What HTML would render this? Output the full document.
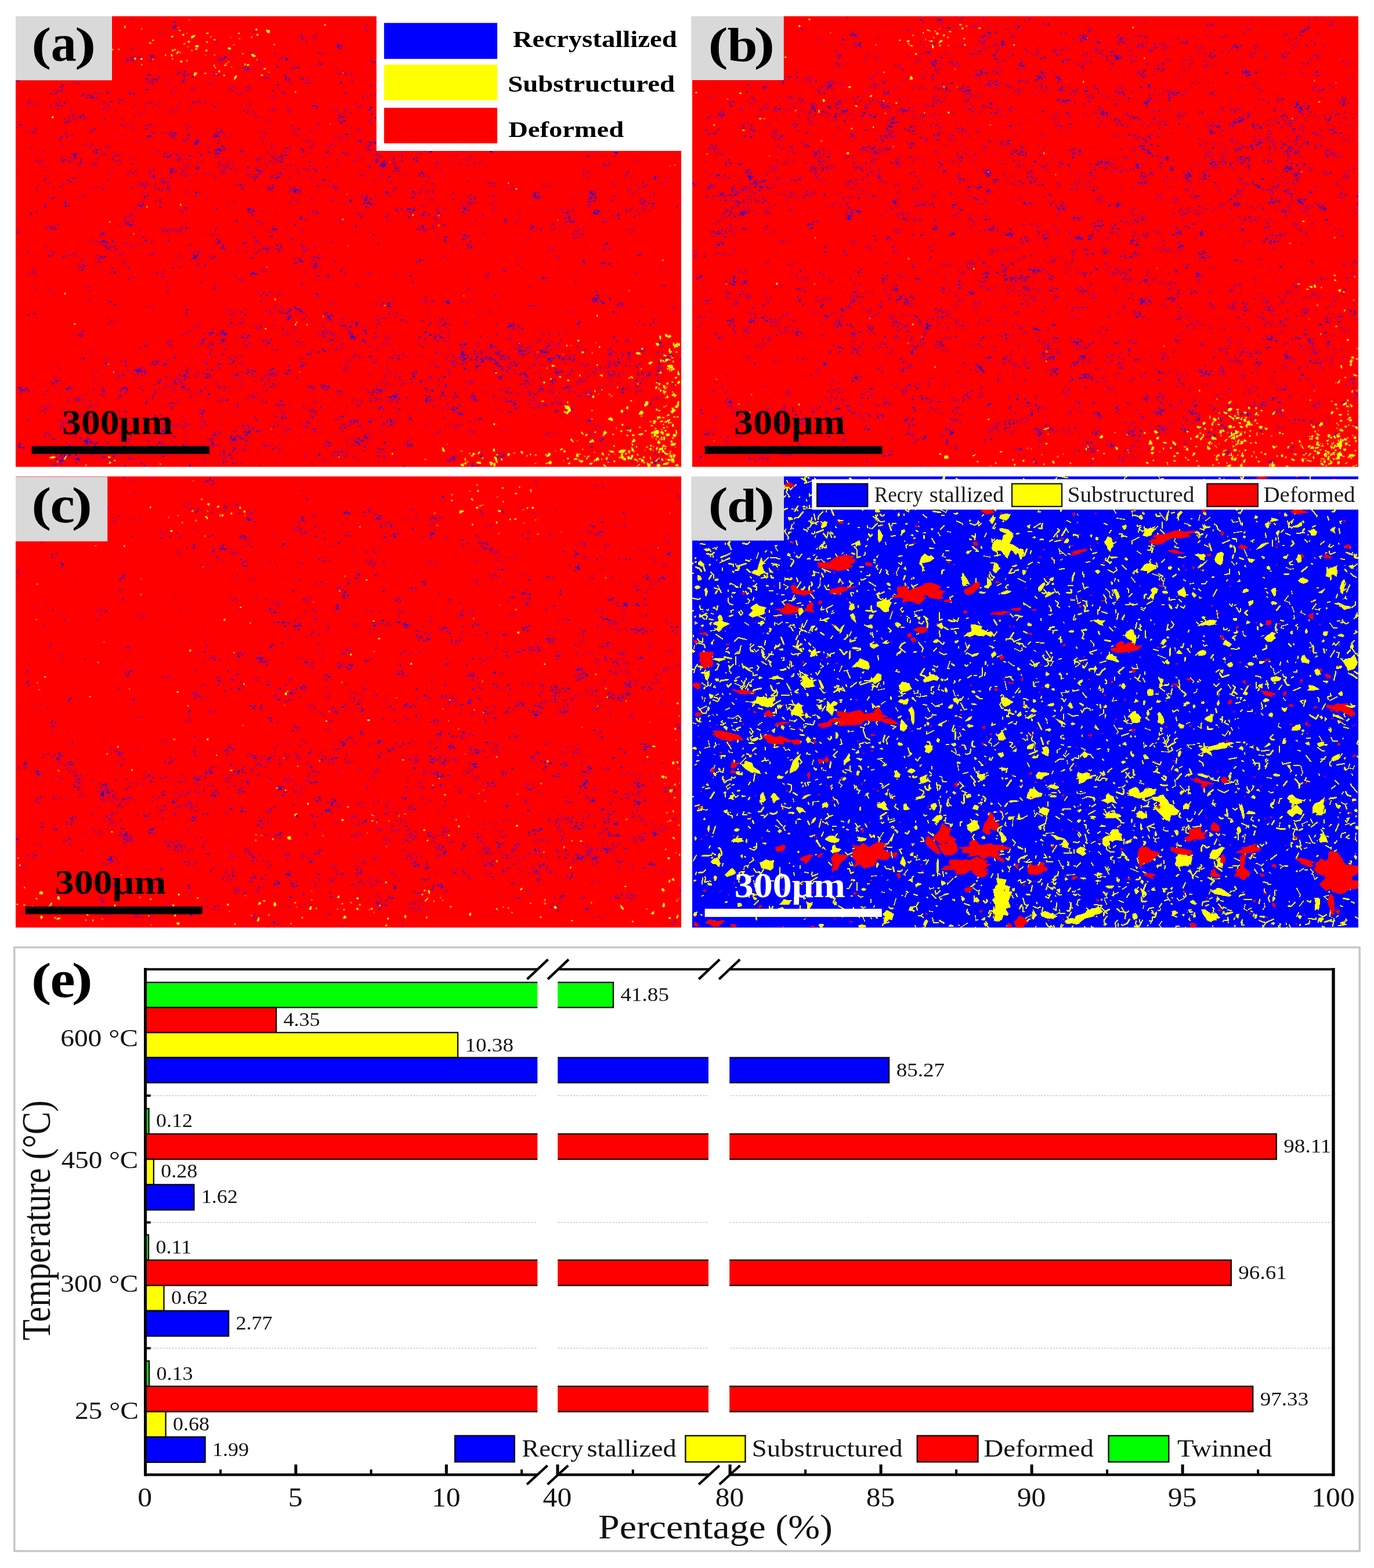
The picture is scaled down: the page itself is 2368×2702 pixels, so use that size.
<!DOCTYPE html>
<html lang="en"><head><meta charset="utf-8"><title>Figure</title>
<style>
html,body{margin:0;padding:0;background:#fff;}
html{width:2368px;height:2702px;}
body{width:2368px;height:2702px;position:relative;}
svg{display:block;font-family:"Liberation Serif","DejaVu Serif",serif;}
text{white-space:pre;}
</style></head><body>
<svg width="2368" height="2702" viewBox="0 0 2368 2702">
<rect width="2368" height="2702" fill="#fff"/>
<rect x="27.00" y="28.00" width="1147.00" height="776.50" fill="#ff0000"/>
<clipPath id="cpa"><rect x="27" y="28" width="1147" height="776.5"/></clipPath>
<g clip-path="url(#cpa)" fill="none" transform="translate(.3 .4)">
<path d="M478 34h4m175 3h2m-5 1h2m40-3h3m352 3h2m61 30h4m-114-11h2m-50-12h2m-14 29h2m-80-31h4m-4 1h4m-119 31h3m-26 2h2m-35-34h2m2 0h2m-16 1h2m-3 1h2m-4 30h2m-18 4h3m-41-32h2m-64 14h3m7 16h2m-35-20h2m-5 4h2m-21 4h2m21 2h2m10 1h2m-52-8h2m7 1h4m-222-18h2m-2 6h3m-155 29h2m-79 0h2m-4 1h3m1 38h2m25-1h3m55-27h4m-6 3h2m4 0h2m4 3h2m49 6h2m17 1h2m-7 6h4m23-11h2m6 9h2m109-8h4m0 2h3m8 2h4m-15 4h3m-12 12h2m62-26h2m-16 24h2m24-6h4m23 1h2m7-10h2m6 0h2m1 2h2m16 10h2m-11 1h4m42-22h2m3 2h3m-3 1h2m82 11h3m4-19h2m-3 23h2m56-12h2m-1 0h2m-4 3h2m10 14h3m206-23h2m-3 14h2m41 5h2m73-24h2m-7 5h2m4-11h2m-2 2h4m7 4h2m-9 6h2m92 19h2m-1 0h2m-7 2h3m1 0h4m0 11h2m-30 21h3m-114-12h2m3 5h2m-13 8h2m-1 0h2m-192-22h2m-54 27h3m-7 4h2m-74-27h2m-26-1h3m18 0h2m-6 3h4m-52-9h2m-16 10h4m-9 8h4m-15-14h3m-16 2h2m-56 13h2m0 8h2m-40-21h2m20 4h3m0 5h2m-64-7h2m-11 7h2m7 0h2m-86-11h3m-6 19h3m26 9h2m-70-26h2m26 14h2m-29 12h2m-9 4h2m8 0h2m-19-28h4m-24 3h2m18 6h2m-3 2h2m-17 16h2m-36-22h4m-15 3h2m-74-17h3m-1 1h2m-5 37h4m-62-15h3m3 0h3m-34-24h2m4 6h2m-13 27h3m9 0h2m-11 1h2m-5 1h3m-70-19h2m18 39h4m-4 0h2m3 1h2m12 5h3m36-20h2m-5 16h2m-5 4h3m40-18h4m-3 33h3m14-35h4m9 0h4m-10 9h2m11 7h2m-4 4h2m-2 1h2m-5 17h2m53-38h2m0 7h2m-12 3h2m-17 1h3m2 4h4m38-1h3m3 0h2m-16 9h4m49-24h3m-4 28h3m-3 4h4m39-19h4m-1 1h2m-2 2h3m7 0h3m-24 1h3m80-13h3m0 14h2m-8 3h4m8 8h3m44-29h2m1 8h4m-13 2h4m-3 1h4m18 17h2m2 1h3m2 3h2m45-5h2m49-27h2m-6 29h4m-3 2h3m-9 5h4m38-31h4m-32 28h2m45-32h2m3 1h4m-13 8h2m84 4h4m8 9h2m93-16h2m66 29h4m35-33h2m-12 4h4m41 2h2m15 18h4m-3 0h2m134 2h2m9 7h3m23 30h3m-76 9h2m-40-28h2m-167-6h2m-7 1h2m1 1h2m2 1h2m-16 7h3m-3 26h2m-6-35h4m-11 17h2m-4 3h2m8 10h3m-145-18h2m3 0h3m6 0h2m-65-14h2m-1 2h3m-6 1h3m-3 22h4m3 9h2m0 3h2m-31-20h2m-6 3h3m4 19h2m-56-19h2m-2 7h2m2 0h4m-49-27h3m14 6h2m-12 1h2m12 1h2m-5 3h2m-7 2h2m8 2h2m-4 1h4m-19 6h2m0 14h2m-34-26h2m-7 4h2m-3 4h2m-13 8h4m-31-4h2m-1 2h2m-68-24h3m-3 0h2m-1 2h4m6 0h2m2 6h2m-4 5h2m-9 13h3m-2 9h2m-79-7h3m-6 3h2m3 1h2m-2 0h3m-1 3h2m-79-5h2m-43-14h2m-2 3h2m-1 4h4m16 4h2m-19 1h2m0 8h2m-36-23h2m-7 2h2m-18 16h2m1 2h2m-81-31h2m18 27h4m-48-25h2m6 4h2m0 3h2m-10 19h3m-66-19h2m8 15h2m-1 0h2m0 3h4m-32-14h2m21 41h2m-2 5h2m-2 2h3m10 11h3m-12 3h4m56-28h2m-30 3h2m6 5h2m11 18h2m43-29h2m0 16h4m-29 1h2m62-23h4m-37 17h2m-5 1h2m7 0h2m22 5h2m-6 1h2m0 15h2m15-16h3m-10 6h2m7 2h3m9 5h2m87-36h2m4 1h4m-4 2h2m-16 18h2m-5 13h2m34-32h2m-1 2h3m-9 9h3m8 12h2m-20 2h2m2 3h2m2 6h2m39-12h4m6 10h2m52-6h2m-10 2h2m17-22h2m14 7h3m-9 5h2m4 9h4m-1 4h2m8 3h4m-40 1h2m74-20h3m-39 9h2m5 0h3m-10 5h2m-3 7h2m36-38h2m8 7h2m3 5h4m-5 4h2m-15 5h2m9 2h3m57-23h2m-18 1h4m3 2h2m-22 6h2m1 2h3m-2 1h2m-2 3h2m2 1h2m19 9h2m13-11h2m20 2h3m-18 1h4m-2 9h2m-1 2h2m3 5h4m52-27h2m-24 1h2m19 2h2m-19 1h2m-12 20h2m-9 5h4m27 2h2m-18 1h3m31-20h2m19 19h3m-25 2h4m37-21h3m58-11h2m3 1h2m-3 4h2m-31 18h2m2 7h4m76-18h2m44-11h2m2 7h4m139 20h2m53-26h2m-2 29h4m16-34h2m4 6h2m4 0h2m-8 3h2m16 47h4m-15 6h4m-10 1h2m0 0h2m-8 1h2m19 8h2m-8 3h3m-45-39h2m11 9h4m-27 21h4m-44-28h3m-31 16h3m-89 19h4m-90-3h4m3 2h2m-41-6h2m-22-30h4m-9 1h3m-14 4h2m-19 14h4m-16-16h4m-30 16h4m23 0h2m-6 3h2m-12 3h3m-56-23h2m-3 1h2m-1 36h2m-11-38h4m-25 2h2m-13 6h4m28 5h3m0 1h2m-3 1h2m-11 12h2m-32-28h2m-10 7h4m-2 0h2m-52-4h2m-4 25h2m-57-17h4m3 2h4m-13 13h2m29 6h2m-61-28h2m5 1h3m3 5h2m-26 10h2m-16-15h2m-20 7h2m-3 3h2m-6 3h3m-6 2h4m24 2h3m-28 3h2m14 0h3m-26-16h4m-4 6h2m-13 10h2m-19 13h2m-24-32h3m-2 0h4m-5 1h2m4 5h4m-20 2h4m-5 3h2m0 0h2m-19 2h3m2 4h2m-50-16h2m13 14h2m-12 2h3m-37-14h2m23 7h3m-7 1h2m-20 6h2m-13 4h2m4 6h3m-6 1h3m-5 2h2m-32-20h2m0 1h3m-3 1h2m-18 17h4m1 1h2m-1 1h2m27 1h2m-77-37h2m1 3h3m18 7h2m0 5h2m-14 12h2m6 1h2m11 4h4m-31 2h2m-43-35h2m-4 5h2m-25 0h2m-18 21h2m5 1h2m-10 8h2m16 0h4m-67-28h2m1 7h2m-2 8h2m33 11h3m-53-32h2m4 12h2m-3 9h2m-1 7h2m-7 4h2m3 0h2m-13 9h2m12 35h4m3-19h2m-3 1h2m27 8h4m-10 4h2m4 1h4m-15 4h2m56-35h2m14-1h4m-6 2h2m-10 5h2m50-4h2m2 2h2m42-3h2m-18 10h2m4 0h3m-10 6h3m-5 9h4m37-27h4m0 0h2m-4 7h2m47 2h3m58 17h4m-14 1h3m-23 3h3m-3 7h2m87-37h2m3 1h4m-2 2h2m-7 3h2m2 1h2m50-7h2m-3 4h2m-10 1h2m8 1h4m-11 2h4m-17 2h4m13 0h2m1 0h4m-16 12h2m2 5h2m70-26h2m12 31h2m33-15h4m-19 1h3m13 0h2m4 5h2m-38 3h4m26 3h2m-5 3h2m46-22h2m-26 7h2m-9 16h3m-7 5h4m69-25h2m-18 8h2m32-13h2m4 0h2m-20 23h3m28 6h2m-3 1h3m-2 1h3m32-5h2m0 3h2m9 0h2m-38 2h2m30 0h4m8-18h4m-3 5h2m-5 1h2m11 1h2m-7 1h3m-4 3h2m-6 1h2m-5 1h4m41-34h2m27 7h4m-40 25h4m35-29h2m1 1h4m7 3h2m11 5h2m6 5h2m0 3h2m5-9h2m-2 1h4m-3 4h3m7 22h2m1 1h2m35-33h2m-3 6h2m0 12h4m4 7h2m25-16h2m10 8h2m-13 5h2m-5 9h2m5 2h3m87-36h4m-6 32h2m-2 3h2m19-16h2m0 8h2m-8 6h4m-5 2h2m2 1h3m-33 3h2m-20 3h4m-16 5h4m-16 2h4m-3 2h2m-11 6h2m22 13h4m-38-27h2m-14 3h4m2 1h2m-29 24h3m-3 5h3m-20-39h2m-19 6h2m24 3h2m-3 1h2m-21 3h2m0 1h2m-8 1h3m3 5h4m-4 2h2m-7 1h4m-1 4h2m13 1h3m-30 1h4m21 9h2m1 1h2m-38-39h2m0 4h3m-8 25h2m-8 2h2m-40-1h2m3 0h2m-2 1h4m-116-29h2m3 4h2m-1 6h2m25 6h2m-53-8h2m-34-9h2m-29 10h4m5 2h3m13 1h2m5 11h2m-7 5h2m-26 4h3m10 0h2m1 0h2m-16 5h2m0 0h2m0 0h3m-38-36h2m-3 3h4m-5 8h2m20 19h4m-63-24h2m13 2h2m-67-11h2m11 8h4m-41 13h2m-1 1h2m-4 1h2m-48-21h2m-20 12h3m-8 3h2m-64-14h2m17 6h4m-12 5h2m9 15h2m-6 2h2m-4 1h3m-13 1h2m9 1h4m0 1h2m-6 3h3m-39-37h2m-7 1h2m5 33h2m-38 4h2m-83-14h2m-9 5h4m-7 5h4m-17 1h2m10 0h4m-41-6h2m5 3h3m-67-19h2m-3 10h4m-7 3h2m27 10h4m-69-33h2m-89 27h2m3 4h4m-4 3h2m-24-26h2m-11 6h2m-5 2h2m16 11h2m-29 18h3m37 22h2m65-19h2m-11 23h3m25-32h4m9 8h2m-27 5h2m8 2h2m11 6h3m-5 5h2m-6 2h2m38-20h2m1 9h2m-7 1h2m9 2h4m-31 1h3m24 6h2m0 4h4m16-28h2m-9 3h3m21 8h2m-5 16h2m-2 2h3m24-33h2m20 1h3m-26 33h2m56-35h2m1 1h4m-29 17h2m-4 9h2m11 5h3m-3 0h2m1 4h2m-3 2h2m40-24h2m-8 1h4m-9 2h2m2 0h2m-1 0h2m-6 1h2m8 1h2m-14 1h3m8 0h2m3 9h2m-11 1h2m7 4h2m1 0h2m41-34h2m-1 29h2m-8 1h2m39-5h2m-21 2h3m4 2h2m-14 3h2m2 6h4m30-20h2m1 4h2m31 4h2m-36 2h4m34-29h2m-3 15h2m-3 5h2m9 8h4m-13 7h2m8 4h2m109-35h4m-3 15h2m83-17h4m30 7h2m0 3h2m14 12h3m54-19h4m-42 3h4m-3 1h2m-2 1h2m6 12h2m-6 1h2m46-13h3m-13 3h4m63-7h3m-21 1h2m20 1h2m-26 4h2m14 0h4m-13 2h3m44 14h3m-9 9h3m51-36h3m-7 3h4m-21 1h2m9 0h2m10 0h2m-19 4h2m7 18h4m48-6h2m-9 4h2m-25 1h2m-6 2h2m33 6h2m92 31h2m-42 4h2m-2 0h4m-2 7h2m-57-22h2m9 0h2m-17-1h2m-99 2h2m-46-12h4m-31 18h2m-31 15h4m-49-12h2m-69-5h2m-14-10h3m0 1h2m-5 2h3m-1 23h2m-148 1h2m-24-36h4m-16 3h2m6 1h2m-2 1h4m-3 0h2m7 0h2m-22 8h2m8 5h4m-4 5h3m-8 8h3m-31-26h2m-16 2h3m-45 7h4m10 6h2m-19 6h2m1 2h3m-97-28h4m32 9h2m-10 20h4m-50-25h2m2 6h2m-10 5h2m9 3h4m-46-15h2m-6 1h2m-20 22h2m-17-3h2m-65-23h2m-4 5h3m-1 4h3m3 5h3m1 4h4m-52-16h3m-13 3h4m4 2h4m-9 1h2m0 3h4m-1 12h4m-9 1h2m-28-16h2m-4 6h3m2 7h3m-9 2h4m-80 9h3m-3 27h2m40 10h2m250-26h2m-11 2h4m19 1h2m2 5h3m-10 4h2m-1 3h2m52-14h2m14 28h2m18-8h3m13 2h2m-14 2h3m2 2h2m53-22h3m-5 1h2m17-4h4m-9 5h2m29-6h2m29 33h4m138 2h2m69-26h2m-7 5h2m1 1h4m0 13h2m3 5h4m38-9h4m-7 8h3m170-7h3m2 1h2m-21 1h4m14 2h3m-14 3h2m40 0h2m98-24h2m7 37h2m0 4h2m-48 17h2m-37-26h2m-23-2h2m-7 6h2m-33-2h2m-53 4h2m6 1h3m-18 4h4m-65-9h3m-2 5h2m-77 0h2m-1 6h3m-1 2h4m-16-1h2m-72 10h3m-7 1h4m-62 4h4m-37-32h3m0 1h2m-2 6h4m3 12h4m-75 13h4m-37-30h2m-11 22h4m-1 0h2m2 7h2m16 1h2m-6 1h2m-4 3h2m-4 1h2m-61-18h3m3 5h4m18 13h4m-56-27h3m17 4h2m-34 3h2m25 1h2m-17 7h3m2 1h2m2 11h2m-54-27h2m16 0h3m-17 2h2m13 1h2m-5 4h4m-27 12h2m1 3h3m-32-20h3m-4 1h2m3 1h2m-21 2h4m5 11h4m-4 1h2m-3 6h2m-24-22h2m-13 8h2m14 0h3m-1 16h2m-53-29h2m-21 10h2m-10 4h3m-2 1h2m-6-13h2m-62-2h4m1 2h2m-80-9h2m2 0h3m-9 28h4m2 6h2m-157-23h2m102 39h4m-7 5h2m4 2h2m-9 2h4m119 0h2m-9 6h3m-11 11h2m71-21h3m11-8h2m-2 2h2m15 17h3m-9 5h2m12 2h2m-23 2h3m61-35h3m-1 0h3m-38 7h2m0 6h2m23 0h2m-13 9h2m-16 11h4m35-34h4m2 13h2m21 0h2m-23 9h2m3 10h2m-1 2h3m-1 1h2m42-30h4m-2 31h4m24-30h2m12 0h3m-9 2h4m-4 3h2m-16 1h2m0 6h2m8 1h2m10 17h2m0 0h2m28-30h2m-1 10h2m47-10h4m-39 2h2m-1 1h2m14 2h2m-8 5h2m3 0h2m-4 6h3m-4 2h2m6 2h2m-5 2h2m-9 6h2m57-32h3m-32 7h4m24 0h2m-24 12h4m21 12h2m14-12h3m-8 3h3m20 0h2m-23 1h2m-7 1h2m23 5h3m48-3h3m-2 3h2m-11 3h4m38-18h3m19-1h2m-12 8h4m27 5h2m-22 11h2m101-38h2m-4 3h2m-19 7h3m7 16h2m-8 5h2m21-30h4m-6 3h2m15 10h2m12 6h3m-26 14h2m0 3h2m3 0h4m30-26h2m12 5h2m-16 1h2m10 4h3m-6 8h2m2 3h2m0 3h2m51-36h2m-5 3h4m-27 14h2m-15 14h4m94-7h2m21 1h2m60 12h2m15 14h2m4 4h2m1 24h4m-40-32h4m17 5h2m-8 4h4m6 2h2m-29 5h2m5 7h2m-5 2h2m0 3h2m-25-34h2m-30 2h2m17 0h2m-20 4h3m17 0h2m1 1h2m-25 1h2m0 6h2m-8 1h4m12 11h2m-8 1h3m-12 2h2m-40-30h2m4 2h2m2 6h2m-2 12h2m5 3h3m-20 2h3m4 0h3m1 0h2m9 3h2m-15 3h4m-11 1h2m23 0h2m-29 2h2m24 3h2m-29 2h2m-46-34h2m4 18h2m-5 3h2m15 3h2m-43-26h2m-4 2h3m-16 1h2m7 0h2m3 4h2m-21 1h2m17 0h4m15 3h2m-19 1h3m1 0h2m-15 2h2m7 1h3m2 0h2m-24 8h2m-18-25h2m-8 6h4m-2 2h2m11 3h2m-14 6h2m-4 2h2m2 2h2m-4 4h3m0 5h4m-23 6h2m-36-35h2m-6 2h2m-5 6h2m15 1h4m-9 1h4m-16 11h2m-5 1h3m3 1h2m-7 2h4m-9 2h2m4 2h2m12 2h4m-60-32h4m14 2h2m-10 2h2m-5 1h3m1 4h3m14 5h4m-33 1h4m13 2h2m-23 1h2m-1 4h2m34 6h4m-18 6h4m-29-34h4m-14 2h4m-1 3h2m-23 2h2m11 0h2m2 1h2m0 0h4m6 13h3m-12 1h4m-17 7h2m-1 3h2m-56-19h4m13 7h4m11 3h2m-10 9h2m-62-25h2m-9 3h4m-5 2h2m24 11h3m-65-20h2m-5 33h2m-5-26h4m-40 4h2m32 1h2m-6 1h4m-75-15h2m10 7h2m0 1h2m-5 1h2m1 3h4m4 1h3m-15 1h2m-5 4h2m-22-19h2m-10 1h3m1 2h3m9 13h2m-5 18h3m-60-28h2m-2 1h2m-21 5h2m0 4h4m-7 14h2m-45-27h2m-2 8h4m-6 8h4m-68-3h2m0 9h2m-5 6h3m27 7h2m-57-36h2m-6 34h4m-53-22h2m7 1h4m10 9h2m4 11h2m-39 3h4m-23-28h2m7 17h4m2 4h4m-1 6h4m-46-17h2m-17 2h2m8 6h2m-2 1h2m-34 5h2m-26-13h3m11 11h2m0 3h3m-73-35h2m18 17h2m-7 2h2m-41-5h2m-1 2h3m-103 48h2m-5 6h2m-4 2h3m-2 2h4m64-24h4m-19 4h2m-5 3h4m1 0h2m11 1h2m-14 1h4m13 1h4m1 10h2m-34 2h3m41-7h2m0 7h2m48-17h4m-14 7h2m0 5h2m68-26h2m-36 5h2m-3 4h3m39-10h2m-2 0h2m-4 6h2m24 8h2m-1 4h4m-31 9h2m61-24h2m8 12h2m-23 3h2m9 0h2m3 2h2m-12 1h3m-19 1h2m28 1h2m-25 1h2m27-23h2m29 0h3m-20 5h2m15 4h2m-26 22h2m50-13h2m3 5h2m5 2h2m21-24h2m7 0h2m12 0h2m-41 4h2m1 2h2m5 9h2m-5 3h2m67-21h3m-23 6h2m9 0h2m-20 2h2m12 1h2m-13 2h2m2 3h2m14 0h4m-21 5h3m-1 16h3m44-35h3m-13 21h4m-9 4h2m64 3h2m-19 9h4m44-3h4m48-31h4m-9 1h2m0 3h2m2 3h4m-20 2h2m35 8h2m-7 1h4m3 1h2m0 3h4m-26 7h3m47-30h2m24 4h2m-10 3h3m-28 5h4m16 7h2m-18 3h2m-6 8h4m60-8h2m4 1h2m-3 1h3m-21 4h2m-1 2h2m-5 1h4m39-30h2m-2 1h2m-7 1h4m-16 3h4m-2 22h2m-3 2h2m38-16h4m9 1h2m-16 2h2m5 2h2m7 15h2m17 0h2m2 1h3m-9 1h2m33-30h2m-4 22h3m1 2h4m-1 3h2m-5 1h3m2 1h2m23-34h3m-8 3h3m11 3h3m-11 3h3m7 3h2m-7 1h2m-23 2h2m16 1h2m9 5h4m-17 10h4m-1 2h2m4 0h2m41-34h2m-25 8h2m0 0h2m-12 1h2m2 13h4m-3 1h2m17 0h3m-19 1h4m-4 4h3m-10 2h2m7 0h2m16 0h2m-17 2h3m38-33h2m-16 4h3m0 5h2m6 1h2m2 13h2m-3 4h2m-10 11h3m52-39h2m-20 4h3m2 0h2m0 1h2m-13 1h2m6 5h2m-10 4h2m30 10h2m-30 4h2m11 0h2m-14 6h2m-7 1h3m5 0h2m-3 1h4m46-37h3m-3 1h2m-11 1h2m7 2h3m-15 18h2m13 0h3m-17 4h2m18 5h4m-9 2h2m1 0h2m-5 2h4m42-31h2m6 0h3m-37 7h2m10 13h3m-3 4h2m-16 2h2m14 1h2m9 2h4m20-28h2m1 6h2m-3 2h2m24 11h3m7-21h4m-25 40h2m-25 2h2m2 0h2m-8 2h2m-2 2h4m-5 9h2m-18-2h2m-107-10h2m-26-6h4m13 0h2m-3 3h2m-1 19h2m-15 7h4m-18 9h4m-13-34h2m-39 12h2m9 0h2m-8 2h4m-2 1h3m-4 1h4m-3 4h2m25 7h3m-33 6h2m-16-37h4m4 0h4m-30 1h2m15 7h4m-3 0h2m-20 1h2m20 11h3m-25 2h3m-49-18h4m-3 0h2m16 2h4m1 5h4m-23 2h4m-44-12h2m2 0h2m-1 4h3m-1 3h3m-39-4h2m-10 20h3m-2 0h2m16 6h4m-66-15h3m-3 6h3m-49-18h2m10 6h2m13 6h2m-9 1h3m1 7h2m-71-22h2m21 2h2m8 3h2m-22 2h2m21 2h3m-16 4h2m-44-8h3m-20 5h4m6 2h4m-46 0h3m19 10h2m-3 3h3m-17 1h3m10 5h2m-19 3h2m-37-29h3m-16 15h2m3 0h2m-11 1h2m-4 3h2m18 6h3m-5 2h4m-3 1h4m-1 1h2m-12 1h2m-38-16h2m-17 5h2m-3 6h2m-1 0h3m2 4h2m-3 3h4m-46-32h2m-6 2h2m7 7h2m24 4h2m0 8h4m-9 6h3m-6 1h4m-42-33h4m-2 3h3m-25 18h2m-35-19h2m-2 28h2m-53-31h2m26 5h2m-11 29h2m-47-26h2m-13 9h2m6 3h2m10 19h2m-61-35h4m17 35h2m-75-33h3m0 0h4m13 7h2m-7 22h2m-13 1h2m-73-31h2m-7 1h2m7 1h2m-12 2h3m2 2h4m-1 2h2m-1 1h2m14 1h2m-8 6h2m9 0h2m-24 12h2m5 0h3m-2 1h2m-26-32h4m-20 14h2m-15 3h3m21 13h2m-45-15h2m-7 11h3m4 1h2m0 1h4m-1 1h2m-4 1h2m-12 3h2m9 43h2m37-34h4m-13 5h4m-1 2h2m-1 14h4m-10 4h2m15-14h3m3 18h4m20 3h2m-11 2h4m-23 1h2m22 0h2m22-39h2m-11 35h2m2 1h2m31-35h2m29 26h2m33-27h2m2 16h2m0 7h2m-3 4h2m-20 10h2m63-36h3m-15 7h3m-17 3h2m9 0h4m3 0h3m-22 2h2m24 0h3m-33 1h2m27 8h2m-36 7h4m9 10h4m52-29h2m-29 3h2m-5 11h2m48 4h2m1 1h2m10 5h2m7 1h2m27-12h2m-23 1h2m17 1h4m3 5h2m-3 4h3m-30 4h2m-1 0h3m3 0h2m12 0h4m38-25h2m-16 17h4m22 0h3m-9 7h2m31-36h2m-1 5h2m11 2h4m-22 2h2m12 0h4m-23 11h3m-8 2h2m28 11h2m11-10h2m13 6h2m26-28h2m21 11h3m-13 21h4m2 2h2m7-22h2m-5 1h2m36 15h2m-13 2h2m-25 2h3m31 2h2m29-35h3m2 1h4m-6 4h2m2 2h3m-16 2h2m11 2h4m-11 2h2m-19 8h2m46 17h2m50-13h2m21-16h2m-1 1h4m-15 1h2m6 1h2m21 1h2m-7 1h2m0 16h2m24-27h4m1 3h2m-9 15h2m-10 2h2m8 4h4m36-7h2m-9 4h2m87 3h2m23 0h2m69 8h2m-6 3h2m44-37h2m-1-2h2m8 16h2m35 48h3m0 6h2m6 4h2m-54-1h2m-3 3h4m10 2h3m-92-28h2m14 5h3m-169 8h2m-84 4h4m-3 4h2m-1 1h2m-81-31h2m-2 6h2m7 0h2m-2 1h2m-28 13h2m-25-16h3m-8 2h2m-8 16h2m10 6h4m-54-29h2m1 1h2m9 2h2m-68 7h2m4 0h2m31 0h3m-16 1h3m3 5h3m-17 5h2m0 0h3m11 4h3m-40 5h4m-26 9h4m-71-36h4m-7 3h2m12 0h2m-76 7h2m8 3h2m-10 5h4m-7 17h3m-8-38h2m-5 1h2m-22 7h3m8 18h3m-5 6h2m-44-24h3m-1 26h2m-20 4h2m2 1h2m-50-34h2m16 0h4m-13 9h4m-36-5h3m-11 3h2m-12 20h2m-28-29h2m-3 3h2m8 9h4m1 12h2m-1 3h2m-70-29h2m11 21h4m17 10h3m-10 2h2m5 2h2m-52-30h2m-19 7h3m-5 2h2m-6 1h2m10 5h2m-1 0h3m9 1h2m5 2h2m-34 5h2m1 1h2m-16-27h2m-2 2h3m-4 4h3m-26 7h2m8 1h3m-9 1h4m-3 2h2m0 0h3m11 1h3m-7 3h2m-8 5h2m-8 8h2m-20-13h3m-48-20h4m61 37h3m115-1h2m108 1h2m0 0h2m487 0h2m4 0h2m-5 1h2m1 1h4" stroke="#6000a0" stroke-opacity=".3" stroke-width="2.4"/>
<path d="M224 32h4m115 6h2m312-7h2m-3 5h2m41-3h4m-3 0h2m-6 1h4m-4 0h2m9 1h4m-9 2h2m-1 0h2m413 25h4m-7 6h2m-65-21h2m7 14h2m-5 2h4m-50-13h2m-6 3h2m2 2h2m-9 2h2m4 1h2m-6 1h4m0 0h2m18 3h2m-5 1h3m-32-4h2m-50-17h2m-5 3h2m2 0h2m-13 2h2m6 0h4m2 3h2m-13 17h4m8 6h2m-11 1h4m-2 0h4m-6 1h4m3 2h2m-33 2h2m-124-19h2m-3 4h2m-36-21h2m-8 2h2m0 0h4m-4 24h2m-2 4h2m-5-32h2m-2 3h2m-10 8h4m3 1h2m-1 17h2m-39 5h2m26 3h3m-26 1h3m-43-39h2m3 3h2m1 3h4m-67-3h2m-6 2h2m-1 3h2m-4 2h2m0 0h2m0 3h2m-42 13h2m-5 13h2m-44-20h2m-9 3h2m-1 0h4m-5 1h2m3 0h2m-26 1h2m17 0h2m-1 1h2m-19 2h2m17 0h2m-25-6h3m-86-12h2m1 4h2m-5 2h2m1 1h2m-70 15h3m-4 1h2m-69-27h2m-7 3h2m-1 0h2m-17 10h2m-12-3h3m-3 4h3m-3 1h2m-54 19h2m-75-2h2m0 0h2m-81-3h2m-16 3h2m10 5h2m-16 30h4m59-2h2m32-24h3m-2 7h2m6-2h2m-2 1h2m-1 1h2m14 26h2m1 0h4m49-37h3m-12 2h4m-1 13h4m-18 3h2m-7 4h2m14 0h4m-10 2h2m35-10h3m3 1h4m130-4h2m-14 7h3m-3 2h2m52-16h3m-16 3h3m2 1h2m-2 0h3m-2 0h2m1 5h3m-12 20h2m-6 3h2m29-14h2m41-2h2m9 14h3m-10 1h3m45-27h4m0 1h2m-4 1h2m2 18h2m-11 1h2m-11 3h2m47-30h2m-26 8h2m16 25h3m56-13h2m5-22h2m72 30h2m-9 1h4m89 5h4m107-35h2m-1 15h3m-9 9h2m12-25h2m41 29h2m-5 1h3m-2 2h3m-3 1h3m4 1h2m66-22h3m31 5h4m-14 6h2m15 3h2m54 2h3m5 11h4m-10 5h2m-6 2h2m-124 6h4m-10 2h3m8 2h2m-12 2h2m0 2h2m-10 4h2m-2 3h2m-38-28h2m7 10h3m2 2h2m2 12h2m-2 4h2m-182-29h3m-28 3h4m-8 9h2m-32 23h2m2 1h2m-6 1h2m-98-32h3m3 0h4m-9 3h2m22 0h3m-33 19h2m7 5h2m-1 4h3m-4 2h4m-54-33h2m26 1h3m-32 3h4m-2 7h2m-3 4h4m30 6h3m-66-25h2m12 1h2m-12 2h2m12 0h3m-13 3h4m6 1h4m1 2h2m-58-5h2m-23 8h2m4 3h4m1 3h2m-6 3h2m-1 0h2m-7 1h4m6 0h4m-9 1h2m-33-23h2m-5 12h3m-1 8h4m0 3h3m-11 9h2m-11 4h2m0 1h2m-48-29h2m12 6h2m7 0h2m-19 2h3m28 14h4m-15 3h2m-43-34h2m-2 3h2m-7 1h2m-21 24h4m16 2h2m1 0h2m-18 2h3m22 1h2m-11 1h3m-2 0h2m-27 1h3m22 0h4m1 0h2m-13 3h2m-49-31h2m3 1h2m-12 1h4m3 0h3m-10 1h3m28 19h2m-19 3h2m10 1h3m0 1h2m-3 1h2m2 2h2m-71-5h2m6 0h2m-12 1h2m0 0h2m-3 1h3m2 2h2m-19-31h2m-2 2h2m-4 1h3m-1 4h3m-26 1h3m20 3h2m-10 4h2m-24 2h4m27 1h2m-19 7h3m-9 5h2m-41-26h2m15 4h4m-31 2h2m21 1h2m-17 1h2m4 1h4m-9 3h2m5 0h4m-15 1h2m16 0h2m-10 1h4m-4 2h4m-43 14h2m0 0h3m-36-38h3m-13 2h2m-6 1h2m7 2h2m2 1h2m0 29h2m-67-33h2m9 3h4m-15 14h2m4 3h4m0 2h2m-41-18h3m-3 2h3m7 23h2m-12 3h2m-1 1h3m10 0h2m-77 19h2m11-2h3m-4 3h2m1 0h3m-8 2h2m14 0h3m-17 1h2m9 0h3m-17 6h2m50-16h2m0 3h2m-1 4h4m-5 4h2m15 17h2m24-37h3m-5 1h2m0 1h2m-4 1h2m8 0h3m-6 1h2m-11 1h3m-3 1h2m18 0h2m-8 1h3m-1 1h2m1 0h2m-38 17h4m-4 7h2m3 5h2m-5 1h3m39-37h4m6 13h2m1 2h2m-10 2h2m4 0h2m6 2h2m0 1h2m-6 5h2m13 3h2m-2 2h2m12-18h2m16 7h4m-7 4h3m9 14h2m31-23h2m-16 1h4m1 1h2m-15 1h3m4 0h3m7 2h3m3 3h4m-15 3h2m-17 6h4m-11 1h2m1 2h2m63-19h4m-5 6h2m-14 6h2m-4 1h3m8 0h3m-21 4h2m3 1h4m28-26h3m15 7h2m-7 1h3m-5 1h2m16 0h4m-13 1h2m-15 3h2m-7 5h4m36-6h2m-1 2h2m39-21h4m3 0h3m-5 4h2m16 9h2m-3 5h4m-6 3h3m-7 3h2m12 12h4m19-32h2m8 2h2m2 14h2m-9 5h2m2 1h2m-1 2h4m-8 1h3m-7 1h3m1 0h2m17-31h4m-1 2h2m2 19h2m-1 6h2m2 0h2m-2 4h2m-8 1h2m2 1h4m44-5h2m45 0h2m1 0h3m-2 1h2m-26 1h4m16 2h3m-3 2h2m36-33h2m6 2h2m-28 14h4m5 4h3m-1 1h2m-10 2h4m1 0h2m-19 10h4m32 1h3m-11 4h2m8-37h2m3 0h2m-1 1h2m-3 1h2m12 0h2m-13 4h2m-2 2h4m33 22h2m2 1h3m-6 4h2m45-23h4m5 10h2m68-14h3m30 22h4m45 7h2m67-31h2m-2 3h2m-4 2h2m-3 3h2m28 17h2m154-25h2m-11 28h2m6 0h2m-86 8h2m3 5h4m-38 24h3m-77-6h4m-68-23h2m3 2h2m0 0h3m-47 1h2m17 2h2m-29 12h3m12 1h2m-51 5h2m-1 10h3m-59-24h2m3 0h2m-8 5h2m1 0h4m-12-10h4m-2 12h4m-73-17h2m-4 1h2m-3 2h2m-5 22h2m4 2h3m-3 7h2m0 0h2m-6 1h2m-46-6h2m4 1h2m28 3h2m-42-23h2m-37 8h3m-3 0h3m12 2h3m-7 1h4m-10 11h2m-15-35h2m-6 1h3m-13 5h2m8 1h2m-12 1h2m2 0h2m1 0h2m0 0h2m4 24h4m-26 2h4m5 0h4m-12 1h2m21 0h2m-13 4h2m-44-26h4m-1 0h2m-17 12h2m5 4h2m-15 2h2m-7 8h3m-26-14h2m2 2h3m3 4h2m1 2h2m-1 0h2m-2 1h3m-74-31h2m18 5h2m-5 3h2m10 2h2m-7 8h2m-18 5h3m3 2h3m-3 2h2m-1 2h2m-4 3h2m-8 3h4m-5 1h2m-12-37h2m-67 20h2m-2 4h2m3 0h2m0 1h2m0 0h2m-7 1h4m1 0h2m-8 2h2m-10 1h4m-3 0h4m11 1h3m-16 1h2m24 0h2m-32 2h4m0 0h2m3 0h2m-3 1h4m9 1h2m1 0h3m-74-18h2m4 0h2m-1 0h2m-1 0h2m-7 2h2m-4 1h2m-1 4h2m-9-12h2m2 0h3m-29 12h2m-9 2h2m12 0h2m-5 1h2m3 0h3m-15 2h3m-1 1h2m3 0h3m14 0h2m-26 1h3m3 2h2m-2 2h2m-5 1h2m6 1h2m-51-24h3m1 0h2m11 4h3m6 10h2m-51-28h4m-11 12h2m-18 1h2m10 2h2m5 0h2m-13 2h2m8 2h2m3 3h4m-24 10h3m-19-27h2m-72-6h4m5 0h4m9 2h2m-20 1h2m15 1h3m-22 1h2m23 0h2m-21 1h2m-5 2h2m-72-5h2m-2 5h2m-2 4h2m1 8h2m-13 3h2m7 0h3m-2 0h4m-19 3h2m8 3h2m2 0h2m-2 1h2m-29-16h2m-4 55h3m19-14h2m-2 2h2m20 17h2m-25 1h2m14 0h2m-7 2h4m-3 0h2m5 0h2m-1 0h2m2 1h2m25-36h2m1 8h2m1 3h2m5 16h2m2 1h2m-16 5h4m-1 3h2m13-35h2m24 5h2m4 0h4m-17 1h3m14 0h2m-11 1h2m4 2h2m-30 15h2m1 2h2m-2 1h2m-10 1h2m3 0h3m-3 2h3m-4 1h4m-9 2h2m-3 1h2m59-25h4m0 2h4m-19 2h3m-2 2h2m18 5h2m-12 1h2m15 2h2m-6 3h4m0 8h4m33-34h4m-18 30h3m2 2h2m-27 1h2m0 0h3m-1 1h2m-1 2h2m42-23h2m10 0h2m5 3h4m-3 1h3m14 3h2m9 1h3m9 0h2m2 2h4m-32 1h2m14 0h4m-14 1h2m13 2h2m-1 3h4m-8 1h4m3 0h2m-7 3h2m4 0h2m9-35h2m15 1h2m-6 3h3m-1 4h2m16 1h2m-2 2h2m0 2h3m-26 14h2m-16 6h2m22 2h4m28-36h2m-5 2h2m10 11h2m-4 5h2m-26 4h3m6 1h2m4 0h4m-5 7h2m6 0h2m7 5h2m-3 3h4m18-18h3m4 6h4m-3 0h2m13 7h2m-38 5h2m50-36h2m12 9h4m4 0h2m-10 2h2m3 9h2m2 4h2m-10 2h3m-2 1h2m9 0h2m-33 1h2m19 0h2m1 0h2m-18 1h2m15 0h2m1 0h2m-34 1h2m-1 0h2m-6 1h2m0 0h4m2 0h3m21 1h4m-35 3h4m29 0h2m-2 1h2m20-27h2m-15 6h2m4 2h2m27 11h4m-38 1h2m0 1h2m-8 1h2m2 1h2m-6 1h2m3 0h2m40-34h3m-1 0h3m-6 1h2m7 2h2m2 0h3m-5 5h2m0 0h2m-10 3h4m-15 9h2m10 1h2m-12 5h2m31 3h3m-2 0h2m28-29h2m9 1h2m-32 5h4m-3 2h3m3 0h2m-13 2h2m22 10h3m2 0h2m-4 1h2m6 1h3m-34 1h2m22 0h2m3 1h4m31-15h4m-4 2h2m1 0h2m-25 9h3m5 9h2m-8 1h2m-9 5h2m3 0h4m28-34h2m11 2h2m-3 1h2m4 1h2m3 0h2m-5 1h2m3 1h2m-12 1h2m-21 7h4m-3 8h3m8 1h2m22 5h4m-29 2h2m-5 4h4m14 0h2m30-36h2m-11 1h3m-10 8h2m3 4h2m30 0h2m-33 4h2m24 0h2m-26 1h2m-1 18h4m30-29h2m31 2h2m-25 5h2m-15 7h2m0 3h4m64-23h2m-3 2h2m-1 4h2m1 3h2m0 9h4m-2 0h2m-30 7h2m12 0h4m-11 2h2m-2 3h2m18 3h2m4-31h2m-6 2h2m1 2h2m-2 10h4m2 11h3m-3 2h3m-7 1h2m-2 3h2m-3 1h2m-1 0h2m21 0h2m-2 1h2m-15 2h3m66-38h2m12 5h2m7 0h2m-9 7h4m79 2h2m36 6h2m14 9h3m77-19h4m-26 24h4m37-31h2m-14 9h2m8 50h2m12 10h3m-9 1h2m-8 1h2m-47-35h2m-6 25h2m30 2h2m-24 9h3m-60-35h2m11 2h2m-9 1h2m29 17h4m-5 5h2m-24 9h2m-3 2h2m2 0h2m1 2h2m-24-38h2m-2 5h3m-37 5h2m-2 12h2m8 2h3m-6 4h2m9 3h2m-84 7h2m-60-2h2m-33-2h2m23 0h4m-57-35h3m-8 1h2m-13 4h2m7 0h3m-29-1h2m-40-3h3m-5 8h2m6 0h2m-14 1h2m11 1h2m-33 8h2m-1 3h2m-2 1h2m12 1h2m-8 1h2m3 12h2m-57-28h4m-7 5h4m-7 2h3m3 4h2m8 0h2m-7 1h2m-31-21h2m0 0h2m10 0h4m-10 1h2m-12 1h2m-4 2h4m-3 0h2m0 2h2m-5 7h2m17 0h3m-22 3h2m-6 5h2m-5 5h2m2 1h2m7 3h3m-21 1h2m-5 3h3m23 0h3m0 0h2m-1 0h2m-42-29h2m-1 2h2m-12 15h4m-6 3h2m13 8h2m-75-2h4m5 6h2m-55-27h4m3 0h2m-2 2h2m0 3h2m8 6h2m-8 3h2m0 3h2m-1 0h2m-6 2h2m16 8h2m6 2h2m-63-35h4m6 0h2m-17 1h2m15 5h3m-29 1h2m1 0h2m0 2h2m9 2h3m-21 5h4m27 5h2m-60-25h2m13 0h2m-3 1h4m-11 1h2m-16 1h2m-6 11h2m-1 1h2m6 0h2m-6 2h3m-3 1h2m15 0h2m-20 2h2m-7 2h2m29 5h3m-77-22h4m3 5h2m30 0h4m-40 3h4m23 1h2m-28 3h2m18 3h2m3 0h2m1 0h2m-6 1h2m7 0h2m-13 1h3m-3 5h2m10 1h2m-33 9h3m-24-34h2m6 0h2m-7 2h2m1 1h2m-4 1h2m-18 1h3m8 0h2m-2 2h2m-1 1h2m1 1h2m-10 2h4m0 3h2m-8 1h3m5 0h3m-30 1h3m21 0h2m-46-19h2m-19 3h4m12 4h4m-19 2h3m-7 4h2m29 5h2m3 0h2m-22 1h2m11 0h3m-28 2h2m29 7h2m-31 4h4m-15-30h2m1 3h2m-1 4h3m-22 2h2m7 0h2m5 0h2m-25 2h2m18 0h2m-1 2h2m-24 1h2m3 0h2m-1 2h3m9 1h4m-3 1h4m4 0h2m-2 1h2m-7 2h2m2 0h2m-1 0h2m-2 1h2m-40 9h4m-3 0h4m-4 1h2m5 0h4m-13 1h4m4 4h2m-27-28h4m-4 3h4m-11 5h2m-1 0h2m2 5h4m14 3h3m-4 1h2m-3 2h4m-37 5h2m6 1h3m-15 1h2m9 0h2m-2 0h2m13 0h3m-22 1h2m2 0h2m5 0h2m-18 1h3m0 0h2m-26-24h2m-2 1h4m-8 2h3m0 5h2m-61-23h2m-1 0h2m2 2h2m-7 1h2m-1 2h3m-3 0h2m30 8h3m-11 3h2m-2 4h2m-3 9h4m-46-29h2m-11 2h3m0 0h3m16 1h4m-26 3h4m10 2h2m-29 4h3m1 0h2m19 1h2m-14 8h2m-13 6h2m-1 1h2m-7-28h4m-41 35h4m-20-35h2m4 6h4m2 8h2m-2 13h2m-4 1h4m-5 1h2m-1 1h2m-12 7h2m-6 5h2m-2 4h2m-4 1h4m13 28h2m78-31h2m-19 12h2m-7 5h2m31-19h4m-9 3h2m12 0h4m-6 1h2m0 0h2m59-6h4m-7 34h2m16-34h2m12 0h2m-23 1h2m18 3h2m5 1h2m-34 8h2m4 0h2m0 5h2m-11 10h2m1 1h4m45-20h2m24 0h2m-1 2h4m-1-4h2m19 5h3m-12 6h4m18 2h2m33 11h4m-23 6h2m33-37h2m6 3h2m1 1h2m-19 21h2m34 12h2m30-37h3m-3 10h2m-11 9h2m8 0h2m46-16h2m-20 1h2m4 0h3m0 2h2m4 1h2m-3 1h3m-3 0h4m-14 1h4m7 2h3m-21 1h2m13 1h3m-14 8h3m8 3h4m-16 2h2m6 0h2m-14 3h3m1 0h2m9 1h2m26-11h2m-6 3h4m-4 1h2m-13 11h2m40-34h3m5 0h2m3 0h2m-9 1h4m-2 1h3m0 1h3m-2 2h3m-5 1h2m-9 18h2m-4 1h2m1 1h3m18 4h3m38-15h2m-12 1h2m-1 1h3m4 2h2m-12 1h3m-2 0h4m-2 1h2m-1 0h2m4 1h4m0 6h2m-19 5h2m18 1h2m-8 3h4m43-34h2m-2 5h3m-35 6h2m18 0h2m-22 5h3m-9 13h2m2 0h2m33 6h2m16-29h2m14 2h2m4 2h3m-10 1h3m-16 8h2m23-17h4m-5 2h3m8 0h2m-2 0h2m3 3h3m-21 1h4m8 0h2m-1 0h2m-3 1h2m10 0h2m-16 10h2m10 1h4m-27 1h2m22 4h2m-20 5h4m0 2h2m24 2h2m36-12h2m-6 8h2m4 0h2m-2 4h2m0 0h2m-12 2h3m29-21h2m-3 2h2m-4 3h2m-7 1h2m-14 2h2m1 3h2m1 0h2m1 0h4m-6 1h2m8 0h3m-12 1h3m-4 1h4m-5 5h2m42-37h4m-12 1h2m3 0h2m-9 15h2m12 1h3m-15 1h2m7 8h2m-6 4h4m-1 0h2m-8 1h2m4 6h2m-2 2h3m32-32h2m32 4h3m24-11h4m-17 1h2m8 1h2m-24 9h3m2 3h2m4 3h3m-10 2h4m-6 1h2m5 0h2m-8 4h2m20 15h2m26-31h2m19 6h2m-9 4h2m-3 3h2m41-15h2m-8 3h2m-6 7h2m-10 2h2m-1 5h2m3 0h2m4 2h4m-12 2h4m-5 2h2m-2 5h3m-5 3h2m37-12h2m17 14h2m9-34h3m-1 2h2m1 0h2m-8 1h3m11 0h2m-7 4h2m-2 1h2m11 12h2m-3 3h2m5 0h2m-22 3h2m18 2h2m-5 4h3m-21 1h3m-5 1h3m38-26h2m-5 2h4m-1 16h3m-21 9h2m-15 3h2m8 0h4m6 0h4m-27 29h2m-2 1h2m-14 2h3m5 1h2m-3 1h2m-11-36h2m-32 1h2m28 0h2m-4 4h2m-25 4h3m-13 12h3m-7 2h2m34 12h2m-55-33h3m-2 1h3m-2 4h4m5 0h2m2 8h3m-3 5h4m-37 11h2m-40-32h2m8 1h2m8 0h2m-24 1h2m13 0h2m3 0h2m-10 1h4m-12 2h4m2 5h2m-16 2h2m3 0h2m11 3h4m-12 1h4m-2 5h2m13 0h2m-15 1h2m-5 8h2m19 0h2m1 4h2m-1 1h3m-37 1h2m3 1h2m19 0h2m2 1h4m-34 1h2m-35-16h2m20 0h2m-3 3h4m-6 3h2m-27 5h2m29 0h3m-9 1h2m2 0h2m-61-33h4m-7 6h3m-2 9h3m-4 4h2m-6 1h2m-2 2h2m27 5h4m-7 4h4m0 1h2m-1 3h2m-62-36h2m-14 1h2m0 3h2m19 14h2m-70-11h2m26 1h2m-14 10h4m11 12h2m-69-31h3m29 5h3m-34 22h2m-7 1h3m-14-26h4m-3 1h4m-29 8h4m28 1h4m-42 1h2m25 1h4m-7 2h3m-2 0h2m-2 0h2m2 2h4m6 1h2m-9 4h2m-34 6h2m6 2h2m-28-28h3m4 0h3m-29 1h4m21 4h2m-14 2h2m-4 12h2m-31-14h3m-1 1h2m-2 2h2m-5 2h2m-1 1h3m-3 1h2m-1 5h2m4 1h2m-60-17h2m10 1h2m-20 3h2m12 2h2m-1 4h2m-12 14h2m14 3h2m-54-23h2m5 9h3m-11 2h2m9 4h4m-2 2h2m-52-24h2m-2 3h3m1 1h3m-16 1h4m4 0h2m1 3h2m-23 7h2m-2 20h3m-6-18h4m-23 3h3m9 1h3m-22 12h4m21 3h4m-72-33h2m2 1h2m-14 1h2m35 1h2m-35 13h4m-6 2h2m4 1h3m1 2h4m-13 2h2m26 2h2m-13 9h2m9 0h2m-40-37h4m-2 3h2m-8 2h4m0 0h3m-20 22h2m8 3h2m4 2h2m-113-30h2m-3 26h2m-2 2h2m-28-27h2m20 20h3m-35 8h2m24 1h3m-30 1h2m7 0h3m5 0h2m-22 2h2m6 0h2m15 0h2m1 0h2m-15 1h2m1 0h2m2 1h4m-22 1h2m23 0h4m-35-2h3m-3 1h3m-2 0h4m-57-33h3m-4 3h2m-4 2h4m-1 0h2m-12 1h2m1 1h4m-7 1h2m12 2h2m-8 1h3m0 4h4m-12 1h3m2 0h2m-6 1h2m-7 3h2m-2 0h4m-17 2h2m20 0h2m0 0h2m1 0h4m-13 1h4m-18 3h2m30 4h2m-94-22h2m-8 7h2m-61 8h2m0 2h3m8 4h4m-19-2h2m-2 1h3m-54 2h2m4 0h2m-7 4h2m-3 1h2m-2 0h2m2 0h2m3 35h2m38-11h4m-34 11h4m31-12h2m-3 7h2m26 3h3m-24 1h2m2 0h3m-2 1h2m-4 1h2m25 3h2m36-26h3m-4 4h2m1 0h2m-35 19h2m-5 3h3m53-38h2m-8 4h4m3 9h3m-17 2h4m2 0h2m-1 0h2m-4 1h2m4 1h2m-5 2h2m-11 1h4m10 2h3m2 0h2m7 0h2m3 1h2m-2 0h3m-19 1h2m8 0h2m2 1h2m-13 1h4m-6 1h2m6 2h2m5 2h2m11-14h4m2 1h2m16 1h2m-36 9h2m10 5h2m-1 2h2m-11 2h3m1 0h2m52-23h2m-21 5h3m15 16h4m16-35h2m5 1h2m0 6h2m-5 10h2m17 20h2m1 1h2m48-35h2m-35 18h4m-8 1h2m19 3h3m-2 4h2m-13 2h2m7 2h3m-20 2h2m23 0h2m-22 1h2m7 0h2m-7 1h2m57-33h3m-17 8h2m-13 10h2m12 1h3m-3 4h2m47-26h4m2 6h4m-4 2h2m-1 7h2m-14 8h2m10 3h2m-33 2h2m-1 2h3m6 1h2m6 1h2m7 0h2m3 3h3m21-37h2m-2 0h2m2 1h2m-24 9h2m-7 4h2m-1 1h4m-1 1h2m-5 1h2m5 1h2m-6 3h2m13 3h2m-7 1h2m10 1h4m4 2h4m-34 1h2m6 0h2m10 0h2m13 0h4m-6 1h2m-21 1h3m7 0h2m-26 2h4m-7 2h2m40-31h2m-2 16h2m32 0h2m-2 1h2m0 2h4m-6 1h2m-35 2h2m33 1h2m35-12h2m-36 11h4m23 13h2m14-32h2m70-6h2m113 2h4m-1 4h2m40 3h2m-33 1h2m11 9h2m4 4h2m-2 1h3m45-24h2m-3 2h2m-33 6h3m84-1h2m-5 27h2m-3 1h2m64-10h2m-6 3h3m3 0h2m-1 3h2m-4 1h2m33-32h2m-2 1h3m9 1h4m-15 1h2m-1 4h2m4 0h2m1 1h2m-11 1h4m-1 0h4m12 13h2m32-2h2m-3 1h2m46-21h2m-5 1h2m51 55h2m7 6h2m-13 2h2m-41 4h2m-6 2h2m-34-19h3m-22 7h2m8 0h2m-19-5h4m-79-10h4m-10-4h3m2 2h2m-72 5h3m0 9h2m12 11h3m-43 0h2m-63 2h2m-4 6h2m-43-33h4m-8 3h2m-40 1h3m-6 7h2m-38 20h4m-46-4h3m-7 1h2m-5 2h2m1 1h2m-64-26h2m-10 26h2m-4 2h3m-3 3h4m-12-36h2m-22 1h4m0 3h2m-4 3h4m-2 5h3m-10 1h2m9 2h2m0 0h2m4 1h2m-11 1h4m-3 0h3m-11 1h2m1 0h4m-2 1h3m0 0h2m-18 4h2m21 2h3m-28 2h3m-6 5h2m34 1h2m-49-31h4m-2 1h4m-10 1h3m1 16h4m-64 1h2m4 2h3m-13 1h2m2 0h2m-2 0h2m3 1h2m-1 2h2m-56 4h2m0 3h3m13 3h2m-63-37h2m11 4h2m10 8h2m-29-13h4m-26 1h2m20 0h2m-29 2h2m7 9h3m-3 1h4m-5 1h4m-5 2h2m3 4h2m7 13h4m-44-32h2m1 3h3m-16 3h2m-3 7h2m-22 12h4m-5 8h2m1 1h4m-2 0h2m8 2h2m-31-7h2m10 0h4m-5 5h2m-1 1h4m-81-33h2m11 7h3m-4 1h2m-5 2h3m2 4h2m8 20h2m-63-38h2m0 0h2m0 1h3m-5 4h2m2 0h2m5 0h2m9 24h4m-45-29h2m-20 1h4m10 4h3m-7 4h3m-9 6h2m14 2h2m-6 1h2m-15 1h3m1 1h4m-1 0h2m1 1h3m-5 4h2m-7 1h2m-83-1h3m-1 0h4m-4 3h4m0 1h2m-6 1h2m-8 1h4m-3 1h2m8 3h2m-9 17h2m3 5h3m20 0h3m2 3h2m2 6h3m52-12h3m2 0h4m-3 7h4m-4 16h4m29 0h2m157-31h4m20 5h2m-1 4h3m-6 2h2m2 0h2m-3 2h3m39-18h3m1 0h2m-2 2h2m-2 0h4m-8 3h2m24 15h2m-33 18h2m33-20h2m36 5h4m-40 3h2m32 2h3m38-19h4m-20 12h2m-20 2h2m-6 3h2m27 11h2m39-7h2m16 7h2m8 0h2m-6 1h2m40-25h4m53 15h2m-22 2h2m-2 1h2m4 0h2m14 4h3m2-4h2m49 0h3m-1 0h3m-5 1h3m-1 4h2m-11 1h2m4 0h2m-1 0h3m10 0h4m-25 1h2m9 0h2m40-13h2m-2 1h2m18 11h2m12-1h2m-9 2h2m52-5h2m52-19h4m76-14h2m44 25h2m-19 7h3m-11 2h2m5 2h3m-3 0h4m-2 0h2m139 9h2m-2 6h2m-8-10h3m0 8h3m-5 1h2m-30 18h3m-5 1h2m1 4h3m-21-17h2m-50-16h3m2 0h3m-5 2h2m4 0h4m-9 1h4m-1 1h2m-3 1h4m-2 0h4m-13 1h4m-37-7h2m-48 14h3m-65-7h2m6 6h4m8 6h2m-33-13h2m1 0h2m-7 1h2m7 0h2m-2 0h4m-7 4h2m-25 28h3m-50-27h2m-2 1h2m13 0h3m-2 0h2m14 13h3m-4 12h3m-25 1h4m-36-23h2m-2 5h2m0 3h4m-28 10h4m-2 2h2m2 0h2m-5 1h2m-4 1h2m-38-38h3m27 0h2m-23 2h2m-5 28h2m-6 8h2m-4 1h2m-35-36h2m1 2h2m0 10h2m-5 6h4m18 6h2m-10 2h3m8 3h2m-4 2h3m-5 4h2m-57-2h3m-57-32h4m16 5h3m4 0h2m-12 17h3m5 1h2m-16 1h4m-10 3h3m-7 8h3m-11-37h3m-3 7h2m-23 9h2m-2 18h2m9 3h3m-65-35h2m0 4h2m10 6h2m-22 5h4m6 3h2m21 6h2m-7 1h4m-22 1h2m10 0h2m-22 2h3m2 2h2m2 0h2m12 5h2m-63-19h2m-4 9h2m7 1h2m0 2h2m20 4h2m-16 3h2m-29-27h2m-3 1h3m-35 2h2m2 0h2m24 1h2m-21 2h4m-13 1h2m33 1h4m-24 4h2m-10 6h2m-1 1h4m7 8h2m-33-29h2m-16 4h2m-3 2h3m19 0h2m-2 1h3m-16 3h3m3 11h4m-22 2h2m-54-11h2m1 2h2m10 7h2m-3 3h3m-3 1h4m-9 1h3m0 2h3m-29-27h2m5 1h2m-7 2h2m5 1h2m0 2h4m-16 2h2m-15 2h2m22 0h2m-2 2h2m-4 7h2m-78-11h4m14 17h4m-26-14h2m-56-16h2m-12 2h4m-65 25h3m5 1h2m-17 2h3m2 0h2m3 2h2m-10 1h2m-125-11h2m75 26h2m-16 1h3m8 1h2m0 0h4m-1 1h2m174-4h2m-9 4h3m-1 1h3m-25 8h3m-1 1h2m-5 1h2m-6 1h4m-3 2h2m2 0h2m-4 3h3m2 0h2m-1 1h2m-2 2h4m44-36h4m-13 1h2m6 0h3m-7 1h2m-10 1h2m-2 2h2m-5 4h2m-7 3h4m33 4h4m-17 16h2m11 0h2m-24 5h2m18 1h3m31-38h3m-28 4h4m16 6h2m-23 1h2m12 0h2m-16 2h2m9 1h2m-5 1h3m0 0h2m-6 1h4m10 0h4m-19 7h2m-13 6h2m1 0h4m10 2h4m-20 1h2m1 0h4m25 0h2m-32 1h4m27 0h2m22-19h4m-8 4h2m-9 1h2m8 2h4m-1 0h2m-2 6h4m3 1h2m-10 2h2m7 0h3m-27 1h3m14 4h2m1 0h3m-1 0h4m39-35h2m2 0h2m-33 1h2m-2 5h3m2 13h2m51-17h2m5 1h2m-2 1h3m-17 8h2m0 1h2m-10 2h2m4 1h2m6 1h2m13 6h2m-13 1h2m7 3h2m-2 1h2m-3 1h2m1 2h2m-9 3h2m-6 3h3m39-23h2m7 0h4m-7 1h2m-6 1h2m4 1h4m-4 2h4m-39 10h3m-3 0h2m3 5h2m64-35h2m-5 1h2m-29 9h4m1 1h3m29 0h4m-40 1h2m4 0h2m-8 1h2m-3 1h2m0 0h2m-4 5h2m24 0h2m-28 2h2m26 1h2m-12 5h2m6 6h4m-12 5h2m0 1h2m7 0h4m29-39h2m-21 2h3m7 1h2m9 2h3m-13 13h2m-8 1h2m-1 2h4m13 7h2m-1 1h2m-2 1h2m27-29h2m-11 2h2m10 12h3m15 2h3m-12 2h2m-24 1h2m14 1h4m-3 0h2m4 0h2m-30 1h2m5 0h2m13 1h2m4 0h2m-6 3h2m-10 6h3m0 0h2m-10 2h2m9 0h2m4 1h4m-4 0h2m-23 1h2m19 0h2m-22 3h2m103-32h2m1 5h3m-19 4h2m3 4h3m-1 0h2m-18 12h2m-15 1h4m29 4h2m13-33h2m2 4h2m-11 3h2m5 2h4m-3 3h2m-12 6h3m10 1h2m-10 4h2m3 0h2m-5 1h2m0 0h2m-3 1h4m24 4h2m-1 1h4m-28 4h3m62-17h3m-20 10h4m-7 2h2m2 2h2m-12 3h2m63-38h2m-2 12h2m-26 4h4m-2 2h2m19 3h2m-8 3h2m4 0h4m-4 2h2m-34 8h4m-6 1h3m1 0h2m2 1h4m-3 1h2m-7 1h2m-4 1h4m32-39h2m9 2h3m-3 2h2m0 5h2m-16 8h2m12 0h2m-14 7h2m8 5h4m0 1h2m14 2h2m-30 2h2m5 0h4m11 0h2m-10 1h2m11 1h2m-19 1h2m-1 0h4m14 0h2m-1 0h2m-33 1h3m21 0h2m0 0h2m-3 1h3m11-29h2m10 2h2m8 2h3m-4 1h3m-10 2h3m-11 7h4m-7 3h4m-2 1h2m-6 2h2m18 1h2m10 4h4m-18 1h3m15 1h2m-18 1h2m24-36h2m3 5h3m-1 8h2m21 14h2m-38 7h2m28 1h4m-4 2h4m6-3h2m73-11h4m-6 1h3m-23 9h2m22-8h4m-2 0h2m5 1h2m-9 1h3m17 6h2m34-5h2m-5 1h2m18 4h2m-21 1h4m-1 3h2m24 18h2m4 0h2m-2 2h4m-5 3h2m-3 17h2m-16-38h2m-1 15h2m-18 2h2m-8 9h4m1 0h3m-11 5h4m3 1h2m-10 1h2m3 0h2m3 0h3m-7 1h3m-8 2h4m-26-37h3m-7 2h3m-2 1h2m1 1h3m-11 1h4m1 0h2m-15 1h3m10 1h2m-19 3h3m9 4h2m-22 4h4m-2 4h2m8 1h2m1 10h2m-50-31h3m-4 2h2m6 1h2m13 4h4m-29 12h2m10 0h2m-1 1h2m-5 2h4m-10 2h2m-2 0h3m7 1h2m-20 1h2m14 0h2m-11 4h4m-11 2h4m6 4h2m-6 1h2m-45-39h2m2 1h3m-5 2h2m-3 1h2m18 22h3m-25 2h2m7 0h2m-1 0h2m-7 1h4m21 1h2m-27 3h3m23 0h2m-19 2h2m13 1h4m-69-32h2m21 7h2m-16 1h2m10 0h2m-4 1h2m-26 1h3m13 1h2m-16 1h2m5 0h3m-10 1h2m9 2h2m3 0h2m5 0h4m-5 4h3m3 1h2m5 2h2m-3 4h4m-41 6h2m0 3h2m-26-39h2m0 2h2m-9 1h3m9 0h4m-13 1h4m-7 1h3m-2 0h2m3 0h2m-9 1h2m0 0h2m-17 2h2m17 2h3m-11 1h2m5 3h2m2 2h2m-1 3h3m-26 8h2m10 1h2m1 1h4m2 5h2m-57-34h2m5 0h2m-8 1h2m17 0h2m4 0h2m-16 3h2m14 1h2m2 0h3m-27 2h2m12 0h4m-19 1h3m15 0h2m-17 1h3m0 0h2m1 0h2m-10 1h3m1 0h3m5 0h2m-17 1h2m6 2h3m-3 2h2m-2 1h2m-14 12h2m27 0h3m-35 1h2m23 5h4m-30 4h2m2 1h2m-43-39h3m28 2h4m-19 3h3m-24 2h2m16 1h2m-15 1h3m23 0h2m-32 2h2m14 1h2m0 0h2m13 2h4m-7 1h2m-34 1h4m31 1h2m-37 1h2m-1 0h4m25 0h2m3 0h4m-27 1h2m13 0h3m-19 1h2m21 1h2m-32 1h2m10 4h3m2 4h2m-5 1h3m13 0h2m-11 1h2m5 0h4m-1 4h2m-13 2h2m-43-34h2m10 0h3m-21 5h2m-3 2h3m10 2h3m4 1h3m-6 4h3m-23 1h2m2 0h2m1 0h2m13 0h2m-36 4h3m-2 0h2m22 7h4m-12 7h4m-16 2h2m-47-30h3m7 3h4m4 0h2m-1 3h3m3 0h2m-20 4h3m12 1h4m-4 0h2m12 0h4m-25 2h2m3 0h2m-4 2h4m2 1h2m5 1h2m-6 2h2m-20 9h4m-25-37h2m1 6h4m-7 2h4m-26 6h2m25 4h2m-13 5h4m-7 3h2m7 2h2m1 3h2m2 1h2m-65-23h2m-1 1h2m-2 3h4m2 2h4m-24 23h2m-24-36h2m-13 1h3m25 2h4m0 3h2m-41 5h2m28 2h3m-25 2h3m-8 4h2m3 1h2m15 1h2m-1 1h2m-27 1h2m1 0h4m8 6h2m7 0h2m-2 4h2m-60-34h2m4 8h2m-3 1h2m-2 0h2m-7 3h4m0 0h2m21 0h2m-28 1h2m27 2h2m-36 5h2m-5 18h3m-16-39h2m-23 2h2m6 0h4m1 1h2m-13 4h2m24 13h4m-1 3h2m0 2h2m-8 3h2m4 2h3m-5 1h2m-14 1h3m7 0h2m-3 2h2m-6 3h4m1 2h2m-64-34h2m12 2h2m-20 1h2m-4 2h2m5 0h2m-16 9h2m-2 6h4m-10-8h4m-4 3h2m1 9h4m-4 3h4m-27 1h2m-5 6h2m-25-37h3m-8 36h2m11 1h2m-60-26h3m-14 1h3m5 0h3m-14 1h2m6 10h3m0 0h2m-2 2h2m0 2h2m4 5h2m7 5h2m-51-30h2m12 2h4m-26 1h2m-8 3h4m21 1h2m-5 1h3m2 1h2m-1 0h3m-36 1h2m12 8h4m-28-5h2m-13 2h2m-22 10h2m31 2h2m-32 1h2m-40-16h2m-1 0h2m-4 1h2m-5 6h4m-9-12h2m-17 5h2m-5 2h2m0 0h3m4 2h4m-13 1h3m5 0h2m-14 3h2m-19 7h4m4 3h4m-14-39h4m-28 22h4m0 15h3m8 1h2m-62-33h2m28 1h2m-10 8h2m-11 3h2m12 3h2m-16 2h2m-4 4h2m-11 4h2m-7 9h2m-17-38h2m6 5h3m-14 2h2m7 5h2m-21 5h2m-45 12h4m2 6h3m-68 31h2m-8 1h3m5 3h4m-8 2h2m-1 4h2m18-27h4m-15 19h3m9 4h2m-18 1h4m4 0h4m41-24h3m1 1h4m-8 1h2m4 1h2m-5 3h2m5 0h2m-7 2h2m-5 1h2m13 1h2m-16 5h2m-3 3h2m6 0h2m10 1h3m-6 10h2m43-37h3m-1 0h2m-6 7h2m-34 23h2m50-27h2m-15 7h2m34 1h4m-37 1h2m-6 4h2m19 6h2m-10 9h2m1 0h4m20-33h2m-2 2h2m0 5h4m-4 2h2m32 1h2m-33 1h2m23 2h4m-23 15h4m22 0h4m-26 1h4m-2 4h2m-14 2h2m8 0h2m57-22h2m0 2h2m-6 15h2m-10 2h3m11 0h2m-7 2h3m-11 2h3m6 0h2m-11 2h4m37-33h2m7 0h4m-12 1h3m-2 1h4m-12 2h3m0 0h2m10 0h2m-23 3h2m7 1h2m0 0h3m-21 2h2m10 1h3m-3 3h3m-17 2h2m27 0h2m-33 1h2m1 2h2m-2 1h4m6 0h3m13 2h2m2 0h2m-7 1h4m0 0h4m-37 1h2m31 0h2m-20 1h4m16 1h2m-28 2h2m9 2h2m-6 2h2m23-37h2m13 1h4m-2 1h3m11 2h3m-23 1h2m-6 3h2m4 0h2m-3 2h4m16 2h2m-34 17h2m-4 2h4m17 0h3m-23 1h4m21 2h2m-9 1h2m1 2h3m-9 1h2m-9 1h2m66-33h2m-3 3h2m-37 1h3m7 1h2m-4 8h4m0 5h2m15 2h2m-9 2h4m-4 6h2m29-33h2m-10 2h2m12 0h2m-18 3h2m-1 0h2m-1 0h2m0 1h2m2 5h3m-14 4h2m32 0h2m-23 2h4m-2 6h2m-7 6h4m19 3h2m-3 6h2m40-34h2m-23 1h4m-5 2h2m12 0h4m1 3h2m-25 1h4m6 0h4m-17 2h3m-2 2h2m10 0h4m-10 6h3m20 1h2m-28 1h3m-2 9h2m-13 2h2m-2 2h3m-2 0h2m54-35h3m1 3h2m29 20h2m16 1h2m3 0h2m-23 1h2m-1 4h3m39 3h2m5 1h3m4 1h2m-18 3h3m4 0h2m53-34h2m-20 23h2m-1 4h2m9 4h3m34-35h4m-8 3h2m-6 2h2m9 1h2m4 2h4m-22 1h4m-6 6h4m3 3h2m-1 0h4m-3 0h2m8 4h2m-10 2h2m-24 5h2m-8 1h2m16 0h4m-22 3h4m10 0h3m-3 0h2m21 1h2m-33 2h4m1 0h3m34-36h2m24 1h2m-37 3h2m3 4h4m22 2h2m-26 4h4m2 4h3m-6 2h3m23 0h2m24-15h3m0 2h2m11 0h2m-22 1h2m0 0h2m-3 2h4m11 1h2m-20 1h2m-1 0h2m-7 3h2m18 6h2m-12 9h2m28-30h4m15 5h2m-22 1h2m14 17h2m-24 1h2m-7 2h2m4 0h3m4 2h3m21 1h2m-19 6h3m16-28h2m17 5h2m-10 3h2m1 0h2m-10 1h2m3 2h2m-1 0h2m-5 1h4m-2 1h2m21 2h2m-35 5h2m-1 3h3m24 2h2m5 0h2m-25 5h2m-1 0h2m-4 1h3m58-38h4m-11 5h2m8 4h3m-31 14h3m46-22h2m5 0h2m-19 1h2m30 0h2m-29 1h2m5 0h2m15 11h2m-16 3h2m15 1h2m-20 2h3m-8 1h2m7 0h2m5 0h2m-11 3h2m3 2h2m-2 7h2m0 0h3m-1 0h2m-7 1h3m-20 2h4m19 0h2m12-37h4m-11 2h2m8 2h2m-1 6h2m-3 1h3m-3 0h2m6 2h2m14 0h4m-27 1h2m17 7h3m-4 2h2m-22 2h3m19 2h2m-23 1h2m-3 2h2m3 0h2m10 1h2m-16 1h2m-6 1h2m0 0h2m12 1h2m2 0h2m-23 1h2m14 1h2m3 0h2m-1 0h4m-1 0h2m-1 1h2m42-37h2m-38 1h3m1 0h2m0 13h2m27 1h3m-1 1h2m-9 2h4m1 1h2m-5 1h2m-2 1h3m1 2h2m-18 2h4m-6 10h2m28-35h2m15 1h2m-3 1h2m-3 3h2m-11 2h2m-6 2h2m-3 1h3m-13 2h2m3 3h2m-2 1h4m1 0h2m-12 1h2m0 0h2m31 12h4m-37 3h3m-3 0h2m2 4h2m9 2h3m-10 1h2m-2 0h4m-3 0h2m59-39h2m-18 4h3m-9 4h2m13 1h3m-21 1h2m0 6h2m1 0h2m12 4h4m-7 1h2m-22 2h2m9 1h2m42-21h2m-1 1h2m-3 2h4m5 0h2m4 0h4m-33 6h2m23 4h2m-21 4h2m11 5h2m-7 1h2m-19 1h4m-1 0h2m1 0h2m-8 1h2m58-28h2m-22 4h2m15 6h2m-8 1h2m4 5h2m15 3h2m-35 6h3m36-3h4m-24 21h2m-12 1h3m-1 0h2m-10 3h2m9 0h2m-8 1h3m11 0h2m-24 1h3m1 12h4m-26-19h2m9 9h2m-5 4h2m-4 1h2m-3 2h3m-2 0h2m7 0h2m-11 1h2m-62-2h3m-51-17h2m12 2h2m-3 1h3m-6 2h2m-1 1h2m-12 2h2m-35-5h2m-9 6h2m3 3h2m-2 1h2m24 0h2m-35 2h3m-2 0h2m0 0h4m-4 1h2m-5 1h3m21 1h2m-2 1h2m-8 4h4m-2 1h2m0 0h3m0 1h2m-5 1h2m-25 2h4m24 3h2m-1 5h2m-28 1h3m31 0h2m-62-30h2m15 0h4m-34 3h2m30 3h4m-33 3h3m29 0h2m-12 1h4m-20 1h2m0 0h3m-2 0h3m-15 1h2m13 0h2m-8 1h2m-10 1h4m-1 0h3m-11 16h2m-12-37h3m-23 1h2m13 8h2m6 0h2m3 0h2m-6 1h2m-28 1h2m28 0h3m-39 2h4m24 3h3m5 6h2m-63-19h2m-2 1h2m18 2h2m-11 4h2m7 0h3m-3 2h3m-27 1h2m23 0h2m-39 3h2m14 8h2m4 3h4m-19 3h2m-37-28h3m0 1h3m-13 2h3m2 0h4m1 0h2m-1 1h2m-3 2h4m-7 1h3m3 1h2m-49-6h2m12 0h2m-19 4h2m20 11h3m-13 3h2m-20 1h2m5 1h2m-10 2h2m24 2h2m-9 1h2m-13 2h2m20 3h3m2 0h3m-12 2h2m1 0h2m-60-31h4m-2 0h2m15 0h2m4 1h2m-25 2h2m2 0h4m1 1h4m2 0h2m-21 1h2m1 4h3m20 4h2m-14 2h4m-28 1h2m34 5h2m-79-26h3m-2 0h4m-5 4h3m2 9h2m17 0h2m-23 18h2m19 4h2m-31-32h2m-33 1h2m28 0h2m-30 2h2m0 0h2m3 1h4m16 0h2m-28 1h4m25 0h4m-18 1h3m-7 1h2m-15 1h3m24 0h2m-1 0h2m-6 1h4m1 0h2m-29 1h2m28 9h3m-25 15h4m12 2h2m-66-32h2m1 1h2m3 2h2m-2 0h2m4 3h2m-16 2h2m9 3h2m-3 2h4m-35-17h2m8 17h4m-33 1h2m18 16h4m-7 1h2m-45-26h4m-5 3h2m12 1h2m-36 3h4m5 4h2m3 2h2m7 4h2m-8 1h2m-5 3h2m-39-16h2m-3 7h2m-17 3h2m1 0h2m0 3h3m0 1h4m-11 8h2m-27-26h2m-27-12h2m-8 1h4m5 0h2m-6 1h2m-10 4h3m4 3h2m-28 23h2m-32-28h2m6 0h2m-13 5h2m11 16h2m12 6h3m-72-31h2m-4 3h2m27 2h3m-18 27h3m-50-32h2m-13 2h2m20 8h4m-9 3h2m-6 1h4m-10 1h2m-4 2h2m-10 3h3m10 1h2m19 15h2m-109-36h2m-3 3h2m8 16h2m-14 12h2m-64-32h3m4 0h4m-20 5h4m0 0h2m-10 2h4m1 1h3m-3 0h2m-8 1h3m0 1h2m9 0h2m10 0h2m-20 1h2m-4 3h2m11 1h2m7 2h3m-9 2h3m1 2h2m-17 11h2m0 1h2m-23 3h2m14 1h2m4 1h2m14 1h3m-61-38h3m13 7h2m-3 1h4m-4 4h3m-34 1h2m-3 6h3m10 0h2m11 3h2m-31 1h3m22 5h4m7 8h2m-45-37h4m0 19h2m-10 1h3m5 0h2m-27 3h2m24 2h2m-1 0h4m-12 3h3m-26 14h4m-5 3h2m29 21h4m-7 3h4m-3 4h2m35-32h2m-14 2h4m12 1h2m-21 1h3m11 1h2m-8 1h3m10 0h3m-11 2h4m0 0h2m0 1h3m-1 1h2m-6 7h2m-35 9h3m-2 2h3m0 2h3m57-30h2m-27 1h2m-2 2h4m3 6h2m-4 1h4m-2 18h2m-5 3h2m22 1h2m-3 2h3m-2 1h4m-4 2h2m14-35h2m58 3h2m-7 4h4m-16 14h3m26 2h2m-35 1h4m13 1h4m-20 8h2m7 0h2m3 0h2m3 0h4m-10 1h4m-9 1h2m-1 1h2m53-21h3m-3 1h2m6 2h2m-9 4h2m7 1h2m-8 1h2m-5 1h4m-16 1h2m18 0h2m-18 6h2m-13 1h2m61-31h2m-28 2h4m-10 2h4m31 0h4m-27 1h2m-16 1h3m13 1h4m-1 0h2m6 0h2m-27 1h2m18 1h4m-5 1h2m11 1h2m1 0h3m-40 2h4m34 13h2m-21 2h4m-9 6h2m51-35h4m-26 7h4m24 0h2m0 1h2m-36 1h3m21 0h2m-4 1h2m-7 2h2m9 1h2m-6 3h2m-27 3h2m-2 1h2m-1 8h2m57-26h3m-3 7h2m-10 10h2m1 1h3m-10 6h3m4 1h3m-17 5h2m1 0h3m50-21h3m3 4h2m-20 2h2m14 1h2m-23 1h2m1 0h4m-4 11h2m-1 1h2m-4 1h2m2 1h3m15 1h3m-23 1h2m70-32h2m-6 9h2m-14 3h2m-15 4h4m19 1h2m-2 1h2m16-21h2m0 12h4m4 2h3m-7 1h2m1 0h2m-8 4h2m-4 2h2m2 6h2m22 0h2m-4 2h2m9-24h2m-2 0h2m-7 3h2m2 1h2m-1 2h2m-5 1h4m3 0h2m25 3h2m-19 1h3m34-19h3m0 1h2m-2 0h2m-2 1h4m-8 2h2m9 10h3m3 1h2m-18 9h3m15 12h3m38-36h3m-37 4h2m6 0h2m-9 1h3m3 0h3m-1 0h3m23 0h2m-30 2h2m-8 2h3m28 9h2m-4 1h2m-1 0h2m-10 3h2m0 2h2m8 0h2m-10 3h3m-2 2h3m2 0h3m-30 3h2m19 1h3m-7 3h3m5 0h2m-15 1h2m9 0h2m-14 1h2m-1 0h3m23-37h2m30 2h2m-8 4h2m0 3h4m-3 0h2m-20 1h2m6 3h2m9 2h2m-22 6h3m-12 1h2m2 0h2m51-23h3m2 3h2m-6 2h2m-27 2h4m22 28h4m-10 3h3m27-27h2m0 1h3m1 2h2m20 5h2m-5 1h2m-5 4h3m0 0h2m-13 2h4m10 0h2m12-18h2m19 2h4m-12 1h4m0 0h2m-9 1h2m5 1h2m-25 1h3m14 1h2m1 3h2m38-19h2m4 3h2m-23 18h2m1 1h2m-10 1h3m4 1h4m-5 1h3m-1 0h2m49-2h4m75 2h2m-1 0h2m0 1h2m-6 1h2m9 0h2m3 0h2m-22 1h2m-1 0h3m2 3h2m46-25h2m-33 14h2m23 9h2m40-17h2m-5 2h4m-1 0h2m1 2h4m-10 2h2m-10 2h4m-4 6h2m-5 1h2m-2 2h2m3 0h4m-2 0h2m-9 3h2m8 7h2m52-25h2m0 3h2m8 4h2m65 30h2m-27 8h3m-3 4h2m-3 2h2m-2 5h3m-7 1h2m3 0h4m-2 0h2m2 0h2m-14 2h2m9 1h2m-15 1h2m3 0h2m2 4h4m-50-4h3m2 4h2m-55-33h4m4 28h4m-18-34h4m-171 22h4m-6 5h2m1 7h2m-84-8h2m-8 5h4m-7 2h2m-5 1h2m6 0h2m-78-30h2m-14 1h3m2 1h2m2 2h4m-6 2h2m-16 15h2m-46-22h2m13 10h2m-12 6h2m8 0h2m-7 7h3m5 3h3m7 0h2m6 1h3m-3 0h2m-30 5h2m-34-35h2m4 0h2m6 4h2m-30 3h4m1 0h2m-5 19h4m10 3h2m-15 1h3m4 3h4m-21-33h2m-4 2h2m-3 2h2m-27 3h2m26 8h2m-26 4h3m9 0h2m8 3h2m-3 1h4m-39 12h3m-4-29h4m-6 4h2m-34 12h4m-1 5h2m13 0h3m7 6h4m-72-33h2m-7 20h2m-23-13h3m-8 1h4m4 0h4m-9 2h2m-17 7h3m-43-13h2m4 1h2m-2 0h2m10 1h2m4 1h2m-7 1h2m-23 2h2m20 0h2m-21 2h4m11 1h2m-2 0h3m-18 2h2m3 0h2m8 0h2m-1 0h4m-2 3h2m-15 19h2m4 1h3m-21-33h2m-21 1h3m-15 1h4m-1 0h2m4 0h3m-4 1h2m-10 3h4m7 13h2m7 0h2m10 0h2m-13 2h2m-6 7h4m1 3h2m-13 3h4m-56-32h2m21 0h4m-14 2h2m12 0h2m-1 21h2m-10 2h2m4 1h4m-72-28h3m4 0h2m24 0h3m-3 1h2m-43-5h3m-13 2h2m5 1h4m0 0h2m1 0h4m-5 1h2m-26 1h2m23 0h2m-11 1h2m-14 1h3m12 3h2m-14 2h2m5 0h2m-5 2h3m-25 24h2m-27-37h3m0 0h2m-7 2h2m8 3h3m-18 1h2m-1 0h4m-1 1h2m1 5h2m-11 8h2m12 6h2m-3 1h4m1 2h2m-6 1h2m0 0h4m3 1h2m-29 6h4m29 0h2m-76-36h2m6 16h2m16 2h2m-19 1h2m24 0h3m-31 1h2m-11 1h2m33 0h2m-24 2h3m-2 1h2m0 0h4m-3 2h2m-13 1h3m6 2h2m-32-32h2m-3 1h2m7 2h4m-31 2h2m14 1h2m3 0h2m-1 3h2m-27 3h2m24 1h2m-19 3h2m-2 1h2m6 0h2m-18 1h2m0 0h3m26 3h2m-13 1h4m-9 1h2m-13 1h2m0 0h2m22 2h2m-43-23h3m-29 16h2m13 0h3m-20 1h4m7 0h3m9 3h4m-28 2h3m11 3h4m15 1h2m-14 2h2m-21 5h2m15 1h2m5 1h2m-24 1h2m10 0h4m-68-26h2m48 27h2m6 0h2m-6 1h4m-3 0h2m120 2h3m109-3h2m109 0h2m8 2h2m88-2h2m155 3h4m100-2h2m23 0h3" stroke="#5000d0" stroke-opacity=".55" stroke-width="2.4"/>
<path d="M299 38h3m345-1h2m7 0h2m0 1h4m-3 1h2m349 0h2m3 0h2m46 18h2m-7 5h2m-5 1h4m-7 1h2m3 0h2m3 0h4m-3 1h2m-54-22h3m-71 12h2m-54 6h4m2 4h3m-63-10h4m-68 14h4m-14 1h2m2 1h2m-3 2h3m-20 2h2m-97-35h3m-77 38h4m-1 0h2m1 0h3m-6 1h2m-65-14h2m5 6h2m-11-10h2m-1 7h2m-221-24h4m-7 3h2m1 1h2m-179-3h3m-4 2h2m30 5h3m0 0h2m-88 26h4m-21 7h3m89-4h2m-1 2h3m74 16h4m11 0h4m-25 4h4m5 0h2m31-7h4m-4 2h2m-2 1h2m-4 5h2m126-6h4m-8 4h2m-8 1h2m-1 0h4m36 14h2m7 0h2m-3 2h4m10 0h2m31-27h2m-29 14h2m29 9h4m5-16h2m4 2h4m-14 1h2m10 1h2m16 13h4m-10 1h2m41-10h2m3 3h2m-5 1h2m29-30h2m1 2h4m78-3h2m-26 27h4m54-6h3m2 1h2m330-12h2m-9 3h2m5 0h3m2-3h2m1 0h2m85 21h4m0 0h2m-7 6h2m-1 0h2m35 1h3m-8 1h3m-1 3h2m-9-2h3m-11 1h2m-10 2h2m-8 3h4m-28 15h4m-341-15h2m6 7h2m-12 3h2m-95-7h2m1 3h2m-32-6h4m-3 0h2m-5 1h2m5 0h2m-13 2h3m25 1h3m-94 12h4m-100-12h3m0 4h2m25 1h3m-31 1h2m4 1h3m-9 1h2m-35-4h4m15 12h3m-11 10h2m-45-7h2m-61-25h2m-8 21h2m-30-18h2m-12 2h2m6 3h2m-16-9h3m-11 1h2m-3 1h2m-5 1h2m9 5h2m-3 8h2m-3 1h2m-23 18h2m-41-29h2m-1 0h4m-8 7h3m12 0h2m-6 1h2m5 0h3m-14 5h2m-10 12h4m-92 4h2m20 1h3m-91-33h2m1 1h2m-3 3h2m-1 1h2m5 16h3m-6 3h2m-6 6h2m4 0h2m-79-18h4m-1 1h2m62 21h3m-11 1h2m21 16h3m-18 1h3m-12 4h2m11 0h2m4 0h2m-9 5h2m54-22h3m-8 3h2m6 0h4m-19 29h2m21-29h2m23 7h3m-16 13h2m5 2h2m36-29h2m5 0h3m-26 11h2m-4 5h2m125-1h2m37 8h2m47 7h2m15 1h2m-13 1h2m110-11h4m1 0h2m1 2h2m47-24h2m-16 30h2m1 8h3m38-30h2m11 17h4m-7 4h4m2 7h2m49 3h4m159-1h2m16 1h2m18 0h2m45-33h2m25 8h2m1 0h4m15 10h2m3 3h3m1 3h3m69 1h3m3 5h4m71-36h2m-13 30h2m-2 1h4m-5 3h3m-3 3h4m-192 36h3m-57-33h2m-11 8h2m-5 2h2m-38-10h4m23 16h4m-14 3h4m-13 2h2m-9 5h2m-39-2h4m1 1h2m-3 3h2m0 2h3m-6 1h2m0 1h2m0 2h2m-85-17h4m-55 7h3m-5 3h3m-5 9h2m-37-33h3m11 15h4m14 1h4m-10 16h2m-40-26h3m-49-8h3m-8 1h3m7 6h2m-9 3h4m4 20h4m-96-15h2m8 6h4m-135 2h2m-9 4h2m-5 6h4m-9 1h2m3 0h3m-51-3h3m-4 6h2m-31-10h2m5 1h4m-9 5h2m2 0h2m-42-20h2m-11 2h2m-1 6h2m11 7h2m-10 5h4m-7 1h3m-47-29h2m-2 9h2m-32-11h2m-18 18h2m-26-22h2m2 0h2m-8 1h2m-19 6h2m36 17h2m-5 3h3m-35 6h2m-8-31h2m-9 2h2m3 6h3m-7 1h2m-1 17h2m0 7h2m-12 1h3m-5 3h2m-50-12h3m-22-12h3m36 46h2m29 10h2m3 4h3m4 2h2m-13 1h2m15-13h2m3 0h4m-6 2h2m0 2h2m8 6h2m-2 4h2m25-21h3m-8 2h2m4 2h2m-4 2h2m9 1h2m2 1h2m-14 7h2m24 1h2m10-7h2m-6 1h2m112-26h3m-35 22h2m18 2h2m-12 1h2m-14 2h2m8 0h2m-6 1h4m16 5h2m29-34h3m-3 3h4m-7 2h4m-5 2h4m3 14h2m15 0h2m-15 5h2m-22 1h3m46-21h2m5 5h4m-11 4h2m9 0h3m-12 1h3m-4 1h4m-3 0h2m1 0h2m-12 1h2m1 0h2m6 1h2m-13 4h2m2 0h3m-5 6h2m40-11h2m2 1h2m48-13h2m-8 17h2m2 13h2m25-22h3m24 1h2m-22 1h2m18 0h2m-30 10h4m-11 1h4m-6 2h2m-2 9h4m35-20h3m9 19h2m27-16h4m14 13h2m36-33h2m1 0h2m-4 1h4m11 1h2m2 2h2m-4 4h2m-9 3h2m2 4h2m1 2h2m9-14h2m-5 1h4m-1 20h4m5 4h2m19 4h3m-33 1h4m10 2h2m-16 2h4m41-12h2m-2 4h2m23 1h2m-8 2h4m2 3h2m12-18h2m7 2h4m8 18h2m38-36h4m-1 2h2m-6 2h2m-1 0h2m50 14h4m163 8h4m44-6h2m0 0h4m-4 1h2m-5 5h2m64-26h4m-6 6h2m3 56h3m-3 0h4m17 1h2m-22 2h2m-49-12h3m-4 1h2m25 17h2m4 5h2m-66-38h2m-10 3h2m-32 12h2m-8 3h2m-167 16h2m3 0h2m-41-3h2m-83-15h4m-8 3h2m0 3h2m4 0h3m3 10h2m7 3h3m-67-30h2m-2 4h2m1 0h3m-28-10h2m-4 3h3m2 0h4m-8 2h2m-5 1h2m4 0h2m-3 1h3m8 17h3m-36-16h2m-18 13h2m-60-13h2m-32-3h2m4 5h2m2 2h2m-2 3h2m11 15h4m-78-14h2m-2 1h2m29 0h2m-17 9h2m-42-20h2m-19 7h3m1 1h2m1 1h2m27 5h2m-11 3h2m-30 2h3m35 0h3m-14 1h2m7 0h2m-9 12h2m-46-30h4m5 17h2m2 4h2m-20 8h2m-10 1h2m0 1h3m-39-39h2m-3 3h2m3 2h2m12 5h2m-27 16h2m-32-17h2m-6 1h4m-48 1h2m2 0h2m-5 3h3m5 1h2m-11 2h3m-2 9h2m-38-12h2m4 8h2m-3 3h4m-16 8h2m26 0h2m-54-31h2m4 12h2m-7 4h2m-103 9h2m-8 6h2m-7-3h2m-1 0h2m-11 9h2m-33 33h2m-2 5h2m24-35h2m-14 2h2m-2 16h3m-6 2h2m21 5h2m-1 2h2m-3 1h2m-2 5h3m3 0h2m26-18h2m79-14h2m10 30h2m-7 5h2m14-35h2m21 2h2m4 3h2m-27 9h3m-2 0h2m-9 3h3m24 4h3m-10 2h2m7 2h2m-32 4h2m-6 2h3m-4 1h3m30 1h3m3-33h2m5 1h2m1 0h3m25 34h4m16-27h2m-4 1h3m77-7h2m43-2h4m4 0h2m-4 2h2m-6 1h2m33-5h2m6 2h2m-7 4h2m7 0h2m-6 1h4m-2 1h2m-4 1h3m-2 1h3m36-11h3m81 20h2m6 3h2m-13 1h2m-1 0h2m-28 1h3m25 0h2m-29 3h2m30 0h2m-11 1h3m3 1h2m0 0h2m1 1h3m-11 5h3m32-26h4m-2 2h3m2 5h2m8-13h2m27 6h4m-5 10h4m0 18h2m-24 1h2m52-30h2m-7 15h2m38-11h2m-2 10h2m17 16h4m8-23h2m-8 2h2m9 2h2m-8 3h2m60-17h2m-26 11h3m68-2h4m-1-2h2m-4 5h4m-4 1h4m3 1h2m-2 1h2m87-12h2m1 1h2m-5 2h3m0 0h2m-4 1h3m4 1h2m-5 1h4m-9 5h3m0 0h2m3 0h4m-13 3h2m5 3h2m-11 1h2m0 6h2m40-15h3m-7 8h2m53-25h2m-9 3h2m-12 10h2m25 5h3m-16 4h2m2 3h3m-7 4h4m8 0h2m-7 4h2m9-3h4m38 5h2m-82 6h2m14 6h2m-11 6h2m-16-12h2m-16 7h2m-2 2h2m-1 6h2m-2 0h3m-43-15h2m2 1h4m-3 2h2m-9 1h3m-4 1h4m-4 0h2m3 0h2m-2 1h3m-55-2h4m10 4h2m-11 3h2m-3 2h2m0 3h2m-1 4h4m1 0h3m-60 13h3m-17-6h2m0 2h2m-6 3h2m-47-16h4m-4 4h2m-71-21h2m5 1h2m23 8h2m-38-5h2m-33 23h2m-37-23h3m22 1h3m-4 1h2m-28 2h3m7 1h2m-13 18h2m15 1h2m-20 2h4m16 1h2m-26 3h2m5 0h2m1 1h2m-33-36h3m0 0h2m-2 0h4m-27 1h3m27 0h2m-31 1h2m28 0h4m-10 3h2m-4 8h2m-2 2h2m12 20h2m-103-27h2m2 6h3m-12 16h3m-69-24h2m-22 12h2m-11-5h2m-2 3h2m-12 11h2m-41 7h3m2 1h4m-50-35h4m-5 1h4m-1 0h2m4 2h4m-12 1h2m5 6h2m-30 10h3m-37-20h2m-2 32h2m-4 5h2m-63-34h2m2 2h2m4 28h4m-36 5h2m-74-18h2m2 3h2m-2 3h2m2 1h4m-128 0h2m-13 3h2m3 0h2m-9 3h3m2 1h2m-31-30h2m-12 3h2m-3 2h2m36 70h2m37-2h2m45-37h2m-2 3h4m13 11h2m-19 1h4m14 1h2m-16 1h2m2 1h2m-4 6h3m3 3h2m10 2h3m23-6h2m18-15h2m2 6h4m7 5h2m1 19h2m25-24h2m72-9h2m6 7h3m1 3h2m-1 1h2m-4 2h2m7 4h2m-5 5h4m2 2h2m29-11h4m0 0h2m42-11h4m6 15h3m-25 6h2m3 0h3m17 5h3m-22 1h2m37-24h2m2 3h2m-22 12h2m56 1h2m-17 4h2m-5 3h2m45-16h2m70-13h2m7 16h2m138-18h2m6 3h4m-37 3h3m-1 0h2m26 4h4m-35 2h2m1 3h2m36-11h3m1 10h2m-8 6h4m-3 0h2m3 4h4m-9 1h2m196-23h2m34 25h2m3-10h4m-4 2h2m3 8h2m53 9h2m-8 1h4m-61 13h2m5 3h3m-46-7h2m-3 2h2m30 2h2m-32 2h2m30 0h2m-106 24h4m-5 1h4m5 0h2m-52-23h2m-26 11h4m-32 4h3m-6 5h2m-116-28h2m3 0h2m-8 1h3m-20 26h4m-133-25h2m10 14h2m-4 3h2m6 4h2m-31 5h2m-26-33h2m4 0h2m-1 2h2m-7 8h2m-1 0h2m-4 4h3m1 18h4m-34-29h2m-2 3h4m-1 2h3m-13 2h2m-5 1h2m-75-10h3m-3 26h4m-4 1h3m1 0h2m0 1h4m-12 1h2m-65-31h3m-7 3h2m-33-5h2m2 0h4m-7 2h2m-2 1h3m0 0h2m-6 2h2m-1 0h2m-9 3h2m24 7h2m-47 5h2m-13 1h2m-42-21h2m11 30h2m-51-9h2m6 16h2m-58-35h4m2 0h3m-13 9h4m19 11h3m1 7h4m-58-13h2m0 2h2m-6 7h3m-61-25h2m0 1h2m27 0h2m-7 2h2m111 37h2m65 11h2m-2 11h2m175 1h2m-14 2h2m-6 4h2m7 0h2m-12 10h2m93-13h4m-1 3h2m65-19h2m95-4h2m58 33h4m33-21h2m43 10h2m137-21h2m33 15h2m0 7h4m-8 4h2m2 1h2m1 0h2m-13 2h2m2 0h4m6 2h2m-11 1h4m21-4h3m-3 1h2m88-24h2m2 0h2m-21 63h2m-22-28h2m-6 26h2m5 6h2m9 0h3m-59-34h2m-10 12h4m-38-17h2m16 0h2m-4 2h4m-44 32h2m-2 1h3m-6 3h4m-114-1h2m-118-37h3m-1 2h4m-12 27h2m2 8h3m5 2h2m-33-39h2m-19 32h2m13 3h2m-60-17h2m-4 7h2m7 6h2m1 0h2m-36-29h2m7 0h2m1 0h2m-5 2h2m-15 2h2m11 1h4m-3 13h2m-21 3h2m-5 8h2m3 6h2m-49-3h2m5 2h4m-3 3h3m-53-21h2m5 5h4m-11 1h2m1 1h3m-5 2h4m-1 3h3m-11-10h2m-38 9h2m-42-21h2m22 1h2m-1 2h2m0 1h2m2 0h2m-17 1h4m-7 3h4m16 0h4m-1 0h2m-38 2h2m4 1h2m2 1h3m2 4h3m-6 2h2m1 2h2m-4 1h2m-3 1h2m-24-24h2m-11 10h2m-52 1h2m5 5h4m-28 14h3m-79-22h3m-134-14h2m4 5h3m-142 15h3m-12 2h2m93 28h3m-12 7h2m3 2h2m110 16h2m-5 1h2m100-22h2m-1 10h2m-5 1h4m-3 1h2m-3 4h2m-5 2h2m34-22h4m-22 3h2m19 0h2m-26 1h2m3 0h2m13 0h2m-21 1h2m21 0h2m0 0h4m-2 0h3m-7 8h2m-5 3h4m2 0h2m-8 1h2m1 1h2m40-10h4m-13 3h2m5 1h2m22-21h2m-10 3h2m7 0h2m15 21h2m-10 1h2m-7 1h2m-3 1h2m7 3h4m-8 4h2m27-29h2m-2 2h2m22 20h2m42-26h3m-2 10h3m30-11h3m2 0h3m-26 13h2m2 3h2m-8 9h4m0 0h2m27-23h4m20 6h2m-26 1h2m25 0h3m-26 3h2m22 1h3m-32 1h3m3 3h2m-5 1h4m0 1h3m-7 2h3m1 0h2m1 3h3m11 1h3m-1 2h4m6 9h2m8-23h2m90-14h2m-9 12h4m20 4h2m-18 1h4m5 2h3m-28 1h2m32 0h2m0 1h3m-41 1h2m25 1h3m-20 1h3m19 4h3m-29 9h2m33-37h4m25 34h4m1 4h2m30-19h2m-28 13h2m-4 1h4m74-32h3m-5 1h3m0 0h2m-7 1h2m-32 31h3m-2 3h2m34-36h2m2 0h2m5 3h2m4 2h3m-17 1h2m64 22h2m-7 6h3m-6 1h2m19-20h2m0 10h2m-6 6h2m93-12h3m3 8h2m-13 11h2m82-9h4m-7 17h3m7 4h2m11 0h2m-1 2h3m-12 1h4m-1 1h2m-9 4h2m5 3h2m-17 2h2m-3 15h3m-56-31h4m-3 4h3m16 15h3m-19 3h2m9 1h2m-46-24h2m6 0h2m-14 2h2m-3 2h2m3 0h2m19 1h2m-4 4h2m-9 2h2m-16 4h2m12 2h4m-2 1h2m-19 3h2m10 1h2m15 0h2m-19 1h2m-37 5h2m-67-21h4m-2 3h2m4 0h2m9 1h3m-15 1h4m14 2h3m-16 5h2m8 13h4m-57-35h3m-1 2h2m-2 1h2m2 0h4m2 0h2m-23 4h2m36 1h2m-34 2h2m-6 3h3m22 0h3m1 0h4m-12 1h4m-4 2h2m2 2h2m6 14h2m-65-32h2m0 0h4m4 0h2m-6 1h2m1 5h2m-20 14h3m-7 1h2m8 3h2m27 1h2m-33 1h2m-31-26h2m-8 3h2m3 0h2m-4 3h3m6 3h4m-7 1h2m-21 2h2m0 1h2m15 1h3m-18 1h3m3 2h2m-2 4h3m-2 0h3m-6 2h2m3 2h3m2 2h3m13 3h2m-15 1h3m5 4h2m-57-34h3m8 1h2m-8 4h2m-24 1h2m-2 0h2m2 1h3m-2 3h2m13 0h4m13 1h2m-9 1h2m-4 1h3m-21 1h3m6 1h3m9 1h3m-6 2h4m-29 3h2m16 4h4m-5 1h2m-1 2h2m-28-28h2m1 1h2m-4 2h2m-4 2h4m-4 1h2m2 0h2m-7 4h2m2 0h2m-1 0h2m-11 1h4m6 2h4m-7 3h2m-21 4h2m1 2h2m14 0h3m-17 4h2m15 4h4m-52-3h2m-67-19h2m-3 5h3m28 21h2m-43-22h3m-42-3h3m-20 1h2m-66-13h2m-20 1h2m18 1h2m0 1h2m-14 1h3m-22 4h3m2 1h2m-9 17h2m-31 2h2m20 0h4m-27 8h2m0 0h2m-24-35h2m-10 32h4m-7 2h2m-65-16h2m-4 3h3m23 13h2m6 1h2m2 1h3m-54-37h2m-26 1h2m-5 6h3m18 2h2m-5 16h2m15 0h2m-22 1h2m0 6h2m-16 3h4m-13-11h4m-38 12h2m-23-22h4m-22 11h4m0 0h2m25 11h2m-44-16h3m-5 2h2m-2 0h2m-9 3h2m2 1h2m-24 5h3m-3 6h2m3 0h3m-44-17h2m6 1h2m-1 7h2m16 7h2m1 0h3m-8 1h4m2 1h4m-61-13h4m-3 0h2m-41-9h2m-2 1h2m-113 50h2m0 1h2m1 2h2m-4 1h4m-1 0h2m3-2h2m2 1h2m30 3h2m14-18h4m-10 5h3m25 8h4m-8 1h4m3-3h2m75-26h2m-24 27h2m-17 2h3m14 1h2m-1 4h2m55-35h3m-1 4h2m-28 2h4m0 21h2m-5 1h2m-3 1h4m-7 1h2m8 1h2m-14 2h2m8 5h2m25-37h2m3 2h3m-8 3h2m29 9h3m-5 4h2m-9 3h2m-22 10h2m69-25h4m-35 2h2m32 0h2m-3 4h2m-20 4h2m7 0h2m0 2h3m-12 2h2m-1 0h2m8 5h4m4-23h2m26 0h2m5 2h2m-34 5h2m28 0h4m-4 0h2m-3 18h2m-10 5h2m11 6h4m-2-33h2m-2 3h2m13 17h2m1 2h2m5 0h2m40-27h3m-5 2h2m6 1h2m-30 1h4m28 3h2m28-6h2m1 2h2m-9 1h2m1 1h2m7 0h2m-8 15h2m0 4h2m-8 1h3m-10 6h2m32-29h2m-2 1h4m14 7h2m41 12h2m4 1h2m-31 1h2m24 0h2m-2 1h2m-25 1h3m3 1h3m13 1h2m6-3h4m-2 1h3m-7 4h2m-1 0h2m21 2h2m-5 2h2m48-4h2m2 5h2m10-11h2m-2 6h4m1 1h4m-3 2h2m-14 2h2m65-33h4m-2 5h4m-2 0h2m-8 5h2m0 5h2m-17 3h2m-13 18h3m70-24h2m-35 2h4m4 12h4m8 4h4m17-24h4m-1 13h2m-2 3h2m-8 11h4m18 1h2m-24 2h2m88-39h4m3 9h2m1 1h4m-6 3h2m-1 0h2m14 15h2m-16 4h2m7 3h4m4 2h2m21-33h4m-11 1h4m6 1h3m-1 3h2m-3 6h2m-1 1h2m0 4h2m-16 2h3m14 16h2m42-37h4m-4 1h4m-1 1h2m-10 12h2m3 1h2m-10 1h2m1 2h2m-20 11h3m-15 9h4m42-39h3m-7 1h2m16 4h2m-6 3h2m-4 19h2m-1 0h4m-12 1h2m2 0h2m7 4h2m-20 4h2m25 0h2m29-35h2m7 27h2m-19 4h2m-1 6h3m29-38h2m8 0h2m-10 5h4m12 0h2m-1 0h2m-13 2h2m-2 1h2m16 21h4m-5 2h2m-2 5h4m23-34h2m5 0h3m10 0h2m-4 4h4m-7 1h2m-9 6h2m-13 2h4m4 5h2m-7 1h2m-4 4h2m4 8h2m-8 2h3m31-29h2m0 10h2m-14 39h2m-45 16h2m-82-29h3m-49 12h2m-13 3h2m14 11h3m-41-24h2m-40 7h2m3 3h2m-1 2h4m-5 2h2m2 5h2m28 0h2m-33 1h2m-40-23h2m19 6h2m0 5h2m2 18h4m-65-28h2m-7 2h2m9 5h2m-6 2h2m-36-10h2m-21 1h2m20 1h2m-8 3h2m-13 10h2m18 0h2m-12 6h2m3 1h4m-11 2h2m0 0h2m-2 1h4m4 6h4m0 1h4m-64-32h2m25 1h2m-23 1h4m-8 3h2m-3 4h2m-1 0h3m3 1h2m-62-9h2m-2 2h4m16 1h2m-15 2h2m-6 5h2m1 13h4m-50-25h2m34 2h4m-10 2h4m5 0h2m-26 17h3m-6 2h4m4 2h2m-25-19h2m-16 5h2m12 0h2m-23 7h2m-29 19h2m-2 1h2m-39-16h2m-16 4h2m-7 2h2m-1 0h2m5 1h2m-6 10h3m-58-28h4m1 7h3m-9 1h2m3 19h2m-36-29h2m4 4h2m18 4h2m-6 1h2m-1 20h2m-40-34h2m-30 12h2m-3 5h2m28 18h2m-58-30h2m5 0h4m-16 3h2m-52-8h2m14 23h2m4 1h4m-7 4h4m-3 7h2m-55-25h3m-2 10h2m-34-23h2m-4 5h3m-13 6h3m-4 3h2m24 19h2m-12 2h3m-64-34h4m-6 26h2m10 1h3m-46-29h2m4 2h2m-16 16h2m-11 21h2m-2 0h2m-81-15h2m26 29h2m1 3h2m-6 3h2m-15 17h4m36-8h2m5 7h4m8 3h2m3 0h2m-12 1h2m0 0h2m62-19h2m15 5h2m-5 6h2m53-9h4m-5 5h3m-26 12h2m42-8h2m51-24h2m3 30h2m10-12h2m7 1h2m-12 3h2m26 3h4m-35 2h2m30 1h2m-38 3h2m36 0h3m24-26h2m-11 1h4m7 3h2m6 1h2m-4 2h2m-2 0h2m-8 3h4m-12 2h2m6 0h3m-6 1h4m-5 4h2m-3 1h2m-17 1h3m1 1h2m-10 2h2m-2 1h2m7 0h4m-16 1h2m15 0h2m-18 1h2m37-33h2m35 8h2m-9 2h2m-31 9h4m45-23h3m-9 1h2m41 5h2m-1 1h2m1 2h2m5 10h4m-1 5h2m46-13h2m1 0h2m-2 6h2m-10 1h2m2 5h2m18-20h2m2 1h2m-11 2h3m8 0h3m17 0h2m-1 1h4m-31 1h2m-10 5h2m15 1h4m5 18h3m2 2h2m-18 1h4m-5 1h2m-6 3h2m10 0h3m46-36h2m-2 2h2m-8 1h3m5 0h2m-16 3h2m-2 1h3m9 2h2m31-11h4m56-1h2m58 1h4m-20 5h2m202-2h2m0 0h4m-6 2h2m17 31h2m2 0h4m39-19h3m57 8h2m-13 34h2m12 2h2m-5 9h3m-12 2h2m2 1h2m-9 3h4m-113-27h3m-163 10h3m5 5h3m-13 3h3m-2 0h2m3 0h3m-35-16h2m-2 12h2m-5 2h3m-16 11h2m-36-10h4m-7 2h2m-3 1h2m4 0h2m-3 1h3m-14 1h2m2 1h2m-3 1h2m-74-31h2m-1 3h2m4 0h3m-5 3h2m-47-7h4m-15 10h2m1 2h2m4 0h2m16 0h2m-29 11h3m8 1h2m-51-24h2m0 0h4m-1 3h2m0 1h2m6 3h3m-5 8h2m-65-16h2m1 2h3m0 0h2m-4 5h2m8 10h2m3 0h2m-1 0h2m3 0h4m-19 7h2m8 0h2m11 1h2m-14 1h3m-38-4h4m-71-9h2m-29-8h2m19 5h2m-8 2h2m-48-13h2m-23 13h2m-4 4h2m-2 20h2m-37-36h2m-3 3h4m16 12h3m-2 4h2m-8 3h2m12 0h4m1 6h3m-11 6h2m-8 2h2m-66-29h2m-8-2h3m-43-4h2m-6 15h2m7 9h4m-40 11h2m-23-24h2m-10 2h2m-50-12h3m15 0h2m-25 2h4m-1 14h2m28 7h3m-9 5h2m-45-30h2m2 0h2m3 0h2m-8 1h2m7 0h2m-9 2h2m6 18h2m-30 1h2m2 6h2m-6 2h3m0 0h2m0 1h3m-8 5h2m-13-30h2m-31 6h4m5 2h2m-5 3h2m-3 1h4m-7 1h2m12 0h2m1 1h2m-16 1h2m8 2h2m11 0h4m-18 1h2m4 0h2m6 0h3m-10 2h2m-6 1h2m3 1h2m-18 1h2m-2 1h2m7 2h4m-7 1h4m-5 1h2m1 4h2m-72-35h2m-6 3h2m0 3h4m2 1h4m206 31h2m76 0h2m484 0h4" stroke="#0a00ff" stroke-width="2.4"/>
<path d="M243 48h2v3h-2zM411 65h3v2h-3zM321 56h2v2h-2zM262 101h3v2h-3zM325 33h2v2h-2zM396 63h2v2h-2zM306 46h2v2h-2zM392 105h3v2h-3zM368 93h3v2h-3zM329 85h3v3h-3zM462 123h2v2h-2zM401 76h3v2h-3zM432 62h3v3h-3zM442 101h2v3h-2zM353 93h2v2h-2zM322 79h3v2h-3zM471 75h3v3h-3zM398 114h2v2h-2zM371 126h3v2h-3zM1146 790h3v2h-3zM1153 792h3v2h-3zM1143 699h3v3h-3zM1148 665h2v3h-2zM1140 777h4v2h-4zM1135 788h2v3h-2zM1165 699h4v2h-4zM1146 726h4v2h-4zM1155 612h3v2h-3zM1135 756h3v2h-3zM1148 734h3v3h-3zM1125 775h2v2h-2zM1092 777h2v2h-2zM1129 754h2v2h-2zM1163 769h2v2h-2zM1039 743h3v3h-3zM1104 715h3v3h-3zM1046 795h4v2h-4zM1123 753h3v2h-3zM1061 736h2v3h-2zM1018 721h4v2h-4zM1130 755h2v3h-2zM1153 776h4v3h-4zM1098 794h2v2h-2zM921 782h4v3h-4zM1006 785h3v2h-3zM884 779h4v2h-4zM1023 778h3v2h-3zM994 758h2v2h-2zM970 793h2v2h-2zM1148 782h2v2h-2zM1114 796h3v2h-3zM1037 779h2v2h-2zM996 791h4v3h-4zM1110 774h2v2h-2zM956 776h2v2h-2zM731 790h4v2h-4zM1026 589h2v2h-2zM1012 678h4v2h-4zM1052 681h4v2h-4zM894 590h2v2h-2zM983 594h2v2h-2zM925 605h2v2h-2zM969 609h2v2h-2zM941 633h3v2h-3zM1058 781h2v2h-2zM804 794h3v3h-3zM770 764h2v2h-2zM793 776h4v2h-4zM1151 618h4v3h-4zM185 626h3v2h-3zM515 640h2v2h-2zM898 128h2v3h-2zM118 86h2v2h-2zM568 212h2v2h-2zM597 333h2v2h-2zM960 378h2v2h-2zM459 459h2v2h-2zM684 54h3v2h-3zM599 422h2v2h-2zM1009 151h2v2h-2zM589 376h3v3h-3zM671 278h2v2h-2zM798 508h2v3h-2zM952 39h3v2h-3zM1162 283h2v2h-2zM1030 678h2v2h-2zM1083 499h2v3h-2zM722 133h2v2h-2zM203 83h3v3h-3zM466 738h2v2h-2zM590 124h2v2h-2zM921 797h3v2h-3zM229 401h2v3h-2zM1153 285h2v2h-2zM1019 607h3v2h-3z" fill="#ffa020" fill-opacity=".8"/>
<path d="M335 131l-2 -3 2 -4 5 1 -2 3zM410 56h3v2h-3zM231 99h3v3h-3zM193 84h2v2h-2zM300 84h3v2h-3zM376 121h3v3h-3zM362 62h2v2h-2zM294 93h3v2h-3zM321 103h2v2h-2zM295 94h2v3h-2zM214 44h2v3h-2zM304 93l0 -3 3 -3 1 0 -1 4zM308 51h3v2h-3zM177 88l3 -2 2 -1 2 2 -5 2zM309 89h2v2h-2zM214 46h2v2h-2zM296 85h3v3h-3zM323 70h4v3h-4zM184 68h3v2h-3zM329 66l0 -4 4 -2 4 0 -3 4zM256 74l1 -1 2 -1 2 3 -2 0zM310 104h4v3h-4zM296 100h2v2h-2zM243 110h2v2h-2zM368 111h2v3h-2zM295 61h3v3h-3zM355 56h4v2h-4zM241 101l0 -1 3 -1 2 2 -2 2zM284 93h2v3h-2zM352 125h3v2h-3zM355 71h3v2h-3zM314 58h3v3h-3zM336 83h4v2h-4zM262 68h3v2h-3zM421 109h2v3h-2zM392 84l1 -3 3 0 2 2 -1 2zM449 128h4v2h-4zM454 117h4v2h-4zM425 110h4v3h-4zM403 137l0 -3 2 -4 4 0 -4 6zM386 111h4v2h-4zM442 58h3v3h-3zM370 115h2v2h-2zM385 128h2v3h-2zM368 67h3v2h-3zM464 57l-4 -1 -2 -5 4 0 3 1zM440 97l-4 1 -4 -4 3 -2 6 4zM417 91h2v2h-2zM335 79l2 -1 4 -1 2 2 -4 3zM440 49h3v3h-3zM354 85h3v3h-3zM389 108h2v2h-2zM1165 652l-2 0 -1 -1 3 -3 2 2zM1114 699l-2 -4 0 -4 5 0 0 5zM1170 647l-2 -2 0 -7 1 0 2 6zM1166 802l-2 0 -2 0 4 -3 2 1zM1153 791h3v2h-3zM1125 624l-5 4 -3 -2 1 -2 4 -2zM1136 727l2 -2 4 -1 1 2 -3 1zM1147 801l1 -3 5 -2 0 1 -3 3zM1163 786l-3 2 -1 -6 2 0 4 2zM1141 769l1 -3 3 0 1 3 -3 1zM1169 595l-2 -2 3 -3 2 3 -1 3zM1155 727h2v2h-2zM1150 686l-2 -3 1 -2 2 0 1 4zM1159 707h2v3h-2zM1165 749l-1 -4 0 -5 2 1 1 5zM1139 745h3v2h-3zM1150 769l-3 1 -1 -1 0 -2 1 1zM1145 680l-2 -5 1 -2 1 -1 1 3zM1136 640h4v3h-4zM1164 599l-4 -4 -1 -3 2 -3 2 6zM1160 679h4v2h-4zM1166 800h3v3h-3zM1161 595h3v2h-3zM1130 658h3v2h-3zM1166 598l-2 -3 3 -6 1 2 -1 2zM1133 596l-3 -3 0 -3 5 1 1 3zM1148 659h4v3h-4zM1153 637h2v2h-2zM1139 625l-1 -2 -1 -4 3 0 0 2zM1163 662h2v2h-2zM1145 726h2v2h-2zM1159 629l-4 5 -5 -2 -1 -3 6 -1zM1150 790h4v3h-4zM1159 712l-3 -1 -1 -4 3 1 2 3zM1153 607l-1 -3 1 -4 2 0 0 5zM1145 668h3v2h-3zM1157 682l1 -3 4 -3 0 3 -1 3zM1135 662l-1 -3 4 1 0 2 -3 2zM1144 759l-1 -3 0 -2 3 1 0 1zM1137 764l-2 1 -3 -3 2 -4 3 2zM1142 672h3v3h-3zM1139 675l-2 -1 0 -3 0 -2 3 3zM1139 739h2v2h-2zM1159 787l-2 1 -3 0 1 -4 3 0zM1150 613l-4 1 -3 -2 0 -2 3 1zM1160 717h4v2h-4zM1158 763l-3 -2 1 -2 1 -1 2 2zM1165 707l-5 3 -3 -1 1 -5 5 1zM1166 750l-4 3 -3 -2 1 -4 4 1zM1141 447h2v2h-2zM1133 759h3v2h-3zM1142 677l2 -2 4 -2 0 3 -1 0zM1142 730h2v2h-2zM1139 752h2v3h-2zM1130 704h3v3h-3zM1166 659l3 -3 3 0 0 2 -3 4zM1149 717l0 -2 3 -2 2 2 -2 1zM1129 670l0 -3 1 -2 3 1 -2 4zM1157 657h3v2h-3zM1160 750h3v2h-3zM1149 723h4v3h-4zM1163 684l-2 -2 2 -2 3 -1 -1 3zM1146 684h2v2h-2zM1153 780h3v2h-3zM1167 642h3v3h-3zM1145 779h2v2h-2zM1166 717h3v2h-3zM1142 623l-1 -3 2 -1 1 2 2 3zM1154 750l-2 1 -5 0 2 -3 4 -1zM1169 701l-2 -4 0 -5 3 -2 0 5zM1138 586l-2 -5 0 -3 3 0 0 5zM1142 801l1 -3 7 -2 -1 3 -4 2zM1133 773l-2 3 -1 -3 1 -3 3 0zM1147 698h2v2h-2zM1159 621h2v3h-2zM1134 706h4v2h-4zM1140 720l-6 0 -3 -2 2 -1 4 0zM1161 710l-3 -1 -1 -7 3 0 2 4zM1134 764l2 -3 2 0 0 2 -2 0zM1158 674h2v2h-2zM1146 725h3v2h-3zM1151 582l1 -3 2 -3 3 3 -2 2zM1151 792h3v2h-3zM1139 792l1 -3 1 0 2 3 -2 2zM1134 668h2v2h-2zM1138 754h2v2h-2zM1153 783l-6 0 -3 -2 -1 -2 6 1zM1146 579l0 -5 3 2 3 2 -1 3zM1154 609l0 -3 2 -2 2 1 -2 3zM1151 729l1 -6 2 -2 1 1 -1 3zM1151 727h3v2h-3zM1121 732h4v2h-4zM1148 743l-2 1 -1 -3 1 -1 2 0zM1126 749h3v3h-3zM1079 750l0 -1 3 0 1 2 -3 0zM1122 776l-2 -1 -2 -2 4 -2 1 3zM1078 793l-4 0 0 -2 1 -3 4 1zM1083 792l-2 -2 0 -4 3 -1 0 6zM1056 726l-4 -2 -5 -2 5 -4 4 3zM1132 720h3v2h-3zM1125 768h2v2h-2zM1027 744l-2 2 -1 -1 1 -2 2 0zM1024 762l-3 -1 -3 -1 2 -4 2 1zM1106 749l-3 1 -4 -2 2 -1 3 0zM1085 781l-2 0 0 -2 0 -2 2 2zM1085 788h4v3h-4zM1091 768l-2 -1 -1 -3 1 -1 2 3zM1121 795h4v3h-4zM1135 775l1 -4 2 1 0 3 -1 2zM1121 747l1 -3 4 -1 3 2 -4 2zM1084 743l0 -2 2 -2 2 1 -1 4zM1055 747h3v2h-3zM1099 793l-2 1 -6 -3 2 -1 3 0zM1160 786h3v2h-3zM1097 803l2 -2 3 -2 1 1 -3 2zM1108 796l-3 0 -1 -5 3 -1 3 3zM1130 751l-4 0 0 -1 1 -4 4 3zM1144 746l-4 1 -3 -3 4 -2 2 2zM1155 759h2v2h-2zM1120 766h3v3h-3zM1118 801h3v2h-3zM1153 750l-3 -2 0 -2 3 0 1 2zM1008 751l1 -3 1 -1 3 1 -2 3zM1069 741h3v3h-3zM1071 730h3v3h-3zM1162 797l-5 -1 -1 -7 5 0 1 4zM1158 730h3v3h-3zM1131 727l-3 1 -4 -2 2 -2 4 0zM1088 762l2 -4 2 -3 3 3 -1 3zM1083 703l-2 2 -3 -2 2 -3 2 -1zM1075 780l-2 -3 2 -3 4 1 -2 2zM1093 779l-5 -3 0 -5 0 -2 4 5zM1098 784l-1 -1 1 -2 2 2 0 2zM1161 756l-2 0 -2 -2 2 -1 2 2zM1145 771h2v3h-2zM1139 756h3v2h-3zM1080 740h3v2h-3zM1122 750h2v2h-2zM1158 733h3v2h-3zM1119 725h3v2h-3zM1119 803l-2 2 -3 -7 4 0 3 1zM1089 748h4v3h-4zM1028 795l-3 -3 2 -3 3 1 0 1zM1160 783h3v3h-3zM1141 718h4v2h-4zM1109 795h2v3h-2zM1111 741h3v2h-3zM1082 776h4v3h-4zM1104 746h4v3h-4zM1134 754l-3 -1 0 -3 3 0 1 2zM1120 789l-1 -4 2 2 1 3 -2 2zM1113 769h3v2h-3zM1145 778l-1 2 -3 -2 -1 -4 4 1zM1162 701l3 -3 2 -2 1 6 -2 1zM1097 771l-2 -1 1 -2 1 0 1 2zM1006 749l-4 -2 -1 -3 1 -1 2 2zM1087 790l-3 0 0 -3 2 0 1 1zM1108 786h3v3h-3zM1038 752l2 -6 2 -5 4 4 -3 3zM1030 793l-3 -3 2 -3 2 1 2 4zM1141 791h2v2h-2zM1048 782h2v2h-2zM1045 804l-4 -1 -2 -2 1 -2 3 2zM1015 799l1 -2 3 0 3 0 -4 4zM1066 787h3v2h-3zM1129 796l1 -4 3 -2 2 -1 -3 5zM941 799l-2 0 2 -2 3 0 -1 2zM1136 775l1 -3 5 -2 1 2 -2 3zM808 780h2v2h-2zM977 788h3v3h-3zM854 793l-2 -3 -1 -4 4 1 2 4zM830 788h3v2h-3zM1010 788h2v3h-2zM969 774l-3 2 -1 -2 3 -2 3 1zM1154 787l-1 -3 2 -1 2 0 0 3zM1134 777h3v3h-3zM939 782h3v2h-3zM800 789h3v2h-3zM995 787l-3 -1 2 -6 3 2 0 5zM852 804l-2 -2 1 -4 2 -2 1 5zM941 787l1 -3 6 -4 1 3 -3 3zM1057 793h3v3h-3zM988 792l2 -3 5 0 0 2 -4 1zM1045 787h2v2h-2zM987 762l-1 -1 -4 -4 3 -2 3 5zM944 780h4v2h-4zM1047 792l-3 0 0 -1 -1 -3 3 1zM1138 803l-5 2 -2 -4 2 -2 4 0zM855 782h3v2h-3zM1023 792h2v3h-2zM814 785l0 -3 0 -2 3 0 2 2zM1011 788l2 -3 2 -1 1 1 -1 2zM879 783l-4 3 -1 -3 1 -3 3 1zM824 783l-1 -3 3 -3 1 2 -2 3zM857 798l-3 -3 0 -2 2 -1 1 2zM767 778l-5 -1 0 -5 0 -3 3 4zM1016 763l-1 -3 4 -2 2 2 -2 2zM971 779l0 -3 1 -1 3 2 -1 2zM1105 790l-2 1 -3 1 1 -3 2 0zM1036 790h2v2h-2zM1087 787l0 -3 4 -1 0 4 -2 2zM901 779l-2 1 -3 -2 1 -1 4 0zM851 778l-2 -2 1 -3 2 -1 1 5zM965 773h3v2h-3zM946 799l-2 -2 4 -4 3 3 -2 4zM913 781h2v3h-2zM1003 773h2v2h-2zM1005 795l-3 2 -4 -2 2 -2 4 -1zM978 798l2 -1 2 -1 1 2 -3 2zM1041 785l-4 -2 -1 -2 3 -2 1 2zM998 781h2v2h-2zM898 781l0 -3 1 -1 2 3 0 2zM1099 607h3v3h-3zM1049 678h2v2h-2zM1112 700l-2 0 0 -4 3 -2 2 3zM1019 706h2v2h-2zM1095 609l2 -3 6 1 1 4 -6 -1zM1039 647l-1 2 -5 -3 2 -1 3 0zM1101 735h3v2h-3zM998 645h2v3h-2zM1145 669l-2 -1 -1 -5 2 0 3 2zM981 703h2v2h-2zM1063 666h2v2h-2zM1104 634h2v2h-2zM1070 709l-1 -2 4 -2 1 4 -3 3zM1024 672h2v3h-2zM1032 596h2v3h-2zM1083 650h3v2h-3zM1162 682h2v2h-2zM1086 689h3v2h-3zM1100 714l3 -6 4 -1 2 5 -4 2zM1091 651l-1 1 -3 -2 -1 -3 4 2zM1022 686l-2 -2 1 -3 3 0 0 3zM1105 599h3v3h-3zM977 691h2v3h-2zM975 596l1 -2 1 -1 1 2 -2 2zM1002 605h4v3h-4zM936 657h3v3h-3zM963 648h4v2h-4zM933 690h4v2h-4zM977 654h4v2h-4zM948 651h2v3h-2zM950 629l1 -1 4 1 2 1 -6 2zM983 709l-4 -1 -1 -3 2 0 4 0zM973 712l-2 -3 0 -1 2 0 3 2zM981 703l-3 2 -4 -3 -2 -4 9 1zM975 713l1 -4 3 -2 3 1 -4 5zM982 704l-4 1 -5 -2 5 -2 4 0zM972 700l1 -1 2 -1 1 1 -2 2zM1070 780l-5 -1 2 -3 4 -2 1 4zM1075 788l-2 3 -3 -1 1 -3 1 0zM1057 770l0 -3 1 0 2 0 -1 2zM1075 777l-2 4 -5 -4 3 -1 2 -3zM1077 780h3v3h-3zM1070 781l-2 -2 2 -4 2 0 -1 5zM1058 779l-4 1 -6 -4 5 0 5 1zM1069 787l1 -3 4 1 1 3 -4 2zM1072 785l-2 -1 0 -3 3 0 1 2zM866 793l-3 0 0 -3 0 -2 3 3zM844 801l1 -4 2 -1 2 3 -2 3zM801 792h2v2h-2zM811 784h4v2h-4zM851 799l-2 1 -7 -3 2 -2 3 0zM907 784h2v2h-2zM801 800l-2 -2 3 -2 2 1 -1 3zM829 799l-4 0 -5 -2 2 -2 6 0zM800 802l-3 1 -4 -2 1 -2 4 -1zM190 798l-4 1 2 -2 0 -3 4 3zM186 786h4v3h-4zM196 792h3v2h-3zM147 800h2v2h-2zM143 778h3v3h-3zM98 794h2v2h-2zM275 798h2v2h-2zM84 788l5 -2 5 0 2 2 -7 2zM110 792l0 -2 3 -5 2 0 -2 5zM1144 749l-3 -1 -2 -2 1 -3 2 2zM1147 747h3v2h-3zM1136 745l-3 3 -5 -1 3 -4 3 0zM1142 755l1 -3 3 0 0 3 -2 2zM1128 737h3v2h-3zM1155 767l2 -4 8 0 -1 3 -4 2zM1125 728h4v2h-4zM1131 743l-2 3 -3 0 0 -3 2 -2zM1143 738l-1 -2 2 -1 2 1 -1 2zM1136 744l-4 0 -2 -1 0 -3 5 1zM1156 634h2v3h-2zM1163 637l-4 -1 -1 -3 1 0 3 1zM1157 615h3v2h-3zM1169 598l-5 -1 -2 -3 3 -2 2 1zM1160 633l-5 1 -2 -3 4 -1 3 0zM1146 623l0 -4 4 -2 2 1 -2 4zM1164 605h3v2h-3zM1162 596h2v3h-2zM1156 640l1 -4 3 -2 2 -1 -2 4zM1156 636l-4 0 -3 0 0 -2 5 0zM188 381h2v2h-2zM583 786h2v2h-2zM310 351h2v3h-2zM508 557h2v3h-2zM662 525h2v2h-2zM528 558h2v2h-2zM850 729h3v3h-3zM875 314h2v2h-2zM127 557h3v2h-3zM755 387h2v2h-2zM675 780h2v3h-2zM1036 670h2v2h-2zM556 544h2v2h-2zM708 190h2v2h-2zM508 157h2v2h-2zM89 200h3v3h-3zM888 324h3v2h-3zM252 355h2v2h-2zM995 585h3v3h-3zM1028 627h2v3h-2zM755 370h2v2h-2zM1098 660h2v2h-2zM510 554h2v2h-2zM1028 542h2v3h-2zM316 74h3v2h-3zM473 514h2v3h-2zM1024 148h3v3h-3zM111 504h2v3h-2zM710 369h3v2h-3zM559 41h2v3h-2zM195 640h2v2h-2zM456 565h3v2h-3zM986 146h3v3h-3zM853 641h3v2h-3z" fill="#ff0"/>
</g>
<rect x="1193.00" y="28.00" width="1148.00" height="776.50" fill="#ff0000"/>
<clipPath id="cpb"><rect x="1193" y="28" width="1148" height="776.5"/></clipPath>
<g clip-path="url(#cpb)" fill="none" transform="translate(.3 .4)">
<path d="M1549 33h2m72-2h2m-6 7h3m2 0h2m20-7h2m5 4h4m0 2h2m-13 2h2m49-4h2m72 2h2m482-7h2m19 0h2m17 10h2m-7 2h4m-4 1h2m-21 16h4m-32 2h4m-8 7h4m-18 1h2m7 2h2m1 3h4m-6 2h2m-74-1h2m0 0h2m-4 1h3m-11-36h2m-11 6h4m1 4h2m-27 27h2m-3 2h4m-43-36h2m-5 5h2m30 10h3m-32 4h2m24 0h3m-11 1h2m-30 0h4m-2 2h2m-19 2h3m-94-10h3m0 6h2m-24-10h2m-3 1h2m-21 14h3m10 5h2m-29-19h2m-42-7h2m-5 5h4m-5 4h2m-8 2h2m-4 1h2m-66-15h2m-68 5h4m12 9h2m-28 14h2m-44-32h2m29 3h2m-15 3h4m11 0h4m-14 4h2m-4 13h2m-9 7h2m15 6h2m-2 1h3m-68-35h2m-5 9h3m-14-5h2m-20 7h2m-13 19h3m1 4h2m-51-24h4m23 1h2m-11 3h4m-18 16h3m-87-15h2m32 4h3m-38 2h2m28 3h3m-30 8h3m-12-16h4m-7 1h3m0 1h2m-8 5h4m6 0h2m-2 14h2m-41-31h2m-169-2h2m-41 22h3m-3 5h2m6 9h2m64-2h2m-28 5h2m21 3h2m-21 9h2m52 7h2m-12 1h2m81-10h2m25 15h2m26-30h2m-15 1h2m6 3h2m-13 7h2m-8 2h2m-5 1h3m-3 0h2m-3 17h2m-1 0h2m58-15h2m7 0h2m-1 3h2m-2 5h2m10-7h2m25 12h2m-9 6h3m51-25h2m-1 0h2m-8 25h2m8-25h2m29 6h2m-30 9h2m3 1h2m-5 2h2m15 3h2m36-28h3m3 2h2m-20 11h2m8 13h2m32-26h2m-6 4h2m-5 4h2m-10 1h3m8 2h2m14 2h2m26-4h2m1 6h2m-13 1h2m2 8h3m40-17h4m9 0h4m-4 2h2m-7 4h4m-16 2h4m20 3h2m-36 2h2m1 9h2m72-28h4m-15 3h2m-2 0h4m-17 2h2m59-3h4m-15 9h4m4 15h2m-9 5h3m11 2h2m-14 1h2m29-31h3m6 0h4m4 19h3m-6 4h2m-2 9h3m37-35h2m-23 1h2m14 10h3m-29 1h2m0 3h2m24 7h3m-23 9h3m37-35h3m2 0h2m8 9h3m8 1h2m-22 12h2m16 9h2m-22 8h3m44-25h2m-11 6h2m2 4h4m47-8h2m-4 2h2m12 0h2m-36 5h4m27 2h3m-24 1h2m2 1h2m-8 1h2m26 3h2m-4 1h2m-17 7h2m53-30h2m-30 4h2m4 12h2m16 9h2m-31 3h2m72-36h2m-38 2h2m33 4h2m-35 3h2m33 2h4m-11 3h2m1 0h2m-28 9h2m38-22h3m34 10h2m6 2h3m-9 5h2m65-11h3m-21 10h2m7 0h2m-7 1h2m3 2h4m-2 0h2m-11 4h2m-11 5h2m28-28h4m-37 44h2m-83-4h4m-9 22h2m-15-21h2m2 0h3m-8 1h2m2 0h2m-5 10h2m-21 13h2m11 1h4m-66-24h2m7 19h2m-45-21h3m10 15h3m0 8h2m-63-24h4m31 7h2m-9 2h2m-17 29h2m-28-39h3m-19 2h3m-7 4h3m-8 23h2m11 2h4m0 1h2m-56-3h2m8 5h3m-48 5h2m-45-3h2m24 0h2m-26 2h2m2 0h2m-11 1h4m-48-34h2m20 14h2m-24 8h2m-2 8h2m-15-30h2m-1 5h2m3 1h2m-9 2h2m4 1h2m-4 1h2m-29 4h2m4 0h3m-10 1h2m12 10h2m2 7h2m3 1h2m-63-35h2m-1 1h2m25 10h3m-6 5h2m5 0h3m-7 2h4m-33 2h4m-3 1h2m7 1h2m8 1h2m2 4h2m-8 2h4m7 5h2m-61-34h2m20 2h2m-37 1h2m0 4h4m2 1h3m9 9h2m1 0h4m-9 6h2m6 1h2m-40-18h2m-13 14h4m-5 6h4m-3 1h2m1 3h4m-55-32h4m-3 1h3m-11 10h4m0 6h4m2 9h2m2 7h2m-27-29h2m1 2h2m-8 7h2m-19 19h4m-23-33h4m2 16h2m-6 4h4m-12 11h2m-26 2h4m-15-28h3m-13 13h3m14 0h4m-18 1h2m8 4h2m-11 1h4m-8 2h2m2 1h2m-53-1h2m-30-8h4m-5 10h4m-5 1h2m1 0h3m-2 1h2m1 4h4m-26 3h2m-43-29h4m9 8h2m10 1h3m-24 2h4m20 9h4m-51-9h2m-5 3h2m0 11h3m-53-25h2m15 21h2m-49-27h4m-18 1h4m-6 1h2m12 0h2m-6 1h2m-19 27h3m-33-26h4m11 24h3m-16 17h4m1 2h2m10 26h2m21-28h2m-2 8h4m-5 4h2m-1 1h2m-20 14h2m0 3h2m74-30h2m-17 6h2m-6 1h4m2 1h2m9 24h2m2-32h2m20 15h3m6 13h2m-23 1h2m29-27h3m13 0h3m-9 3h2m3 0h2m-2 3h3m7 1h4m-21 1h3m0 0h2m-14 9h4m34 2h2m19-28h2m-20 22h2m34 2h2m-10 2h2m-13 4h4m-6 3h2m6 0h2m1 3h2m-1 2h4m7 0h2m35-32h4m-36 9h2m12 13h2m-14 7h2m2 1h2m-7 2h4m1 0h2m-11 1h2m55-27h2m-11 7h3m0 0h2m6 1h4m-10 2h2m-7 4h3m-7 2h4m1 0h3m24 10h3m34-31h2m-7 3h2m-26 15h2m20 3h3m4 0h3m-9 1h3m-5 3h3m-16 4h2m30-29h2m0 12h2m27 0h2m0 3h2m-25 13h3m11 4h2m11-32h4m3 0h3m14 2h3m-21 1h2m5 1h2m4 0h2m-15 1h2m-2 6h2m25 3h2m-30 2h3m18 1h2m2 9h3m35-33h2m-9 1h2m6 1h4m-2 4h4m-15 2h2m0 1h4m-9 2h2m-8 4h2m14 1h4m-17 4h2m16 0h2m-6 1h4m-2 1h4m-30 15h2m-7 2h4m48-15h2m22 5h2m-4 4h2m9-33h2m15 0h4m3 1h3m-25 9h2m6 8h2m3 9h2m24-14h2m-1 0h2m24 17h2m21 6h2m59-33h3m-10 4h3m-32 6h2m-1 1h4m6 6h2m21 7h4m-34 2h3m28 7h2m13-35h2m15 2h2m-5 4h4m-8 1h2m11 4h3m-23 13h4m-9 2h2m1 2h2m4 3h2m1 1h2m21-15h2m-4 6h2m53-15h3m17 0h2m-25 3h2m-8 3h2m8 20h4m-1 4h2m30-39h4m1 2h2m-5 2h2m9 0h3m1 6h2m-10 4h2m-11 1h2m-5 5h4m22 1h2m-28 10h2m4 1h2m19 4h2m-11 3h2m20-27h2m10 18h2m-2 1h2m27-27h2m25 6h2m-5 9h4m-18 3h2m3 8h3m-8 2h2m-9 1h4m-2 6h4m38-14h3m6 12h4m9-15h2m-3 3h4m-2 3h2m2 8h4m37-23h4m-4 0h3m-10 2h2m36 8h2m-1 1h3m-37 1h4m27 1h4m-19 2h2m-13 2h2m-2 8h2m35-16h2m62-15h4m3 0h2m-9 3h2m5 0h2m-4 7h4m-9 4h4m-14 11h2m-14 3h4m10 1h2m-4 1h2m2 0h2m13-27h3m10 4h2m-1 23h4m-8 30h4m-35-27h2m5 3h2m-20 10h2m29 4h4m-28 10h3m0 0h2m-4 2h2m-55-11h2m-1 0h4m-1 1h4m17 7h4m3 0h2m-35 6h3m-4 1h2m3 2h2m21 1h4m5 2h2m-62-26h2m3 2h2m-7 1h2m-2 9h4m0 9h2m0 1h3m-39-29h3m4 5h2m1 0h2m-33 10h4m11 11h2m-23 4h2m8 0h2m11 0h3m0 0h2m-2 1h2m-9 2h2m4 1h2m-49-38h2m7 1h3m-15 6h4m-5 2h3m-14 5h2m-3 3h4m1 2h2m-8 4h2m7 2h3m10 2h3m-60-16h2m0 1h2m-4 2h3m2 1h4m0 3h2m-17 1h3m28 2h3m1 4h2m-30 4h2m-23 1h2m3 8h3m-38-39h3m-37 9h2m7 1h2m-7 19h4m2 2h2m-21-21h2m-26 1h2m25 4h2m-19 3h2m-26-18h2m-2 1h2m-2 2h4m-34 6h2m3 0h2m12 0h2m-25 2h3m7 4h2m14 3h2m6 14h4m-65-31h2m0 6h2m11 5h2m-9 2h2m-5 2h2m-62 0h2m0 3h3m-27-2h3m17 6h2m-80-8h2m5 19h2m20 0h3m-50-21h3m-2 0h4m-60 9h3m-9 9h2m30 8h4m-61-22h2m-3 2h2m0 6h4m-13 1h2m2 1h2m17 6h2m-61-5h2m18 2h4m-5 9h2m-43-38h4m-25 2h3m12 14h3m-20 12h2m4 3h2m18 6h2m-62-37h3m7 5h2m-9 3h2m-2 2h3m-13 2h4m2 2h2m0 0h2m9 1h2m-26 3h2m13 0h4m6 3h4m-13 3h2m18 0h2m-12 3h4m-29 5h2m-2 4h2m-23-37h3m-6 2h2m-16 5h4m-17-6h2m-7 29h2m7 3h2m-35 4h2m-23-37h2m-15 3h2m14 4h3m11 0h2m-9 1h2m-5 1h2m-27 5h4m-3 0h3m-2 0h3m1 21h2m-10 2h3m-33-30h3m-2 7h4m-37-11h2m-16 12h3m3 9h2m-6 3h2m9 6h3m-2 0h2m3 2h4m-3 3h2m-40-33h4m-21 9h2m-4 13h3m-18-9h4m-55 7h2m-23 3h4m27 1h2m-28 12h2m15 8h4m-4 6h3m-5 2h3m7 3h3m-2 1h2m-32 9h2m30 8h2m15-26h3m-13 16h2m13 7h3m4 0h2m-15 3h2m91-37h4m1 14h4m6 18h2m-6 2h3m-6 4h2m1 0h2m37-35h2m-8 3h3m-29 5h2m22 0h2m-20 9h2m1 4h2m22 0h2m-36 7h2m52-18h2m11 0h2m-10 1h3m-5 3h2m18 1h2m-28 5h3m-7 2h3m-1 0h2m16 0h3m-23 3h2m7 1h2m1 7h2m55-35h3m-22 5h2m17 15h2m-14 2h2m11 1h2m-8 3h2m5 0h2m-26 6h3m9 3h2m22-30h2m17 2h2m-13 4h2m14 4h2m-1 0h4m-2 3h4m-16 4h2m5 3h2m-6 6h2m18-20h2m-6 2h3m5 2h2m-10 2h4m18 14h2m-6 5h2m-3 1h2m24-29h2m0 1h4m-12 21h3m18 1h3m21-33h2m25 3h2m3 0h2m-8 36h2m6-36h3m23 24h2m-16 1h4m-4 5h4m-6 3h2m51-33h4m-4 8h2m-16 2h2m6 7h3m-20 3h2m-2 2h3m4 2h3m-7 4h3m48-22h2m2 1h4m16 6h2m-19 6h2m13 0h2m-7 2h2m1 0h2m3 1h2m-18 6h2m1 7h2m19-27h2m-8 5h2m4 10h2m7 9h2m38-9h2m24-8h2m15 1h2m-2 2h3m0 1h2m22-7h2m13 20h2m-9 1h2m63-33h3m-36 15h3m24 3h2m-26 12h2m21 2h2m14-35h4m18 0h2m-17 13h2m5 1h2m14 13h2m-17 6h2m15-2h2m5 3h3m1 0h3m88-30h2m-5 14h2m-21 5h4m4 2h2m16 1h2m-20 1h4m18 4h2m-23 5h2m10 2h3m2 1h3m13-36h3m7 7h4m-13 5h2m6 6h2m21 7h2m-20 6h2m8 0h2m-17 1h3m2 3h3m55-36h2m-21 3h3m14 6h3m-10 7h3m-11 17h3m9 1h3m30-34h2m10 4h4m-20 1h2m-19 3h2m12 0h4m6 1h2m11 1h2m-17 5h3m6 2h2m-11 1h2m-7 1h2m13 4h4m-17 5h2m28-25h2m-2 4h2m41-9h2m19 2h4m-11 1h2m-16 21h2m-9 3h2m0 1h3m12 1h2m-1 3h4m18-2h4m-4 21h2m10 0h4m-10 1h2m-9 2h3m-6 6h2m-24 19h2m-55-39h2m-7 6h3m7 4h2m21 7h4m-7 6h2m-50-22h2m-9 5h4m-13 6h2m4 4h2m15 0h2m4 1h2m-17 1h3m13 2h2m-30 4h3m23 8h4m-46-25h3m-20 14h2m18 6h3m-15 12h4m-44-32h4m-6 3h4m-10 8h2m12 15h2m-5 5h4m-47-38h3m11 0h3m-22 1h2m-15 4h2m-1 0h2m-4 4h2m4 0h4m-2 26h3m-25-33h2m5 11h2m-13 3h2m2 1h2m-7 3h2m-17 1h2m20 4h2m-9 2h3m-5 3h2m-17 1h4m-10 1h2m-28-26h2m-15 1h2m13 1h2m0 0h2m-5 2h2m-6 4h2m-2 0h2m12 11h2m-13 1h3m-17 2h2m-9-22h3m-19 7h3m-16 9h2m17 0h2m-28 2h4m9 1h4m-16 3h2m-8-27h2m-33 7h2m-5 2h2m7 3h4m2 2h2m1 0h3m-1 0h4m-31-14h2m-9 1h4m1 2h4m-28 1h2m18 0h4m-30 2h2m2 2h2m-12 1h2m0 4h2m-5 4h2m-13 4h2m-5 1h2m11 1h3m-21 11h2m13 1h2m-19 1h2m-10 1h2m-23-36h2m2 0h2m-12 4h4m0 2h4m-19 2h2m-7 2h3m13 21h3m-4 2h3m-30-31h2m-16 1h2m-12 8h2m-1 6h4m2 12h2m-1 0h2m2 1h4m-24 4h4m2 0h2m-8 2h2m-5-37h2m-9 1h3m2 1h2m-22 11h2m14 5h2m-24 1h4m0 14h2m9 3h4m9 1h2m-40-38h4m-26 14h2m2 1h4m-2 3h2m5 14h2m-28 6h2m0 0h4m-20-37h4m-34 2h4m2 19h2m-26-18h2m-15 1h4m18 14h2m-62-19h2m-6 21h2m10 4h4m-6 13h2m-33-38h2m3 1h2m3 1h2m-30 35h4m-33-37h2m3 0h4m-24 7h3m4 4h2m7 5h2m-10 7h4m17 0h4m-30 1h4m19 1h3m-19 2h2m16 10h2m5 2h2m-50-11h3m-14 4h3m-1 4h2m3 0h3m-14 1h2m15 2h3m-2 0h2m-63-38h2m2 3h2m-5 1h2m-15 1h2m16 1h3m2 1h2m-21 5h3m13 17h3m-37-29h3m9 2h3m-6 13h3m-30 14h4m-33-27h3m-7 9h2m-6 3h2m15 2h2m-6 5h3m-12 1h2m0 5h4m11 3h2m-15 2h2m-62-31h2m0 3h2m6 19h2m21 7h2m-5 1h2m-4 3h2m-19 1h2m-2 3h2m6 0h2m-78-19h3m11 2h2m-16 15h2m-1 2h2m-4 1h2m5 0h4m-4 1h2m-4 1h2m-10 2h4m-7 12h2m17 1h2m-18 2h3m-5 13h4m45-29h4m-8 5h2m15 2h2m-28 6h2m1 0h2m-18 3h2m-2 2h3m13 10h2m8 4h2m5 3h2m10-37h4m27 0h2m-9 1h2m7 0h2m-33 1h4m21 2h3m4 1h2m-25 4h2m3 2h2m-16 11h4m3 0h2m3 0h4m15 1h2m-28 1h4m2 1h4m14 1h4m-27 3h2m32-26h2m1 1h2m17 13h4m-30 11h2m-1 7h2m40-25h2m-5 6h2m30 0h2m-15 1h4m-9 1h2m-1 7h3m19-21h2m17 9h2m15 2h2m-3 13h4m-6 6h3m20-34h4m-4 1h3m3 2h2m15 1h3m-31 5h2m24 5h2m-22 4h3m7 1h4m7 1h4m-23 11h2m0 5h2m15 0h4m-11 2h2m7-25h2m25 3h2m43-7h2m-11 16h2m-16 10h4m10 3h2m30-39h3m10 3h2m-23 11h2m20 1h4m-14 16h2m13 1h2m-14 1h4m0 1h2m-14 3h3m37-23h4m4 18h4m-4 1h2m15 0h2m-1-19h2m4 7h2m29 0h2m-3 2h2m-2 0h3m-31 6h2m21 3h2m17-30h2m8 5h2m5 3h4m-1 2h3m-19 20h2m49-6h2m-5 1h4m3 7h3m12-32h4m12 22h3m-14 7h2m52-3h2m-16 1h3m-9 1h2m15 4h2m-15 5h2m48-38h2m-12 5h4m37-4h4m-1 2h2m3 20h3m2 1h4m-20 2h4m17 2h2m-7 1h3m15 1h3m31-26h2m2 1h2m-32 25h3m-8 2h4m2 1h3m21 5h4m16-29h2m32-9h3m1 5h2m-1 3h2m5 11h4m6 6h2m-18 2h4m29-22h2m1 1h2m5 1h2m-3 6h4m-6 1h2m6 2h3m8 0h3m-14 2h2m-2 3h3m-5 2h2m-14 12h3m47-35h2m-14 31h2m44-27h2m1 1h2m-2 7h3m-8 23h2m61-34h3m-13 3h2m8 19h3m-6 3h4m3 0h3m0 0h3m-6 2h3m-38 10h2m59-33h3m-11 1h2m3 2h2m-4 4h2m7 10h2m10 6h3m-19 5h4m38-25h2m-6 2h2m-21 9h3m28 14h2m-15 2h4m-10 3h4m-1 0h3m18 0h2m28-39h3m2 14h2m-8 3h2m1 0h2m4 1h2m-34 17h2m36-19h2m7 50h2m2 2h2m-2 2h2m-30-22h2m-21 17h3m18 9h2m-49-10h2m-3 11h4m-1 0h2m-15 2h3m-11 2h4m-44-16h2m29 5h2m-38-28h2m-19 5h3m2 13h2m-18 1h2m-8 1h3m-18-18h2m-17 12h3m12 1h2m-13 1h2m20 6h2m-1 3h2m-25 12h2m-50-32h3m22 4h2m3 5h4m-3 6h2m-54-18h2m-6 1h3m-20 2h2m17 1h3m-21 25h2m-35-2h2m-50-24h2m-2 17h2m11 2h2m-31-23h2m-7 1h4m0 1h2m-6 4h4m0 14h3m-14 1h4m-21 1h3m29 1h2m-1 2h2m-45 2h2m1 2h2m-2 5h3m-62-33h2m1 14h4m-4 2h2m-55 21h2m-45-25h2m-18-4h3m6 6h3m-34 4h2m-4 4h2m27 8h2m-16 1h2m-59-21h2m15 1h2m-4 6h4m11 9h2m-2 2h3m3 2h2m-6 2h4m-22 3h4m11 0h4m5 0h3m-53-27h4m-31 1h2m25 3h3m-29 2h2m3 0h2m15 0h2m0 11h2m3 7h2m-12 1h2m-26-20h2m-28 5h3m0 0h2m-6 11h2m4 0h2m4 4h2m4 0h4m-26 1h2m-23-22h2m-12 1h3m11 0h2m-37-5h4m-37 4h2m26 3h2m-1 17h2m-71-29h4m3 1h2m-24-6h2m-14 7h4m3 0h3m8 2h2m-19 1h4m4 1h2m-4 3h4m-9 20h2m-94-29h2m-7-2h2m-39 3h2m1 6h2m-7 13h4m-40-23h3m-6 1h2m10 0h2m-14 1h3m30 30h2m-3 4h4m-68-38h3m8 5h2m2 1h2m-7 9h2m9 1h4m-15 15h2m4 4h2m-28-28h2m-9 17h2m-10 13h2m-2 7h4m1 4h2m-1 23h3m-20 5h2m30-33h4m-2 1h2m-4 18h2m2 11h2m82-33h4m-7 2h2m18 15h2m16-17h2m-9 2h2m112 11h3m-10 1h2m2 2h2m-20 16h2m3 5h3m40-5h2m39-32h3m-10 24h4m5 10h3m83-32h2m5 4h2m14 2h4m46 22h2m4 2h3m18-31h3m-6 1h2m-6 3h4m7 0h3m21 2h2m-14 4h4m8 6h3m-26 6h2m9 4h2m-18 2h2m58-29h4m-18 9h2m-13 1h2m4 2h2m5 17h2m25-25h2m15 1h2m12 11h2m39-10h3m-27 1h4m4 2h2m-16 9h2m9 3h2m1 2h2m12 3h2m-10 3h3m-1 2h4m-28 2h2m0 5h2m61-38h2m-13 2h2m10 0h4m-3 0h2m2 0h2m-38 3h4m19 6h4m-13 2h4m0 16h2m6 3h3m1 0h2m1 3h2m-5 1h4m-8 2h4m48-34h2m-31 10h4m22 1h2m0 1h4m-13 2h3m2 4h4m1 0h2m-17 15h4m25-35h2m2 1h2m56-1h2m-10 18h3m5 2h3m-5 1h2m-30 7h4m51-28h2m-11 5h2m-6 12h2m20 15h4m0 2h4m76-20h4m2 2h2m24-14h2m9 7h3m-23 2h2m17 2h3m-5 2h3m-18 2h2m28-16h2m0 1h2m31 6h2m58-7h2m11 48h2m-5 5h4m-6 1h2m-101-3h2m-11 3h2m-32-10h3m-14 3h2m19 13h4m-57-12h2m26 26h2m-78-14h4m-27-22h2m10 1h3m-4 2h2m6 1h3m-7 4h4m-10 2h3m-15 14h4m10 1h4m-12 2h3m-2 5h2m4 4h2m-34-24h2m-1 6h2m-79-16h2m34 20h2m0 4h2m-62-24h2m-5 7h2m-8 12h3m-9 6h2m9 0h2m-7 1h4m-13 5h2m21 5h2m-38-39h2m-8 14h2m0 2h2m2 12h2m5 6h2m-48-33h3m-5 1h2m-28 9h2m-3 4h2m34 0h2m-19 10h2m-5 2h2m11 2h2m-5 1h4m8 4h2m-14 2h3m-40-33h4m-24 4h2m-4 4h4m2 0h2m-11 2h4m27 0h3m1 10h2m-33 16h2m-50-38h2m1 7h2m17 11h2m-14 5h4m15 0h2m-2 4h4m-11 5h4m-24 6h3m-8-36h2m-34 20h2m-4 10h2m9 0h2m-6 1h3m22 1h2m-3 1h2m-16 1h4m-4 2h2m-55-37h3m15 16h2m11 12h2m-12 1h2m8 1h2m-19 6h2m2 1h2m-32-31h3m-37 5h4m27 1h2m-10 2h4m10 5h4m-13 2h2m1 0h2m-23 3h2m1 4h2m-56-23h2m25 9h2m-13 1h4m7 20h2m-98-26h3m-48-6h2m-10 2h2m-116 8h2m-1 1h2m-6 2h3m23 21h2m-39-34h3m-9 4h2m-25 3h2m34 4h3m-114-14h2m-6 7h2m32 15h2m-2 1h2m1 5h2m-22 4h2m-46-32h2m-17 33h2m-5 4h2m10 4h2m-11 12h2m67-9h2m8 0h2m-26 3h3m15 0h3m-14 1h3m12 2h2m-28 15h3m-3 5h4m23 1h2m-24 2h3m10 4h3m11-37h4m-2 2h3m-3 3h2m-4 3h4m0 16h3m-6 3h3m-1 1h4m24 2h2m-28 2h2m52-21h2m0 2h3m-26 19h2m59-21h4m-5 4h2m-2 5h2m-6 13h4m-7 1h3m44-35h2m-6 37h2m51-29h2m2 19h3m-7 3h4m-2 6h3m36-31h2m-14 16h2m-8 1h2m-14 1h2m7 1h4m1 1h2m-1 4h2m-18 4h3m76-33h4m-25 2h2m-19 6h4m12 4h4m1 2h3m0 1h2m-13 1h3m-3 4h2m9 0h2m-12 5h2m-5 1h2m-1 8h2m6 3h3m20-12h2m-6 1h2m-2 5h2m70-26h2m-7 5h2m10 2h2m-15 12h2m22-23h2m-6 9h4m7 0h4m-13 2h2m22 10h3m1 2h4m-12 1h2m-9 1h2m-1 1h2m31-20h2m13 5h4m-6 9h4m34-22h2m-24 13h2m15 0h2m0 5h3m3 1h2m-27 4h2m4 3h2m28-26h2m5 0h2m8 6h4m-8 7h2m-6 1h4m9 2h2m-12 5h2m17 1h2m-22 1h2m14 1h2m-27 2h3m11 7h3m14 2h2m-12 1h2m-6 2h3m2 1h2m20-17h2m11 8h2m-6 3h3m-1 1h2m-2 1h2m60-24h2m-22 2h2m-4 3h2m16 1h2m-10 3h2m8 9h2m0 2h4m-5 3h4m36-19h2m-1 1h2m-33 14h3m54-30h4m0 1h2m-30 22h2m52-22h2m11 0h2m-6 1h4m-18 2h2m26 0h3m-34 34h3m44-27h2m3 6h2m-11 4h2m4 12h3m-14 4h3m58-35h2m-19 5h3m7 2h2m-15 8h2m9 4h2m-5 3h2m-1 0h2m0 0h2m61-11h2m15 3h4m-17 2h2m-2 3h3m25 10h2m-4 2h2m9-28h2m-1 5h2m69-5h2m4 0h2m-14 3h2m7 5h4m-8 2h3m-2 3h2m3 5h3m-37 10h3m6 0h3m2 6h2m2 0h2m42-34h2m-3 20h2m-2 1h2m-6 3h2m6 1h2m-24 2h4m21 0h3m6-19h2m21 20h4m18 10h2m5 0h2m-6 26h2m-6 1h2m-39-25h2m-2 1h3m3 14h4m3 3h2m-11 5h2m-8 1h2m-8 5h2m7 2h3m-12 3h2m-38-36h2m0 9h2m-6 3h2m1 5h2m15 5h2m-23 1h4m-38-26h4m10 1h2m3 6h2m-26 16h2m-3 2h2m-1 14h2m-28-32h2m-2 0h2m7 0h2m-4 3h2m-4 4h2m5 5h2m-14 1h2m16 3h2m-28 3h3m5 1h2m-5 2h4m-15 2h2m16 3h2m-2 0h2m-54-34h4m14 5h2m-26 4h4m1 0h3m18 2h2m-12 26h2m-52-34h2m-6 3h2m33 2h2m-39 8h3m17 17h2m-55-16h3m-8 6h2m16 8h2m7 3h2m-38-33h4m-13 5h2m2 10h3m-4 11h2m2 2h3m-14 3h2m2 3h2m-62-33h2m8 3h4m-5 24h2m1 2h2m-36-16h2m-90-7h2m8 2h4m-20 2h2m-51-11h2m-29 5h2m-4 5h3m-48-6h3m0 23h2m-52-23h2m-39-1h2m0 1h2m5 1h2m-9 4h2m5 21h4m-28-17h2m-16 6h2m15 2h4m-18 1h2m-13 3h2m9 0h2m4 7h2m-57-29h2m-1 3h2m16 1h2m0 9h3m6 13h2m-14 2h2m-2 4h3m-69-32h2m31 18h2m-20 5h2m0 0h2m15 1h2m-43-21h2m-31 3h2m13 4h2m0 0h2m9 7h4m-15 9h2m-37-27h4m-14 5h2m6 1h2m-3 1h3m-13 2h2m-9 4h2m4 0h2m25 1h2m-74-17h4m18 1h2m3 3h3m-7 11h2m-16 2h2m16 21h4m-67-37h2m-17 20h2m-3 2h2m-28 10h2m-4 1h2m6 1h2m6 3h4m-45-35h4m-22 15h2m20 1h2m-14 2h4m-5 2h2m6 4h4m8 1h2m-25 3h2m5 1h3m-2 0h2m-8 1h2m-24-32h2m-18 1h2m8 1h4m-8 11h2m0 16h2m-2 6h3m-50-35h2m-2 3h4m-11 22h4m-9 1h2m-3 1h2m34 4h2m-8 20h3m2 3h2m-8 1h3m-2 0h2m-12 22h2m17-19h3m0 1h2m-3 4h2m33 1h2m9-22h3m-11 2h3m-1 2h2m-3 3h3m-1 0h2m5 2h4m-7 2h2m-9 2h3m-1 6h2m32 0h3m-7 8h2m-10 6h2m1 0h2m24-33h2m4 0h3m7 8h2m6 1h3m-25 2h2m-12 1h2m26 0h4m-35 6h2m-1 0h3m42-16h4m-8 6h4m2 8h2m25 0h3m-26 4h2m-11 6h4m2 3h3m37-31h2m0 14h2m17 20h4m5-35h3m3 10h2m18 3h4m-2 0h2m-2 0h2m-4 7h2m2 7h2m-3 7h3m27-28h2m-5 7h2m6 3h4m-2 17h2m-23 1h2m25 1h2m-9 2h2m-26 2h2m47-39h2m9 0h2m3 22h4m-14 6h2m-11 11h2m15 0h2m33-28h4m8 1h2m-6 4h4m-31 5h2m3 1h2m16 5h2m-3 2h2m-13 1h2m-6 5h2m13 0h2m36-31h2m-23 2h2m14 2h2m7 11h2m6 2h2m-20 8h2m-5 3h2m9 0h4m-19 2h2m-1 0h3m57-34h2m-6 6h2m-6 2h3m-23 1h4m33 28h2m-1-9h2m2 3h3m48-14h2m-4 4h3m15 3h2m31-18h2m8 2h2m-3 9h2m2 12h3m-2 2h2m5-23h3m-2 13h2m-2 2h2m18 2h2m-13 1h2m-14 8h2m-2 1h2m0 4h4m40-15h2m5 5h4m17 2h2m-8 1h2m-11 7h2m37-32h4m-11 4h2m5 11h4m51-18h2m-16 20h2m31-14h2m56 9h4m-12 4h2m10 3h2m-13 5h2m19-21h4m14 22h2m3 0h3m11-30h2m22 3h2m-11 3h2m11 14h4m3 0h2m28-16h4m0 0h2m-6 4h2m-25 16h2m53-7h3m-7 10h2m-1 4h3m46-29h2m-28 8h3m-3 3h2m24 3h2m-13 9h2m20 6h3m31-31h2m-24 5h3m25 2h3m-24 14h2m0 4h4m48-21h2m1 1h2m0 3h3m-39 8h2m11 0h4m-12 9h2m44 19h2m-48-6h2m-1 1h2m12 1h2m14 2h2m-23 14h3m16 5h2m-7 3h2m-21 4h2m1 0h2m-15 4h2m-21-34h3m8 4h2m-5 3h2m-6 2h2m2 10h4m-6 1h2m-20 2h2m28 0h2m-10 4h3m-5 5h2m-26 1h2m30 4h4m-17 1h2m-31-37h3m-23 6h2m2 8h2m-1 1h3m0 11h2m-13 1h3m-6 9h2m8 1h2m-55-32h2m-1 0h4m0 3h2m-8 13h2m29 1h2m-26 3h2m20 3h2m-2 10h2m-52-38h3m-13 11h3m0 1h3m5 2h4m-21 8h4m-3 0h3m3 1h3m-4 2h4m-2 2h4m-4 0h3m18 0h2m-55-26h4m-4 4h2m3 1h4m-1 4h3m-26 6h2m28 17h4m-24 3h3m1 2h2m1 0h3m-43 0h4m-49-37h2m-14 13h2m-8 7h2m-22-16h2m0 21h2m7 9h2m-6 1h3m-62-35h2m12 4h4m-23 1h2m4 12h2m2 2h2m-6 4h2m-11 4h2m7 8h2m-51-21h2m25 0h3m-21 20h3m-47-32h2m10 0h2m9 7h2m-14 1h2m7 1h2m4 0h2m-1 5h2m-10 1h4m-22 6h4m-45-23h3m9 8h2m-15 1h4m-11 1h2m8 3h2m19 10h3m-25 13h3m-24-28h2m-28 11h4m0 5h2m-4 5h2m5 5h2m-31-31h2m-4 1h2m-7 11h2m4 2h2m4 15h3m-4 3h2m-55-32h2m9 11h2m-1 1h2m0 6h2m-15 17h2m-35-13h2m-4 7h2m-51-30h2m9 0h3m-54 26h2m-2 2h2m-7 4h2m-41-28h2m4 2h2m2 0h2m-9 1h2m16 9h4m5 17h2m-46-36h2m-14 2h4m-25-1h2m-41 2h2m-27 30h2m-33-20h4m-48 8h3m-3 2h4m-60-8h2m18 8h2m-82 49h2m1 1h4m3 5h2m84-13h4m-3 0h2m32 9h4m-7 2h4m6 2h2m43-33h2m29 16h2m-9 4h4m-7 6h2m41-20h3m17 13h3m2 4h4m-9 3h2m-9 4h2m6 0h4m-9 4h2m65-39h2m4 0h3m27 11h4m-6 8h2m-9 1h2m2 7h4m20-16h4m25 3h4m-12 4h2m-2 0h2m2 5h3m25-17h2m-1 14h2m26 17h3m39-33h3m12 35h2m19-23h2m41-15h2m-13 1h3m14 0h2m-2 6h2m16 1h2m-1 20h2m-6 1h3m36-26h2m5 2h3m-15 3h2m8 0h4m-10 1h2m-22 8h3m27-8h3m16 0h4m-23 2h4m-2 2h2m10 0h2m-14 8h2m8 2h2m8 3h3m8 8h2m10-33h2m24 14h3m43-14h2m-36 4h4m0 2h2m14 19h4m12-25h3m28 16h2m0 2h2m-24 2h2m-7 12h2m71-31h2m-30 28h2m53-31h2m-26 3h2m4 3h2m22 2h2m-1 22h2m40-27h2m-10 4h2m7 20h2m-8 6h2m-8 3h3m44-35h4m1 1h2m-31 4h2m21 2h3m-31 19h3m56-6h2m8 16h4m16-25h4m-8 2h2m8 0h2m-4 1h2m14 10h3m35 4h3m26-25h4m-16 11h3m5 26h2m-3 4h4m-22 0h3m-26 2h4m19 5h2m-45-2h3m-3 6h2m-22 10h2m-54-7h2m-1 9h4m-19-23h3m-14 7h2m0 1h2m-6 2h4m-6 3h4m-14 1h2m14 5h2m18 7h3m-2 1h4m-49-14h2m4 2h2m-4 3h2m-27 3h2m-7 1h3m-7 3h2m8 5h2m-15 3h2m-24-37h3m13 1h2m-2 27h3m-10 3h2m-45-19h2m-26 11h4m18 13h2m-2 1h4m-60-36h2m-6 5h3m-5 1h2m8 6h2m17 3h2m-1 2h2m-39-16h3m-28 2h2m20 0h3m-1 0h2m4 25h2m-29 9h2m-52-35h2m24 12h4m5 10h2m0 0h2m-70 11h2m-2 1h4m-2 1h2m-32-19h2m-3 12h2m-25-28h2m-1 0h2m-40 18h2m33 15h3m-58-36h4m0 3h3m-24 5h2m3 4h2m-3 8h2m-9 1h2m12 10h2m-38-30h4m-1 18h4m1 2h2m-11 2h2m-48-23h2m-4 5h2m12 10h3m8 13h2m-57-26h2m-4 1h2m10 5h4m-29 16h2m-3 9h3m4 2h2m6 0h2m17 1h3m-79-29h2m-2 17h2m4 2h2m-39-24h4m23 4h4m-12 2h2m1 17h2m-69-11h2m-5 3h4m-26-18h3m7 19h4m-24 14h2m17 3h4m-50-30h2m-17 3h4m13 12h2m-27 1h4m18 7h3m5 1h2m-1 0h2m-29 2h2m32 4h4m-21 1h2m-37-29h2m-13 2h2m9 28h2m-35-17h3m-33 11h2m-17-11h2m-27 3h2m20 2h3m4 4h2m-69-10h2m31 7h2m-31 10h2m-29-32h2m3 22h2m7 0h2m-12 2h2m10 0h2m-18 2h4m2 0h2m5 2h2m-9 3h3m-35 3h2m-15 8h4m-3 14h2m-9 2h2m47-11h3m-2 0h2m-19 2h2m13 0h2m3 0h2m1 11h2m-7 2h4m-7 2h2m-11 10h2m21-32h4m-4 14h2m-2 8h2m-2 0h2m71-15h2m-15 2h4m35-13h2m46 12h3m-5 3h2m21-13h3m-11 19h2m42-24h2m4 13h2m-2 1h2m67 15h2m4-22h2m-2 1h2m30 7h2m-35 21h4m23 0h2m-14 2h2m55-25h2m-3 9h2m-17 13h2m0 2h2m6 1h2m8-35h3m25 7h2m16-8h2m27 9h4m-2 6h3m-8 1h3m3 3h2m-8 2h2m45-23h2m-27 3h2m18 0h2m-11 1h4m8 3h4m-15 2h2m-18 1h2m-8 1h2m13 11h2m-2 1h2m-21 1h2m10 1h2m10 2h2m-24 10h3m41-37h2m25 1h2m2 12h3m-2 5h2m-4 6h2m-5 2h3m-3 3h4m8-21h2m0 4h2m0 3h2m16 5h2m1 0h2m-24 1h4m2 0h2m-8 3h2m5 0h3m49-11h3m-14 9h2m-13 7h4m10 2h2m-3 4h3m10 2h3m21-36h2m53 10h2m-9 3h2m4 7h2m-15 3h2m5 0h4m5 4h4m-1 1h2m-1 1h3m-7 1h2m24-27h2m8 10h3m-30 2h3m31 6h4m-3 1h2m-16 8h2m38-22h3m-18 11h3m-4 1h2m29 0h2m26-21h2m-9 2h3m0 1h2m-17 8h2m23 8h2m-27 2h2m45-19h2m19 4h2m-14 13h2m13 3h2m-22 1h3m1 3h2m-23 4h2m72-26h4m-17 21h4m87-24h2m-33 11h2m1 3h3m49-11h4m0 3h2m-5 1h2m-12 1h2m13 0h2m-8 12h2m-10 7h3m35-22h2m5 28h2m-43 24h2m-29-1h2m-3 1h2m-30 15h2m-8 1h2m-83-24h3m2 4h2m-3 5h2m-93-16h2m2 4h3m-52-3h4m-7 10h2m16 13h3m-37-17h3m-33 15h2m17 2h2m1 3h3m-4 1h2m1 0h2m-41-28h3m-35 2h2m29 1h2m2 4h2m-38 3h4m-3 1h2m5 0h2m-8 1h2m-2 2h4m-13-16h2m3 1h2m-21 11h3m7 8h2m-80 11h4m-127-12h2m-5 4h2m-42-22h3m-51-2h2m-52 18h2m-9 4h2m1 4h3m-4 1h2m-3 5h2m-23 6h2m-55-31h4m-13 6h4m-3 0h2m-81 6h2m-16 1h2m-1 1h2m7 3h4m-40 12h4m-22-29h2m-18 3h2m-6 2h2m15 4h2m-12 9h4m19 4h2m-15 1h4m3 0h2m11 0h2m-51-20h2m0 0h2m0 2h2m-8 1h2m-59-7h3m-10 26h4m-6 1h2m127 7h4" stroke="#6000a0" stroke-opacity=".3" stroke-width="2.4"/>
<path d="M1261 37h2m195-6h3m-18 2h2m175 2h4m-10 3h3m41-8h3m-8 4h4m27 4h2m93-5h2m-2 0h2m-16 1h2m-2 3h2m190-3h2m2 3h3m7 1h4m181-5h2m107-2h2m-13 2h2m14 1h2m-17 1h2m22 0h2m13 1h4m-10 2h2m6 0h2m-5 1h2m34 0h2m-38 5h4m1 3h2m-51-2h2m-1 5h4m-11 4h2m0 1h3m23 2h2m-3 1h2m-14 11h4m1 4h2m14 6h2m-69-20h3m0 0h4m-9 1h2m2 0h2m7 6h2m-5 1h2m-2 5h2m3 6h2m-1 1h2m-61-11h2m-21-21h2m3 3h3m-6 1h2m-12 1h2m1 4h4m-23 22h3m-43-35h4m2 0h2m-3 1h4m-13 4h2m29 12h2m-10 2h2m4 1h2m-20 1h2m13 1h4m-32-23h4m-3 2h2m-3 17h2m-25 2h2m-13 8h2m-2 2h4m-6 1h2m-3 2h2m25 2h2m-55-10h4m-15 6h3m0 0h2m24 0h2m4 0h4m-41 1h2m-1 2h2m-2 0h3m5 2h2m-53-18h2m0 0h4m-1 1h4m4 5h2m13 7h3m-31 1h4m3 0h3m-9 1h3m33 0h2m-37 1h4m1 0h4m17 0h4m-31 2h2m-41-30h2m17 9h3m-17 1h2m21 1h2m-30 3h4m0 0h2m28 0h3m-29 3h2m11 1h2m-23 1h2m4 0h4m8 1h2m8 0h3m-22 1h2m-6 2h3m6 0h4m-2 1h2m13 0h2m-19 2h2m4 2h2m-64-26h4m4 12h2m-5 2h2m1 7h4m1 0h2m-4 1h3m0 0h2m-9 1h2m4 0h4m-18-27h2m-10 2h2m4 1h2m-5 2h4m-2 3h2m-11 5h3m2 1h2m-4 1h4m-17 3h2m9 0h2m-22 2h3m18 0h2m2 0h4m-25 2h2m-93-18h3m25 28h3m-44-39h3m-3 4h2m3 0h3m-25 6h4m17 0h2m-15 5h2m-1 0h4m2 6h2m-7 1h2m1 0h2m-5 1h2m2 1h3m-23 5h3m2 6h4m13 0h3m-47-35h2m-24 2h4m19 5h2m-8 4h2m14 4h2m-16 1h4m-4 3h2m2 2h2m-5 4h3m1 0h2m-10 4h2m-7 1h2m-10 1h2m5 1h4m-3 0h2m2 0h2m15 1h2m1 0h2m-24 2h2m-6 1h2m1 0h2m1 3h2m14 0h4m-39-39h3m-39 4h3m32 0h3m0 1h2m-8 1h2m-29 5h2m1 27h3m6 0h3m-20 1h2m-22-37h2m2 5h2m-3 3h2m-21 19h2m6 2h2m-11 1h2m-2 1h2m5 0h2m-7 1h2m0 3h4m1 1h2m-11 1h2m-43-31h3m-5 3h4m19 10h2m13 10h2m-4 1h3m-16 4h4m-32-28h2m-37 18h2m-11 0h2m-37-14h2m-9 6h2m-8 1h2m4 15h4m-64-9h2m-3 1h2m6 6h3m-41-23h4m-1 2h3m-12 3h2m3 6h2m-18 6h2m-83 10h2m19 3h2m-47-38h2m-19 25h2m1 2h3m9 3h3m-24-19h2m0 0h2m-9 5h2m2 3h3m-14 1h3m13 1h2m-3 2h2m-4 4h3m-37 2h3m-8 5h3m31 5h3m-8 1h3m0 3h2m2 0h2m4 6h3m-34 23h2m32-33h2m-1 7h2m65-4h3m-27 2h2m-6 1h4m20 0h2m2 0h4m-7 3h2m1 0h2m-25 1h2m21 1h3m22 12h2m-2 1h2m12 1h2m-2 7h2m85 5h2m37-37h3m-21 3h2m-17 11h2m4 2h2m11 12h2m-3 1h2m-12 1h3m-8 1h2m0 0h2m-3 3h2m48-22h2m-2 1h4m12 3h3m-22 2h2m0 2h2m11 0h2m-2 1h2m1 1h2m7 0h2m-32 2h4m48 7h2m-2 0h4m3 1h4m0 7h3m1 0h2m34-38h2m3 7h4m-2 0h3m-3 1h4m-10 2h4m1 0h3m-24 6h2m7 4h2m-6 1h2m0 1h3m-9 2h4m-7 4h2m8 9h3m12-29h2m-1 2h3m24 0h2m0 1h2m-12 4h2m17 5h2m-41 2h2m2 3h2m0 0h3m1 0h2m-9 1h2m14 1h2m-17 1h2m-1 0h4m11 1h2m-5 7h4m35-37h4m18 2h2m-38 10h2m26 0h3m-5 1h2m4 0h2m0 0h4m-6 5h2m-36 1h2m4 8h4m-1 2h2m-3 1h2m-7 1h2m-4 2h4m48-31h2m-15 2h2m13 1h2m21 0h4m-33 3h2m-6 5h2m26 4h2m4 17h4m-30 3h3m19 0h2m16-36h2m5 4h2m-4 5h2m-3 8h2m18 5h3m-35 11h2m39-30h2m18 1h3m-22 1h2m20 1h2m-1 0h2m-24 1h4m0 1h2m2 3h2m0 3h2m-20 12h3m-2 1h2m1 6h2m14 1h2m9 2h2m42-37h2m-19 1h3m13 1h2m-18 1h2m1 1h2m8 1h2m-15 1h4m6 0h2m-18 1h4m14 0h2m-15 1h2m-4 1h2m4 3h2m2 0h2m12 9h4m-7 2h4m-5 1h2m29-11h2m0 3h2m7 1h4m-10 8h4m-13 1h4m4 1h2m-19 2h2m1 1h2m0 1h3m4 7h2m31-32h3m-12 1h2m26 1h3m-30 1h4m22 0h2m-25 1h2m0 1h3m1 1h2m-13 1h2m7 1h3m13 1h3m-19 7h2m19 7h2m-5 1h4m38-30h2m0 1h3m-21 1h4m-20 4h2m2 0h2m9 3h2m-21 4h3m27 2h2m-12 1h2m-20 1h3m5 2h2m14 1h3m-28 2h2m17 2h2m6 1h3m2 0h3m-7 4h2m-24 4h2m36-33h4m-9 1h2m31 0h3m-30 1h2m11 4h2m5 26h2m7 0h2m-4 2h2m-6 3h2m13-37h2m2 1h2m4 0h2m5 0h2m-15 2h2m-1 0h2m-9 2h4m0 8h2m6 8h2m-8 1h3m4 2h2m17 0h2m-2 0h3m-2 7h2m-36 6h4m31 1h2m-35 1h4m52-39h2m8 0h3m-13 2h2m4 0h2m5 2h2m-13 3h4m-15 9h2m-1 0h3m-8 1h2m-9 4h2m10 2h2m18 2h3m1 0h2m-38 1h2m13 2h2m-9 1h2m1 1h2m-7 3h2m24 0h4m0 0h3m-30 2h2m24 1h3m24-29h2m1 0h2m10 0h2m-13 4h2m-15 5h3m-10 4h2m25 2h2m-33 5h3m7 3h2m-14 2h2m6 0h2m35-31h3m25 9h4m-1 3h2m-5 1h2m0 4h4m-23 5h2m4 11h2m18-30h2m18 3h3m-8 2h2m-17 1h3m19 8h2m45-17h3m-8 2h2m-14 7h4m-1 3h2m5 12h2m-15 4h4m1 4h2m40-11h2m-14 10h2m70-2h2m-1 0h4m2-3h4m-6 25h2m-2 1h2m5 0h2m-90-7h4m15 2h2m5 1h3m-8 1h2m6 0h4m-6 14h2m-6 5h4m-7 1h3m-5 2h2m0 2h3m-1 0h2m-5 1h2m8 2h4m-36-36h2m-37 5h4m-3 3h2m5 0h4m-1 8h2m-56 8h2m6 1h2m-7 2h2m-5 2h2m1 3h2m4 1h4m0 2h3m-7 2h2m-20-30h4m-9 2h4m-4 1h2m-10 3h2m-1 1h2m16 6h2m-1 1h2m-6 4h2m-2 0h2m-19 1h2m-4 1h4m-47 9h2m-10 2h2m-47-38h3m6 3h2m10 5h2m1 14h4m-27 12h2m0 0h4m31 4h2m-77-38h2m25 5h2m6 1h2m-12 3h2m1 4h2m-32 19h2m2 1h2m3 1h4m1 1h2m-8 1h2m-1 0h4m1 0h3m-1 0h4m0 2h3m-2 0h2m-2 0h4m-1 0h2m-28-37h4m-43 1h4m5 1h3m-12 1h3m4 1h4m-6 1h2m22 1h3m-29 1h2m21 0h3m-23 1h4m2 1h4m-7 1h4m-5 1h2m-2 1h4m-17-11h2m-37 1h2m35 5h2m-23 3h3m-9 12h2m5 2h2m-11 2h3m20 2h2m-21 1h2m-8 1h2m3 0h4m-9 1h2m-2 5h3m20 0h4m-67-7h4m-15-30h2m-12 1h2m-26 27h2m27 1h4m-20 2h3m-13 1h2m10 1h2m-10 1h4m-3 1h4m-12 3h3m7 0h4m-43-38h2m-4 2h2m-12 2h3m15 9h4m-12 12h2m21 4h2m-33 1h2m25 0h2m-28 2h2m23 0h2m2 2h3m-71-35h2m26 3h3m-3 3h2m2 1h2m1 2h2m-13 2h3m-23 7h2m-10 1h3m4 3h2m2 1h3m-8 1h2m25 0h2m0 2h2m-6 2h3m-10 1h2m8 0h2m-33 3h2m19 0h2m-7 5h2m16 0h3m-43-37h2m-2 6h3m-38 2h3m14 11h2m15 0h2m-1 0h2m-5 1h2m-24 3h2m21 0h2m-31 2h2m4 2h2m0 1h4m4 0h4m8 5h4m-9 3h2m-3 1h2m4 0h4m1 1h3m-50-36h2m3 0h2m-10 1h3m-17 1h2m2 0h3m-5 2h3m0 0h3m2 0h2m-20 2h3m-3 2h2m10 6h2m-13 1h2m15 2h3m9 0h2m-5 3h2m-27 2h3m9 1h2m-5 2h3m2 0h4m10 5h4m-10 2h4m-45-25h2m7 1h2m-3 2h2m-27 19h4m-6 3h4m-2 0h2m2 2h2m5 1h2m0 0h2m-59-37h2m-1 0h3m0 0h4m-3 4h3m-3 1h3m-11 3h3m17 13h2m1 9h2m-3 4h2m-1 0h2m-3 2h3m-1 0h2m-4 3h2m-35-37h2m0 5h2m-15 2h2m5 0h2m-9 2h2m4 1h2m-30 2h2m-1 0h2m25 1h3m-20 11h2m10 3h2m-8 1h2m-9 1h2m12 0h3m-6 1h2m6 1h2m4 1h2m-43-34h2m1 13h2m-7 4h2m-3 1h2m-30 1h3m18 10h3m-7 2h2m-13 4h2m-24-31h3m-4 2h2m-14 5h2m6 1h2m-1 12h2m-1 1h2m-3 1h4m-1 0h4m-14 3h2m1 1h2m2 0h2m-1 0h2m3 0h2m-19 2h2m11 0h2m-17 2h2m-48-12h2m7 3h2m-9 1h2m0 0h2m-15-11h2m-4 4h2m-6 1h2m-2 1h3m4 1h2m-21 1h2m12 0h4m-11 1h3m10 1h2m-25 1h2m8 1h2m-8 1h2m-10 3h2m21 3h2m-31 1h2m1 2h2m-1 0h2m-19-24h3m3 0h2m-11 1h3m0 0h4m-11 2h4m5 1h2m-14 1h2m6 1h2m2 1h3m-3 3h2m-45-12h3m-6 5h2m-1 0h2m-2 1h2m-54-16h2m1 4h4m0 0h2m4 2h2m5 24h3m-8 1h2m-59-32h2m4 3h3m0 0h2m-9 1h4m0 1h2m0 1h2m-1 0h2m-52-1h2m12 1h2m-12 2h3m4 0h4m-2 0h3m-10 1h2m3 3h4m1 1h2m-16 1h4m4 2h4m-7 29h3m5 1h2m-3 4h2m-7 29h3m29-19h2m0 3h2m14 3h4m-32 2h2m-5 2h2m-2 2h3m-1 2h2m-1 0h2m-8 1h2m11 0h2m-15 1h2m-1 1h4m-3 1h4m48-31h2m-1 0h3m2 5h2m-17 1h4m9 4h2m17 7h2m-24 1h2m17 0h2m0 2h2m-10 9h2m-5 2h2m19-32h2m14 0h2m13 0h2m-3 3h3m-10 4h3m5 4h2m-39 2h4m-1 4h2m-4 2h3m4 1h2m17 1h2m-28 1h2m31 1h4m-21 1h2m-1 0h2m-9 1h2m3 1h3m10 1h2m16-33h2m-9 7h4m-4 1h2m3 0h3m-7 1h3m13 0h4m-7 1h3m7 1h2m-4 3h2m10 3h3m-18 1h2m18 0h4m-7 1h3m-4 1h2m-27 3h2m-5 1h4m9 1h2m-12 1h2m27 0h2m-6 1h2m-37 2h2m19 1h3m-8 2h2m10 0h2m3 1h3m0 0h2m-2 1h2m-1 0h2m-13 1h2m5 1h3m39-29h2m-20 4h4m13 0h2m-11 3h3m-10 2h2m16 0h2m-33 4h2m7 1h2m23 0h3m-42 1h2m-2 0h2m0 0h2m18 0h3m-24 1h2m21 0h2m-25 3h2m0 0h4m10 0h2m10 0h4m-16 5h2m-6 1h2m0 0h4m0 1h4m-3 2h2m2 0h4m-3 0h2m-2 0h4m-15 2h4m21 1h3m14-31h2m9 2h2m0 0h4m-28 4h3m-1 0h2m-6 1h2m-1 0h2m-2 1h2m0 0h4m-7 2h2m3 1h2m1 2h2m-13 3h2m0 2h3m3 5h3m18 1h2m-22 3h3m1 0h2m9 2h3m-5 1h2m9 2h2m15-39h3m17 12h3m-17 3h2m1 1h2m12 0h3m-18 1h2m-5 3h2m-7 5h4m0 0h3m0 12h2m49-27h2m1 5h2m-3 1h4m-26 4h2m9 3h2m11 3h2m-22 3h2m10 3h3m-12 2h2m18 2h2m5-26h2m34 9h2m-2 0h2m-6 2h2m-1 0h2m-2 2h2m-8 1h2m-28 5h4m4 2h3m17 6h4m-3 0h2m-8 1h2m0 1h2m24-36h3m-9 2h2m4 1h2m4 1h2m4 2h3m-22 1h2m0 1h2m-2 0h2m3 1h2m1 1h3m-14 1h2m6 8h2m-14 2h3m28 8h3m-25 2h2m-8 3h3m9 0h4m-20 2h4m60-37h4m1 0h2m3 2h3m-6 2h2m-14 7h3m-3 0h4m2 1h2m-5 2h2m12 7h3m-2 3h2m-21 2h3m12 5h2m6-31h4m5 3h4m-15 1h2m2 3h2m17 0h2m5 8h2m-6 3h4m-12 3h2m-8 1h4m3 0h3m-5 3h2m-10 1h2m25 0h2m0 0h2m-1 0h3m-3 4h2m-9 1h2m4 0h4m-9 1h4m37-33h3m-25 1h2m20 2h2m-25 5h2m-7 11h2m13 4h4m-6 2h2m-13 1h2m16 0h2m-10 2h2m0 2h2m0 0h2m-11 7h2m-11 1h3m58-35h2m-15 11h2m21 16h4m9-31h3m12 13h2m11 0h2m-9 3h2m2 0h2m2 2h2m-16 16h2m-3 3h2m-5 2h2m23-38h2m6 2h2m19 2h4m0 2h2m-4 1h4m-35 3h2m28 3h4m-12 3h2m-3 17h2m-2 4h2m13-35h2m22 0h2m-9 2h4m-18 2h3m21 1h2m9 12h2m-1 2h2m-28 5h2m4 1h2m-6 2h2m-15 2h2m21 0h2m-19 1h2m-4 1h2m1 0h2m7 3h3m20-31h2m1 6h3m17 1h2m-10 26h2m58-37h2m-12 2h2m-8 1h2m-4 5h4m-4 1h2m7 3h4m-19 1h2m-8 3h2m20 21h2m24-38h4m1 0h4m-22 1h4m30 1h4m-15 1h2m11 2h2m-38 2h2m31 21h3m-21 1h2m15 4h2m-8 1h2m14-35h2m27 31h2m-8 1h4m1 1h2m-8 1h2m5 0h2m-33 1h3m26 0h2m-1 1h2m9-34h2m20 0h3m-2 0h2m-13 12h2m7 11h4m12 0h2m-16 1h2m-2 0h2m0 0h2m-4 2h3m-6 9h2m17-26h2m15 11h2m-5 6h2m16 1h2m-12 5h2m-3 1h3m5 0h3m-31 1h2m31 0h2m21-25h2m19 2h4m-8 14h3m-1 3h3m1-26h3m-2 6h4m0 1h3m-8 5h3m31 0h3m-15 2h2m8 2h3m0 1h2m-18 1h2m1 0h2m9 2h2m-2 0h2m0 3h3m-34 5h2m6 6h3m13 1h2m44-31h4m-34 15h2m-7 3h2m8 1h2m-12 8h4m10 4h3m6 0h3m53-35h2m-8 2h2m-16 3h2m12 1h2m1 0h2m-5 1h2m0 0h3m-16 1h2m13 1h2m-13 1h2m6 1h2m-21 17h3m-3 1h2m25-16h3m0 39h4m6 4h2m-15 12h2m-4 1h2m6 0h2m0 6h3m-18-38h2m-31 6h3m20 4h4m-28 2h2m10 5h4m-4 4h2m5 7h2m-11 1h3m-12 4h2m11 4h2m10 1h3m3 0h2m-50-38h4m-24 2h2m17 1h3m-21 4h2m-11 8h2m-3 1h2m4 0h2m-2 4h2m25 1h3m-31 2h3m29 1h3m-35 3h2m20 4h2m6 2h2m1 0h2m-40 1h2m0 0h2m-11-34h2m-2 3h2m-23 1h2m-4 1h2m13 0h2m0 1h4m-18 1h3m-3 0h2m-1 4h2m9 0h4m-7 2h2m-17 5h2m30 3h2m-3 1h2m-13 2h2m1 1h2m-5 2h2m6 5h2m-1 1h4m-24 2h3m12 2h4m4 0h2m-46-34h4m-13 1h2m-3 2h3m-28 3h2m14 3h3m-16 2h3m16 0h2m7 0h3m-10 10h2m4 5h2m-5 1h2m-21 2h4m-12 2h3m18 2h4m2 0h3m-29 2h2m6 0h2m-1 0h2m21 0h2m-54-39h2m7 2h2m-6 1h2m0 0h2m-21 3h4m4 0h2m-19 5h2m6 0h2m-4 2h3m28 2h4m-38 2h2m25 0h2m-7 4h2m-25 15h4m28 0h2m-72-31h3m17 2h2m-6 2h3m-12 1h2m-13 3h2m36 1h2m-27 1h2m3 0h2m-19 1h2m1 0h4m2 1h2m4 0h4m-2 2h4m-12 1h2m-8 4h4m-3 4h2m-1 0h4m-6 2h4m13 0h2m-1 4h2m2 0h2m-61-9h2m3 0h2m-22-25h3m1 0h2m-13 1h2m6 0h2m1 1h2m-7 2h2m-29 4h2m1 1h4m-4 5h2m22 0h2m-32 3h2m13 12h4m-23-27h2m0 1h2m-39 1h2m34 3h3m-3 3h2m-7 3h2m4 0h2m-24 4h3m-20 7h2m11 7h2m-15 3h2m-2 1h3m-2 0h3m1 0h2m1 2h2m-2 0h4m-4 2h2m-2 0h4m-45-28h4m11 5h2m-12 1h2m9 0h2m-5 1h3m-8 14h2m14 1h3m-26 2h2m26 4h4m-59-39h2m5 2h2m-19 1h3m12 0h2m6 1h2m-25 1h2m26 2h4m-26 2h3m-7 3h2m0 4h2m-4 1h2m-2 0h4m-3 0h2m-2 0h3m6 2h2m-60-15h3m-43-3h2m6 0h2m3 0h2m4 0h2m-12 2h2m-2 1h2m8 6h2m-10 1h4m0 3h2m1 1h3m-7 2h4m5 0h2m5 0h2m-9 1h4m-8 5h2m10 3h2m-11 3h2m-47-23h4m-23 16h2m28 7h2m1 2h2m-30 1h2m26 2h3m-64-32h2m20 9h2m-6 2h3m-75 13h4m-19-17h2m7 0h3m-32 5h2m17 1h2m-22 6h3m2 0h4m3 1h2m-1 0h2m0 1h3m-6 1h2m3 3h4m-10 2h2m-18 4h2m17 5h2m-42-34h2m-6 2h2m-11 6h2m16 8h2m-10 1h2m6 7h2m-7 1h3m-8 4h2m19 1h3m-4 4h2m0 1h3m-67-39h2m15 0h3m-6 1h2m-15 3h3m1 0h3m4 0h2m4 4h2m-13 8h2m-8 1h4m-17 5h2m13 0h2m13 0h2m-7 15h3m-46-37h4m-21 7h4m14 3h2m4 0h2m-16 2h2m2 1h2m-12 4h4m-3 1h2m-6 3h2m1 3h4m-4 2h2m5 0h2m2 0h2m-12 1h2m6 0h2m-4 2h2m-6 1h2m-5 2h2m3 1h3m4 0h2m-16 2h2m5 0h3m0 0h4m-1 2h2m-15 1h3m14 0h2m-42-14h3m1 15h2m6 0h2m-60-39h2m18 1h2m-12 6h4m-29 12h2m3 3h2m-7 3h2m33 4h2m-7 5h2m-49-33h2m11 5h2m-9 1h2m3 0h2m-26 9h2m17 15h3m1 3h2m-44-33h4m-5 7h2m0 1h3m-8 3h2m7 0h2m-38 2h4m27 1h2m0 0h2m-8 12h3m5 12h2m-63-32h4m-17 6h2m11 11h2m-8 1h4m0 0h2m1 1h2m-7 3h4m-9 1h2m1 2h3m2 1h2m-9 2h4m11 0h3m-14 1h2m6 1h2m8 2h2m-47-39h2m-21 11h4m28 3h3m-42 1h3m9 7h3m3 2h2m-4 9h2m-56-33h2m34 3h2m-49-2h3m1 0h2m-5 26h4m-10 2h2m-3 22h3m-1 1h4m1 3h3m1 2h2m-9 1h4m2 4h2m-1 2h2m-4 2h2m-5 2h2m-19 9h2m45-26h3m-20 6h2m-2 7h3m-5 2h4m9 8h3m76-33h3m2 7h4m-5 4h2m1 0h3m-3 0h2m7 3h2m-7 1h3m-15 4h2m24 1h2m-5 15h2m-20 3h2m48-35h2m4 7h2m-36 1h4m21 2h2m-8 15h2m-13 5h2m46-16h2m-1 1h4m6 2h2m-29 1h4m24 0h2m-18 2h2m-11 3h2m1 0h2m-6 2h3m3 5h2m6 4h2m5 0h2m-12 1h4m4 0h2m36-36h2m-14 22h2m20 3h2m-16 1h2m0 1h4m1 0h2m3 3h2m-1 0h3m-11 3h2m48-36h2m-7 11h4m-19 3h4m10 0h4m-22 1h2m15 0h2m-7 1h3m1 0h2m-1 1h2m8 0h2m-35 2h2m5 0h3m0 0h4m8 0h2m3 0h4m-17 1h2m6 1h2m11 0h4m-6 1h2m-2 1h2m-30 1h2m19 0h2m3 0h4m-3 0h2m-9 5h2m-11 1h4m9 4h3m9-32h2m16 2h2m-19 12h2m4 0h2m3 0h2m-11 1h2m1 0h2m0 1h4m-2 0h3m-12 7h2m-2 1h2m26 5h3m-3 1h2m-8 1h4m-6 1h2m3 4h4m-7 1h2m15-35h2m-1 0h2m5 3h4m-8 1h2m3 0h2m3 0h2m-14 23h2m6 0h2m22 0h2m-21 1h4m6 1h2m-16 5h2m17 0h3m43-38h2m-14 9h4m-20 11h4m0 0h3m-1 7h4m14 8h3m7-34h4m8 7h3m-3 0h2m6 7h2m-6 3h2m2 7h2m14 1h2m-11 2h2m5 0h2m-9 3h2m-20 3h2m19 1h2m-8 1h2m-29 2h4m33 0h2m24-37h2m-1 2h2m13 0h2m-15 1h2m-15 8h2m0 0h2m0 0h3m-2 1h2m-3 1h2m-3 2h2m13 1h2m-33 10h2m1 4h2m47-27h3m-11 5h4m-1 1h4m4 0h2m-5 1h2m24 14h2m-40 1h2m34 11h2m-3 1h4m-2 0h2m31-28h2m-28 3h2m-6 1h4m34 0h4m-7 6h2m-34 2h2m25 5h2m6 7h2m-19 5h4m53-20h2m-21 5h2m57-9h2m-36 3h2m2 1h2m0 0h2m1 3h2m3 4h4m26-11h2m14 20h4m-11 3h2m-1 0h3m6 1h4m45-26h2m-17 1h2m4 0h2m6 2h2m-6 3h3m-20 10h2m5 0h4m-9 2h4m18 0h2m-22 2h3m20-33h2m11 0h2m-3 2h4m-5 2h3m-3 14h4m2 4h4m-9 1h2m12 4h2m-16 2h3m23 2h4m-6 2h2m2-8h4m7 6h2m-6 2h3m16 2h2m-9 2h2m55-33h2m-1 3h2m-4 4h2m-1 12h2m-3 2h4m-21 14h3m56-37h2m-2 0h2m-40 4h3m22 0h2m-18 1h2m9 1h2m-7 3h2m11 1h2m-19 2h2m16 1h4m-29 6h2m25 0h4m-33 1h4m21 2h2m2 1h4m-13 1h2m-2 1h2m-22 1h2m3 0h3m11 1h2m2 2h3m0 0h2m-4 1h2m-21 2h2m15 0h2m-15 1h2m14 1h2m-3 1h2m-14 1h2m-2 0h4m-3 1h2m5 0h2m17-39h3m35 1h2m-40 1h2m-1 0h3m5 3h4m-12 2h3m14 0h3m-4 3h2m15 0h4m-14 3h4m-18 3h3m2 0h3m-12 2h2m-1 0h3m3 0h2m-7 1h2m-3 2h2m14 9h3m-15 1h2m2 2h2m7 2h2m-17 3h2m4 0h2m6 1h2m25-39h2m8 0h2m10 0h2m-10 1h2m-26 1h2m28 0h2m-23 1h4m15 0h2m-29 1h4m-1 0h3m13 0h2m12 0h2m-3 1h2m2 0h2m-7 2h2m2 0h2m-32 3h2m26 0h3m-2 2h3m-12 3h3m-3 9h2m43-24h4m-17 2h2m-15 1h3m22 0h4m-6 1h2m2 5h2m-11 2h2m-18 1h4m9 1h4m3 0h2m8 0h2m-14 3h4m6 4h2m1 0h2m-24 1h2m11 0h3m-1 1h2m-22 2h2m7 3h2m9 2h2m-15 2h4m0 0h2m51-29h2m-32 1h3m-4 4h3m17 0h2m-24 1h4m17 1h2m-12 6h3m9 0h2m-28 13h2m-2 1h2m1 2h2m48-26h2m-11 12h2m8 6h3m0 0h3m-8 1h2m-1 0h2m0 0h3m7 0h2m-11 1h3m-1 0h4m-16 1h2m2 0h2m3 0h3m-1 0h4m-7 2h2m3 0h2m-16 1h2m-1 0h3m21 0h3m-14 1h2m10 1h2m-1 1h2m-18 1h2m23-30h3m3 1h2m3 46h3m-6 1h4m-12 3h2m-3 12h2m0 0h2m-40-10h3m30 0h2m-36 2h2m34 2h2m-38 1h4m29 1h3m-4 1h4m-6 1h4m-7 6h3m-12 3h4m-3 5h3m-60-35h2m14 1h2m-3 4h2m-8 1h2m3 3h2m0 0h2m-7 1h2m-6 1h2m1 0h2m2 0h2m18 1h4m-41 2h2m-22-15h2m12 1h3m-24 7h2m10 0h2m-7 4h3m-15 2h3m21 1h2m-8 2h4m4 0h4m-3 1h4m-10 3h2m0 0h2m2 1h2m-38 1h2m5 0h2m-1 0h2m18 0h2m-30 1h2m31 1h2m-16 1h2m13 0h3m-33 3h2m20 0h2m-19 2h2m22 0h4m-10 5h2m-37-28h4m-3 19h2m-4 5h2m-71-34h3m24 0h2m-22 4h2m-10 6h4m25 1h2m-17 22h2m1 2h2m6 0h2m-7 2h3m2 0h2m-11 1h2m19 0h3m-43-38h2m-26 3h4m3 0h2m3 1h2m-19 1h2m4 0h2m-10 3h3m13 0h2m-1 1h2m-7 1h2m-2 1h2m-20 2h2m11 26h2m-33-34h2m8 3h2m-26 2h2m-1 3h2m20 3h3m-3 2h2m-25 1h2m23 0h2m-35 2h4m4 1h3m25 0h2m-40 2h2m1 3h2m0 4h4m1 4h4m12 0h2m-17 1h2m-11 1h2m-43-37h2m17 12h3m-5 1h4m17 14h2m-14 1h3m-63-25h4m-11 2h2m7 12h2m1 2h3m9 1h4m-11 1h4m-9 2h2m-9 1h2m1 0h4m-4 3h2m1 5h2m-2 0h3m0 0h3m-2 1h2m-15 2h2m7 1h3m-16-34h4m-30 2h2m-4 1h2m-12 5h4m15 2h2m-19 3h2m6 1h4m-22-16h2m-16 1h2m3 0h2m1 0h3m-21 1h2m13 2h3m-1 1h2m-13 3h3m2 0h2m4 1h2m12 0h2m-17 1h2m3 0h2m-26 3h2m16 0h2m-25 2h2m32 1h4m-2 1h2m-1 0h2m-39 4h2m3 3h2m-5 4h4m-12-20h2m-33 6h2m10 5h3m2 4h3m-5 7h3m8 0h3m-22 1h4m23 1h3m-20 1h2m13 0h3m-28 4h2m2 0h4m-3 0h2m7 1h2m-22 1h2m-45-34h2m-3 7h3m3 5h2m-6 13h2m19 6h2m-5 1h3m1 0h3m-2 1h2m-37-35h2m-30 1h2m-2 2h2m0 0h2m11 13h4m-1 13h3m0 0h3m-55-30h3m19 3h2m-26 13h2m-3 1h2m-3 3h2m13 1h2m1 0h4m-17 3h2m-13 3h2m13 1h2m16 1h3m-21 2h2m5 3h2m-4 1h2m5 1h2m-28 1h2m-33-27h2m8 0h4m-10 2h2m8 3h3m-3 2h3m-6 6h2m5 3h2m7 3h2m-30 4h2m-41-32h3m-6 21h3m-9 4h2m20 3h2m-44-29h2m-20 8h2m7 3h2m14 2h2m-7 3h2m-62-16h2m19 28h2m-5 1h2m-2 3h3m-2 0h2m2 4h2m-51-37h4m3 1h3m5 2h2m-9 2h2m2 0h2m-3 1h2m-29 27h2m0 0h4m13 4h3m4 0h2m-42-36h2m-29 3h2m31 6h4m-34 1h2m6 0h2m8 2h2m10 1h2m-3 1h2m-1 3h2m-12 3h2m5 0h4m-1 2h3m-1 1h2m-6 2h2m-30 1h2m33 1h2m-3 2h3m-5 1h2m-24 4h4m-19-26h2m-15 11h2m-4 9h2m8 0h3m-12 2h4m-9 1h4m-4 1h2m6 0h2m1 0h2m3 2h2m-22 1h4m14 1h2m-15 1h2m-55-36h4m-4 0h2m16 2h2m2 0h4m1 1h4m-36 1h2m10 0h2m6 1h4m-3 0h2m-18 1h3m14 0h2m3 0h4m-30 1h2m17 0h3m-25 1h2m1 0h2m10 0h2m0 0h2m5 0h2m-27 4h2m2 2h2m3 4h3m-2 7h2m7 1h2m-6 1h2m-13 1h2m10 5h2m-4 1h2m-28-37h4m6 8h2m-1 1h2m-6 3h4m-4 3h2m-18 10h2m-4 4h2m-19 5h2m18 4h2m-36-38h3m7 1h2m-8 1h3m-2 0h4m-30 1h2m5 2h2m-9 2h2m3 0h2m6 0h3m-6 1h2m-3 1h2m-3 1h3m-1 1h2m-5 1h2m-8 1h3m7 2h2m12 8h2m-11 1h3m-6 4h4m-15 4h2m-7 1h3m21 3h4m-21 1h3m1 2h2m20 0h3m-68-28h2m-2 1h2m-10 1h2m2 0h2m0 0h2m4 0h2m-8 2h2m-5 3h2m7 1h2m13 1h2m-22 1h3m-8 2h2m7 0h4m-2 0h2m21 0h3m-24 1h3m-10 1h3m2 1h2m-6 2h2m11 1h2m-16 2h2m27 0h2m-16 2h4m-11 1h3m10 0h2m1 0h3m-18 1h2m-5 1h2m-5 1h4m0 0h2m-22-36h2m-1 8h2m-15 14h2m-24 3h2m28 1h2m-27 2h4m23 2h2m-5 6h2m-60-22h2m4 4h2m16 2h2m-17 2h4m12 6h2m-38 9h2m20 0h2m-3 1h4m2 3h3m-15 2h4m-2 3h4m14 3h4m-8 6h2m-21 1h2m19 0h3m-23 2h4m6 5h3m50-20h2m-3 1h2m-10 5h4m-2 1h2m-29 2h3m22 0h3m2 0h2m-36 3h2m0 0h2m19 0h2m3 0h3m-12 2h2m-1 0h2m-1 0h4m-8 3h3m-21 4h3m19 1h2m11 2h2m2 0h2m-16 3h2m2 3h2m41-34h2m-31 1h2m22 0h2m1 1h3m-23 1h4m-11 3h4m-7 1h2m10 0h2m-8 4h2m10 1h2m-1 1h3m-17 3h2m18 2h2m6 0h2m-1 2h4m-32 2h2m26 0h2m-16 1h2m0 2h3m-1 0h4m9 0h3m-4 1h2m0 1h2m-32 1h2m14 0h3m-2 0h2m-25 1h2m2 2h4m21 5h2m-26 1h3m-10 1h3m19 1h2m29-37h3m-1 0h2m-9 1h2m-8 1h2m4 0h2m-7 1h4m26 4h2m-16 5h4m1 2h2m6 1h2m2 2h3m0 0h2m-4 1h2m-6 2h2m-33 2h2m32 9h3m-33 3h2m58-33h2m1 6h2m-25 3h4m14 1h2m-26 1h2m30 1h2m2 0h4m-30 2h3m-10 1h2m28 1h2m-34 1h2m12 2h2m27-10h2m-5 1h2m-1 1h2m34 16h4m-8 1h4m-11 3h4m45-33h3m-9 2h2m-6 2h4m-29 7h2m34 2h2m-27 1h2m-11 1h2m20 2h3m-9 1h2m2 0h3m11 0h2m-22 10h2m0 1h3m-14 3h2m7 0h3m-13 1h2m-2 2h2m-2 1h2m12 0h4m18-32h4m-1 5h4m-7 4h2m9 1h2m7 0h2m-14 1h2m16 2h3m-14 9h2m-6 5h2m44-32h2m9 16h2m-11 5h3m1 3h3m-18 4h2m8 2h4m0 4h2m-18 2h2m11 0h2m3 0h2m1 0h2m-17 2h3m49-38h3m-13 4h2m-5 4h2m7 16h2m-12 3h4m1 0h2m7 3h2m-4 2h4m4 1h2m-18 1h3m1 0h2m1 0h2m27-25h4m19 2h4m-3 4h3m-36 2h4m-2 0h2m3 0h2m-7 1h3m2 2h3m52-18h4m7 1h2m-11 5h3m-2 10h4m-4 0h2m-19 2h3m23 0h2m-37 3h2m21 0h2m-17 13h2m-10 3h2m6 0h3m34-38h2m15 11h2m-7 2h2m-3 15h2m-14 2h4m1 0h2m56-31h4m3 18h2m-17 1h3m8 4h2m2 0h2m64-22h4m-20 12h2m0 4h4m4 8h2m10 8h3m-13 3h4m9 0h4m-17 1h3m-1 0h2m48-37h2m4 2h3m-27 1h2m-8 1h2m-4 1h2m-5 1h2m29 0h2m14-4h2m-6 2h2m31 7h4m-30 4h2m4 3h2m-2 0h3m-9 2h2m-2 0h2m1 0h4m-11 1h3m-1 2h4m-4 1h3m0 2h2m-1 0h2m18 4h2m-21 1h2m29-29h2m21 2h4m-23 3h3m-6 25h2m1 0h3m4 3h2m-13 4h2m38-24h3m22 0h2m6 0h2m-7 1h2m0 2h4m-25 5h2m15 0h4m-4 1h2m21-22h4m-17 15h2m22 3h2m-28 1h2m26 0h2m-5 1h3m-26 2h3m23 0h4m-9 4h2m-2 1h4m7 5h2m-1 5h2m11-37h2m-10 4h4m2 0h4m7 2h2m-15 1h2m4 6h2m0 2h2m3 1h2m6 0h2m-7 1h2m8 4h2m-4 14h4m0 2h2m26-36h2m-1 0h2m-2 5h2m-3 10h2m5 2h2m-4 9h2m3 1h2m-11 2h4m3 0h2m-26 1h3m12 2h4m3 0h2m-4 3h2m-14 1h4m48-37h2m-7 4h3m-12 2h3m-4 5h3m4 1h2m-16 1h2m13 1h2m-12 1h4m1 3h3m-5 10h4m-6 2h2m-4 1h2m21 1h2m3 1h2m0 1h3m-6 1h2m11-37h2m-2 1h2m6 2h4m-4 2h2m15 0h2m-5 1h2m-15 1h2m12 1h4m-3 1h4m-5 6h4m5 7h2m-7 5h3m-26 5h2m-7 4h2m7 2h3m20 0h2m-36 1h2m66-34h2m-16 1h4m-10 3h2m5 0h3m-6 1h2m-3 3h2m-11 10h2m7 0h4m6 3h4m-9 4h2m16 1h2m-38 4h2m-1 0h2m14 0h2m-2 1h4m12 3h2m31-39h3m4 1h2m-10 2h2m-13 9h2m-10 11h4m-6 9h2m7 0h2m-3 1h3m4 0h2m0 0h2m14 1h4m-31 1h2m21 0h2m-25 1h2m24 0h2m-4 1h4m-33 1h2m2 0h4m-5 1h3m56-38h2m3 5h2m-8 11h2m-6 3h2m1 0h4m6 0h2m-7 1h2m-25 4h2m-8 4h3m-3 8h2m13 2h2m36 0h3m-8 3h2m5 5h2m-4 1h2m-3 3h2m-54-9h2m8 25h2m-6 2h2m10 5h2m9 0h2m-3 1h2m-7 2h2m-29-35h2m-34 1h2m1 1h2m-10 1h2m7 2h2m-6 1h2m5 3h4m21 11h2m-21 4h3m-9 7h2m-13 4h2m-3 2h2m-23-38h3m-22 1h2m17 3h2m4 2h2m-13 1h2m-1 3h2m-1 1h2m-5 3h2m16 9h2m3 0h2m-10 1h4m0 0h2m-3 1h2m0 0h2m-2 2h2m-8 3h2m4 4h2m-60-35h3m-5 1h2m-7 13h3m-9 2h2m20 0h2m2 0h2m-24 1h2m-9 1h3m16 1h3m10 4h2m-28 1h2m24 0h2m-60-9h2m15 0h4m-31 3h2m13 1h2m14 0h2m-12 1h2m6 1h4m-17 17h2m-21 1h2m-22-11h2m1 0h4m-5 2h2m12 2h2m-71-28h3m-2 0h2m18 2h2m-9 1h2m-6 2h3m17 6h2m-11 5h2m-7 3h2m-22 8h2m25 6h2m-51-37h2m9 0h3m-6 3h4m1 0h2m-7 1h3m5 4h2m-7 1h3m2 0h4m-5 2h2m-25 1h2m19 0h2m-34 16h2m21 2h2m-8 1h3m5 5h2m3 2h2m-21 1h2m-46-30h2m-12 2h2m1 1h2m10 3h2m-6 6h3m20 16h2m0 1h2m-14 1h4m-31-39h2m-10 5h3m-4 2h2m0 2h4m-30 3h2m7 0h2m18 0h2m-18 1h3m19 1h2m-6 5h2m1 3h2m-9 2h2m-18 1h2m-15 1h2m22 2h2m3 10h2m-35-25h2m-26 7h2m2 1h3m11 10h2m2 0h4m-38 7h2m-34-36h2m10 12h2m-7 1h2m5 0h4m-19 1h4m5 0h2m-10 2h2m6 1h3m18 6h2m-5 1h3m-38 12h2m-19-35h2m8 1h2m-10 4h2m-5 1h3m-5 1h3m-4 1h2m-8 17h2m1 1h4m-9 6h2m6 0h2m-22 3h4m-17-14h2m-27 3h2m-2 0h3m2 1h2m18 0h2m-6 1h2m2 1h4m-58-10h2m-40-9h3m-18 3h2m30 14h2m-1 1h2m-14 1h2m5 1h3m-15 5h3m7 0h4m-2 0h2m-3 1h2m-60-30h2m-6 3h2m-5 1h3m2 0h2m23 2h2m-28 1h2m20 3h3m-1 0h3m-20 1h2m17 0h2m0 2h3m-7 1h2m5 1h4m-4 4h3m-18 9h2m-25-20h2m-32 16h2m2 1h2m-52-26h4m12 2h2m-18 1h2m19 1h2m-23 4h2m9 3h3m2 1h2m2 0h4m-14 2h2m9 0h4m-53-20h4m17 2h2m-30 2h2m18 2h4m-2 0h2m2 1h4m-23 1h2m15 0h4m-11 1h4m-4 3h3m7 0h2m-33 3h2m32 4h3m-21 15h2m11 0h2m-11 1h4m-9 2h3m6 2h4m-34-28h2m-48-9h2m-16 3h4m-18 1h2m23 4h2m-6 1h2m-7 1h2m2 0h2m-3 1h3m-5 1h2m0 0h3m-2 0h3m-2 0h2m-9 2h4m-25-7h2m-78-7h4m4 5h2m18 2h4m-24 27h3m-51-1h2m9 3h3m-52-38h2m4 1h4m25 1h4m-24 1h2m-20 1h2m1 0h4m-3 0h2m14 0h2m-21 1h2m2 0h4m-6 1h2m4 0h3m-11 1h2m1 1h2m20 0h3m-2 11h2m6 13h2m-33 2h4m30 1h4m-40 2h2m-25-37h2m-9 3h3m22 0h2m-1 2h2m-32 1h3m25 1h2m-1 0h2m-21 3h2m11 0h4m-1 0h4m-36 1h4m3 3h3m-9 2h2m-4 2h2m11 8h2m2 0h3m-2 2h2m-5 1h2m9 1h4m-20 3h3m6 4h3m-8 1h4m1 0h2m-36-25h2m8 7h3m-1 2h2m-4 1h3m-10 2h2m2 2h2m-12 12h4m-28 32h2m-4 1h2m-3 5h2m35-11h2m-35 10h2m31 0h2m0 0h4m2-36h2m6 1h4m-3 0h2m10 1h4m1 0h2m-6 3h3m-20 3h4m-10 8h2m1 4h2m18 9h4m-4 0h2m2 1h2m-27 4h2m4 2h2m10 1h4m-19 1h2m-2 1h2m6 0h3m34-11h2m34-26h2m-2 6h2m26 4h2m-14 2h4m0 2h3m-2 0h2m5 0h3m-9 1h2m-1 0h2m-11 3h2m80 14h2m43-21h2m-5 4h2m2 1h4m4 1h2m-8 2h2m-20 9h2m1 2h2m-3 2h3m-6 4h2m3 1h4m46-27h3m-18 12h4m3 0h4m-3 1h2m-8 1h4m2 4h2m-1 0h2m42-29h4m-4 0h3m-16 7h3m12 19h2m-9 4h2m5 5h2m29-17h3m19 7h2m31-19h2m-28 14h2m0 2h2m-10 2h2m2 1h2m-2 4h2m-2 2h4m-5 1h2m35-30h2m61 0h2m13 24h3m-15 2h4m8 0h2m-10 2h4m5 1h2m-5 1h2m-15 1h4m2 0h3m-1 2h2m-8 2h3m-25 1h2m53-33h3m16 10h2m-1 0h2m-6 2h2m-16 5h2m-15 1h4m18 1h2m-13 3h2m10 0h2m1 0h2m-21 1h2m-8 4h2m58-27h2m7 0h2m-2 2h3m-32 1h3m27 0h3m-35 2h2m22 0h2m-25 1h2m30 0h4m-33 3h2m3 0h2m22 1h4m-42 2h2m-1 1h2m20 17h2m-2 0h2m17-34h3m0 2h2m16 0h2m12 14h2m-1 0h2m-37 6h3m62-24h2m-13 3h2m0 2h2m-5 3h4m-5 1h3m-1 2h2m17 0h4m-32 4h3m6 10h2m8 2h4m-20 1h2m15 0h4m-1 0h2m-6 2h2m3 0h3m-3 0h2m-27 2h2m0 0h2m-3 2h3m-7 1h2m-6 2h2m4 2h4m60-38h2m-17 1h2m-7 6h2m15 1h3m0 3h2m-32 12h2m20 3h4m-5 1h3m-7 2h3m-3 1h4m1 0h2m-2 0h2m-11 1h2m12 0h2m-11 1h2m2 0h2m4 0h2m-12 3h2m21-36h2m26 0h2m3 0h2m-2 3h4m-9 11h4m-2 0h4m-8 3h2m-25 8h2m8 7h2m18 4h4m-2 0h2m-5 1h2m-6 1h2m2 0h2m22-37h2m16 0h4m-31 1h2m20 0h2m-25 1h2m-1 1h2m-4 1h2m6 1h4m-8 1h2m26 0h2m-30 1h2m0 3h2m21 12h2m-35 1h2m25 0h3m2 3h2m-37 2h2m25 0h2m-29 9h3m-3 1h2m70-38h2m-5 1h3m-10 1h4m-22 11h2m-2 9h2m-1 0h2m28 2h3m-38 1h3m23 1h2m-25 1h2m3 2h2m4 0h2m-6 1h4m-14 1h4m4 0h2m0 0h3m20 0h3m-19 1h2m4 1h2m6 0h2m29-26h2m-6 4h3m11 20h2m75-18h4m-7 2h2m-5 1h2m-3 8h2m1 3h2m33-26h2m5 3h4m7 2h2m-26 10h2m0 1h2m8 9h2m25-26h2m1 0h2m-13 1h2m4 2h3m-7 5h2m-5 3h2m-5 5h2m28 1h2m17-12h4m40-6h2m35 49h4m-1 1h2m-4 1h2m1 1h4m-1 1h2m-10 1h2m-4 1h2m-2 4h2m-1 11h2m0 1h4m-16-23h2m-47 30h4m-60-36h2m-9 11h2m-48-6h2m3 0h4m-6 8h4m18 4h2m-4 9h2m6 11h2m-62-30h3m-1 2h4m-61-10h2m6 17h3m-1 3h3m-22-19h2m-15 4h2m13 2h3m-11 2h2m-28 7h2m25 1h2m-5 13h4m-6 2h3m-1 0h4m3 1h3m-19 2h2m9 1h4m-44-8h2m-15 1h3m12 3h4m-62-16h2m2 7h2m23 4h2m-10 8h2m-14 3h4m-33-38h2m5 0h2m-13 1h2m-11 1h2m-18 16h2m5 2h2m9 2h2m-20 2h2m5 2h2m16 0h2m-21 1h3m-9 1h2m-3 1h2m18 0h2m-20 1h3m-3 1h2m6 0h2m-2 0h2m0 1h2m4 2h2m7 1h2m-12 2h2m-31-20h2m2 1h3m-10 6h3m8 3h2m1 2h2m-5 1h2m-3 2h3m-2 1h2m-71-28h3m5 17h2m-13 1h2m12 3h2m5 2h2m-10 1h2m-1 0h3m3 0h2m3 0h4m-17 1h2m8 0h2m-23 4h2m-37-32h3m11 1h2m-10 2h4m-7 2h4m-17 1h2m10 0h2m0 0h3m0 0h2m-6 2h2m17 0h3m-31 1h2m5 0h4m24 0h2m-7 9h4m-1 6h2m-37 1h4m29 2h3m-26 6h3m-8 3h2m-47-37h4m-1 0h3m31 8h2m-20 2h2m1 8h2m1 0h2m0 1h2m3 2h4m-1 0h3m-22 2h3m-1 0h2m8 1h2m-4 1h2m2 0h2m-10 2h3m12 0h2m-19 2h2m-20 7h4m-3 0h2m-14-32h3m-3 2h3m0 1h2m-1 0h2m-21 9h2m-13 9h2m27 0h4m-12 5h2m9 2h2m-15 2h3m-20 1h2m9 1h2m-1 0h2m4 0h2m2 0h2m-11 1h2m-2 0h2m2 0h2m1 0h3m2 0h2m-1 0h3m-72-34h2m5 3h2m-9 1h2m17 11h3m-8 2h3m-8 8h2m-4 2h2m0 7h2m-25-30h4m-13 1h2m-3 1h2m3 1h4m-4 1h2m6 0h2m-7 1h4m1 0h4m-1 0h4m-8 1h2m-20 3h3m6 2h3m1 0h2m-4 1h2m5 0h3m-27 2h2m16 0h2m-1 1h2m-12 2h2m14 0h2m-25 3h2m3 0h4m-2 2h4m-4 2h2m-60-27h2m27 1h2m-7 8h2m10 0h2m-5 1h2m-11 1h3m3 0h3m-13 2h2m-11 2h2m-9 5h2m6 3h3m13 4h2m-21 1h2m-52-9h2m36 2h2m-36 5h2m10 5h2m-45-19h2m17 11h2m-7 4h2m-2 1h4m-5 2h2m4 0h2m-31 1h2m29 0h2m-3 1h2m-71-9h2m-15-2h4m-59-6h2m-2 2h2m-14 8h2m3 5h2m-44-22h3m-7 4h2m-2 12h4m2 3h2m2 2h2m5 1h2m4 1h2m-4 1h2m4 0h3m-3 0h2m-1 0h2m-21 1h4m-53-30h4m-5 3h2m32 2h2m1 1h2m-5 1h2m-42-1h3m-37 11h2m0 0h2m-6 4h2m-42-18h2m-2 0h2m32 10h2m-3 3h2m-15 4h2m10 0h4m-18 10h2m-60-39h2m28 1h2m-26 36h4m-15-37h3m-1 2h4m10 44h2m-1 2h3m-2 15h3m-15 7h2m20 2h2m-3 4h4m-14 1h2m0 0h2m-14 1h3m58-38h4m6 0h2m-13 1h2m-5 8h2m16 1h3m-1 0h2m-15 1h2m-19 9h4m2 2h2m-8 2h4m-3 0h3m0 1h4m-1 1h4m-13 4h2m23 1h3m-24 4h3m10 1h3m1 1h2m12-33h4m-6 2h2m34 12h2m-1 4h2m-39 4h2m12 0h2m-7 3h2m-2 2h2m-4 1h2m4 0h2m-8 2h2m-1 1h2m28 0h3m25-24h2m-13 3h4m-18 17h2m4 1h3m-5 2h2m-1 2h2m-5 2h2m35-38h2m23 0h2m4 1h2m-14 2h3m3 0h2m-3 14h2m-7 2h3m47-19h2m-4 1h2m-1 6h3m-11 23h2m-17 1h4m14 3h2m5 0h2m-14 1h2m2 0h4m-11 1h2m4 0h2m5 0h4m-28 1h4m2 2h2m4 0h2m56-37h2m-3 7h2m4 1h4m-7 10h2m-29 2h2m3 5h3m12 1h2m-6 2h2m9 0h2m1 2h3m-16 1h2m8 1h2m-9 1h2m-4 4h2m45-37h2m3 1h2m-19 19h2m-1 4h2m-25 6h3m44-32h3m-2 2h2m3 8h3m6 0h3m-6 7h2m0 0h2m-20 2h4m6 1h2m3 0h2m-1 0h2m10 0h2m-24 7h2m1 0h2m11 0h3m-15 3h2m14 0h2m0 3h3m-9 2h2m-1 2h2m2 0h2m-23 1h2m41-6h2m-14 2h2m65-34h2m0 7h2m-30 3h2m18 6h2m12 8h3m-20 11h2m20-31h2m9 5h4m-4 1h2m12 19h2m-11 7h2m-8 1h3m2 0h4m0 2h2m35-35h4m-9 1h4m-2 1h3m-11 4h2m6 3h3m-8 1h4m22 0h2m-18 1h2m19 5h2m-33 19h2m27 0h2m21-39h4m12 0h3m-1 4h2m-11 2h2m-23 3h3m13 1h4m8 1h2m-23 3h2m10 1h2m-14 2h4m3 3h4m-1 1h2m7 0h4m-24 2h3m1 1h2m57-23h4m-37 1h3m-3 2h2m14 0h2m-16 9h2m5 0h2m3 3h2m-14 1h2m-2 0h2m1 0h4m-1 1h2m14 0h2m-30 1h2m2 0h2m3 0h4m1 0h2m6 0h4m-19 1h4m-4 0h2m25 0h2m-6 3h2m-27 4h4m-5 1h3m6 1h4m3 1h2m-1 2h4m-10 2h2m2 0h3m-17 3h2m16 1h4m-19 1h3m30-13h2m14 2h3m-5 2h2m5 1h3m-7 1h4m-2 1h3m-23 4h2m77-30h4m-6 4h4m-4 1h2m-15 6h2m-3 1h2m1 0h2m-2 6h2m6 1h2m-10 2h2m14-3h4m-3 3h2m0 5h4m26 3h2m31-35h2m6 0h2m-12 3h2m-9 3h2m-1 4h2m-17 5h4m-9 3h2m8 20h2m56-39h2m-1 0h3m-22 3h2m3 0h4m8 0h2m8 4h4m-22 3h2m-1 0h2m-2 0h2m-2 19h2m2 2h2m-9 5h3m-11 1h4m-5 1h2m33-32h2m7 0h2m3 10h4m-9 2h2m0 0h2m9 1h2m12 1h2m-25 1h2m12 3h2m-5 1h3m-3 1h2m-21 8h2m12 1h4m-3 0h2m-8 1h2m42-34h3m1 5h2m-2 1h2m1 1h2m-19 11h3m9 0h2m-5 5h4m25-12h2m25 0h2m-32 5h2m-6 4h3m-2 2h4m38-16h2m8 1h4m-8 1h2m0 0h2m0 0h2m-12 1h2m1 0h2m6 1h2m-12 2h2m-2 7h2m-8 2h2m13 1h4m-12 11h2m-3 4h4m31-39h4m-4 6h2m10 18h4m-12 2h3m9 4h2m7 2h2m-10 3h2m-4 3h2m6 0h3m13-38h2m32 1h3m2 2h2m-14 8h2m0 0h2m-8 8h2m-7 1h2m5 2h3m-14 1h4m16 2h2m-4 4h2m-9 2h2m-19 5h3m-1 0h3m-7 1h2m66-37h3m2 1h2m-12 1h2m4 0h2m-10 1h3m6 2h2m-17 1h3m-5 17h4m10 2h2m-10 2h2m-5 1h3m1 0h2m6 1h2m-26 1h4m4 0h3m18 1h3m-38 2h2m8 0h2m13 0h4m10-31h2m14 27h2m1 3h2m32 7h2m-14 13h2m-3 13h2m4 0h2m3 6h4m-44-29h3m16 2h2m-18 3h4m-14 2h3m-8 2h3m4 8h3m-1 9h4m-11 1h4m-2 3h2m4 1h2m-8 1h3m-5 1h2m3 0h3m-52-24h2m7 0h2m-1 0h2m2 1h2m-12 1h2m3 0h3m16 0h2m-24 1h2m4 0h4m-6 1h2m-11 3h3m21 2h2m-15 1h2m-11 3h2m-31-23h2m14 0h2m3 0h2m-29 1h4m-9 3h2m13 15h2m0 8h3m-9 2h2m-11 5h2m-1 2h2m-38-37h2m20 8h2m-14 1h2m2 0h4m-2 1h3m-11 4h4m13 0h4m-9 2h4m-28 1h3m3 1h2m1 1h2m15 3h2m-30 1h2m25 0h2m-24 3h2m0 0h2m3 4h2m15 2h2m-20 3h2m11 0h2m-5 1h3m-8 1h2m11 0h2m-16 2h4m6 0h2m-68-38h2m-1 0h2m14 0h2m3 1h3m-3 0h3m-18 1h2m16 0h3m-29 2h4m22 0h2m-8 2h2m-20 1h3m-5 1h4m-3 0h4m-4 1h2m16 0h2m-18 1h4m-5 1h2m14 0h3m-23 1h2m10 0h2m16 0h2m-6 1h3m1 2h2m-23 10h4m0 1h4m-4 1h2m-51-26h2m-6 2h2m7 1h2m22 2h2m-1 0h4m-1 0h2m-34 1h2m1 1h2m-6 1h2m4 0h3m24 1h3m-28 2h2m5 16h3m-56-10h2m-7 4h2m1 0h2m29 0h4m-29 2h3m-10 3h2m15 5h4m0 0h2m-13 3h2m17 2h2m-11 1h2m-65-34h4m3 2h4m25 11h3m-7 1h2m-1 5h2m-1 3h2m-6 2h4m-14 1h2m-57-30h4m-1 0h3m-7 4h4m0 23h3m7 3h2m-6 4h2m11 4h2m-55-31h2m1 1h4m-7 2h3m1 1h2m-8 1h2m22 3h2m-36 4h2m32 0h4m-34 2h4m25 1h2m-53-16h2m5 14h2m-5 7h2m-45-18h2m-21 6h3m-3 9h4m-6 4h2m8 0h4m-46-27h2m25 5h2m-4 4h2m-68-9h2m-5 4h4m-51 4h2m6 0h3m2 2h2m-12 2h4m27 10h2m-35 8h2m3 3h2m2 2h2m18 3h2m-68-37h4m-9 1h4m0 4h3m-7 4h2m15 3h2m-17 4h2m17 10h2m3 0h3m-20 2h2m-3 2h2m13 1h2m-20 3h2m0 1h2m4 1h2m-46-38h4m25 1h2m-34 3h2m-5 3h2m34 2h2m-8 1h2m-28 3h2m2 17h2m-10 1h3m-3 0h3m2 1h2m-2 2h2m-4 1h2m9 4h2m-20-34h2m-20 7h2m-3 3h4m7 1h4m-14 1h4m-2 1h2m-1 0h2m3 0h4m-2 3h2m1 1h2m-6 2h4m-21 3h3m-3 5h2m1 5h4m10 0h2m-29 2h2m-36-37h2m-11 1h3m1 0h2m11 2h2m-17 1h2m4 2h2m2 0h2m-10 13h2m2 1h2m-7 1h2m3 0h2m4 0h2m22 0h2m-18 6h3m-3 3h2m3 1h2m7 0h2m-17 1h2m1 0h2m-8 1h2m-17 1h3m17 2h4m-43-37h2m12 2h2m-1 2h2m-7 3h2m-9 8h4m2 5h2m-15 1h2m-13 1h2m5 0h2m-1 2h2m-1 0h4m-3 0h2m-7 2h2m-5 1h2m3 1h2m11 0h2m2 0h2m-15 2h2m3 7h2m-67-37h3m26 3h2m3 3h4m-32 2h2m12 3h2m-9 2h3m2 2h2m-7 1h2m1 0h2m14 1h4m-20 2h2m8 2h2m-1 0h2m0 0h2m-7 3h2m-5 1h4m-11 1h2m2 0h2m-35-26h2m-5 4h2m-4 2h2m0 0h2m-8 1h4m1 1h3m0 1h2m-19 2h4m-1 1h4m5 0h2m-12 3h2m-1 1h2m-12 3h3m9 3h3m-13 5h2m3 6h2m-6 2h2m0 0h4m-5 3h2m0 0h2m-32-36h2m-9 14h4m-11 2h3m32 0h2m-39 1h2m28 1h4m-32 1h2m19 8h3m13 2h4m-31 1h2m25 1h2m-7 1h2m-22 3h2m1 0h2m18 1h4m-56-38h2m7 8h3m-33 22h2m1 0h2m-4 2h3m1 0h2m-50-32h3m-2 12h2m-3 2h2m32 4h4m-5 2h4m-3 2h2m-3 1h2m-36 3h2m21 1h3m-11 1h2m-13 2h2m5 0h2m6 1h4m-10 1h2m-7 1h3m-3 3h2m7 0h2m2 1h2m-42-33h2m10 0h2m-26 13h2m1 1h2m5 1h2m16 3h2m-9 4h3m-14 1h4m-15 5h4m7 0h2m3 4h2m-37-35h4m-5 1h4m-8 1h2m0 0h2m-9 5h2m18 6h2m-22 23h3m-40-23h4m-1 2h2m-22 7h4m4 1h4m-12 1h2m-2 0h2m16 1h2m-17 5h2m-4 7h4m-16-33h2m2 21h3m1 16h3m-3 1h2m27 9h2m-1 3h3m0 0h2m-22 21h2m46-32h2m-19 13h2m-6 7h2m42-20h4m-10 1h2m3 2h2m-1 0h4m-6 1h4m-5 1h3m-5 1h3m12 0h2m-11 2h4m-5 7h2m24 3h4m-3 3h3m-18 6h2m16 0h4m-17 3h4m11 0h2m-19 2h2m9 0h3m-12 1h2m31-38h3m-11 1h4m5 1h2m15 1h4m-1 0h2m-8 1h2m2 1h2m-15 3h3m7 1h4m3 3h2m-39 11h2m-2 0h2m-1 1h4m-2 2h2m35-25h2m9 4h4m-12 4h2m3 2h2m2 6h2m4 2h4m4 3h2m47-16h2m-2 3h2m-24 8h2m1 0h2m-6 1h2m44-6h3m-20 1h2m25 6h3m2 6h2m-10 4h4m8 6h2m-15 3h2m1 0h2m8 0h4m10-37h3m1 0h3m-4 3h2m-2 1h4m-3 7h2m4 1h2m3 2h2m-12 2h2m-15 3h2m-2 10h2m27 0h2m-30 1h2m29 1h4m-33 1h2m27 0h3m-3 0h2m-37 2h2m26 0h2m2 3h4m-15 1h2m33-39h2m14 0h2m1 1h4m-15 6h2m3 0h4m-31 14h2m14 0h2m1 4h2m14 0h3m25-23h4m7 1h2m-11 5h2m0 2h2m-2 1h2m2 3h2m-6 3h4m-21 7h2m11 1h4m-5 4h2m5 1h2m-2 0h4m-12 1h2m6 2h2m-10 1h3m-16 1h2m-5 1h2m2 1h2m-2 0h3m4 0h2m-7 2h2m2 0h2m8 0h2m23-36h2m15 5h4m2 12h2m-10 1h3m-8 2h4m3 0h2m3 0h2m-24 6h3m-10 3h2m8 1h4m-3 3h2m5 0h2m-7 3h2m30-39h2m6 1h3m-18 3h3m27 25h2m-3 5h2m-16 1h2m0 4h2m3 0h2m25-38h2m15 2h2m-7 16h3m-28 3h2m4 4h4m-6 6h3m-3 2h4m0 3h2m2 0h3m19 0h3m-10 1h2m1 0h2m17-38h2m21 1h4m1 3h2m-5 2h2m2 1h2m-5 7h2m-20 1h2m-1 8h2m-8 1h2m0 4h2m17 5h3m22-28h4m-2 1h2m4 3h2m0 0h4m-25 2h2m0 1h2m-9 2h4m17 0h2m-2 4h2m3 2h2m-15 3h4m15 5h2m1 2h3m-5 6h2m-32 3h2m38-34h2m7 16h2m-10 3h2m4 0h2m1 5h3m-15 1h2m-2 0h2m0 1h2m-4 3h2m73-25h3m-39 19h2m7 0h2m7 0h4m-13 2h2m-7 1h2m6 1h3m17 1h4m-25 1h4m-10 1h3m3 0h2m4 0h4m-5 4h2m34-28h2m-12 1h2m2 0h2m1 2h4m1 8h2m-15 6h3m14 2h2m53-19h2m-7 2h2m-4 13h2m-7 1h2m1 0h2m-5 1h2m-20 1h2m27 2h4m-33 1h2m109-19h2m-11 4h2m-2 2h2m-5 7h2m1 0h3m-3 2h4m-4 3h2m17-31h2m18 0h4m5 1h2m-38 12h2m33 14h2m-11 5h2m0 0h2m3 0h2m-6 2h2m0 0h2m-3 1h4m8-34h2m-1 0h2m20 4h2m-25 1h2m2 0h3m19 0h4m-25 8h2m30 8h4m-8 4h4m-1 2h2m-4 5h2m-2 3h4m-21 3h4m34-37h4m-19 1h2m24 0h4m0 2h2m-3 4h2m-15 17h2m-20 5h2m8 1h4m-4 1h2m6 0h2m55-33h2m-19 1h2m10 1h2m-1 0h2m-29 6h2m30 6h2m-20 1h2m16 4h2m-15 5h4m-5 9h2m21-29h2m8 3h2m18 0h2m-9 1h3m-24 3h2m-1 2h4m22 8h3m-34 1h2m33 1h2m-15 1h2m52-19h2m-34 2h4m-4 3h2m27 2h2m-33 6h2m2 1h2m11 4h4m-10 1h3m-4 2h3m1 1h2m-9 10h2m3 1h2m2 0h3m26-37h2m18 3h4m-3 4h3m1 3h3m-2 0h2m-21 7h4m-18 3h3m0 13h2m-2 0h2m-1 0h2m31-26h4m-2 4h2m-4 44h2m13 23h2m-49-38h2m8 0h2m-4 2h2m4 4h2m-6 2h2m-6 5h2m-8 1h2m6 0h2m13 0h4m-3 0h2m3 0h2m-35 1h3m26 0h2m-24 4h4m-11 4h2m7 0h2m-1 2h4m-48-25h2m8 1h2m-17 1h3m15 0h4m-21 1h2m14 1h2m-1 1h2m-1 0h3m3 0h2m-15 2h4m4 0h2m0 0h4m-25 1h2m15 0h2m1 1h4m-11 6h3m-15 5h2m17 3h2m-1 0h2m0 0h4m-12 1h4m9 3h2m0 4h2m1 3h2m-66-29h4m-4 4h4m-5 5h2m7 0h2m-1 0h2m-9 1h4m3 0h2m0 1h2m-8 2h2m7 0h2m-1 4h4m-9 1h2m-11 1h2m-11 5h4m3 2h3m9 3h2m-16 2h3m-51-33h2m0 0h4m-8 2h2m8 2h2m-7 1h3m-3 0h2m29 18h2m-32 4h2m-6 3h2m-2 5h2m-31-36h3m12 0h2m-5 3h3m0 8h2m-21 5h2m-8 1h2m5 1h3m-13 1h2m5 0h2m4 0h2m-9 1h2m-1 0h3m-1 0h2m5 0h3m-5 2h2m-12 3h2m10 2h2m2 7h2m-10 2h2m-26-39h2m-22 2h3m6 0h2m5 0h2m-8 1h2m0 0h4m-16 15h2m22 3h4m1 0h2m-2 3h3m-16 12h2m-7 3h2m-1 0h2m2 0h2m-39-1h3m-11 1h2m-59-37h2m-2 5h3m0 1h2m-3 3h2m-6 8h3m16 18h4m-10 2h2m-18-31h2m-29 1h2m22 3h2m-15 1h2m-11 6h3m-13 1h2m30 19h2m-1 0h2m-69-32h2m22 11h3m-24 1h3m17 3h4m-29 3h2m2 1h4m-11 2h2m4 3h2m-4 1h3m-3 2h4m0 0h4m-2 0h3m13 0h2m-23 1h4m-52-24h2m21 0h2m-27 8h2m21 2h2m-24 3h3m21 2h2m2 1h3m-18 9h2m-41-36h2m22 6h2m-18 8h2m-7 3h2m2 1h2m-6 1h3m3 0h2m0 0h2m8 1h3m-24 2h2m19 0h2m-11 1h2m-17 1h2m-7 1h4m15 0h2m6 0h3m-14 2h2m-16 1h2m3 0h2m7 0h2m-47-27h4m1 2h3m-3 1h2m-12 1h2m-4 2h2m6 0h4m-11 2h2m8 0h4m-26 1h2m0 0h4m5 4h4m0 0h2m-17 5h4m1 0h2m7 5h2m2 10h3m-18 1h2m8 0h2m9 0h2m-5 1h2m-16 2h2m-40-31h2m25 2h3m0 5h2m-37 2h4m23 1h3m-30 3h2m9 3h2m-16 1h2m5 0h2m0 1h2m8 0h3m-20 2h2m-1 1h4m0 5h2m27 2h2m-58-31h3m-13 9h4m-1 0h2m-7 4h2m2 2h2m4 1h2m-12 3h4m-8 1h2m19 0h2m-5 2h3m0 0h2m-21 1h2m0 0h4m9 2h4m2 0h4m2 3h2m0 1h3m-46-29h3m-7 10h2m1 9h2m-21 2h4m-15 2h4m-3 1h2m31 0h2m-35 1h2m-32-13h3m4 9h4m14 0h2m-23 1h4m9 1h2m7 9h2m-55-36h2m3 3h2m0 1h2m-10 1h3m3 2h2m-58-7h4m-12 2h2m3 8h2m7 0h2m5 4h4m-27 13h2m0 1h3m-4 3h2m-3 1h3m3 0h2m-11 2h2m5 0h2m-44-18h2m19 20h2m-64-33h2m-7 1h2m32 27h4m-48-31h2m2 1h2m-7 3h2m4 0h2m-12 4h4m-6 1h2m10 0h2m-52-5h3m0 1h3m-25 29h4m-6 4h2m1 1h2m-21-21h4m-60 2h2m12 0h2m-16 5h4m-27-24h2m-25 12h2m-2 2h4m-1 1h2m8 2h2m-11 1h2m-8 2h2m-66-20h3m6 25h2m0 33h4m-7 6h2m-5 10h4m11-16h2m12 4h2m-14 2h2m-1 2h2m-3 4h2m3 4h2m2 0h2m61-9h3m7-5h2m31 14h3m-4 1h2m-27 2h3m20 0h3m2-7h2m51-27h3m16 2h2m0 9h3m-4 1h2m-1 0h2m-10 1h2m4 7h2m1 8h2m-5 4h2m44-25h2m-2 3h2m-35 6h2m34-11h4m-4 6h4m13 13h2m0 1h2m-4 7h2m-10 1h2m-5 2h2m64-39h4m-23 22h2m19 9h2m-2 0h2m1 1h4m15-11h2m4 0h3m-26 7h2m21 0h2m21-17h2m18 4h2m23-15h2m-1 0h3m-5 3h2m6 0h2m2 19h4m-9 2h2m8 12h2m-4 3h3m51-32h3m-3 9h3m-5 1h3m-13 10h2m-22 3h4m-2 6h2m-6 3h2m7 0h2m48-38h3m-24 3h2m20 4h3m1 3h3m32-8h2m-22 10h4m14 1h2m-20 1h2m46-13h2m2 0h2m3 0h2m-14 3h2m24 20h3m-36 5h2m31 6h2m-3 2h2m35-35h2m-5 2h3m-8 1h4m6 0h2m-8 1h2m-25 1h2m28 0h3m-32 1h2m-7 23h4m55-24h2m2 0h2m-7 4h4m-22 4h3m21 2h4m-1 8h2m-1 0h2m0 2h2m-3 1h4m2 0h4m-9 1h4m-11 6h2m20-33h3m-1 0h2m-5 1h2m-3 3h2m8 4h2m16 1h4m-33 1h2m57-13h2m-17 3h2m14 2h2m-3 12h2m14 20h4m-6 1h3m15-37h2m12 2h4m-4 3h3m5 0h4m-6 3h2m3 13h3m-37 1h2m32 1h4m-42 14h2m41-37h3m30 0h3m-6 2h2m-30 2h2m-2 2h2m22 0h2m3 0h2m0 14h4m-1 1h2m-8 1h2m-25 5h2m-3 1h2m53-29h2m-1 1h2m1 0h2m-28 3h4m14 2h3m-18 9h2m30 1h2m-12 2h2m-25 7h4m29 4h2m-12 9h4m-1 1h2m31-34h2m-4 4h4m-8 3h2m-5 1h2m9 1h2m11 10h2m-12 3h2m1 2h2m1 3h3m-5 1h2m-2 4h4m-15 1h2m1 0h2m6 0h4m17-36h2m18 10h2m-8 4h3m7 2h2m-2 6h4m-41 2h2m3 2h2m-1 2h2m31 0h2m-2 1h2m-40 4h2m50-21h2m-1 10h4m-4 4h4m-16 2h2m2 0h2m-2 2h3m61-32h3m-20 13h4m79-12h2m-10 42h2m4 8h2m-54-4h3m14 2h4m13 2h2m-33 28h2m-42-36h3m-4 1h2m25 7h2m-5 3h3m3 0h2m-8 1h4m-11 1h2m9 0h3m-10 1h2m-6 3h2m1 1h3m-18 3h3m14 1h4m-48-24h3m-5 2h4m-19 8h2m-2 4h4m4 4h2m-13 4h3m0 1h3m17 2h2m-23 1h2m-4 2h2m2 1h3m-8 2h2m28 0h4m-29 1h4m0 3h4m-16-32h4m-26 2h2m11 3h2m-30 2h2m10 1h2m6 0h2m-8 1h3m0 0h3m-5 1h3m-18 2h2m18 0h3m-15 2h2m9 1h3m-4 1h2m-18 2h2m-3 1h2m34 4h3m-8 4h4m-4 2h2m-1 0h2m-3 1h3m-53-31h2m14 10h3m-14 2h2m8 0h2m-8 3h2m-1 0h2m1 2h4m-30 1h2m-11 5h2m-1 0h2m-3 2h2m8 0h2m15 1h2m-26 1h2m1 0h2m20 1h2m1 2h2m-17 1h3m-16 2h2m-34-32h2m24 0h2m-19 1h2m0 2h2m7 12h3m3 0h4m-3 3h2m-24 6h2m16 0h4m-21 2h3m12 0h2m-2 7h3m-8 2h2m-53-33h2m-4 2h2m0 2h4m-8 3h2m-1 3h2m-10 10h4m-3 2h4m14 3h2m-8 2h4m-61-30h4m11 7h2m-18 5h3m11 1h4m-4 3h4m0 0h2m-16 1h2m12 0h2m2 2h2m0 0h3m-27 4h3m-5-25h2m-29 3h2m4 2h2m-8 1h3m18 1h4m-32 1h2m30 1h2m-2 19h4m-4 2h4m-32 1h2m-9 1h3m29 1h4m-29 4h2m-49-36h2m-2 21h2m33 3h2m-27 13h2m-51-26h2m5 19h3m-2 3h4m-10 2h2m9 0h3m-6 1h4m-39-23h3m-2 6h2m-9 4h3m3 3h3m0 1h2m-19 3h3m21 0h2m-24 5h2m-11-36h2m-1 0h2m-4 4h2m-31 14h2m29 13h2m-38 2h2m-20-30h4m-4 4h2m-26 5h2m13 5h2m-12 1h2m1 1h2m26 1h2m-37 2h2m35 1h2m-25 1h2m1 2h2m-3 3h2m-42-29h2m-1 3h2m-2 1h3m10 13h2m-14 16h2m-53-32h2m-8 1h2m1 0h2m0 0h4m4 0h2m13 25h2m-68-23h2m-5 1h4m2 3h4m-1 0h3m-11 1h3m-1 0h2m-3 1h2m-2 0h2m-1 14h2m2 6h2m-5 4h2m6 0h4m-51-31h2m30 5h2m-36 1h2m-5 1h2m4 0h2m-9 3h2m0 0h2m-2 7h2m-1 1h4m-3 0h2m2 2h3m4 1h3m-12 1h2m4 2h2m5 3h4m-1 1h2m-28-22h2m0 18h2m-2 1h2m-77-23h4m0 6h2m0 2h4m3 0h2m-7 1h2m-10 2h2m7 2h2m-1 1h4m-54-4h2m21 0h2m5 1h2m-5 1h2m-32 1h2m1 0h2m25 11h2m-21 1h2m4 2h2m-12 4h2m23 2h2m-55-30h2m-10 1h4m-9 2h2m31 4h2m-28 2h3m21 1h2m-38 4h2m17 3h4m7 5h4m4 0h3m-26 2h2m21 6h2m-60-34h2m16 1h2m-4 1h2m-16 1h2m14 0h2m-28 2h2m14 0h2m-2 1h3m-5 5h2m8 7h2m-4 4h4m-15 5h4m-36-13h2m5 6h4m-5 1h2m-34 1h2m18 11h3m-34-37h2m2 0h2m-10 17h2m-2 1h3m-33 1h2m3 1h2m23 0h2m-5 1h3m-2 0h4m-32 2h4m22 0h4m6 0h3m-30 1h2m19 1h2m-9 2h2m-1 0h2m-6 1h2m-4 1h4m-21 1h4m-38-15h2m26 18h2m-62-23h2m2 3h3m-11 2h2m0 3h4m3 3h2m4 1h2m-21 1h2m19 1h3m-11 1h2m-3 6h2m1 1h2m0 3h2m4 0h2m-8 1h2m-61-5h3m17 7h2m1 22h4m-19 1h2m12 1h2m-9 3h4m-6 1h4m45-18h3m6 3h2m-21 3h2m15 1h2m-12 2h2m2 1h3m-4 10h2m0 1h2m-31 2h2m28 0h2m3 0h2m-8 1h4m-25 3h2m-2 1h2m-2 0h2m41-37h2m12 0h4m-29 3h2m44-1h2m27 4h2m0 1h3m-20 1h2m11 0h2m0 1h2m-13 1h3m-3 0h2m0 0h2m-9 3h2m36-11h2m-12 2h4m4 0h2m1 0h2m4 1h2m-11 2h2m-1 2h2m3 0h4m-8 1h2m0 1h2m50-11h4m-11 12h2m2 3h2m6 0h2m-12 4h3m-3 3h2m-2 1h2m-1 1h2m-11 8h3m5 0h2m19-20h3m3 8h2m2 3h2m-2 14h2m27-37h2m24 2h2m-26 3h2m0 8h2m-2 2h2m1 4h4m35 13h2m-1 4h4m24-35h2m29 9h2m-24 1h3m15 8h2m-27 2h3m5 7h2m-3 1h4m-7 1h2m1 1h2m1 0h2m12 1h2m-3 1h3m-18 1h3m16 1h4m-14 2h2m54-37h2m-10 12h2m7 1h2m-5 7h2m-9 1h2m7 0h2m-3 5h4m-18 4h3m-1 0h3m-1 0h2m-9 1h2m54-27h2m-23 3h4m-4 1h2m23 16h3m33-15h2m2 1h2m-13 1h3m5 2h4m-7 1h2m2 0h2m-4 2h2m-16 2h2m5 0h4m-10 3h2m15 0h2m-13 2h2m-7 2h2m53-22h4m-12 2h4m-24 1h3m19 1h4m-18 3h2m-2 6h4m7 4h2m-6 2h3m-5 1h2m-2 2h2m-4 2h3m21-27h2m-6 1h2m9 1h2m-4 1h3m26 0h2m-35 3h4m-6 2h2m20 15h4m-4 3h2m-4 1h2m5 12h2m12-27h2m-3 7h2m24 2h2m-12 1h4m11 0h2m-20 2h3m16 3h2m0 3h2m-40 7h3m68-35h2m-32 11h2m-3 7h3m-1 1h2m-1 3h2m15 9h2m34-32h2m-3 2h2m10 12h2m-25 3h3m-1 2h2m24 19h3m35-31h2m0 1h4m-8 3h2m5 3h2m-2 3h2m-4 3h2m-2 2h2m-3 4h2m-9 1h2m2 4h2m2 4h2m22-28h2m3 2h2m-24 4h2m32 1h4m-7 2h2m-8 3h2m9 0h2m-14 1h2m-5 1h3m10 0h3m-35 13h2m57-32h2m-10 3h2m4 4h2m-3 1h2m-15 4h2m-1 0h2m-1 0h2m-8 1h4m5 1h4m-14 1h2m3 2h3m-3 5h2m4 2h2m52-27h2m-14 4h4m0 0h4m0 0h2m0 0h3m-11 4h2m13 2h2m-26 3h2m-3 11h2m31 9h2m-33 5h2m55-34h2m-8 12h2m-7 3h2m5 0h4m-3 2h2m-11 2h2m7 1h2m15 3h2m-38 5h4m-6 1h2m72-33h2m1 1h4m-36 2h2m-6 2h4m2 5h2m-8 2h2m-2 7h2m25 10h2m47-16h2m0 7h4m11-19h2m12 8h4m-31 7h4m4 1h4m-3 1h2m28-17h2m23 2h2m-20 1h4m17 1h2m-24 2h2m24 1h3m-4 1h2m-10 1h2m-14 6h2m-4 13h2m38-26h2m-9 3h2m3 2h2m-4 4h2m-42 48h4m-29-11h2m2 6h4m-9 1h2m3 0h2m-2 1h2m-9 3h3m10 1h2m0 1h2m-36 15h2m-89-18h2m0 0h4m-77-15h4m1 0h2m-8-4h3m-22 1h4m8 0h2m-12 5h2m0 0h2m-3 2h3m-16 2h2m13 0h3m-15 2h2m12 2h3m-68-14h2m18 2h2m2 5h2m-21 1h2m3 0h2m2 1h2m-5 3h2m2 2h4m-21 9h3m25 7h2m-1 4h2m-48-20h2m-5 1h2m8 8h2m-23 2h2m22 1h2m-1 1h2m1 1h2m-32 1h2m4 0h4m-9 1h2m4 0h2m-3 1h4m-5 1h2m1 0h3m-3 1h3m-3 3h3m-31-36h2m-18 1h2m20 3h3m-9 2h3m-5 1h2m-22 1h2m-4 4h4m2 0h2m-11 1h2m-2 3h2m-1 2h2m-1 2h2m-12-18h2m-12 4h4m5 4h3m0 2h2m1 0h2m0 0h2m-31 4h2m-3 1h2m28 0h2m-2 3h3m-35 1h2m30 17h3m-92-37h2m0 1h4m-4 0h3m-5 8h3m-30 16h4m-3 0h2m9 7h4m-29-20h3m-5 2h2m-103-7h2m-2 3h4m-6 1h2m-1 1h4m-3 0h2m-15-13h2m3 8h2m-3 3h2m-1 18h3m-110-12h4m-1 0h2m1 1h2m7 3h2m-14 2h4m-91-14h2m-4 4h3m-4 2h2m-15-4h2m-26 5h2m-10 3h2m10 3h2m-36-16h2m-2 1h2m3 1h2m-25 16h4m-20-3h4m5 1h2m-8 1h2m5 1h3m-32 3h2m-6 3h2m-1 1h2m-1 0h3m-18-6h2m1 2h2m-1 0h4m-4 1h2m0 0h2m-6 1h2m0 0h2m-20 1h2m19 0h4m-12 1h2m6 2h2m-67-33h3m-6 5h2m30 5h2m-72-7h2m6 4h4m364 35h2m290-1h2m117-1h2" stroke="#5000d0" stroke-opacity=".55" stroke-width="2.4"/>
<path d="M1585 34h4m1 4h2m23-4h4m-1 0h4m72-1h2m77-1h2m22 7h2m454 7h3m-3 3h2m-8 2h2m-3 2h2m-5 1h3m-6 6h2m23 15h2m-16 3h2m-14-23h2m-9 11h3m-72 12h2m-37-1h2m7 2h2m-54-38h2m-43 31h2m-17-6h2m5 6h2m-65-9h3m0 10h2m-52-12h2m3 4h2m-2 1h3m-2 6h3m-9 4h2m-36-3h2m-34-13h2m3 2h2m-2 3h4m-8 2h2m7 0h4m-13 4h4m-60-30h3m19 16h2m7 0h2m-85-11h4m-31 25h4m-4 3h3m-4 3h4m-26-21h4m8 0h2m-22 5h4m-9 2h2m1 1h2m-9 6h2m31 7h2m-88-29h4m-52 23h2m-106 2h2m-2 4h2m-15-22h2m-4 5h4m1 0h3m-2 1h4m-25 7h4m-6 8h2m27 0h3m-8 3h2m-136-14h2m-19 1h4m-12 1h2m-5 2h3m-80-13h3m49 34h2m12 1h2m33 13h2m0 1h4m6 0h2m-17 1h4m10 0h2m0 0h2m-16 4h4m8 0h2m91-23h2m5 8h4m-6 4h3m-5 9h2m-3 1h2m39-28h2m103 12h2m-24 3h2m54 3h3m-13 4h2m-3 2h4m21 2h3m-26 2h2m-7 2h3m0 3h2m28-5h2m10 4h2m48-31h2m14 4h2m-32 2h2m-4 1h2m28 1h2m-5 4h2m-4 1h2m1 6h2m0 0h2m1 5h2m23-11h3m-18 9h2m26 5h3m-4 2h2m0 3h2m-8 5h2m32-26h2m10 5h2m-7 3h2m-34 12h3m0 0h2m55-18h2m-22 4h2m27 6h3m-2 1h2m-2 1h2m39-15h2m-34 11h2m37 4h2m-18 7h4m20-29h4m22 4h2m4 7h4m-17 1h3m-2 6h3m5 7h2m30-23h2m-23 9h2m29 2h2m-36 1h4m-1 0h2m1 0h4m-10 2h4m63-19h3m-9 4h2m-6 2h3m-7 22h2m16 8h4m4-9h4m-3 1h2m71-19h2m14-5h2m-9 5h2m-4 5h4m4 1h2m-6 2h2m41-19h2m-3 1h2m1 0h3m-14 2h2m9 2h2m32-3h2m11 17h2m39-8h2m-13 4h2m-1 3h2m2 0h2m49-4h2m2 2h2m0 3h2m-30 10h2m7 0h3m59-4h2m-26 41h2m4 3h2m-30-26h3m-4 1h3m8 30h4m-6 1h2m-115-30h4m-21-3h2m-9 1h3m2 0h4m3 0h2m-4 1h3m-11 1h2m4 0h2m-4 1h2m3 3h4m-42-3h4m-35 17h2m5 15h2m-37-16h2m-24 16h2m-63-37h3m-3 0h4m-13 3h2m15 22h2m0 1h2m-3 2h3m-18 1h4m21 4h2m-70 3h2m-1 1h2m8 1h4m-52-12h3m3 6h2m0 6h2m-24-3h4m-5 1h4m-73-24h2m17 0h4m1 0h2m-2 2h2m-2 2h4m-6 5h2m-22 8h2m25 0h2m-3 2h2m-6 2h3m0 0h2m0 3h2m-37-33h2m-1 2h3m-11 5h2m2 2h3m-6 2h3m3 1h3m-14 1h3m0 1h2m6 13h2m-57-2h2m-60-28h2m6 0h2m-2 3h4m-2 0h2m23 1h2m1 1h2m-30 1h2m-11 2h4m28 11h4m-9 3h2m-10 1h2m0 1h3m9 1h4m-60 2h2m6 2h2m-13 3h2m7 2h2m2 0h3m-10 2h2m4 0h3m-12 1h2m-55-29h2m-1 6h2m29 8h4m-18 1h2m-15 7h3m16 1h3m-17 1h3m4 1h2m11 2h2m-117-14h4m-3 16h3m4 1h3m-33-23h2m-96 2h2m17 3h2m3 4h2m0 2h2m-18 2h2m11 0h2m-5 1h2m3 1h2m-7 2h2m-17 4h2m-39-33h2m-2 10h2m-16-2h4m-15 8h2m-1 3h2m-63 3h2m25 2h3m1 1h2m-7 2h2m-24 1h2m-8 6h2m-70-33h2m18 72h3m22-22h3m-10 1h2m0 6h2m0 0h2m14 6h2m-33 10h4m49-28h2m-8 8h2m15 11h3m24-5h2m3 3h4m-11 1h2m45-15h2m15 11h3m-3 5h2m12-28h2m5 0h3m5 23h4m-29 3h2m-1 3h2m-1 1h2m33 5h3m-39 2h2m72-32h3m-6 11h2m-35 2h4m-3 8h2m14 3h3m-10 1h2m0 0h2m0 1h3m45-20h2m-23 1h2m34 3h4m-4 5h2m-29 3h2m-6 10h4m18 3h2m-14 1h3m0 0h2m-18 1h4m40-39h3m-8 1h2m-4 19h2m4 3h4m-9 1h2m-4 1h3m8 0h3m17 4h3m3 1h4m-6 2h3m15-9h2m-9 3h2m-7 5h2m49-15h2m8 0h2m-17 6h2m-1 0h2m58-11h2m-5 3h2m2 14h4m2 4h2m-37 1h2m63-15h4m-15 3h2m10 5h2m-21 7h2m18 1h2m7 1h2m78-3h2m23-20h3m0 0h2m11 0h2m-7 1h2m2 0h2m-8 1h2m3 1h2m0 19h4m-1-21h3m33 2h2m-27 1h2m14 3h2m-27 20h2m39-31h2m7 15h2m4 9h4m3 2h4m-10 1h2m-4 1h2m7 1h3m-8 1h2m24-38h2m7 1h2m-2 3h2m5 5h4m-25 10h2m17 16h2m-1 3h2m36-34h2m1 6h2m-7 4h2m-2 0h3m-5 2h2m-6 1h3m-2 1h2m0 0h3m-2 5h2m9 8h2m7 0h3m28-31h4m-9 2h2m-11 2h2m-1 4h4m-5 4h3m13 27h3m53-39h2m2 2h2m42 26h2m-14 1h2m3 1h2m-1 2h3m20 7h2m16-28h2m6 1h2m7 4h2m7 14h2m14-20h3m23 6h2m-5 2h2m-1 2h3m-1 0h2m-4 1h2m-4 3h2m-4 1h2m5 7h4m-29 6h2m32-20h2m5 5h4m-17 2h4m-4 1h4m7 1h2m0 0h2m-14 2h4m13 4h2m-15 4h2m64-23h2m2 1h2m-2 2h2m-9 1h2m4 3h3m0 12h2m-12 3h2m-28 2h2m18 0h2m28 5h2m-41-2h2m-11 3h2m6 0h2m26 0h2m-31 2h2m-4 1h2m0 16h3m2 0h2m-3 1h2m4 4h3m6 1h3m-50 0h3m5 3h2m-65-32h4m6 2h2m3 6h2m-23 3h4m9 2h2m3 0h2m3 4h2m-18 2h2m18 3h4m2 13h2m-69-20h2m16 1h2m-16 2h2m-3 2h4m-11 1h2m21 4h2m2 5h2m-40-30h2m-19 2h2m-1 1h2m2 2h4m-10 3h3m0 0h4m-16 1h2m0 1h4m3 0h2m-11 1h3m29 3h3m-37 2h2m33 2h2m-75-2h2m31 0h2m-22 2h4m4 7h2m-23 1h4m-2 3h2m-1 0h2m2 0h2m-49-12h2m19 22h2m-37-26h2m-26 2h3m-23-11h3m-27 2h2m19 6h2m-19 4h2m28 5h2m-15 12h2m-8 2h3m14 0h2m-16 2h2m-38-37h2m4 1h2m6 1h2m-7 2h2m-36 1h4m23 0h2m-22 2h3m-6 8h2m6 0h3m9 17h4m7 1h2m-38 1h2m-78-21h3m-107 4h4m-57 10h2m-31-5h2m-17 11h2m25 1h2m-57-19h2m-13 1h2m14 3h2m-5 11h2m-2 2h2m-10 1h3m-43-15h4m-8 6h2m5 1h4m-9 1h2m6 5h2m9 6h2m0 1h2m-52-35h4m-4 3h2m-8 1h2m11 3h2m-11 1h4m-2 0h3m0 1h2m-12 5h2m1 1h4m-10 4h3m28 0h2m-28 8h2m-9 4h3m4 0h2m-29-33h4m-19 23h3m23 10h3m-66-26h4m9 23h2m0 2h3m-5 2h3m-32-34h4m-66-1h2m15 4h2m-27 9h2m3 2h2m-5 3h2m3 7h2m13 4h2m-46 5h4m-55-19h2m-2 2h2m-15 3h2m10 3h2m2 1h2m-1 1h3m-18 9h2m7 2h4m-54-34h2m35 15h2m-62-14h3m15 20h2m-24 1h3m12 6h2m-12 1h3m10 19h2m-14 5h3m5 1h2m24 19h2m84-35h2m-6 35h3m40-30h2m6 5h2m1 2h3m-30 1h2m-2 5h2m1 5h2m-2 16h2m40-19h2m-7 3h4m10 2h2m-16 1h2m19 4h4m-17 2h2m-4 5h3m106-36h2m-25 11h2m-12 1h2m2 1h2m10 1h4m-22 1h2m21 5h2m-1 2h3m-2 0h2m-7 12h2m-6 2h2m-2 0h2m19-33h2m8 11h2m64-15h2m-5 2h2m-26 5h4m-7 7h4m-3 16h2m44-29h4m-1 38h2m30-15h2m12 0h2m-16 6h2m4 1h4m-4 6h2m79-35h2m0 0h2m-14 2h2m-4 2h2m-2 0h2m10 1h3m19 5h2m-15 6h2m3 1h3m5 2h4m-15 1h2m-8 3h4m10 1h3m-12 10h2m13-15h2m4 2h2m-7 4h2m2 0h2m24 0h2m-12 11h4m26-3h2m12 4h2m21-23h3m-8 3h2m12 0h4m-2 2h2m-14 3h4m-5 7h4m67 4h2m-23 3h2m-7 1h2m36-22h2m43-14h2m5 6h4m-23 2h4m1 0h4m22 0h3m-29 1h2m-1 4h3m-1 1h2m4 2h4m-3 5h4m-2 0h4m9 4h2m-10 1h2m24 1h2m-4 1h2m-2 1h2m0 0h3m-3 4h2m54-26h3m5 22h2m11-17h3m-11 13h2m27 10h2m-22 1h4m62-29h2m-3 2h2m-16 1h2m-1 0h2m14 0h2m-9 1h2m-19 2h2m1 1h2m19 0h3m-31 1h2m5 12h2m-1 0h4m7 2h2m-1 0h2m0 0h2m-16 2h3m3 2h2m6 0h2m17-31h2m0 1h2m-6 1h2m-6 2h4m19 3h2m-17 3h3m21 1h2m-12 11h2m-4 9h2m-9 1h2m-2 0h2m9 1h4m19-30h4m5 6h3m-16 1h2m-1 0h2m11 0h2m-5 3h2m-5 2h2m5 0h3m-7 2h2m15 0h3m-8 2h2m-14 3h3m-4 9h2m32-31h4m-2 3h2m20 3h4m-38 2h2m23 0h2m25 4h2m-9 2h3m-6 5h2m0 5h2m35 34h2m-33-6h4m-49-14h4m-25-2h3m6 3h2m-21 2h2m6 1h3m-9 1h4m-6 2h3m5 0h4m-15 1h2m6 0h2m16 1h3m-25 3h3m13 6h4m-6 1h3m0 7h2m-17 6h2m8 1h3m-30 3h4m-21-38h2m-12 27h4m-15 10h4m-47-37h2m16 0h4m-22 4h2m28 0h3m-2 3h2m-14 20h2m-5 1h2m20 5h2m-74-34h3m22 0h2m-2 0h2m-29 2h4m31 0h2m-28 1h2m-15 10h2m0 10h4m7 11h2m-42-21h2m-8 5h2m-1 2h2m-8 1h2m32 0h2m-35 2h2m2 0h2m0 0h3m-1 0h2m21 0h3m-33 4h4m21 0h2m3 1h4m-62-20h2m-18 1h2m18 1h2m-5 2h4m18 5h2m-30 7h2m-8 9h2m-9-32h4m-36 16h3m13 1h4m-19 4h2m2 3h2m-11 9h2m2 0h3m3 1h3m-9 2h2m-11-33h2m-1 0h4m-3 3h2m-2 2h4m-16 2h2m3 0h2m-25 5h2m-35-16h3m5 0h4m-20 3h4m-1 0h2m25 0h2m-34 9h2m-10-10h2m-40 2h2m-1 1h2m35 12h4m-56-15h2m2 0h2m-30 2h2m-10 2h2m2 1h2m-25 8h4m-8 3h2m-4 6h3m4 0h2m0 2h2m5 1h2m-13 5h2m-15 3h2m12 0h3m10 3h2m4 0h4m-2 0h2m-72-36h2m28 5h2m-1 25h2m-65-20h2m4 1h3m-3 1h4m2 2h2m-11 2h2m2 0h2m-2 1h2m-4 1h2m2 2h2m-1 0h2m-5 1h2m13 6h3m-7 1h3m-2 0h2m-2 4h2m-65-14h2m0 8h4m3 0h2m-1 2h2m-9 4h2m-36-33h2m1 2h2m-5 3h2m4 9h4m-55 1h2m-8 2h2m5 5h2m-43-23h3m7 1h3m0 38h2m-58-39h2m5 9h2m-17 1h2m0 4h2m14 2h2m-8 4h2m17 6h3m-31 3h2m-18-28h2m-2 6h2m5 1h2m-5 1h2m-72 1h2m10 0h3m-2 3h2m-14 2h2m-3 5h2m1 5h2m-11-16h2m-25 19h2m-14 1h2m13 0h2m-11 2h2m-51-12h2m-37-3h3m3 2h2m-5 5h3m0 1h4m-6 1h3m-1 3h4m19 3h4m-19 1h4m6 1h2m-10 3h2m0 1h3m-56-36h2m5 0h2m-1 0h2m-10 2h2m21 0h4m-29 19h2m5 4h2m-21-5h4m-6 2h2m-43 13h3m0 3h2m27 1h2m-6 2h2m-1 0h2m-3 1h2m5 15h2m34-18h2m-5 3h2m-2 3h3m13 1h4m-21 3h3m4 0h2m-24 3h2m-7 1h2m-1 0h2m0 1h2m21 0h3m-13 1h4m-12 2h2m-2 7h4m15 2h4m-4 0h2m3 1h2m-2 2h2m-4 4h2m-11 4h3m19-36h2m15 0h3m6 0h4m-1 2h2m-7 4h3m-18 2h2m-2 8h2m-14 7h3m30 4h2m6-27h2m-2 1h2m11 29h2m53-23h2m-29 2h2m23 5h4m-7 5h2m15-11h2m16 5h4m29 6h2m-2 1h2m25 0h2m-20 16h2m40-20h4m39-7h2m-10 16h3m0 0h3m-6 1h2m1 2h3m27-26h3m6 1h2m14 22h2m-8 5h4m11-1h3m-7 1h2m5 5h2m58-35h4m7 19h2m-35 11h2m-7 1h4m-5 4h2m46-35h4m-8 1h2m-1 2h2m16 2h2m-1 1h2m-5 1h2m-4 1h3m-20 13h4m11 2h2m99-6h2m-37 10h4m6 1h3m-11 1h3m9 0h2m29-16h2m4 13h2m15 0h2m-24 4h3m17 0h2m-4 3h3m24-28h2m26 0h2m-1 1h4m23 26h4m-3 0h2m13-5h2m-4 1h2m-2 3h2m-1 1h3m-5 2h2m137-19h3m-9 2h2m7 16h2m-18 3h2m65-11h2m18-18h2m-6 1h2m-8 8h3m-9 5h3m4 7h3m3 1h4m-12 1h4m2 2h3m-13 5h2m44-38h4m24 1h2m-29 1h2m29 0h2m-14 3h2m-6 1h2m8 5h2m-5 9h2m-1 2h2m6 2h2m-11 2h2m-6 2h3m2 0h3m0 1h2m16-21h4m5 4h2m1 1h4m-3 4h2m10 5h2m-3 1h2m-2 2h2m-1 0h4m-38 1h3m33 1h4m14-17h4m-20 12h2m3 1h4m-9 4h3m-4 1h2m24 0h2m-24 2h2m25 1h2m5 3h2m-7 2h2m-2 1h3m34-25h3m4 2h2m-39 23h2m55-20h4m-3 14h2m-59 8h4m-1 18h4m-10-17h2m-20 23h2m-52-23h2m3 2h2m-7 1h2m-4 1h2m4 0h2m23 30h2m-58-11h2m0 6h3m-8 1h2m-3 1h2m-30-18h4m-11 3h2m-3 1h2m-6 7h2m-2 9h3m0 2h2m-100-36h2m31 0h2m-20 2h2m-19 6h2m20 1h2m-11 17h4m-19 4h2m5 2h3m20 7h2m5 0h2m-58-32h2m14 11h2m-11 15h2m3 6h3m-68-25h2m-3 4h4m-11 5h2m-8-4h4m-28 2h2m9 1h3m-24 5h2m3 7h4m-38-14h3m4 1h2m-14 4h2m11 2h2m-11 2h3m0 0h3m-11 1h4m7 0h2m19 4h2m-28 4h2m-44-23h4m-4 0h2m4 0h2m-35-15h4m4 0h4m-12 39h2m-48-13h3m9 12h2m-50-3h3m-39-18h2m-9 1h4m9 15h3m-8 1h2m-4 1h2m1 1h2m-21 2h2m30 0h2m-66-36h4m13 28h2m-64-11h2m-1 10h2m-1 1h2m-8 4h4m-1 0h2m1 1h2m-52-16h2m10 0h2m-20-3h4m-4 1h2m-78-14h2m-2 2h4m-18-3h4m6 2h4m-14 3h4m-10 4h3m0 1h4m-10 4h2m2 0h2m-1 1h4m-59 4h2m-7 1h2m-11 3h2m-2 0h2m2 1h3m-1 0h2m-10 1h2m-1 0h3m2 6h4m-79-28h2m1 2h2m-7 23h2m-5-24h2m-39 2h3m-33-6h2m1 1h2m3 2h3m14 1h4m-33 1h2m28 1h2m1 0h2m-26 3h3m21 0h2m-16 2h3m11 20h4m-40 3h2m4 2h2m-14 0h2m-11 1h3m3 3h3m1 0h4m-12 5h2m4 13h3m-3 2h4m10-14h2m-9 11h2m0 0h2m173 6h3m-3 9h2m83-28h3m0 8h2m18-5h2m-1 0h3m-5 3h2m5 1h2m2 12h3m-2 9h2m31-30h2m12 1h4m49-3h2m-5 3h2m4-5h2m-2 2h3m-5 1h4m95-2h2m3 1h2m-6 1h3m-10 1h4m0 0h2m-5 1h2m7 0h2m-2 0h2m-3 3h2m14 3h2m29-10h2m6 4h2m-33 3h2m31 3h2m-33 4h4m30-5h3m37-8h3m34 3h2m-31 2h2m23 0h2m-22 2h2m-1 0h2m-1 1h2m0 0h4m-9 1h2m7 1h3m9 0h4m-32 21h2m23 5h3m40-38h2m-35 2h2m-2 0h2m-4 6h2m21 28h4m-26 1h4m41-31h2m23 1h2m-3 7h4m-6 1h2m-1 5h2m7 1h4m-8 13h2m18-31h2m-16 9h2m68-12h3m-6 1h2m3 2h2m-15 2h4m-19 10h2m25 2h2m2 5h2m-5 2h2m4 0h2m-10 2h4m-4 0h2m37-26h2m-4 2h4m0 2h2m-5 1h2m4 28h2m-3 1h2m2 1h2m-14 1h2m0 2h2m1 0h2m119-33h3m-12 5h2m-3 2h2m6 3h2m-13 1h2m14 0h4m-4 0h3m-1 1h2m-11 1h2m0 1h2m3 9h2m9-23h3m-8 1h2m-1 9h2m47-14h2m-10 19h2m67-14h4m18 70h2m-20-19h2m2 22h4m-65-30h2m0 3h2m-57 7h4m-81-11h2m0 0h2m-48-5h2m-14 0h2m-7 1h2m6 0h2m-31 13h2m-5 4h4m14 10h4m-3 4h3m-4 1h2m-38-10h4m-52 2h2m-4 6h2m-39-34h2m-10 1h3m14 1h4m-12 2h2m-18 20h2m20 1h4m-14 4h2m3 3h2m-38-18h2m-19 8h2m0 2h4m-46-16h2m-3 4h2m31 18h2m-13 4h3m-64-1h2m4 3h2m-39-36h2m-5 24h2m0 0h2m4 1h4m2 1h2m-10 1h4m5 0h2m-11 1h3m-13 9h2m0 0h3m-14 2h2m-20-26h2m-16 2h2m13 0h4m-22 2h4m3 3h2m-3 4h4m-6 4h3m-2 6h4m24 1h4m-69-22h4m1 16h2m16 0h4m-20 2h4m-13 1h2m6 3h2m-3 2h2m-1 1h2m-98-35h2m-34 12h2m0 5h3m-50-7h2m-8 20h2m6 2h3m-48-11h2m-8 5h4m-17 10h2m-54-9h2m4 3h2m-42-7h3m-118 11h4m-54-36h2m-9 34h4m-6 3h2m-6 2h2m15 38h4m42-34h2m-15 1h2m11 1h2m0 0h3m-11 1h2m2 3h4m13 12h2m-6 5h3m4-22h4m-2 0h3m-3 3h2m0 22h2m85-13h2m2 1h2m7 4h3m-14 10h2m0 6h4m53-34h2m37 18h2m-3 1h4m1 7h2m-8 6h2m-2 3h3m13-8h2m32-31h4m-3 0h2m-2 5h3m20 6h2m-1 7h2m-5 1h2m1 2h2m9 7h2m-7 3h3m-23 4h3m14 0h4m7 0h2m-17 2h2m31-37h2m1 0h4m-14 29h2m-5 3h3m3 3h2m-13 1h2m-1 2h2m58-23h2m-1 3h4m8 2h2m-14 4h2m25-20h4m-3 6h2m-2 6h4m13 7h4m2 2h4m-7 1h4m-30 3h3m38-25h2m12 14h4m29-18h2m6 0h4m10 0h2m-27 2h4m14 1h2m-9 1h2m11 24h2m9-26h3m-6 13h3m43-14h4m1 15h2m3 1h3m-14 3h3m0 1h2m49-7h2m-10 4h2m15 3h2m-13 1h4m3 0h3m14 11h2m48-33h3m3 1h2m5 1h2m1 24h2m-7 8h2m5 2h2m17-34h2m2 0h2m-4 1h2m-2 3h2m-12 2h2m9 24h2m-10 2h3m-6 2h2m1 1h2m11 1h2m-12 1h4m8 0h2m36-33h2m3 2h2m-18 1h2m5 0h2m13 12h2m-4 6h2m-1 4h2m-13 2h3m-10 1h2m-1 0h4m6 0h2m-4 4h3m35-17h2m-8 4h2m-2 1h2m65-6h4m38 15h2m69-20h3m-17 9h3m-19 7h2m113-12h2m-6 6h2m-18 7h2m1 7h2m25 16h2m-4 1h3m6 0h2m-3 1h3m-3 4h2m-1 0h2m-26 3h3m-9 1h2m5 0h2m-29 1h2m21 0h2m-3 8h2m0 0h2m-25 1h2m-37-17h2m-5 1h2m24 20h2m0 0h3m-60-24h2m13 9h2m-20 6h2m-12 3h2m0 1h2m-28-34h4m5 6h2m-7 8h4m-12 15h2m-38-26h2m2 6h2m-3 6h3m-5 7h2m-2 15h2m-59-34h2m-35 35h2m-25-34h2m2 7h2m-3 17h2m-6 2h2m-65-30h2m3 0h2m11 1h2m-18 1h2m5 1h2m-11 1h2m-5 13h2m-1 2h2m-2 2h2m-2 3h2m5 1h2m-19-8h2m3 8h2m-3 1h4m-51-1h2m-58-16h2m9 0h2m-19 1h2m10 0h2m11 0h2m-29 5h2m-48-6h2m13 30h4m-24-23h3m-39-13h4m-9 14h2m-7 2h2m-51 13h2m-56 6h2m-36-26h2m-3 1h2m3 2h3m-4 11h2m6 0h3m-4 1h2m13 0h2m-32 1h2m-45-27h2m8 21h2m1 3h4m14 13h4m-41-38h3m-18 34h4m-4 0h4m-8 2h2m9 1h2m-34-37h2m-3 8h3m-55-6h2m-18 11h3m-1 2h2m-4 10h2m-6 7h2m-2 4h2m11 3h3m3 0h3m-51-34h3m-6 3h2m0 1h2m3 15h4m-1 1h4m-44-20h2m-36 18h2m-24 6h2m-14-23h2m-20 4h2m1 12h2m11 5h4m-4 1h3m-23 2h2m2 3h2m20 0h4m-29 1h2m-5 1h3m5 0h2m-39-5h3m-13 2h4m1 0h3m3 2h2m-27 28h3m-3 1h2m16-23h2m6 1h3m-5 6h2m2 5h2m78 2h2m-10 3h2m-15 9h2m47-15h2m-5 2h4m4 0h2m-9 4h3m61 17h2m9-34h2m-1 1h3m-9 2h2m24 0h2m-3 11h3m3 0h2m-6 2h3m-27 22h4m53-33h3m-8 1h3m1 3h2m-23 3h4m53-11h2m20 1h2m-15 1h2m-1 7h2m-6 9h3m-22 1h2m-2 13h3m1 5h2m33-37h2m32 0h3m-2 0h2m-5 3h3m-3 2h3m0 0h2m-38 5h4m4 10h2m17 3h3m-23 2h2m9 9h2m-7 2h2m23-36h4m28 3h2m-20 24h2m5 1h2m-4 1h2m1 5h2m1 0h2m-15 3h2m42-37h3m-13 18h2m-1 1h2m70-2h2m-27 2h2m-4 2h3m50-20h2m11 3h2m-29 11h4m10 2h2m-21 1h2m5 4h2m19 15h2m25-32h2m0 0h2m-1 1h4m-1 1h3m-1 18h2m-1 1h2m7 12h2m13-39h3m-12 9h2m11 13h3m0 1h2m-18 12h3m-2 1h2m-4 3h2m38-17h2m10 1h2m3 3h2m-13 3h4m1 1h4m-4 2h2m18 3h2m-9 4h3m2 0h2m23-36h2m6 5h3m-27 22h2m35 1h4m33-5h2m-35 5h2m28 0h2m70-5h3m28-25h2m-14 1h3m11 3h2m121 14h2m7 0h2m-2 1h3m-17 4h2m6 0h4m1 0h4m-4 1h4m4 2h4m-15 11h3m-6 1h2m26-39h3m-1 2h2m17 20h2m-2 1h2m3 0h3m-15 1h2m-9 7h2m-8 1h2m33-16h2m1 0h2m2 8h3m-3 3h2m0 2h2m-1 2h2m2 1h3m-23 4h3m38-23h4m-3 0h2m4 15h3m-3 1h2m-4 1h2m-1 2h2m21 10h2m-57 20h4m15 2h2m-11 1h2m6 2h2m-36 5h2m10 0h2m-41-20h2m1 2h4m-4 4h2m19 17h2m-75-27h2m-1 10h2m-2 6h4m-2 0h2m2 1h2m-10 1h2m4 3h2m-30-24h3m-5 2h2m12 2h3m-19 2h2m-12 3h2m27 0h2m-44-13h2m-2 8h2m-25 6h2m11 18h2m-20 6h3m18 0h2m-33-9h2m-11 7h2m8 2h2m-58-33h2m-20 7h2m7 4h2m-12 1h3m-45 0h2m-18-17h3m-2 3h2m-3 8h2m-19 3h3m27 5h2m-32 6h2m-14-15h4m-13 3h2m7 7h2m-30 13h3m-35-32h2m9 11h4m-8 1h4m0 2h4m-21 8h2m4 0h3m-7 4h2m-8 3h2m-42-30h2m6 14h4m-10 1h4m-3 2h2m4 0h2m-13 1h2m14 17h4m-10 1h2m1 2h2m-22-32h3m-2 6h2m-7 3h2m-24 18h4m-33-23h2m-15 7h4m6 5h2m-34-8h2m-6 1h4m-8 1h2m-19 11h2m5 3h2m0 0h2m-7 1h3m0 2h4m-3 2h2m0 2h4m-23-1h2m-102-34h2m-2 1h2m-5 2h2m0 1h2m-3 2h2m-12 14h2m-26-20h2m-5 5h2m17 9h2m-2 1h2m1 5h3m-1 11h2m-5 3h3m-76-25h2m29 23h2m-64-35h2m19 1h3m-29 5h4m27 1h2m-49 1h2m-10 17h2m-4 1h2m0 1h2m-4 1h4m-50-11h2m7 1h2m-84 8h2m-51 21h2m143-1h2m39 26h2m-13 2h2m46-30h2m-2 5h3m-2 0h2m-5 2h3m-1 1h3m-10 4h4m-28 14h2m6 5h2m-8 1h2m72-36h2m-21 30h4m39-3h2m9 6h2m0 5h2m41-20h2m-36 5h4m30 1h2m-25 1h2m-18 2h2m17 2h2m-1 0h2m-22 5h3m41-22h2m20 13h2m45 8h3m-10 4h2m14-37h3m8 1h4m22 12h2m-2 0h2m-30 13h2m60 13h2m61-39h3m-7 2h2m6 3h2m-12 2h2m19 28h2m35-30h4m3 0h2m-8 4h2m8 1h2m-22 1h3m-1 0h4m-1 0h2m4 0h2m2 0h2m-29 2h2m-2 1h2m-6 3h2m25 10h2m-31 3h3m37-18h2m7 6h3m54-2h2m47-16h2m-2 2h2m0 0h2m-28 1h2m-9 6h2m28 6h4m5-12h2m23 11h4m3 6h2m-10 6h2m37-25h2m1 0h3m4 0h3m-4 3h2m-8 4h2m-24 26h2m31-29h2m25 0h2m-28 1h2m33 24h3m37-28h2m-20 5h2m55-6h2m40 13h2m-29 17h3m-3 0h4m27-25h2m-1 0h4m15 19h2m54-2h2m7-10h4m2 0h2m-6 7h4m-2 8h2m3 9h2m0 3h2m-6 6h2m-21 7h4m-8 1h2m-49 5h2m-64-6h4m-39-12h2m23 5h4m-3 2h2m-21 10h2m-6 4h3m-31 9h2m1 0h2m-9 2h3m8 0h2m-2 2h3m2 0h2m-61-35h2m-13 18h2m30 3h2m-26 3h3m-5 2h2m14 4h2m-49-12h4m-5 2h3m-6 7h2m-7 2h2m0 2h3m4 0h2m-9 2h4m9 2h2m-61-34h2m27 10h2m-37 2h2m33 2h2m-37 11h4m-1 1h4m-7 7h2m36 5h3m-65-37h3m16 1h3m-23 4h2m-6 1h2m2 3h2m19 12h2m-5 6h2m4 0h2m-14 1h3m4 0h2m2 1h2m-8 2h2m-27 6h2m-1 0h2m-28-25h2m2 3h2m-24 4h2m-4 2h4m0 3h2m-4 4h2m-42-16h3m-3 17h2m4 0h4m-1 2h2m-1 2h2m-2 0h2m-43-25h2m4 3h2m-19 16h2m-79-22h2m3 6h2m0 1h2m-4 1h2m12 2h2m-1 2h2m3 3h3m-5 2h2m-2 4h2m-12 4h2m-4 2h4m-9 2h2m-22-29h4m-15 13h2m-3 3h2m7 8h2m-46-16h2m-3 1h4m-6 2h2m-41-18h2m2 2h2m1 3h2m-11 2h2m-3 3h2m-14 12h2m1 0h3m-13 6h3m-28-16h2m1 0h2m-35-10h4m6 4h3m-11 1h4m-21 1h4m-2 14h4m-1 4h3m-2 0h2m-54-13h2m-3 2h2m-5 22h3m-41-37h2m17 1h2m-18 4h2m7 1h3m20 29h4m-25 1h4m11 1h3m-64-29h2m7 11h4m-22 5h3m0 0h4m15 4h2m3 3h2m-21 8h4m-21-36h2m-22 18h2m-8 2h2m15 5h2m-60-5h2m-2 4h2m11 2h2m19 1h4m-33 4h3m-3 0h2m-119-27h2m-7 5h3m4 0h4m0 0h2m-4 2h2m0 5h2m16 15h2m-73-8h3m2 6h2m19 7h2m-20 29h2m-1 0h4m9 0h2m23 5h2m86-32h2m-4 2h2m3 1h2m6 3h4m-18 3h4m-1 2h4m36-10h3m44 31h2m22 4h4m33-18h2m4 0h2m-1 0h2m-3 1h3m61-17h4m-4 2h2m2-4h2m7 1h3m-5 3h2m-6 7h2m6 0h2m-10 3h2m-6 12h3m1 1h2m25 4h4m-7 4h2m-13 2h2m58-36h2m-12 15h2m0 4h2m5 3h2m-3 4h4m-10 10h2m15-35h2m-7 1h4m-5 17h2m-4 4h4m75-16h2m-5 9h2m-13 6h2m-1 12h4m-13 1h2m42-34h2m-13 3h2m5 1h2m6 2h4m-18 2h2m6 0h3m-9 6h2m-5 1h3m50 1h4m0 1h2m2 0h4m-5 4h2m-1 0h2m-2 3h2m0 1h2m-7 2h4m9-17h3m8 5h2m-6 2h2m3 1h2m36-4h4m36 6h4m-7 2h2m-8 1h2m3 2h3m-3 2h2m50-22h2m4 14h2m3 1h3m-3 0h2m-3 1h2m-7 2h2m-4 1h4m5 3h4m41-16h4m-36 8h4m28 6h2m-36 3h4m71-18h2m-38 5h4m29 1h3m-35 2h2m60-21h2m-2 1h2m-1 0h2m-23 2h2m19 0h2m7 9h2m-36 7h3m4 2h2m-8 2h2m59-23h2m-1 4h2m-1 8h2m0 1h2m1 3h2m0 1h2m-2 3h2m-32 5h4m34 4h2m-30 1h4m-11 2h2m39-8h4m42-1h4m56-20h2m4 0h2m-19 1h2m9 0h2m11 0h2m13 2h2m6 6h2m32 13h2m-3 4h2m33-18h3m-112 39h3m-44 25h4m1 0h3m-77-17h4m-5 4h2m-115 10h2m-47-32h2m-6 8h2m-6 1h2m-3 6h2m-13 2h2m6 4h2m-33-15h2m-1 2h4m-6 1h2m-30 8h2m-6 19h2m-11-34h4m3 0h4m-9 6h3m-4 8h2m-16 1h2m-80 13h2m1 7h3m-30-24h4m-5 1h2m-3 10h2m-61-23h2m-23 16h2m-47-16h3m-2 4h2m-59-3h2m-45 22h3m-12 1h4m-33 8h2m-79-14h2m-42-14h2m-2 11h3m-89-3h4m-6 1h3m-1 16h3m8 4h2m-29-19h3m-1 0h2m-73 12h4" stroke="#0a00ff" stroke-width="2.4"/>
<path d="M1633 77h3v2h-3zM1594 66h2v3h-2zM1572 59h3v3h-3zM1567 77h3v2h-3zM1600 69h2v2h-2zM1664 43h3v3h-3zM1610 52h3v3h-3zM1618 48h2v2h-2zM2145 723h3v3h-3zM2096 686h2v3h-2zM2100 763h2v2h-2zM2121 744h2v2h-2zM2174 746h3v2h-3zM2092 767h4v2h-4zM2135 775h2v3h-2zM2167 714h3v2h-3zM2086 738h3v3h-3zM2099 783h3v3h-3zM2124 746h3v2h-3zM2138 743h3v2h-3zM2128 759h2v2h-2zM2123 760h2v2h-2zM2100 744h2v2h-2zM2125 723h2v2h-2zM2114 744h3v2h-3zM2125 754h4v2h-4zM2310 737h2v2h-2zM2324 759h2v2h-2zM2297 771h2v2h-2zM2278 763h2v3h-2zM2294 766h3v2h-3zM2261 770h4v2h-4zM2293 780h4v2h-4zM2265 774h2v3h-2zM2286 782h4v2h-4zM2330 732h3v3h-3zM2299 789h4v2h-4zM2186 799h3v2h-3zM2160 780h2v2h-2zM2228 781h4v2h-4zM2099 796h3v3h-3zM2248 789h3v2h-3zM2199 767h2v3h-2zM2274 763h2v2h-2zM2092 783h2v2h-2zM2195 800h3v3h-3zM2254 783h3v3h-3zM2270 778h4v3h-4zM2337 599h4v2h-4zM2321 795h2v2h-2zM2337 671h3v3h-3zM2319 695h2v2h-2zM2302 702h4v3h-4zM2331 516h3v2h-3zM2255 548h2v2h-2zM2333 475h3v3h-3zM2269 524h3v3h-3zM1944 779h2v2h-2zM1873 767h3v2h-3zM1979 763h4v3h-4zM1941 747h3v3h-3zM1997 777h3v2h-3zM2189 750h4v2h-4zM2040 768h4v3h-4zM1942 774h3v2h-3zM1890 775h4v2h-4zM1821 785h3v3h-3zM1780 794h2v3h-2zM1794 782h2v2h-2zM1831 781h2v2h-2zM1769 771h3v2h-3zM1706 801h2v2h-2zM1414 241h3v3h-3zM1648 148h2v2h-2zM1430 55h2v2h-2zM1315 203h4v2h-4zM1521 172h3v3h-3zM1233 652h3v2h-3zM1250 488h3v2h-3zM1776 772h2v2h-2zM2301 141h2v2h-2zM1645 118h2v2h-2zM1325 267h2v2h-2zM2004 595h3v2h-3zM1224 131h2v2h-2zM1404 408h2v3h-2zM1252 169h3v2h-3zM1538 251h3v2h-3zM1508 76h3v2h-3zM2301 658h2v2h-2zM1563 590h3v2h-3zM1702 294h2v3h-2zM1920 744h3v2h-3zM2264 672h2v2h-2zM1524 194h3v2h-3zM2242 294h2v3h-2zM1705 214h3v2h-3zM1818 299h2v3h-2zM1802 604h3v3h-3zM1497 547h3v2h-3zM1993 461h2v2h-2zM1402 488h3v2h-3zM1805 746h2v3h-2zM2271 740h2v2h-2zM2264 137h2v3h-2zM1564 444h3v3h-3zM1291 709h2v3h-2zM1294 678h2v3h-2zM1229 758h2v2h-2zM1587 579h2v2h-2zM1873 65h2v2h-2zM1217 264h3v2h-3z" fill="#ffa020" fill-opacity=".8"/>
<path d="M1618 77h3v2h-3zM1746 76h3v2h-3zM1610 65l-2 0 0 -2 1 0 1 1zM1603 69h4v3h-4zM1657 47h3v3h-3zM1590 55h2v2h-2zM1660 65h3v2h-3zM1564 73l-2 -3 3 -1 3 0 -2 3zM1617 75l2 -5 2 -2 4 2 -3 2zM1632 63h3v2h-3zM1635 53h4v2h-4zM1549 68h3v2h-3zM1565 74h2v2h-2zM1608 83l-2 -1 0 -6 2 1 1 4zM1686 47h4v2h-4zM1573 80l-3 -1 -1 -1 1 -1 2 1zM1604 54l-3 -1 -4 -1 0 -2 4 1zM1625 59h3v3h-3zM1661 76h3v2h-3zM1613 56h4v3h-4zM1653 41h4v2h-4zM1577 91h3v3h-3zM2113 802l5 -2 3 0 1 2 -4 2zM2134 707l-3 0 0 -3 3 0 1 1zM2165 728h3v2h-3zM2152 727h3v2h-3zM2176 708l-3 0 -1 0 0 -2 3 0zM2099 719h2v3h-2zM2086 763l-1 3 -2 -1 -2 -3 3 -1zM2131 762l2 -4 2 -2 1 2 -1 3zM2137 720l-3 1 -2 0 0 -3 3 0zM2142 764l-2 1 -3 -5 3 -1 3 1zM2065 754l-4 0 -2 -2 6 -4 0 2zM2067 745h3v2h-3zM2095 790l1 -5 3 -3 3 1 -2 2zM2131 754l-2 -1 2 -4 3 1 0 2zM2122 786l-2 -2 1 -3 1 -3 1 7zM2162 715l1 -3 3 -3 1 5 -2 1zM2085 722l-1 -4 0 -2 1 -1 1 6zM2147 761l-4 -1 0 -3 3 0 2 2zM2112 756h3v2h-3zM2087 729h4v2h-4zM2046 745l-1 -1 -1 -2 4 0 0 2zM2165 745h2v2h-2zM2122 749l1 -3 1 2 1 2 -1 1zM2124 721h2v2h-2zM2105 740h4v2h-4zM2157 733l-1 -1 0 -2 3 0 -1 3zM2209 746h3v2h-3zM2149 728l-1 -2 4 -2 2 2 -3 3zM2171 738l-2 -3 2 -2 5 1 -2 5zM2112 710h3v2h-3zM2101 744l1 -2 0 -3 3 3 1 3zM2149 710l-3 3 -3 -2 0 -2 4 0zM2087 763h2v2h-2zM2132 783h2v2h-2zM2124 791l-3 0 0 -3 3 -1 1 1zM2110 743l-1 1 -3 -1 2 -3 2 1zM2121 747h2v3h-2zM2125 792l1 -3 3 0 2 3 -3 2zM2126 717l1 -2 2 0 1 2 -2 1zM2124 756l-2 0 -2 -1 1 -1 3 -1zM2089 726h3v2h-3zM2116 753l4 -3 4 0 -1 1 -4 2zM2160 777h2v2h-2zM2089 800h3v2h-3zM2071 735l-5 3 -4 -2 1 -3 3 1zM2138 749l-2 -1 1 -3 2 1 2 1zM2155 752l-2 1 -1 -3 2 -1 1 1zM2124 767h3v3h-3zM2122 738l-6 -2 2 -4 3 0 2 1zM2138 730l-1 1 -3 -3 1 -1 4 1zM2150 736l-3 0 -1 -3 2 -3 2 3zM2209 705h3v3h-3zM2075 737h3v3h-3zM2139 765l-2 0 -1 0 0 -2 4 0zM2156 732l-4 1 -4 -2 2 -4 4 0zM2141 721l-2 3 -2 -2 3 -3 1 -1zM2060 768h3v2h-3zM2125 777l1 -4 3 0 3 2 -2 2zM2103 749h2v2h-2zM2124 794l-2 -2 1 -5 2 -4 0 5zM2143 736l-4 1 -2 -1 -1 -2 3 -1zM2133 766l-2 -1 2 -3 2 0 -1 3zM2073 754l-1 -4 1 -3 2 1 0 2zM2123 736l2 -1 3 -1 0 2 -4 1zM2139 763h2v2h-2zM2145 718h4v2h-4zM2162 722h3v2h-3zM2117 696l0 -4 3 -1 2 -2 -1 5zM2192 769l1 -2 3 1 3 2 -4 3zM2133 722l-5 -1 3 -3 1 0 3 2zM2095 725l-2 1 -3 -4 1 -3 6 3zM2068 758l0 -3 3 -3 2 1 -3 5zM2146 777l-2 -1 1 -2 3 0 -1 3zM2123 720l-1 0 -6 -4 2 -1 4 2zM2204 744h3v3h-3zM2128 752l-3 -3 0 -3 2 -1 1 5zM2073 732l-1 -3 3 -3 3 2 -3 4zM2147 725l-2 2 -3 -4 3 -2 2 0zM2153 705l-2 -1 0 -4 3 1 0 3zM2194 715l-2 -2 3 -4 3 -1 -2 5zM2153 741h3v2h-3zM2115 714l-5 -2 -3 -3 2 0 2 0zM2162 703l2 -2 2 0 0 2 -1 2zM2117 783h2v2h-2zM2084 760h3v2h-3zM2115 708l2 -5 4 -1 3 2 -3 4zM2127 758l-3 -3 0 -3 4 -1 0 3zM2066 671h2v3h-2zM2100 710h2v2h-2zM2121 744h2v3h-2zM2185 738l-3 3 -3 -3 1 -2 4 1zM2133 713h2v2h-2zM2123 719h4v2h-4zM2138 748h2v2h-2zM2154 762h3v2h-3zM2132 711l0 -3 2 1 1 2 -2 1zM2137 751l-3 0 2 -3 1 -2 4 2zM2165 748h2v2h-2zM2088 731h2v2h-2zM2151 729h2v2h-2zM2092 755l-2 2 -3 -1 1 -3 3 0zM2087 773l-5 2 -2 -3 0 -5 5 4zM2172 778h3v2h-3zM2026 768l-5 -4 -1 -5 4 2 3 4zM2103 747l-1 -2 1 -2 1 1 1 3zM2132 747l-4 1 0 -7 3 0 3 4zM2144 743h2v3h-2zM2143 787l-3 0 -2 -2 2 -3 4 2zM2129 764h2v3h-2zM2098 730h4v2h-4zM2132 744l1 -2 2 1 1 1 -2 1zM2165 765l-2 -2 -1 -3 2 1 2 1zM2274 735l-1 -3 2 -4 4 -1 1 4zM2232 793l-3 1 -4 -2 1 -3 4 2zM2283 786l-2 -1 2 -3 3 0 -1 5zM2336 784l-4 3 -4 -1 -3 -4 6 0zM2303 768l2 -2 3 -1 0 3 -1 2zM2303 783l2 -3 6 -1 -3 3 -2 1zM2287 763h2v3h-2zM2319 765l0 -2 2 -2 1 1 -1 2zM2295 775l-2 -5 0 -3 1 1 1 3zM2314 743l-4 0 2 -3 1 -1 2 2zM2314 786l-6 -1 -1 -4 2 -4 3 4zM2303 738l-1 -2 2 1 3 0 -2 1zM2256 755h2v2h-2zM2308 773l-1 -3 4 -2 0 3 0 3zM2287 787l-3 0 -2 -1 1 -3 3 1zM2299 768h2v3h-2zM2288 749l0 -2 2 1 3 1 -2 3zM2297 789h2v3h-2zM2316 760l-3 0 -1 -3 1 -1 2 1zM2256 793h4v2h-4zM2297 770h2v3h-2zM2280 789h2v3h-2zM2263 752l-2 3 -2 -3 1 -2 3 -1zM2320 764h3v2h-3zM2314 775l3 -1 3 -1 0 1 -2 3zM2317 765l1 -3 3 1 1 3 -3 0zM2309 723h4v3h-4zM2299 752h3v3h-3zM2290 793l-3 -1 1 -6 3 -1 0 4zM2242 792l2 -3 3 1 0 5 -2 1zM2294 773l-1 -2 1 -1 2 0 -1 3zM2275 750l-4 0 -3 -2 1 -2 4 2zM2334 775h3v2h-3zM2243 768h2v3h-2zM2296 783l-1 -2 3 -3 3 1 -2 3zM2335 758h3v3h-3zM2268 744l-1 1 -3 -2 1 -1 2 0zM2322 758l-4 1 -3 -2 2 -3 4 2zM2252 792h4v2h-4zM2264 791l-1 -1 -1 -3 2 -3 1 6zM2292 768h2v2h-2zM2288 757h2v2h-2zM2294 763h4v2h-4zM2246 782h2v3h-2zM2339 740l-3 -2 -2 -4 2 0 4 1zM2287 800l4 -3 5 -2 0 3 -4 2zM2304 749h3v2h-3zM2322 787h2v2h-2zM2306 791l-4 0 2 -5 3 0 2 5zM2317 733h4v3h-4zM2263 737l-2 -1 2 -3 3 0 0 4zM2300 774h3v3h-3zM2292 782h4v2h-4zM2272 764l-1 1 -2 -5 1 0 3 1zM2308 733l-2 0 -1 -1 1 -2 1 2zM2292 754l-3 -1 -2 -2 1 -1 2 1zM2324 718h4v3h-4zM2292 755l0 -2 2 -2 1 2 1 2zM2249 780h3v2h-3zM2318 797h3v2h-3zM2276 789h3v2h-3zM2295 769h2v2h-2zM2302 767h2v3h-2zM2314 774l2 -2 3 1 0 3 -2 0zM2284 784l-2 -3 2 -2 2 1 1 2zM2269 777h3v2h-3zM2308 770l1 -3 3 -3 1 3 -1 3zM2298 782h2v2h-2zM2318 764h2v3h-2zM2292 783h2v2h-2zM2281 797l-1 -1 3 -3 2 2 -3 3zM2303 728h2v2h-2zM2324 766h3v2h-3zM2329 786l-3 2 -2 -2 0 -2 5 0zM2309 769l-2 0 0 -8 3 3 1 4zM2256 751h2v2h-2zM2270 773l-3 -2 2 -1 3 -1 1 2zM2269 782l0 -3 5 -1 1 2 -3 3zM2306 746h3v2h-3zM2291 782l-3 -1 -2 -4 3 0 2 1zM2323 787l2 -4 5 0 0 2 -4 3zM2303 767h3v2h-3zM2239 762l-1 -2 1 -3 3 4 -2 2zM2259 731h2v2h-2zM2305 800l-1 -5 3 -1 2 1 -1 4zM2336 800h2v2h-2zM2303 751h3v2h-3zM2330 749h2v2h-2zM2257 784l-1 -2 2 -2 2 2 -2 1zM2283 775h3v2h-3zM2301 754l-2 0 -2 -2 3 -3 1 2zM2257 772l3 -3 3 -1 1 5 -5 0zM2296 796l-2 1 -2 -2 -1 -3 4 2zM2305 752l2 -3 2 1 1 2 -5 2zM2315 743l-4 0 -4 -3 4 -1 4 3zM2308 765l-3 2 -2 -3 2 -2 3 2zM2284 775h2v3h-2zM2258 755h4v2h-4zM2290 798h3v2h-3zM2304 750h4v3h-4zM2268 756l-2 -1 4 -4 2 2 0 5zM2266 770h2v3h-2zM2275 793h2v2h-2zM2281 797l-1 -2 3 -3 1 1 -1 3zM2312 765l-5 -4 -2 -2 0 -3 4 5zM2314 785h3v2h-3zM2156 784h2v3h-2zM2164 786h2v3h-2zM2264 776h4v2h-4zM2277 767h4v2h-4zM2309 789l-5 -4 1 -5 3 0 1 6zM2046 791h3v2h-3zM2297 761h2v2h-2zM2182 783l-2 1 -2 -2 1 -1 3 -1zM2268 762h4v2h-4zM2142 796l0 -3 4 -3 0 3 -1 4zM2288 761l-2 -1 -1 -2 2 0 2 1zM2022 784h4v3h-4zM2245 771h2v2h-2zM2095 790h4v3h-4zM2140 779h2v3h-2zM2215 786h2v3h-2zM2113 796h2v2h-2zM2170 796l-2 1 -1 -4 3 1 2 0zM2192 795h2v3h-2zM2087 755l2 -4 6 3 2 3 -6 0zM2064 801h3v2h-3zM2331 802h3v2h-3zM2241 765h2v2h-2zM2045 776l-2 -2 2 -3 2 0 1 5zM2299 766h3v2h-3zM2284 801h2v2h-2zM2279 774l-2 1 -3 1 0 -2 3 0zM2187 801h3v2h-3zM2208 787l-1 -3 3 -2 1 2 0 3zM2143 795h2v2h-2zM2327 788h3v2h-3zM2194 805l-3 -2 -1 -5 4 0 3 3zM2219 768h3v2h-3zM2138 804l-2 -3 3 -2 2 -2 0 7zM2253 770l2 -3 3 0 1 1 -3 3zM2281 784l0 -2 3 -2 1 2 -2 3zM2200 784h2v3h-2zM2276 768l-3 0 -6 -2 2 -2 4 1zM2282 801l-3 1 -4 -3 1 -2 3 0zM2231 781h3v3h-3zM2216 802h4v2h-4zM2225 762h3v2h-3zM2129 788h2v2h-2zM2107 779l1 -3 5 -2 1 1 -4 2zM2333 616l-1 2 -4 -2 1 -2 4 0zM2294 690h2v2h-2zM2317 649h3v2h-3zM2294 714l-1 -3 3 -4 2 3 -1 2zM2312 635l-2 -3 0 -3 2 -1 1 5zM2336 617h4v2h-4zM2310 761h3v2h-3zM2325 628l3 -2 2 2 -1 2 -2 0zM2322 707h2v2h-2zM2340 647l-4 1 -4 -2 0 -2 4 1zM2321 688h3v3h-3zM2320 698h2v3h-2zM2305 661l0 -3 2 -2 3 -3 -2 6zM2331 675l-1 2 -1 -1 0 -3 3 -2zM2300 695h4v3h-4zM2313 698l3 -4 5 -2 -1 4 -3 2zM2322 699h3v2h-3zM2311 767l-2 -3 0 -8 2 -1 2 7zM2327 624h3v2h-3zM2322 712h2v3h-2zM2334 756l-2 -1 2 -4 3 1 0 4zM2307 715l0 -2 6 0 -1 2 -3 1zM2303 748h3v2h-3zM2325 623l2 -3 3 -2 1 4 -4 3zM2323 731h2v2h-2zM2330 701l-1 1 -3 -5 0 -2 5 4zM2325 725l-1 -3 5 0 1 3 -4 1zM2322 721h2v2h-2zM2321 753h3v2h-3zM2258 495l-2 -2 3 -1 3 1 -1 3zM2264 493h4v2h-4zM2316 533h2v3h-2zM2264 490h3v3h-3zM2301 561h3v2h-3zM2299 483l0 -2 2 0 2 2 -2 1zM2275 574h2v2h-2zM2314 502h3v2h-3zM2306 500l1 -2 4 0 0 3 -3 2zM2276 494h2v2h-2zM2244 380h4v2h-4zM2251 497h4v2h-4zM2236 488h4v2h-4zM2321 584h3v3h-3zM2298 473h4v2h-4zM1797 740l3 -2 8 -2 -1 2 -6 2zM2045 742h2v2h-2zM1984 774h2v2h-2zM2004 771h2v3h-2zM1882 789h3v2h-3zM2011 763l-3 1 -5 -2 3 -1 3 0zM2027 779h4v3h-4zM2012 802l-1 -4 -1 -3 2 1 1 4zM1996 745l-4 2 -2 -1 -2 -4 4 -1zM1971 744h3v3h-3zM2218 770h3v2h-3zM1986 766l-6 -1 0 -4 2 -4 3 4zM2027 794l-2 1 -3 -1 0 -2 3 1zM1985 776l-2 0 2 -7 4 0 -1 5zM2042 788l0 -2 2 2 1 1 -2 1zM2110 758h3v2h-3zM1924 775l-2 -3 0 -3 5 2 -1 3zM1874 769h2v2h-2zM2098 771l-2 0 -1 1 1 -3 1 1zM2051 754h2v3h-2zM1798 798h2v3h-2zM1983 781l0 -2 5 -1 0 3 -2 2zM1986 792h3v2h-3zM2016 770h3v3h-3zM2055 786l0 -4 2 -3 3 1 -1 3zM1898 755l-4 -1 3 -4 3 -1 1 4zM2127 790h2v2h-2zM1997 756l-3 1 -2 -2 1 -2 4 -1zM2108 786l-2 -2 0 -4 5 1 0 2zM2061 793h3v2h-3zM1873 777l-2 -3 -1 -2 1 -1 2 1zM1715 796h2v3h-2zM1683 794h3v2h-3zM1635 789l-5 1 -3 0 0 -5 6 -1zM1618 781h4v2h-4zM1747 799h3v3h-3zM1723 777h4v2h-4zM1762 792h3v3h-3zM1801 763h4v2h-4zM1901 780h3v2h-3zM1977 799l-3 -2 2 -2 2 1 2 2zM1676 786l0 -2 3 -1 3 -1 -3 3zM1817 796l0 3 -4 -2 0 -3 3 -1zM1843 797h3v2h-3zM1744 791h3v2h-3zM1411 194l-1 -1 0 -3 2 -2 0 6zM1198 158h3v2h-3zM1229 214h3v2h-3zM1308 203h4v2h-4zM1567 136l1 -3 2 -3 3 4 -1 3zM1274 161l0 -3 4 2 0 1 -2 1zM1625 148h3v2h-3zM1476 184l-2 -1 -1 -2 3 0 2 2zM1543 176h3v2h-3zM1279 223h4v2h-4zM1504 217h2v3h-2zM1503 164l-2 3 -3 -1 2 -2 2 -1zM1522 123h2v2h-2zM1462 148h4v3h-4zM1459 262h4v3h-4zM1419 176l-1 -2 -1 -3 3 -1 2 3zM1633 192h3v3h-3zM1352 97h3v2h-3zM1466 220h3v2h-3zM1393 32h3v2h-3zM1376 43h3v3h-3zM1951 46h3v2h-3zM1572 557h2v3h-2zM2257 688h2v2h-2zM1592 193h2v2h-2zM2226 203h2v2h-2zM1209 41h3v2h-3zM1337 487h3v3h-3zM2222 418h2v2h-2zM2299 408h2v2h-2zM1296 90h3v3h-3zM2162 723h2v3h-2zM1370 189h2v2h-2zM1610 631h2v2h-2zM1272 695h2v2h-2zM1203 130h3v2h-3zM1702 721h3v2h-3zM1677 461h2v3h-2zM2272 174h3v2h-3zM1866 139h2v3h-2zM1802 621h2v2h-2zM1798 262h2v3h-2zM1376 695h2v3h-2zM1971 99h2v2h-2z" fill="#ff0"/>
</g>
<rect x="27.00" y="821.00" width="1147.00" height="777.40" fill="#ff0000"/>
<clipPath id="cpc"><rect x="27" y="821" width="1147" height="777.4000000000001"/></clipPath>
<g clip-path="url(#cpc)" fill="none" transform="translate(.3 .4)">
<path d="M222 828h4m-2 0h2m133 1h2m273 1h2m276 6h2m6-9h3m-2 1h2m115 11h2m8-5h3m115 19h2m-69 23h2m-206 1h2m-184-16h2m-3 17h2m-177-21h2m-129 19h4m-30-20h2m-1 15h2m2 5h2m-2 0h2m-64-7h4m-18-20h4m-148-2h2m16 1h2m-108 2h2m-56 39h2m0 3h2m3 0h2m-4 5h2m30 13h2m6 1h4m-10 2h2m12-5h2m23 11h3m44-20h3m-7 1h2m48-4h2m-10 6h2m19-2h2m123 13h2m58-33h2m36 4h3m-9 11h2m89 0h2m-5 2h4m-10 1h4m0 4h2m-9 14h2m-2 0h3m29-24h2m-20 1h2m17 4h2m-22 1h2m7 0h2m-8 1h4m-3 2h2m-5 9h2m26 2h2m41-28h2m-14 8h2m1 2h2m53-11h3m-41 2h2m41 3h3m5 1h2m1 5h4m3 5h2m-9 4h2m10 15h2m44-25h2m3 0h3m-11 3h2m-1 0h2m-25 17h2m66-20h4m-13 1h2m4 12h2m-8 9h3m-10 2h3m2 2h2m81-33h3m35-3h3m84 7h2m-10 26h2m15-29h2m44 24h2m121 31h3m-58-14h2m-35 8h2m-43-16h4m25 1h4m1 38h4m-47-21h2m-1 3h2m-30 2h2m23 8h3m2 3h4m-55-32h2m-59 37h4m-47-14h4m1 2h4m-7 2h2m9 0h2m-11 3h2m4 6h2m-31-33h2m0 12h3m1 5h2m-12 1h2m12 0h2m1 2h4m-7 1h2m-113-19h2m-49-2h4m-20 1h4m-4 8h2m-76-12h2m-166 12h2m12 12h2m-14 3h2m-54-25h3m-12 17h4m30 8h2m-77-14h2m7 10h2m-7 2h3m-47-27h2m-3 1h3m24 8h3m-7 18h2m2 7h2m-39-26h4m-155-8h2m-29 35h4m-31-24h4m-40 52h2m-4 2h2m-1 3h2m38-3h4m0 4h2m28-9h3m23 16h3m73-1h4m146-26h3m13-2h2m51 8h2m-20 15h2m23 3h2m0 3h3m0 2h2m6-32h2m-4 5h2m69-2h2m-3 7h2m-27 18h4m13 3h2m6 1h4m119-33h4m-8 3h2m1 3h2m-19 26h2m1 2h4m36-28h2m-3 1h3m-15 16h2m109-22h2m-20 2h2m0 4h4m109-11h2m-5 3h4m7 4h4m80 29h2m77-33h4m5 16h4m-28 10h3m4 1h2m1 0h3m-10 5h4m0 0h2m-1 2h2m48-24h3m-17 16h2m-7 3h4m57 5h2m33-23h2m-1 17h2m-25 14h2m-26-3h2m-13 2h2m2 4h2m-12 1h2m9 0h3m4 9h4m-5 16h2m-1 3h2m-18 1h2m-21-38h4m-10 6h4m-180 8h2m5 1h3m8 7h3m1 0h2m-10 1h2m7 0h2m-12 1h4m6 3h3m-11 3h4m-2 6h3m3 2h2m-44-36h2m-10 17h3m-42-20h2m-6 1h2m4 3h3m-5 31h2m-48-2h4m-46-29h3m-5 3h2m2 0h2m-26 11h2m-24 15h2m-3 5h2m-75-32h2m-11 20h2m8 7h4m-25-13h4m-3 6h2m-2 4h2m-54-26h4m-4 1h2m-14 22h4m-13 8h3m-61 2h2m-69-8h4m-96-5h4m-230 12h2m-3 5h2m-10 32h2m35-11h2m1 7h4m1 5h2m119-10h3m3-6h2m43 18h3m37-25h2m111-11h3m-34 4h2m23 28h2m31-26h2m0 3h2m3 6h2m-7 19h4m20-9h2m-3 9h4m20 0h4m-38 1h2m24 2h2m2 0h2m31-31h3m-12 5h2m-13 1h4m-4 1h2m-1 1h2m2 24h4m37-32h2m11 2h2m44 1h2m-14 12h3m-7 14h2m-1 2h2m34-25h4m-3 21h4m3 0h2m-2 1h4m-7 1h2m3 0h4m-1 3h2m0 0h2m26-23h2m11 2h4m-1 0h2m-27 15h2m1 1h2m8 2h2m-3 1h2m2 0h2m-1 1h3m34-5h4m26-22h4m-5 5h2m16 3h2m-26 21h2m61-36h2m-22 4h2m8 3h2m-10 5h2m1 2h2m2 0h2m8 16h4m-10 2h2m0 1h2m88-35h4m-1 4h2m-30 16h2m72-13h2m-5 28h2m7-9h2m64-21h2m7 0h2m-8 4h2m2 12h2m-7 2h2m41-23h2m-3 1h4m-8 5h2m-14 15h2m-10 5h2m0 6h2m-6 2h2m10 2h2m46-5h2m59 17h4m-14-4h2m-2 2h2m-5 3h2m-36 29h2m-37-36h2m3 1h2m21 3h2m-1 3h2m0 19h4m-4 3h3m-45-30h2m-8 3h2m-10 4h2m15 0h4m-27 21h2m-5 1h2m-50-24h2m-5 2h2m-1 5h2m1 8h3m-6 4h2m26 3h4m-36-16h2m-32 13h2m28 1h2m-12 4h4m4 1h4m-46-19h2m-12 2h2m-8 7h2m14 0h2m-12 1h3m-21 16h3m-27-38h2m10 33h3m-1 1h2m-67-29h2m-1 9h2m-14 12h4m9 4h3m-5 7h3m3 1h2m-37-24h2m10 8h3m-69-20h2m-2 5h3m-17-8h3m-3 4h4m-3 0h2m-1 1h4m-2 1h3m-42 11h2m15 3h2m-2 0h3m-40-10h2m10 18h2m-72-23h2m19 1h2m-52-5h3m22 2h2m-2 5h2m-1 2h4m-40 27h3m-8-7h2m-53-19h3m-2 4h2m-4 15h4m-7 7h3m-35-31h2m-43 25h2m-255 4h4m-7 1h3m-2 0h2m-38-20h2m-50-7h2m12 4h2m-61 13h2m-4 2h2m1 0h2m-10-2h2m-36 49h2m68-16h2m104-16h2m-4 35h3m116-28h2m11 11h4m-1 4h3m4-16h4m4 1h3m61-9h2m-15 3h4m10 6h2m-33 6h4m33-11h2m0 10h2m9 0h3m-10 1h4m13 3h2m45-4h4m-15 14h2m53-20h2m-27 11h2m-5 7h2m9 2h2m46-29h2m0 26h4m-4 1h2m0 0h3m-3 1h2m-15 3h2m24 0h3m39-1h2m51-26h2m-10 20h2m2 14h2m72-25h2m26 8h2m40-8h4m-17 2h2m-11 24h2m60-33h2m-8 3h2m-16 24h2m-2 0h2m-7 3h2m10 3h4m89-36h3m-2 13h2m2-1h2m25 16h2m6 3h2m-8 3h3m23-29h2m9 8h3m-8 5h2m1 3h2m-24 13h2m56-31h2m6 0h4m25 10h2m-21 6h2m-1 11h2m23 0h2m-27 1h2m21 4h2m41-36h3m-3 27h3m-5 6h2m14-34h2m7 22h2m-25 18h3m-22 7h3m-6 1h2m-44 1h2m4 2h2m-7 3h2m26 3h4m-35 4h2m26 1h3m4 8h2m-65-31h2m3 0h4m1 2h2m11 1h4m-13 11h2m8 11h2m-2 4h2m-2 6h4m-36 1h3m6 0h2m-47-35h2m6 16h2m8 3h4m-24 11h2m0 0h2m0 7h2m-18-38h4m-5 3h4m-10 2h3m-23 10h3m0 11h2m-7 2h2m22 9h2m-28 2h2m-34-16h2m8 1h3m-62-7h2m15 0h2m-5 3h2m-26 2h2m-10 5h3m7 11h2m-67-37h2m-2 0h2m3 2h2m15 16h2m-11 4h2m-51 10h2m-4 3h2m4 3h3m-48-17h2m13 2h2m-14 1h2m-2 14h2m-113-18h3m-3 4h2m-5 4h2m1 1h2m-66-21h3m11 18h2m-8 1h3m-7 7h4m-10-25h4m-41 9h2m-2 1h2m-37 9h2m17 3h4m0 5h2m-70-27h2m17 8h2m-28-11h2m-7 26h3m-57-27h2m6 6h3m-4 4h2m-41 6h2m-15 9h2m0 4h2m4 3h2m1 1h3m-61-34h2m-4 3h2m-65-3h3m-26 28h2m-139 21h4m8 0h4m-29 16h2m-8 3h2m75-26h2m-37 16h3m144-13h2m-3 6h2m107-13h2m-17 24h2m35 1h3m-37 6h3m35-8h3m1 1h2m104-25h2m-29 1h3m23 9h2m-34 3h2m12 7h2m-3 14h2m12 2h2m24-32h2m42 10h3m-4 5h2m-2 3h2m57-6h3m-9 6h2m-14 1h2m3 3h2m-24 7h4m42-25h4m8 3h4m-21 7h2m1 2h4m6 14h3m21 0h2m26-31h2m-6 13h2m-9 2h4m19 4h2m-37 12h2m72-33h4m-12 8h2m-2 3h2m-17 22h2m3 1h4m54-32h3m-35 28h2m46-33h2m8 4h3m-15 7h3m10 4h4m0 1h2m2 11h3m27-1h2m-12 3h2m10 4h2m38-11h2m5 5h3m-30 1h2m3 9h2m45-29h3m-6 3h2m-6 1h2m4 6h2m21 1h2m-31 4h2m25 7h2m-5 3h2m34-27h2m-14 7h3m-19 2h3m8 13h2m28-28h3m8 6h3m-13 6h2m4 2h4m14 9h2m-23 3h3m-3 1h4m58-26h4m3 5h3m-21 2h4m0 19h2m36-25h2m14 0h3m-30 2h3m34 28h4m-2 3h2m1 1h2m45-28h2m26 5h3m-5 36h3m-1 0h2m-25 18h2m-16 1h2m-66-25h3m-185 22h3m3 6h2m-41-8h2m27 2h2m-46-25h2m0 1h2m0 2h2m-6 1h2m1 23h2m-94-25h2m1 0h2m-4 16h2m10 1h3m-2 1h4m-10 8h2m-17 11h3m-27-1h2m-41-33h2m-27 30h2m7 1h2m-6 1h2m-35-13h2m-7 9h2m-11 4h3m-4 1h2m-18-33h2m-31 15h2m21 15h2m-48-24h2m-15 27h2m-24-26h3m5 1h2m-13 16h2m-163 7h2m-173-32h2m-72 5h3m-24 50h4m-40 15h4m-3 0h4m34-16h2m22 16h2m-6 1h2m19-13h2m71-7h3m37-10h2m-2 3h2m-26 20h4m66-25h2m32 14h2m-25 7h3m11 6h2m27-17h3m-12 2h4m-3 0h2m1 0h2m-2 1h2m-6 1h2m12 7h2m-3 1h3m5 1h3m40-16h3m6 0h2m-35 4h2m24 4h2m-8 18h2m40-18h2m42 0h2m-33 6h2m19 3h2m-20 7h2m16 0h4m-19 2h2m46-34h4m-9 8h2m19 6h2m-4 2h2m6 1h2m-9 3h2m-4 1h2m-17 3h3m29-25h2m31 13h2m-32 21h2m-10 1h4m8 1h2m2 1h2m-6 1h2m41-31h2m-10 2h2m4 0h2m0 2h3m10 1h2m-8 5h2m11 2h4m-32 5h2m3 0h4m0 0h4m-15 3h2m32 3h2m-3 1h2m-37 1h2m7 0h2m-9 2h2m-2 3h2m110-34h3m-12 2h2m4 0h2m-11 4h2m-17 15h2m-3 14h2m56-39h2m-6 1h4m3 0h2m-16 18h2m3 2h2m15 0h3m-9 1h4m-3 4h2m-11 1h2m9 4h4m-3 3h2m16-33h2m2 11h2m-14 9h2m26 2h3m-19 9h2m18 2h3m18-26h2m5 0h2m-14 1h3m-7 5h2m1 4h2m-10 8h3m12 2h2m-2 2h2m-13 2h2m-11 1h2m0 0h4m3 1h2m39-23h2m5 5h3m-19 3h4m32 6h4m-9 3h2m-20 9h3m29-36h3m4 3h2m-13 1h2m9 0h2m-2 1h4m-9 6h2m8 5h2m-3 1h2m-6 21h3m59-5h2m6-25h2m29 15h2m-5 4h2m14-23h2m18 4h2m8 1h4m-25 7h2m16 1h3m-35 2h2m21 4h4m33 3h2m31-1h3m5 5h3m49-28h4m-20 3h2m0 1h2m13 4h2m18 26h2m15 25h2m-28 16h3m13 0h3m-7 1h2m-58-32h2m-1 0h2m1 7h4m9 4h4m-7 11h2m1 3h2m-6 1h3m6 1h2m-4 1h2m-13 3h4m-29-27h2m-55-6h4m1 2h2m-5 1h2m-13 2h2m14 3h3m-15 22h4m9 4h2m-55-37h2m24 30h2m-71-31h2m27 17h4m-30 9h3m9 2h2m-3 5h3m-60-34h2m29 30h2m-8 7h2m3 1h2m-40-34h2m-29 2h2m16 4h2m-28 24h2m-36-34h2m9 0h4m3 2h4m-6 13h2m7 3h2m-11 3h2m8 8h2m-5 2h4m-34-23h3m-53 2h2m-10 3h4m2 0h2m6 1h2m-11 1h2m-27 1h2m6 6h2m-11 12h4m-69-24h2m-10 13h3m-53-23h2m-71 18h4m14 10h2m-14 1h2m-55-11h3m12 8h2m-15 10h3m-29-26h2m2 8h3m-14 2h2m-43-11h2m20 1h4m-29 4h3m-7 15h2m-3 1h3m8 9h4m-45-37h2m-11 5h2m21 2h2m4 6h2m-15 3h2m10 2h3m4 7h2m-52-10h2m5 19h2m-61-29h2m-14 14h3m33 5h3m-23 3h3m-52-13h2m12 0h2m-8 4h2m4 1h2m-19 10h2m-10 0h3m-3 0h2m-56 1h2m-17 2h2m-6 4h2m-48-30h2m3 1h4m-1 2h2m1 6h4m6 3h2m-11 2h3m3 0h2m-1 3h2m0 3h3m-9 9h2m-1 0h4m-97-34h4m10 5h4m-10 2h3m6 14h2m-29-18h2m62 44h2m13 1h2m-19 5h2m58-7h3m21-8h2m4 3h2m-13 4h4m9 2h2m6 1h3m-23 1h2m12 8h2m-17 2h2m21 7h3m9-13h2m-1 4h2m-12 12h2m58-23h3m13 20h2m-6 6h2m34-35h2m-28 4h2m29 0h3m-6 2h2m-7 19h2m-2 3h3m-14 1h2m-14 6h4m-6 2h2m70-32h2m-32 2h2m0 1h2m1 16h4m5 13h4m-14 1h4m40-36h2m-1 2h2m-2 10h2m-9 3h2m23 11h2m7 1h2m9-29h4m4 0h2m-15 1h2m-2 0h2m29 0h4m-26 1h4m-14 4h2m7 4h3m-4 4h2m66-5h2m-12 21h2m-7 4h4m-5 1h2m16-35h2m24 3h2m-2 1h2m-26 4h2m34 1h4m-36 3h2m56 10h2m12 14h2m8-19h2m7 3h2m-4 3h2m-10 3h3m15 0h2m-18 1h2m62-20h2m-18 19h2m0 5h2m20-3h2m25 0h2m-1 6h2m-7 3h2m35-34h4m-7 8h2m2 0h2m-5 19h3m5 0h4m-30 2h2m34 5h2m21-25h2m-20 6h2m6 7h3m-14 5h2m30 5h4m-28 2h2m67-37h2m-11 1h4m2 0h2m-30 25h2m69-23h4m-11 9h4m-21 5h4m91-16h2m-1 4h2m-10 8h2m-5 4h4m3 4h2m6 17h2m12-32h4m65 3h2m-20 12h3m-1 0h4m33-21h3m-10 2h2m-8 1h2m3 13h2m1 1h2m3 0h2m-3 1h3m-2 3h2m4 1h3m21-21h4m8 2h2m-3 7h2m19 5h2m-19 4h2m-10 1h2m0 2h4m-10 5h2m32-22h4m11 9h2m-9 7h3m2 2h2m-2 1h2m46-24h4m19 43h4m-52 12h4m13 5h2m-4 6h2m3 2h2m-8 1h3m-10 1h4m7 0h2m-16 4h2m20 0h2m-24 2h2m1 0h3m1 1h2m2 1h3m-32-36h2m-20 1h3m2 2h2m-3 2h2m-1 0h3m6 2h4m-1 3h4m-4 2h2m-3 1h2m12 23h2m-74-32h4m-7 5h2m3 0h4m3 2h2m-16 5h4m15 9h2m-15 5h2m13 2h2m-21 3h3m-40-32h2m2 5h4m-12 6h2m9 6h2m-20-18h2m-15 14h2m-21 2h2m24 3h2m-25 5h3m30 1h4m-34 2h4m-10 4h3m-23-20h2m13 8h2m-41 8h3m-4 5h4m-53-24h2m-25 7h2m17 0h2m3 13h2m1 5h2m-51-16h2m-5 1h2m6 17h2m-71-11h4m-5-4h4m-24 14h2m-59-34h2m6 8h2m-3 5h2m5 0h2m13 1h2m3 12h4m-5 1h2m-12 3h2m1 4h2m-32-14h2m-40 5h2m10 3h2m-7 2h2m-31-31h2m-1 8h2m-10 2h2m4 2h3m-2 18h3m-8 2h2m-42-34h2m-10 5h3m14 9h4m11 3h3m-59 2h4m-52-11h2m17 0h4m-56-8h2m-3 13h4m-14 4h2m-1 8h2m8 11h4m0 0h3m5 0h2m-1 0h2m-74-35h2m-13-2h3m-8 1h3m3 2h3m-64-3h2m1 8h2m-14 10h2m0 7h2m-15-19h2m-40 9h2m-13 21h4m-28-31h2m-32 12h2m6 17h2m-11 2h2m23 1h2m-9 2h2m-66-39h3m16 10h2m-17 1h2m28 2h2m-11 3h2m0 5h2m-27 9h4m-33-19h2m-10 4h4m11 21h2m3 0h2m-38-19h2m-18 6h3m-25-3h3m-4 11h2m-4 23h2m-7 17h2m-19 1h2m8 0h4m49-25h2m-3 1h2m12 2h2m66-10h2m7 0h3m8 2h2m13 1h2m-14 9h4m-3 7h4m94-12h2m-8 2h2m-18 8h2m5 0h2m6 2h2m13-2h2m8 1h2m-5 4h4m23 0h2m-32 1h2m-2 16h2m65-11h3m-2 2h2m0 8h2m33-18h3m-6 4h2m3 9h2m-30 3h4m26 0h4m-4 1h4m38-37h4m-33 32h2m9 4h2m54-34h2m-20 29h2m20 2h4m8-2h2m54-31h2m-19 26h2m46-26h2m40 5h2m45-5h2m10 3h2m-9 1h2m-4 26h2m-8 2h4m5 0h2m-14 2h2m-1 3h4m13 0h2m-21 2h4m50-39h3m-23 1h2m14 3h2m-10 7h4m-4 1h2m8 7h2m-31 2h2m32 1h2m12-13h4m6 0h4m-8 5h2m20 0h2m31-14h3m-2 1h2m-17 1h3m17 19h2m-1 1h2m-4 1h2m-8 3h4m1 3h4m1 0h2m-6 4h2m-16 3h4m8 2h2m35-38h2m-16 24h2m-18 2h3m-1 3h4m27 3h2m4 1h3m-13 2h2m16-20h2m41-8h3m-13 18h2m-1 0h3m49-21h2m-1 6h2m30-9h2m3 18h4m4 0h2m-2 6h2m-14 1h4m2 1h2m13 5h2m-28 2h2m5 0h2m12 0h2m-21 1h3m18 1h2m33-35h2m10 0h2m-14 1h2m-18 17h2m-1 0h2m8 0h2m-5 3h2m-5 1h3m-8 1h2m0 4h2m15 7h4m8 0h2m22-34h2m-1 2h3m-2 1h3m-20 1h2m4 1h2m30 44h2m0 4h2m14 7h4m-29-14h4m-37 1h2m-23-8h3m4 1h2m7 0h2m-16 10h2m0 3h2m-66-13h2m5 1h2m-6 2h4m15 5h3m-40-7h2m5 4h4m-10 1h2m-20 7h2m5 16h3m-2 2h2m-33-32h3m-22 6h2m7 7h3m7 5h2m-7 20h2m-51-38h2m6 4h2m5 9h2m-2 2h2m0 1h2m-21 1h2m-1 7h4m2 3h3m-49-27h2m12 5h2m-21 1h2m-4 1h2m-1 0h3m7 6h2m-2 13h2m2 10h2m12 2h2m-72-34h2m-1 19h2m-5 4h4m-1 1h2m-1 3h2m-11-14h2m-2 1h3m-23 3h4m16 1h2m-33 4h2m-3 4h2m-36-22h2m2 2h2m18 4h2m-20 1h2m-7 1h2m4 7h3m10 16h2m-61-39h3m-2 1h3m12 6h2m8 4h2m-6 1h2m-1 2h3m-33 22h2m-30-11h4m17 0h2m-7 1h2m3 3h2m-28 4h2m-4 3h2m-27-32h4m-16 2h4m7 0h2m1 2h2m-19 3h4m2 1h4m-11 2h2m4 0h2m-1 5h3m-13 8h2m6 0h2m0 2h2m-1 8h2m5 1h2m6 0h2m-64-23h4m0 1h3m-2 1h4m17 9h2m-10 7h3m-20 4h2m-38 2h4m-37-17h2m-4 2h2m-4 5h2m-26 9h2m0 0h2m-76-21h2m33 21h2m-48-22h3m-7 7h4m-13 7h2m8 0h2m-11 3h2m-57-23h4m-66 21h2m-73-25h4m-4 1h2m7 14h2m-40 1h2m-14 4h2m6 0h2m-118-11h4m-9 1h4m1 28h3m152-4h3m-5 3h2m-18 28h2m24-28h2m59 7h3m26 24h2m29-30h2m29 22h3m-1 10h2m48-26h4m4 3h2m-14 1h4m9 0h2m17 0h3m0 0h2m-9 9h2m38-21h2m-1 0h3m25-2h2m8 4h2m-15 28h3m42-31h2m-4 3h4m91-3h4m-31 1h2m10 0h2m-21 3h4m9 0h2m-3 2h2m8 3h2m0 2h2m5 19h2m34-30h4m2 3h2m-28 16h2m-5 6h2m16 4h4m-13 3h3m-1 1h2m58-3h3m-8 2h2m1 2h2m37-33h2m-16 6h2m1 0h3m-20 31h4m35-19h2m123 3h2m-2 2h2m77-3h2m-8 6h2m34 0h4m56-11h2m-12 12h3m37-7h2m-10 3h2m-2 2h2m4 0h2m-2 1h4m-3 3h2m71 38h3m-10 3h2m-8 1h2m-103-17h2m-33-12h3m-58 6h2m-157-8h2m-79 15h2m-26-13h4m-2 2h3m9 0h2m-19 3h3m-2 0h4m-24 21h2m-30-8h3m3 0h2m-93-6h2m-26-11h2m-77 26h2m5 0h4m-11 1h4m2 2h3m-41-14h2m-2 5h2m-116-11h3m-18 2h2m-56 6h2m-13 2h2m-206-3h4m22 2h2m-18 5h4" stroke="#6000a0" stroke-opacity=".3" stroke-width="2.4"/>
<path d="M233 828h2m-16 6h2m138-7h4m1 0h2m556 5h4m109 1h2m-11 2h2m9 1h2m-16 1h3m13 0h2m128 21h4m-22-17h4m-34 17h2m-14 3h2m1 7h3m-111 9h3m-107-8h2m-4 5h2m-3 1h3m11 2h2m-152-24h2m-58 24h2m0 1h4m-183-24h2m-11-9h4m-86 31h2m-50-14h2m-5 8h2m-5 5h3m-21 1h3m31 1h2m-78-9h2m0 0h2m-4 3h2m32 7h2m-50-30h2m5 21h2m-3 3h4m-88-23h3m-57-7h2m0 5h2m-9 4h4m9 25h3m-8 3h2m10 0h2m-35-22h2m-8 5h2m-24 2h2m-2 0h4m-7 2h2m-87 34h3m-3 1h3m21 8h2m-9 4h4m55-24h2m10 5h2m-10 2h2m23 0h2m-24 3h2m20 0h3m5 0h2m-27 4h2m63-11h2m-6 3h2m1 4h2m-1 0h3m0 5h2m9-17h2m27 4h4m-13 3h2m-5 1h2m47 20h4m8 1h2m-1 2h2m-11 1h3m54-39h4m-4 3h2m-7 28h2m7 4h2m43-35h2m38 0h3m9 0h2m-11 3h4m-3 0h3m0 0h2m-4 4h2m-1 0h2m-8 5h2m5 2h2m-11 1h4m-3 0h3m10 9h2m30 15h2m41-19h2m-6 7h4m-1 0h4m-1 3h4m-15 1h3m2 1h2m4 0h2m-11 1h2m9 0h3m-14 1h2m4 0h2m-8 1h2m9 1h2m-2 2h2m16-33h2m6 0h2m-8 4h2m-1 1h2m4 0h2m-24 3h2m25 15h2m2 1h3m-22 3h3m-3 0h2m-12 4h3m-7 1h2m2 0h4m0 0h2m-8 1h2m70-38h2m1 4h2m0 0h3m-13 17h3m5 16h3m27-28h4m-14 16h3m22-22h3m7 9h2m-10 3h4m11 5h4m-7 2h2m6 3h2m-12 1h3m0 1h2m5 0h2m6 0h2m-18 1h2m58-24h2m-3 5h2m-21 4h4m3 0h2m11 3h2m-34 16h2m-6 7h2m61-30h2m0 1h3m7 0h2m-12 1h4m0 2h2m3 4h2m-13 3h3m1 3h2m-3 2h2m1 7h2m10-21h2m68-8h2m4 21h2m-3 4h4m22-27h3m-19 22h3m-5 2h4m71-22h2m-4 1h4m35-4h4m61 19h2m-9 15h4m15 1h2m-26 1h2m3 2h4m58-28h3m-13 9h2m-7 1h2m13 4h4m-14 1h2m6 2h2m-36 12h2m105 9h2m-1 4h2m1 1h3m-7 3h2m-22 3h2m-6 5h2m27 10h2m-34 4h2m-22-13h4m7 3h4m-72-10h2m2 1h4m-3 1h2m-7 7h2m-26-27h2m12 3h4m-36 14h2m8 22h2m-23-22h2m-3 13h4m-3 8h2m-46-38h3m-6 35h2m-41-11h2m-22 11h2m-42-7h4m1 1h2m1 0h2m-1 3h2m-5 2h4m-36-33h3m0 1h4m-4 2h2m-1 5h2m14 5h3m-13 7h4m-2 3h3m3 0h4m-24 6h3m7 0h3m-23 3h2m-38-27h2m-6 2h2m-18-4h2m-23 1h3m-7 3h2m-46-5h3m-7-2h3m-27 2h2m7 1h2m-3 1h2m1 1h2m-10 1h3m7 7h3m-15 8h3m-49 3h3m-18-23h2m-10 1h2m-10 18h2m-11 1h3m14 14h2m-61-36h2m-8 1h2m9 2h2m-8 24h2m-1 5h3m25 7h4m-60-36h2m-30 0h2m-25 5h2m3 27h2m-41-34h2m11 4h2m4 1h2m-21 1h2m6 1h2m8 3h2m-4 5h2m-5 1h3m-7 3h2m-3 1h2m-8 2h2m-16 5h2m2 2h2m-5 2h2m-4 1h2m4 0h4m-10 2h3m-1 0h2m-22-14h2m-3 1h2m12 3h2m-10 2h3m6 5h4m-93-28h4m-1 6h2m-5 18h2m-4 3h2m0 1h2m-1 0h2m-9 2h2m2 1h2m6 0h2m-37-29h2m-155-5h2m-9 0h4m-18 3h4m6 0h2m2 0h4m-26 29h4m-28-19h2m-5 1h2m-40 46h2m-3 5h2m6 0h4m-3 1h2m-12 7h2m178 1h2m145-21h4m23-6h4m-25 7h2m51-4h2m-9 20h2m-3 1h3m-4 4h2m30 0h2m-12 3h4m33-34h2m-4 3h3m6 0h2m-21 4h2m21 5h2m35-6h2m2 0h4m37-4h4m-42 3h3m42-4h4m67-1h2m-8 2h2m-2 0h2m6 1h4m-12 2h2m2 0h2m-1 3h2m0 1h2m3-11h2m-2 0h2m-4 3h2m-2 4h2m2 0h4m-2 3h2m-7 1h3m-2 2h2m3 13h2m66-1h2m-4 1h2m33-23h2m-10 1h3m-9 2h3m3 2h2m9 2h2m67-8h2m-7 2h2m4 1h3m-13 30h4m7 1h2m-2 0h2m34-39h3m10 0h2m-1 0h2m-18 5h2m1 1h2m-7 12h2m-5 1h2m4 2h2m8 3h2m-28 2h2m8 1h2m-8 3h2m6 0h2m-5 1h4m-8 1h2m8 1h4m-10 2h2m-7 2h3m32-36h2m6 0h2m7 28h2m-1 0h2m3 0h2m35 5h4m44-34h3m12 2h2m20 4h2m10 16h2m-5 3h2m-14 11h2m-3 1h2m-8 1h2m25-34h3m27 0h2m-22 32h4m1 0h2m59-34h2m6 0h2m-6 1h2m3 5h4m17 4h2m-7 5h2m-3 15h3m-4 3h2m15 1h2m0-6h2m-31 11h2m2 1h2m-10 1h2m-9 4h4m-2 6h2m25 0h2m-18 5h2m-2 1h2m-16-19h3m-30 5h2m23 3h2m-20 1h2m-13 1h3m-2 0h2m1 0h2m0 5h2m19 0h2m-4 5h4m-7 1h2m-65 10h2m-6 1h2m16 6h2m0 0h4m11 1h3m-116-21h2m-62-3h2m-1 1h3m-25 4h4m8 1h3m7 0h2m-7 2h2m4 7h4m-2 2h2m-11 1h2m7 0h2m-18 3h2m-24-34h2m-8 3h4m6 30h3m-57-35h4m-6 4h2m4 4h2m-12 24h2m-27 6h3m-2 1h4m-63-39h2m-6 2h2m1 3h2m22 16h2m0 2h2m-71 10h3m-9 1h2m-2 2h3m3 2h2m-28-35h3m-6 14h4m16 16h4m-83-32h2m9 6h2m2 21h2m-57-23h2m-1 1h2m21 4h4m-7 1h2m9 0h2m-10 2h4m-10 1h4m6 2h4m-9 3h2m5 4h3m3 1h2m-7 2h2m-52-17h2m4 0h2m-14 21h2m-17 2h2m0 0h4m4 1h2m1 0h2m-12 1h2m0 0h2m1 3h4m-1 1h2m-19-38h3m-32 34h2m-47-9h4m25 12h2m4 0h4m-48-24h2m-25 17h2m-7 2h4m32 2h2m-40 1h2m3 2h2m-9-5h2m-3 3h4m-103-10h2m-2 5h2m-60-28h2m5 23h2m22 9h2m-19 1h2m-29-30h2m-25 15h3m1 16h3m-13-17h2m-73-18h2m-52 35h2m-25 9h2m1 5h2m17 7h2m-4 20h2m-5 2h2m29-21h2m5 8h3m53-19h3m-9 1h2m10 3h4m-12 2h4m12 1h2m50 6h2m6-1h2m2 0h2m2 2h3m-6 1h2m-4 2h3m-4 2h2m65-17h2m0 7h3m-19 23h2m117-35h2m-8 7h4m-8 5h2m32 16h2m30-32h4m5 0h4m-5 1h2m-4 1h2m0 2h2m-24 8h2m17 0h2m-16 2h2m8 1h3m-6 6h2m1 10h3m6-16h2m32 9h3m-7 1h2m25-16h4m9 0h2m-27 3h2m16 0h2m-20 4h2m15 0h3m14 15h2m16-26h2m10 1h2m-12 1h4m-9 4h4m4 7h4m-20 21h2m63-25h3m-25 8h2m4 1h2m-14 4h2m8 8h3m-10 1h2m1 0h2m41-22h3m-14 18h2m24 0h4m-18 2h2m10 1h2m2 0h2m-22 1h2m15 0h2m3 1h2m11-27h4m14 2h2m-11 1h2m7 0h2m-14 1h2m-5 1h2m-1 3h2m-5 4h4m10 8h2m5 1h2m-2 1h2m-12 1h2m-11 1h3m2 2h2m3 0h3m-1 0h2m4 0h2m-10 1h3m4 0h3m-2 2h4m-3 0h2m33-17h3m-4 6h4m-3 1h3m-14 2h2m-5 8h3m67-28h3m-5 1h3m-5 3h2m-6 3h3m5 1h2m-7 1h2m-10 3h2m7 1h2m18-13h4m-11 3h3m17 4h3m-16 3h4m60-1h3m8-18h2m17 1h3m-30 15h3m3 0h4m12 17h2m63-33h2m-7 12h2m-4 11h2m6 2h4m-12 4h2m32 3h2m-27 1h2m-1 0h2m66-28h2m-14 2h4m7 2h2m22-10h2m12 2h2m-5 2h2m-5 5h2m4 0h4m-6 8h4m-4 8h3m-26 1h2m12 0h2m5 2h2m-15 1h4m-6 3h4m3 0h3m-18 1h2m6 1h2m4 2h2m-23 1h3m36-38h2m26 2h4m1 0h3m-12 19h2m5 1h3m-34 8h3m20 6h2m41-10h2m-2 3h2m0 2h4m5 4h2m2 6h2m-38 27h2m28 11h4m-62-37h2m9 1h3m-16 2h2m-1 0h2m0 1h2m14 2h2m-22 1h4m-5 2h2m24 20h2m-4 3h2m-23 1h2m21 1h3m-74-36h4m8 2h4m0 2h3m9 0h2m-11 2h2m10 1h3m-38 24h2m10 5h4m-11 3h2m-46-34h2m-2 2h4m-7 2h3m31 3h3m-35 1h4m20 2h2m-27 4h3m31 3h2m-37 2h2m29 10h3m-25 1h2m17 1h3m-58-33h2m21 0h2m-4 12h2m1 16h2m-53-25h2m5 2h4m-17 3h2m7 9h2m1 0h2m-12 2h2m13 0h2m-9 1h2m-10 1h4m0 0h3m-3 0h2m0 2h2m0 0h3m-5 2h2m-27 5h2m4 3h2m-7 2h2m-1 0h2m-25-38h2m1 8h4m-26 12h2m4 2h2m17 12h4m1 1h2m-8 1h2m-9 2h2m7 0h2m1 1h2m0 0h2m-59-34h2m9 8h4m-19 18h2m-3 6h3m-33-35h2m-7 12h4m4 0h2m10 4h2m-3 4h2m-78-20h2m-4 2h4m5 3h3m-12 2h2m31 11h3m-4 2h4m-6 1h4m-4 2h2m-15 2h2m-3 1h3m8 2h3m-8 1h2m-27-27h2m-18 6h2m-12 1h2m-1 0h2m4 2h2m-14 7h3m-35-20h2m5 1h2m-59 0h2m-3 4h2m7 4h3m-5 1h4m-41-9h2m-14 1h2m33 1h2m-1 6h2m-73-8h2m-34 12h3m13 0h2m-17 1h3m6 0h2m-10 2h2m-11 1h2m18 12h4m3 7h2m-44-33h2m-16 8h2m-10 1h2m-1 0h2m8 0h2m-2 6h3m-8 3h2m-149-16h3m-24 20h2m-16 6h2m-99 3h4m0 0h3m-2 2h2m0 1h2m-50-23h2m-89 16h2m-7 2h4m-4 3h2m-40 41h3m-4 1h4m-6 1h2m59-31h3m-2 4h2m-1 5h2m104-16h2m-8 22h3m67-5h2m39 7h2m-21 12h3m41-32h2m-7 2h2m20 7h2m-2 0h2m-12 6h2m-16 15h4m-4 4h4m-2 0h2m23-38h2m27 12h3m-33 1h4m19 17h2m5 7h3m15-32h4m4 1h2m-10 1h4m17 1h2m-23 2h2m15 4h2m-16 2h2m21 7h3m8-18h4m0 7h4m-5 5h2m11 0h2m-7 2h2m-4 2h2m2 0h3m9 8h2m38-15h4m4 0h3m-31 14h2m-10 10h2m71-36h2m-12 3h2m8 4h2m-5 7h4m-24 4h2m2 0h4m-2 3h2m-7 2h2m-5 2h3m3 0h2m-2 3h3m50-9h3m-9 3h3m1 2h2m-5 2h2m-6 1h3m-1 0h2m11 1h3m-12 4h2m12-32h2m4 22h2m-6 5h2m-3 3h4m-4 2h2m47-13h2m38-18h2m13 1h4m-7 4h2m11 1h2m-31 15h4m16 1h4m-22 2h2m0 0h2m4 6h2m24-29h4m41 10h3m-1 8h2m0 0h2m-7 2h2m0 0h2m-3 1h2m-4 1h2m2 2h2m63-28h2m2 13h2m-18 2h2m2 0h2m5 2h4m-8 2h3m3 2h2m-11 1h2m23-22h2m-4 1h2m13 0h3m-22 11h3m27 1h2m-26 25h2m-5 1h3m64-38h3m-7 1h2m-21 1h3m18 3h3m-36 2h2m4 16h4m32-21h3m32 3h2m-5 4h2m2 5h2m32-11h3m-34 5h2m4 0h2m22 0h2m1 23h2m11-29h2m4 0h2m-5 1h2m7 1h2m-19 4h2m21 7h4m0 3h3m-4 2h4m-8 2h2m-25 12h2m67-33h2m-5 2h2m3 1h4m-12 1h4m-2 1h4m2 1h3m-11 7h3m3 0h4m-30 2h2m12 2h4m-6 1h2m-3 1h4m-2 9h2m18 4h3m-19 1h2m-12 1h2m14 0h4m5 0h2m-22 2h4m1 0h2m10 0h2m4-31h2m14 0h2m-3 5h2m-13 12h2m13 9h4m-22 5h2m0 1h2m62-36h2m-29 15h2m4 2h2m23 9h2m-10 2h2m14 0h2m-18 1h3m6 1h2m-8 1h2m-2 2h2m19-10h4m0 0h2m-11 1h2m-23 13h2m-13 9h2m-2 5h2m-3 1h3m-3 0h2m0 0h4m-7 1h2m-7 1h4m-5 4h2m15 5h2m-20 2h2m-31-18h2m1 2h4m-5 1h2m-13 1h4m-4 5h2m9 0h4m-6 2h2m16 1h2m-30 2h2m32 1h3m-4 4h2m-37 9h3m-26-38h2m2 0h2m-5 4h2m-20 9h4m34 7h3m-5 3h2m-3 8h2m-29 1h2m-1 3h2m28 0h2m-31 1h2m17 0h2m1 0h2m2 0h3m-13 2h2m-2 1h3m3 0h2m-65-35h2m-9 3h2m35 9h2m-6 3h4m-31 8h2m7 1h2m-9 1h2m9 0h2m-10 1h2m-4 3h3m7 1h2m-28-31h2m-8 1h2m3 1h2m-5 2h2m-18 18h2m-16 2h2m3 3h2m23 7h3m3 2h4m-70-37h2m-10 4h2m3 12h4m25 1h2m-3 4h4m-3 0h4m-26 2h2m16 2h2m-5 5h2m3 0h2m-26 5h2m22 0h3m-7 2h2m-53-22h2m-3 2h3m15 0h2m-7 2h2m-8 1h3m-59 1h2m5 2h3m1 3h2m-12 8h3m21 1h2m-63-37h4m-10 1h2m-1 0h3m-10 3h2m1 0h4m6 1h3m-3 0h3m-5 1h2m9 10h3m-6 5h2m0 1h2m-11 4h2m9 0h2m0 0h3m1 1h2m-39-25h2m-46 24h2m-65-26h3m2 3h3m-3 3h4m-55 24h2m0 8h4m-13-23h2m-6 1h2m-9 9h2m0 1h3m-2 0h2m0 1h4m-30 1h3m3 5h4m-1 1h4m-13 2h2m16 1h4m-57-35h2m24 16h4m-35 5h2m0 3h2m1 11h2m-12-33h3m-5 7h2m-37 10h3m-24-12h4m-1 0h2m-6 1h3m-4 2h3m-1 21h4m-5 1h4m4 0h2m-8 2h3m0 1h4m-65-31h2m2 0h2m-6 1h2m17 4h3m-22 2h4m15 1h2m-5 5h4m15 7h4m-36 13h3m-39-38h4m21 9h3m-3 0h2m2 0h2m-30 12h2m-8 2h2m-30-14h2m-4 2h2m1 1h4m3 7h2m10 8h2m-51-10h2m2 1h2m-3 1h3m-2 0h2m-8 2h2m-18 11h4m5 1h3m-6 2h2m2 1h2m-6 2h4m6 0h3m-60-35h2m-1 0h3m-12 2h2m5 1h4m14 11h3m-30-13h2m-21 13h2m-46-17h2m0 5h2m-184 58h2m32-12h2m-5 8h2m-25 2h2m24 2h2m47-18h2m-40 11h2m151 18h3m6 0h3m98-35h2m-4 1h4m4 2h2m-5 1h2m11 21h4m-37 12h3m59-31h2m-28 12h2m5 7h3m-2 4h2m63-11h3m29-17h2m5 4h2m-7 10h2m-22 8h4m12 15h3m48-38h3m-22 4h2m-16 1h2m11 1h2m61-6h3m-17 8h2m-18 6h2m2 1h2m0 1h2m-9 1h2m9 1h4m-1 3h2m6 7h4m0 3h4m6-29h4m-4 2h2m27 10h3m-22 5h2m-10 4h2m-1 0h2m2 1h2m5 0h2m14 1h3m-36 1h2m10 1h2m4 0h2m0 0h3m40-27h2m-25 2h4m11 11h2m3 6h3m-11 2h2m5 5h2m37-23h2m0 4h2m1 4h2m50-9h4m-22 13h3m-7 1h2m14 0h2m-3 1h3m-17 1h4m2 2h2m-7 14h3m41-31h3m-21 34h3m55-37h2m-16 2h2m10 2h2m4 3h4m-17 1h4m0 0h2m5 0h2m-6 1h2m-6 2h2m8 1h2m-14 2h2m-7 1h2m23 0h2m-26 1h2m21 14h4m-26 5h2m40-33h2m-7 5h3m-2 0h2m-3 3h2m7 17h2m-7 2h2m0 1h2m0 1h2m-5 3h2m19 4h3m41-36h2m-30 14h2m3 0h2m-4 3h2m-2 4h2m-12 16h2m42-30h2m8 0h2m3 2h3m-15 7h2m66-13h2m-20 2h2m10 1h2m-8 1h2m-16 3h3m1 1h2m-3 7h3m-12 3h2m33 6h2m-6 1h2m-33 3h2m64-30h2m-16 13h4m4 0h2m-16 3h2m0 1h2m-10 4h4m4 0h2m-11 2h4m21 1h2m-24 2h3m4 4h2m52-26h2m-1 1h2m4 0h3m-5 1h2m-2 7h3m-16 4h4m-3 3h2m28-22h4m-8 1h3m6 1h3m-3 0h2m-2 1h2m-17 11h2m8 4h2m-1 9h2m-4 2h2m0 2h2m34-7h3m-3 4h3m-3 3h2m-1 1h2m-7 2h3m-2 1h2m52-27h4m-6 4h4m11 1h2m13 33h2m-3 2h2m2 0h3m-7 5h2m-1 1h4m1 0h2m-10 1h2m3 0h2m-41 15h2m-64-31h2m-18 4h3m6 26h3m-29-10h2m-9 4h3m-85 14h4m-22 1h2m-47-28h2m16 2h2m-18 11h2m3 4h2m-4 3h4m-39-30h3m-7 23h3m12 13h2m-16 2h2m-26-39h2m8 3h2m-3 1h3m-32 4h2m27 9h2m-28 8h2m-8 7h2m-30-29h2m-15 7h2m11 6h2m17 5h2m3 3h3m-23 4h4m14 0h2m-4 1h3m-3 0h4m-7 1h2m1 2h3m2 0h2m-7 1h3m-26 4h3m-28-36h4m0 0h2m-32 3h2m24 0h4m1 5h4m1 16h2m-8 1h4m1 0h2m0 3h2m-6 6h2m4 0h2m-19 4h3m-43-39h3m-6 3h2m-15 3h2m22 30h2m-9 3h2m-58-1h2m4 0h2m-29-22h2m-8 8h3m-1 1h2m0 1h2m-24 2h2m-1 2h4m-7 1h2m-1 1h2m2 2h2m3 4h2m-18-38h2m-26 2h4m-8 1h4m-6 14h2m1 0h2m-2 4h3m27 13h4m-5 2h2m-39-21h2m-39 20h2m3 4h4m-27-33h2m2 5h3m0 7h2m-23 18h3m24 1h4m-55-37h2m-146 0h2m-1 0h3m0 1h2m-2 0h2m-4 1h2m-8-1h2m-1 3h2m-34 31h3m-5 3h2m-9-3h3m-192-32h2m-3 7h2m-1 0h2m-1 2h4m-6 6h2m26 2h4m-33 5h3m-52 17h3m-1 36h2m41-19h2m7 1h4m10 2h4m-13 7h2m14 4h2m-10 1h2m-4 2h3m4 2h4m-4 1h2m21-11h4m-13 7h2m71-23h2m-9 3h2m7 0h2m31-8h2m-11 3h2m-21 5h3m-3 2h2m3 1h4m-12 3h3m2 2h2m3 3h2m0 2h3m-15 5h4m2 3h2m1 0h2m69-36h2m36 10h2m-31 14h2m-1 0h2m-1 0h2m0 2h2m5 1h2m-19 5h2m58-30h2m-10 4h3m-6 8h4m-3 3h3m-2 5h2m56-14h4m-1 0h4m-32 3h2m20 0h2m-12 2h2m4 0h4m-29 2h2m36 5h2m-31 1h2m15 11h2m44-22h2m-7 8h2m2 2h2m-10 1h4m5 0h4m-4 1h2m4 0h3m-28 13h2m54-27h4m-1 8h2m-20 6h4m11 1h2m-22 3h3m7 1h2m-1 1h4m3 0h2m-23 2h4m7 3h2m36-31h3m18 2h2m-12 13h4m-22 1h2m-2 0h4m15 2h2m-19 2h2m3 0h3m12 0h4m-34 1h2m9 1h2m4 1h2m-7 1h2m15 0h3m-19 1h2m17 0h3m1 2h4m-40 9h2m51-23h2m12 5h2m5 3h2m-28 8h2m18 0h4m5 2h2m-33 2h4m57-35h3m-18 1h2m3 10h2m-1 0h2m-8 15h3m-2 0h2m-1 0h4m-14 6h2m28 1h2m-25 1h2m24 0h4m-3 0h2m-29 2h3m36-35h4m19 0h2m-1 2h2m-33 28h4m0 3h2m-8 1h2m36-34h4m32 7h2m1 2h2m-7 1h2m0 0h4m-11 1h2m0 4h2m-8 13h4m-1 10h2m28-37h2m-16 20h2m6 0h2m-1 3h4m19 1h2m-5 1h3m3 0h2m-7 2h2m3 1h3m-8 4h3m26-32h2m-5 3h2m-2 1h2m-15 13h2m26 3h4m-1 2h2m-3 2h3m-15 1h3m-8 1h4m7 1h2m6 10h2m13-37h2m-5 5h4m-11 14h2m5 3h2m7 3h2m1 0h3m-21 2h2m0 0h3m2 1h3m9 0h3m-3 0h3m-2 0h3m-24 2h2m15 0h3m-24 2h2m25 2h2m-26 2h3m39-33h4m1 1h4m-5 3h2m-2 2h4m6 1h2m-11 1h3m14 0h2m-6 1h3m-1 0h2m-9 2h4m-7 1h2m-5 3h4m19 5h4m-22 13h2m23-37h2m6 3h2m1 3h3m-3 1h2m8 1h2m-11 2h2m-9 1h2m18 0h3m-13 1h2m-10 1h2m5 0h2m-8 2h4m3 3h2m47-18h2m6 22h2m-3 2h2m1 0h2m-1 1h4m-4 0h2m-6 4h2m3 1h4m2-14h2m3 0h2m-11 1h2m0 9h2m30 0h2m-32 8h2m26 2h3m37-33h2m-19 2h2m8 0h2m-13 2h2m1 1h2m16 1h2m-4 1h2m-1 0h2m-2 1h2m-6 2h3m-28 1h2m17 0h2m-17 3h2m23 0h4m-29 1h2m3 15h2m-8 1h2m7 1h3m-14 1h4m4 1h4m-1 1h2m21-15h2m21 1h2m-25 6h2m1 5h2m-4 2h2m67-28h4m1 5h4m-33 4h2m58-18h2m3 4h2m1 1h4m0 1h4m-6 20h3m-9 5h2m-6 3h3m12-32h2m1 33h2m43-8h2m-6 7h2m2 33h2m-2 6h2m-42-24h2m-11 2h3m-2 7h2m0 6h2m0 3h2m31 0h2m-8 9h3m-75-25h2m-1 0h2m4 3h2m12 0h4m-12 2h2m24 0h2m-27 3h2m2 3h4m-15 5h2m22 3h2m-27 2h3m16 0h2m-9 3h2m-55-33h4m-3 2h4m18 12h3m8 1h2m-3 18h2m-45-34h2m-1 1h2m-21 1h2m-4 1h4m20 1h4m-34 1h2m4 4h2m-5 2h3m-1 0h2m-12 4h4m-7 9h2m9 4h2m11 4h3m-65-16h2m19 2h2m-9 1h2m20 2h4m-19 2h2m-35-10h3m-21 13h2m-15 9h3m-18-9h2m-1 3h3m0 0h3m3 0h4m-2 6h4m-79-33h2m25 6h2m-19 16h2m-5 11h2m-48-37h2m4 0h2m-6 4h2m5 0h2m-2 2h3m-1 0h2m-8 1h2m-3 3h4m-4 0h2m4 5h2m2 3h3m2 0h4m-12 5h2m3 0h4m16 11h4m-19 1h2m-29-20h3m-8 22h3m-62-30h2m4 2h3m-13 1h4m-5 1h2m17 0h2m-20 1h2m5 1h2m3 0h2m2 0h4m-2 0h2m4 0h2m3 0h2m-31 2h2m-11 10h4m0 4h2m33 3h3m-39 4h3m2 0h2m-1 1h3m-5 1h3m-25-31h2m4 8h2m5 20h2m-73-31h2m-1 1h2m1 2h2m-10 2h2m1 0h2m0 0h4m-1 1h2m-8 1h2m-2 1h2m-7 2h2m0 4h3m-2 2h2m25 7h2m-53-23h4m-7 2h2m17 16h3m-4 1h2m-5 9h2m-1 5h2m-3 1h2m0 1h2m-67-39h2m11 2h2m-3 8h2m-1 2h2m-1 5h2m-40-8h4m-18 2h2m15 0h4m-21 4h4m-4 2h3m8 0h2m-15 8h3m-6 1h2m5 1h3m-1 1h4m-12 6h2m-32-15h3m-10 2h2m0 1h4m3 0h2m-8 1h2m4 0h3m0 0h3m-16 2h3m-4 3h2m18 0h2m-14 2h2m20 1h2m-35 2h2m24 0h2m-32 2h3m2 0h3m0 0h2m-9 1h2m-3 1h2m8 0h2m12 0h2m10 1h2m-38 1h2m23 0h2m12 0h2m-67-38h3m1 0h4m-19 13h4m31 20h2m-5 3h4m-62-36h2m1 0h2m-16 3h2m-7 5h2m6 0h2m0 0h2m-4 1h2m-1 0h2m-1 0h2m-1 1h2m7 0h4m-24 4h2m7 2h2m13 4h2m-5 4h4m-1 5h3m-1 3h3m-18 6h3m-39-38h2m-13 1h2m0 0h2m-7 2h2m10 0h2m-15 2h2m-3 4h2m34 3h3m-18 2h4m2 0h2m10 0h4m-4 1h2m-7 4h2m-1 0h3m-7 1h2m-3 1h2m-6 4h4m1 0h4m-37-20h3m-2 4h3m-27 6h2m15 1h2m-11 1h3m5 0h2m-20 1h2m1 1h3m-1 1h2m-3 4h2m1 0h2m-17 14h2m9 0h2m-56-33h2m27 8h4m1 3h2m-23 3h2m19 5h2m-31 2h2m20 1h2m-9 8h2m-56-22h2m-4 1h2m1 4h2m-2 1h2m0 0h2m-8 2h3m31 2h2m-36 9h3m-47-6h2m20 2h4m8 0h3m-3 3h2m-17 5h2m-7 2h2m-37-5h4m-5 1h2m2 0h2m1 2h2m-61-37h2m-8 3h2m6 3h2m-7 4h2m5 0h2m-13 1h2m2 1h2m4 2h4m14 1h3m-16 6h2m-9 1h2m28 3h4m-33 1h4m2 2h2m-10 1h2m7 0h2m-8 4h2m10 0h2m-8 3h2m-29-36h2m2 4h4m0 4h3m-19 11h2m0 1h2m0 2h4m-20 1h3m7 5h2m-40-17h3m0 1h2m-2 3h4m11 2h3m-21 1h2m7 9h2m6 10h2m-19 18h2m5 1h3m-8 3h3m53-10h2m-2 4h2m-8 3h2m-24 1h2m2 0h2m8 5h2m2 2h2m31-13h4m27-10h2m4 0h2m2 1h4m-2 0h2m-9 1h2m3 3h4m0 0h4m-10 1h2m15 0h2m-27 1h3m5 0h3m-7 4h2m16 0h2m-10 1h4m3 1h2m-1 1h2m0 0h2m-27 2h4m7 2h2m8 2h2m-4 1h4m-27 8h3m55-14h2m-27 1h2m8 0h4m-6 2h2m9 1h2m-15 1h2m22 2h2m-29 2h2m11 1h2m-17 3h3m59-17h2m-4 2h2m5 3h2m-10 3h3m5 11h4m2 5h2m1 0h3m-11 2h2m4 1h3m36-36h2m-17 2h2m1 2h3m11 0h2m-37 2h2m32 0h2m-8 1h3m6 0h2m-16 3h2m11 0h2m-12 1h2m-11 6h2m-9 2h2m24 3h2m-3 2h4m-10 1h2m-4 1h4m-9 1h4m11 0h3m-18 2h2m-6 2h2m10 1h2m13-32h3m4 1h2m-1 1h2m-15 1h4m-3 2h2m19 2h2m-21 9h2m-3 1h2m28 0h2m-35 2h2m-1 0h2m1 0h3m10 0h2m-14 1h2m0 2h2m-7 1h3m3 2h2m-2 0h2m-4 2h2m-1 1h2m1 0h3m-6 1h4m-8 1h2m3 4h2m4 0h4m1 2h2m33-33h3m-9 2h2m2 0h4m-12 1h3m-1 1h2m23 7h4m-35 4h2m2 5h2m28 7h2m-12 1h2m23-34h4m-1 4h2m-3 23h2m62-23h2m-1 6h2m-24 5h2m18 14h2m-13 7h4m-9 1h2m-3 1h2m4 0h2m45-35h2m5 0h2m-12 3h2m13-5h2m33 34h4m35-16h2m-9 2h2m-22 2h2m26 0h2m-18 2h2m-3 3h2m-8 1h2m2 0h2m2 2h3m-5 1h2m-16 1h4m-8 3h2m-5 2h2m5 1h4m1 0h2m41-18h2m4 1h2m-1 2h3m-13 2h2m4 0h3m-2 3h2m4 1h3m21-18h2m17 9h3m-29 2h2m-1 2h2m31 7h4m-11 7h3m25-25h2m-2 0h3m10 11h2m-3 3h2m-8 3h3m0 0h2m-2 0h2m-19 1h2m13 1h2m-4 1h2m5 0h2m-7 1h4m-15 1h2m97-35h3m39 5h2m-6 2h2m-22 3h4m0 3h2m19 1h2m37 8h2m-9 2h2m1 2h3m35-9h2m-7 2h2m-1 0h3m-4 2h2m1 1h4m-4 0h2m5 8h2m11-29h3m13 0h2m-10 8h2m17 28h2m19-26h3m-5 1h2m2 7h2m-5 2h3m3 0h2m2 0h2m-5 1h4m1 0h2m36-23h4m-2 0h2m-27 1h2m23 0h3m-6 17h2m-2 0h4m-10 2h4m3 0h2m-9 2h2m20 8h2m-6 6h2m1 0h2m-38 2h2m5 0h2m39-36h3m-1 1h2m24 4h4m-5 2h2m-18 5h2m14 0h2m1 0h2m-32 8h4m-13 13h2m58-32h2m-4 1h2m-3 1h2m3 0h3m-7 1h3m-12 1h3m-10 1h2m15 0h3m-13 1h3m0 0h2m1 1h2m1 1h2m-17 2h2m30 6h2m-26 2h2m6 1h2m1 0h2m-11 4h2m-6 13h3m59-22h4m-4 3h2m6 31h3m-40 7h3m3 6h3m-5 5h2m-3 1h2m14 1h4m-7 1h2m3 0h2m-2 1h2m-25 1h4m1 1h4m-1 2h2m-2 0h2m-5 2h2m-39-38h2m10 4h2m4 5h2m-5 1h2m2 3h2m-4 2h3m3 0h2m-3 5h4m-8 15h2m-3 1h2m-8 2h2m-59-37h2m3 3h2m-2 1h2m14 14h2m-25 12h2m6 3h2m-1 1h4m0 2h3m-27-36h2m-7 4h3m-14 2h2m22 2h2m-39 10h2m3 3h3m-8 1h2m1 0h4m31 0h3m-3 5h3m-2 1h2m-6 5h4m-9 1h4m-1 1h2m-39-36h2m-36 2h2m0 0h3m0 5h3m7 2h3m4 0h2m-20 1h2m0 3h2m7 5h2m-16 2h2m24 2h4m-31 1h2m32 0h2m-38 1h2m31 2h2m-7 1h2m-29 2h2m3 0h2m2 6h4m-38-31h2m5 6h4m10 7h2m-2 1h2m-5 2h2m3 7h4m-40 4h4m-1 0h3m-8 4h2m-1 3h2m-38-27h3m26 1h2m-29 7h2m-13-8h2m-12 2h2m8 0h2m-27 5h2m0 0h4m-10 1h2m-2 5h2m3 7h2m3 0h2m4 0h3m-5 1h2m-3 3h2m-60-30h4m26 12h2m-1 2h2m-5 9h2m3 1h2m-25 7h3m-51-11h4m-3 4h2m3 2h4m-9 1h2m2 0h2m-6 1h3m-7 4h2m-12-38h2m2 3h2m-13 27h2m-5 5h2m-6 4h2m9 0h2m4 0h2m-54-33h2m-16 5h2m-1 2h2m-1 0h2m2 1h3m-8 3h2m-5 3h2m-4 9h2m20 2h2m-28 1h2m-2 0h4m29 1h2m0 0h2m-3 1h2m-10 2h4m-13 1h2m2 1h4m3 0h2m-5 1h2m-62-37h3m-7 1h4m-5 16h2m31 2h2m-2 2h4m-30 3h2m21 0h2m-24 1h2m3 0h2m-6 2h4m-2 0h2m11 0h2m-9 1h2m-5 1h2m17 0h4m-2 3h2m-71-31h2m4 2h2m21 1h3m-28 1h4m-9 1h2m-4 2h2m20 6h4m-23 2h2m3 2h2m5 15h2m-10 1h2m7 2h4m-19 1h2m4 0h2m-39-21h2m4 0h2m-22 17h2m-9-34h3m-18 17h2m1 2h2m10 8h2m-2 2h2m-33 5h2m-43 2h2m-24-37h2m0 1h3m-18 7h2m5 1h3m-3 1h3m5 3h2m-10 4h2m-9 5h2m21 12h2m0 2h2m1 3h2m-37-21h2m-53-14h2m-21 2h2m-33 2h2m-6 1h2m-12 2h2m0 1h3m2 1h2m-12 19h4m-25-28h3m-57 0h4m4 3h3m-2 25h3m0 2h2m3 3h4m-61-2h3m9 2h2m-11 1h2m6 1h2m4 0h2m-34-39h4m-10 9h2m3 0h2m-23 2h2m16 0h3m1 1h3m-7 1h2m2 2h2m1 2h4m-6 1h2m-7 1h4m5 3h3m-7 4h2m-10 2h3m-15 3h2m-4 1h2m2 1h3m-15 1h4m4 0h2m4 0h2m-8 1h2m-3 3h2m-16-35h4m-37 11h4m31 13h4m-14 12h2m-37-23h2m-1 4h3m-22 1h2m-27 16h3m-11 16h4m3 4h4m37-9h2m-22 16h2m-7 1h2m130-25h2m0 0h2m3 1h2m-10 1h4m2 1h3m4 0h2m-6 1h2m-9 1h2m-6 1h4m2 0h3m2 0h3m-9 1h2m-1 0h3m2 2h2m2 0h3m-17 3h2m-5 1h2m-6 7h2m-9 19h3m108-32h2m-11 1h3m-1 0h2m-12 1h2m9 0h3m-20 1h4m6 1h3m-7 1h4m-8 3h2m16 0h4m-3 0h4m-6 1h2m6 0h2m-16 1h3m-17 1h2m15 0h2m-16 1h4m5 0h4m13 0h4m-19 1h4m-4 1h2m-13 3h2m20 0h3m-10 1h4m3 1h4m-11 1h3m28-22h4m10 10h2m34 1h2m4 5h2m4 7h2m-3 6h3m-7 3h2m3 2h4m33-18h2m-12 1h2m-6 1h4m-4 2h2m4 0h3m-9 1h2m5 0h2m-7 1h2m2 1h2m-1 1h3m-4 2h2m-1 0h2m-29 3h2m5 2h2m25 0h4m-39 1h3m33 0h2m40-36h2m-7 1h2m-2 1h3m-31 30h2m-1 1h2m33-29h4m-5 11h2m1 4h2m0 2h2m1 7h3m24 9h3m1 1h2m23-13h2m-14 1h2m6 4h3m-21 3h4m9 0h2m-11 1h2m-8 2h2m64-35h2m-6 8h2m30-10h2m-7 2h3m10 30h3m-10 3h2m42-31h2m0 0h2m5 0h2m-8 2h2m-1 1h3m4 1h4m-18 3h2m5 3h4m-18 21h2m1 0h2m-10 3h2m0 0h2m61-38h2m-4 2h2m6 0h2m-23 3h3m-3 20h4m4 2h2m-13 2h2m22 0h2m-4 1h2m-11 1h2m4 0h2m-10 4h2m2 0h2m-1 1h2m8 0h2m-13 2h3m7 0h2m-10 1h3m33-36h3m1 0h3m-5 1h2m-5 5h2m2 1h2m1 3h2m1 2h2m1 2h3m-12 2h2m3 2h2m1 0h3m-4 2h4m-5 1h2m-3 9h4m1 0h3m-2 3h2m-7 2h4m11-35h4m8 7h3m-12 3h2m23 0h4m-40 12h2m1 7h4m59-30h2m-25 6h4m-3 0h2m-2 0h3m20 1h4m-2 2h2m-9 2h2m7 1h4m2 5h3m-6 1h2m-4 1h2m-1 0h2m-1 2h2m-4 1h2m4 0h2m-16 4h3m9 0h3m-2 0h4m-2 1h2m-3 1h2m-1 0h2m-11 2h2m-3 4h2m33-35h2m-2 0h3m1 0h3m-9 1h2m2 0h2m-2 11h4m-11 5h2m4 0h2m-12 2h2m-17 1h2m-1 2h4m-3 0h2m-2 1h2m5 6h3m-12 2h2m1 0h2m20 0h2m3 0h2m-27 1h2m24 0h2m1 0h2m-3 3h2m-9 1h3m-5 2h2m53-30h3m-5 5h2m-28 4h2m-4 3h2m-10 1h2m0 0h2m-1 1h2m-3 1h2m0 0h4m9 5h2m11 3h2m-26 3h3m-10 3h2m44-31h4m-3 0h2m2 0h2m1 0h2m-2 1h3m-1 0h3m2 1h2m0 1h3m-20 2h2m-7 21h4m-2 0h3m15 4h3m20-29h4m16 4h2m9 8h2m-21 13h4m6 6h4m15-36h2m24 0h2m4 6h2m-37 5h4m30 0h2m-28 1h2m-4 3h2m27 0h4m-32 1h2m3 2h2m-4 1h3m3 0h2m19 0h2m-21 1h2m5 0h4m-14 1h2m11 0h2m-19 1h2m10 0h2m-17 1h2m1 1h4m3 0h3m-7 1h2m-6 2h3m3 0h2m-11 2h4m3 1h2m-2 1h3m-19 2h4m20 0h4m2 0h4m-29 1h2m13 0h2m-4 1h2m-1 0h2m19-33h2m3 6h2m20 2h3m-16 1h4m-2 1h2m8 2h2m-6 1h2m-4 1h2m-15 1h2m5 0h2m1 2h2m15 0h4m-31 1h2m-2 0h3m27 0h4m-38 2h3m-3 1h4m7 1h4m-5 1h2m23 2h2m-17 4h2m17-33h3m18 0h2m1 2h3m-16 1h2m12 1h2m-22 3h2m2 0h4m10 0h2m34 48h3m-16 3h2m15 4h2m-14 2h2m-50-13h2m1 1h4m-34-13h2m13 3h2m-9 3h2m-3 8h4m-5 1h2m0 1h2m-2 3h2m-67-18h2m22 0h4m-8 4h2m3 0h2m-1 1h4m-12 2h2m0 1h2m-1 28h2m6 2h4m-48-35h3m-7 1h3m-5 4h2m10 11h2m-69 1h4m-6 2h4m14 0h2m14 2h3m-32 1h4m-40-25h4m-7 1h2m6 12h2m19 1h4m-8 1h4m0 4h2m-23 1h3m11 3h3m-19 15h3m-58-33h2m24 3h2m5 8h2m-11 1h2m6 4h3m-9 2h2m-61-21h2m21 1h2m0 1h3m4 2h4m-7 13h3m-39 6h2m33 0h2m1 1h2m-33 1h2m-3 3h2m1 1h2m-1 2h2m-6 1h3m-10-12h3m-5 3h2m-3 11h2m-76-28h2m9 2h4m13 0h2m-16 3h4m18 0h2m-11 9h2m0 3h2m-53-26h2m-1 2h2m6 0h2m6 8h3m-1 0h4m-43 19h4m2 8h2m-46-37h4m-1 1h2m-6 2h2m32 17h2m-3 3h2m-4 1h2m2 2h2m-28 7h2m-6 3h2m6 3h4m-49-39h2m16 5h2m-9 2h2m4 0h2m2 1h2m-10 5h2m-6 1h2m16 18h4m-5 3h2m-64-26h3m2 3h2m-12 2h2m-1 0h2m4 0h2m1 7h4m3 4h2m2 2h2m0 0h2m-7 2h2m-16 4h2m2 0h2m-12 1h2m1 2h4m-1 0h2m-5 1h2m1 2h3m-43-39h2m3 2h2m-3 4h2m-6 1h2m13 23h2m-1 4h2m-12 2h3m-48-36h4m0 22h2m-3 4h2m-1 10h2m10 1h2m-59-36h2m-13 2h3m14 0h2m-9 1h2m7 1h2m1 1h2m1 4h2m-4 1h2m-5 3h4m12 25h4m-57-39h2m-23 18h2m9 1h3m16 20h2m-74-36h2m9 9h2m-8 5h3m20 0h2m8 1h3m-39 4h3m21 0h3m0 2h2m-5 2h2m-16 3h2m17 6h2m2 0h2m-1 1h3m-67-34h2m-11 6h2m-1 2h2m4 2h2m6 6h2m-29-17h2m2 0h2m-32 32h2m-43-17h2m28 0h4m-29 2h4m25 14h2m-5 1h2m-4 1h2m-19 3h3m1 1h2m12 0h2m-74-31h3m-3 5h2m10 6h4m-31-17h2m-2 0h2m-1 3h4m-7 1h2m-14 3h4m2 0h2m0 2h2m-1 0h2m-1 17h3m10 0h2m-11 1h2m8 1h2m-154-28h2m-8 27h2m-1 8h2m-4-26h3m-6 1h2m-4 4h2m0 26h2m159 1h2m-6 2h4m-5 2h2m-20 17h2m-6 3h3m2 3h2m87-29h2m-2 1h3m-14 1h2m5 3h2m1 0h2m-10 1h2m5 2h4m1 1h3m-11 1h3m-5 2h2m-3 1h2m2 0h2m-14 3h3m8 0h2m52-8h2m-27 28h2m-1 0h2m-5 2h2m34-22h2m5 2h2m-6 6h4m22 2h2m-1 5h2m37-31h4m11 8h2m-4 4h2m-1 1h4m1 0h4m-11 2h2m70-12h2m-32 4h2m4 0h2m-10 6h2m-2 1h2m64-14h2m-1 0h3m-12 5h3m2 0h2m-1 3h2m39-8h2m-9 1h2m-1 6h3m2 0h2m-23 22h2m-5 9h4m40-38h4m48 0h3m5 2h2m8 0h2m-13 1h2m-1 0h3m8 1h3m-36 1h2m32 1h3m-3 2h3m-27 6h2m1 2h3m-11 9h2m5 1h2m17 1h2m-19 3h2m-14 1h2m35-27h3m-6 2h2m3 17h4m4 0h2m-5 2h3m1 4h2m11 0h2m-5 3h2m-6 1h2m-10 3h2m-10 1h2m52-6h2m17 1h2m-1 0h2m-6 2h2m-9 2h4m-9 2h4m6 0h4m-12 1h2m38-34h2m3 1h2m2 1h3m-12 1h2m-13 1h2m-11 6h2m-2 15h4m-4 1h3m42-17h2m-4 1h3m-7 2h2m91 5h2m2 3h2m16 0h2m2-25h4m-6 1h2m-1 0h2m-4 3h4m5 1h2m22 13h2m-2 2h2m-29 7h2m49-22h2m12 32h3m20-14h2m-10 3h2m4 0h2m-9 3h2m-3 6h2m51-32h4m-17 20h2m-4 4h2m0 0h4m1 0h2m46-4h2m1 1h2m-10 2h2m23 1h3m30-24h3m-30 11h4m-1 7h4m-5 1h4m-7 1h2m5 0h2m4 0h3m-5 1h2m-3 1h2m-2 0h2m-11 2h2m0 1h4m-4 5h2m83-20h3m-3 1h2m-1 1h4m-13 51h2m-1 3h2m-6-1h3m-5 4h4m-117-15h2m-17 2h3m-1 0h2m-12 2h2m14 1h2m-78-21h2m11 32h2m-18-28h2m-3 4h2m-24 11h2m-89-10h2m-46-8h3m-86-1h2m-2 1h2m1 8h2m-2 2h2m-18-7h2m1 0h2m-2 1h2m-1 2h2m2 2h2m-29 10h2m1 10h2m-1 4h2m-39-32h2m-94 12h3m-1 2h3m24 12h2m-11 6h2m3 2h3m-104-36h2m-7 1h2m33 1h2m-75 15h2m1 0h2m27 8h2m-8 6h2m-12 6h2m-25-22h2m-3 2h2m-2 2h3m-5 3h2m0 2h4m-72-19h2m-6 1h2m9 0h3m-24-3h2m-37 7h2m-60 4h2m-9 2h2m3 3h2m-21 1h4m11 0h2m-2 2h3m3 0h2m-28-7h2m0 0h2m-7 1h2m0 2h3m-2 1h2m-8 1h2m1 0h3m-2 0h2m-56-6h4m1 3h2m4 3h2m-43 14h2m-101-13h4m0 1h2m-21-11h2m1 3h2" stroke="#5000d0" stroke-opacity=".55" stroke-width="2.4"/>
<path d="M213 822h2m141 6h2m-5 2h3m5-6h2m2 5h2m0 4h2m-5 2h2m801 19h2m-408 2h4m-128 21h2m-111-17h2m-125 9h4m-22 4h4m-51 3h3m-16 1h2m-151-26h3m-15 11h3m-42-14h2m-48-7h2m-10 1h2m-1 2h2m-36 45h2m10 10h2m2 2h3m9 6h2m3 5h2m4 0h4m121-23h2m97 29h2m33-37h2m24 2h2m45 1h2m13 10h3m0 0h2m-3 2h4m6 3h2m79-8h4m-4 3h2m1 3h2m17 10h3m13 10h2m36-35h4m-7 2h4m39-4h2m-12 2h4m-28 2h2m-2 1h2m44 1h2m4 3h4m-9 4h4m0 1h2m16 6h2m-7 1h2m6 3h3m-3 3h2m35 4h2m-27 8h2m56-27h2m5 1h2m-3 1h2m-11 1h2m-2 10h2m0 13h4m-2 1h4m12-27h2m65-11h2m1 7h2m32-7h2m-1 0h2m42 35h2m124-17h4m-22 6h2m2 2h4m9 9h2m1 0h2m-9 2h2m41-34h3m73 36h2m2 32h2m-7 2h2m0 0h3m-2 2h2m-112-15h2m-18-20h3m-26 12h2m2 3h2m-2 4h2m-1 19h3m-41-9h2m23 3h2m-5 2h4m-48-32h2m-50-2h2m7 7h3m-65 17h2m-5 3h2m11 3h2m-34-16h2m-2 0h2m2 0h2m3 0h2m-30 1h3m28 1h3m0 1h2m-7 7h2m-41-15h3m-2 10h2m-56-20h3m-3 2h2m-2 5h2m-67-7h2m-6 3h2m3 1h4m-40 23h2m0 4h2m-15 0h2m-38-28h2m2 0h2m-19 12h4m-43-11h3m13 4h2m-74 9h4m-6 4h2m-70-18h4m-3 0h3m-9 2h2m7 0h2m-8 1h2m4 2h2m9 14h2m-69-20h2m17 17h2m-9 1h2m4 4h2m-2 1h2m-7 1h4m4 0h4m-23 2h2m-4 2h4m-10-26h2m-28 14h3m-4 5h2m-13 1h2m10 0h3m-44-19h2m-17 2h3m-53-3h2m-140 31h2m-2 5h2m13 9h2m0 3h4m-4 4h2m103 15h4m-6 4h2m1 0h2m-7 2h2m136-23h2m25-14h3m39 4h3m5 3h2m-6 2h2m-2 6h2m1 0h4m124-12h2m3 3h2m59 22h2m-1 2h4m-8 6h4m44-29h2m-16 24h2m215-10h4m43 18h4m29-6h4m6 3h2m41-24h2m-17 3h2m13 1h3m-8 1h2m1 0h2m-1 1h2m-3 1h3m-1 1h3m-10 3h2m37-20h2m36-1h2m10 1h2m4 0h2m28 27h2m-8 3h2m5 2h3m-5 2h3m27-24h2m-6 22h4m0 2h3m-12 1h3m-40 18h4m9 16h3m-59-2h3m-6 3h4m-7 1h2m24 5h3m-112-22h2m-3 7h3m-67-2h4m7 2h4m-32 5h3m26 2h2m-35-2h2m-106 4h2m-6 4h2m-47-34h2m1 0h2m-1 4h2m-25 6h4m4 1h2m-32 16h2m-5 4h2m5 1h2m-32-16h3m-64-14h4m-9 15h4m-5 5h2m4 1h3m-11 3h4m-42-26h2m-50 15h3m-49 15h2m-255-33h2m3 16h2m-7 1h2m3 15h2m-122 19h2m89 2h4m-13 7h2m-7 7h2m295-18h3m0 6h2m3 0h4m1 17h4m27-2h2m-23 2h4m-6 1h2m9 1h3m16 1h2m-12 3h4m2 0h4m2 0h2m-30 1h4m49-12h4m34-25h3m-3 2h2m-1 0h2m-4 4h4m-3 1h2m57 4h2m16 16h4m-1 0h2m-21 3h2m1 0h2m-2 5h2m-3 1h4m38-7h2m-3 1h4m7 2h3m-2 3h2m3 0h2m91-17h4m-2 19h2m20-6h2m2 3h3m-12 1h2m90-37h3m3 38h3m39-34h3m-16 6h2m36 18h3m55-13h2m-4 8h2m2 4h3m-12 11h2m45-37h2m-3 1h2m1 1h4m-19 1h3m-23 22h4m-1 1h2m0 2h2m3 1h2m40-29h4m0 2h3m10 16h3m50 21h4m-5 12h2m-10-12h3m-37 7h2m34 0h2m-54-4h2m-21 1h4m2 0h2m7 1h4m-7 2h3m9 1h3m-7 3h2m-63 16h4m-5 1h2m-2 4h3m-10 2h2m-50-4h2m-47-10h4m-8 1h3m0 4h2m-24 3h2m2 7h2m-1 4h2m-23-38h3m-10 1h3m0 3h2m4 2h2m-44 7h4m-57-14h2m21 10h4m-74-9h3m-6 1h2m30 7h2m-24 2h4m0 12h3m5 0h2m-2 2h2m-54-16h2m-11 8h3m-6 2h2m12 1h2m0 1h4m-21 2h2m11 0h2m-6 1h2m-33-23h3m17 6h2m-2 7h2m-3 1h2m-155-11h3m28 35h4m-62-30h3m-32-8h2m4 4h2m-31 23h2m-18 2h2m-4 1h2m-5 4h4m-113-3h3m-213 24h2m77 20h4m-13 1h2m4 1h2m129-35h2m12 10h3m9 3h2m-11 1h3m-3 0h2m21 19h2m19-30h2m2 3h2m-10 2h4m33 2h3m-8 1h4m-4 0h2m5 1h4m-2 4h2m5 0h2m-13 1h3m4 1h2m4 5h2m63-6h2m0 1h4m59-15h2m-1 0h4m-13 17h2m12 6h2m-13 1h2m13 3h2m4-32h2m31 15h2m-12 2h3m2 0h2m-35 8h3m1 0h4m88-24h2m-9 4h2m0 30h2m-8 1h2m126-22h3m-13 11h2m66-23h2m-1 7h3m-23 28h2m46-38h4m-16 3h2m3 0h3m24-3h2m7 1h2m28 9h4m-3 0h4m32 23h4m-2 0h2m-7 1h4m0 0h2m2-2h3m2 7h2m34-27h2m7 3h3m-12 1h3m11 4h2m4 3h3m9 0h2m-10 4h2m-18 9h2m51-24h2m-1 2h4m-9 1h2m-21 6h2m71-19h2m-13 34h2m-14 6h2m-11 24h2m16 0h2m-57-9h2m-5 3h2m0 1h3m31 2h2m-33 1h2m17 1h4m-28 8h3m1 3h2m-6 1h2m-8-20h4m-31 17h2m6 3h2m-2 1h2m-55-37h2m4 1h3m-3 2h4m-9 4h2m19 22h4m-10 7h2m-22-35h2m-4 7h4m-7 3h3m-29 14h2m8 0h4m-9 5h2m-12 2h2m15 1h2m-49-13h3m19 1h2m-8 1h2m6 2h2m-11 4h2m1 0h2m5 0h2m-27 3h2m22 2h3m-32 4h2m-20-20h2m-60-18h2m7 1h2m-14 17h3m24 2h2m-22 2h2m14 0h2m4 5h2m-69-23h2m1 0h2m-9 1h2m13 2h2m-11 4h2m-1 17h4m-52-8h2m-7 18h2m5 1h2m-28-25h2m-14 23h3m-1 2h2m-41-39h2m-10 1h4m12 3h2m13 23h3m-71 10h2m-88-34h2m1 3h3m-3 0h4m-8 6h2m-40 10h2m1 2h2m-8 1h2m1 4h2m-34-9h2m25 4h2m-3 1h3m-38 2h2m26 0h2m-8 2h2m-14 3h2m0 2h2m5 1h2m-42-15h3m12 16h2m-5 2h2m-69-35h2m-8 8h3m11 4h2m1 6h2m-9 6h4m-41-20h2m23 3h2m-25 3h4m-5 8h2m22 5h2m-14 4h2m-54 5h3m-121-33h2m2 0h2m-19 24h2m-158-12h2m-4 2h2m0 5h3m69 22h4m-5 4h2m108-2h4m-2 1h2m125-4h2m-24 1h2m-11 21h3m-5 2h2m103-10h4m5 0h2m-5 4h4m39-15h4m-32 10h2m-5 4h4m11 18h2m1 0h2m32-31h2m-10 2h3m47 12h2m45-2h4m-20 2h2m3 6h2m-1 4h2m29-28h2m-2 3h2m8 3h2m-4 4h2m-4 1h4m5 8h2m-4 3h4m7 14h2m36-21h3m4 5h2m-22 16h2m40-26h2m-5 2h2m-1 1h3m-3 0h3m13 2h2m-11 1h3m8 15h3m21-31h2m19-1h2m17 1h2m-7 1h2m18 11h3m25-12h2m1 3h2m-20 1h2m1 1h2m-7 4h2m-1 0h3m-1 1h2m27 7h2m-7 6h2m-1 1h4m1 4h3m34-10h2m-6 5h2m-27 1h2m25 1h2m-8 1h2m-19 9h4m42-25h2m-7 1h2m5 0h3m-10 1h2m-6 2h2m11 0h3m-20 6h2m24 2h2m5 2h4m34-26h2m-2 4h2m-20 5h2m16 0h4m-27 1h2m-13 5h2m-2 0h2m4 1h3m-1 2h2m1 1h2m-10 7h2m5 2h2m-13 3h3m-2 0h2m0 0h4m-4 1h3m-4 5h2m59-32h4m-16 2h2m4 6h2m-3 13h3m-9 1h4m56-7h2m-6 2h2m20-21h2m13 1h4m4 0h4m-20 1h2m7 1h3m2 3h2m98 47h2m-149 4h3m8 3h2m0 9h4m-147-2h2m-7 1h2m-12 2h2m-71-6h2m3 2h3m21 12h4m-44-18h2m-2 1h4m-29 2h2m12 5h2m-10 1h2m-31-30h2m3 2h2m-14 2h2m15 18h2m-6 2h2m1 2h2m-81-24h3m-28 34h2m-4 1h3m-4 2h2m-33-18h4m-61-20h2m19 37h2m3 0h3m-83-25h2m3 1h2m-14 5h4m-40-17h2m9 2h2m-144 25h2m-214 10h3m-37-38h2m3 4h2m-9 1h2m1 5h2m-18 49h2m-4 5h2m-32 9h3m-4 3h4m55-19h4m-2 3h3m-16 2h2m9 2h2m-5 2h4m0 2h2m15 4h3m-3 4h2m1-5h2m-1 5h3m66-28h2m6 5h2m3 4h4m-4 1h2m1 20h2m87-7h2m-15 1h2m5 2h4m42-13h2m58-18h2m-5 2h2m1 2h2m-11 5h2m1 0h2m-2 7h2m5 18h3m0-26h2m34 10h2m-1 4h3m37-22h2m-14 21h2m-27 1h2m19 1h4m-8 2h2m-15 7h4m-8 3h2m6 0h2m66-32h2m-38 22h2m-2 7h3m53-24h2m14 4h2m-23 1h4m17 12h2m-1 0h4m35-28h2m-2 1h3m-6 2h4m-12 6h2m14 11h2m-39 4h3m14 1h4m-11 2h3m-2 0h3m19 0h2m55-28h2m0 0h2m16 13h3m-5 1h2m1 0h2m-18 3h2m-5 5h2m-2 3h3m27-25h2m9 1h2m8 0h2m-17 5h3m13 22h4m8 2h2m33-22h3m-6 2h2m-11 13h4m1 5h4m4 1h4m-9 3h2m-8 1h3m0 2h2m29-30h2m-4 1h2m3 1h4m1 2h2m-10 1h2m-12 22h2m-5 3h4m52-24h2m2 1h2m9 1h2m-16 2h2m0 2h4m-18 17h2m7 2h2m0 0h4m-9 1h4m39-34h2m58 20h2m21-21h2m-17 13h2m1 4h2m1 12h3m4 2h4m5 2h4m37-18h2m-16 18h2m-2 0h2m-10 2h2m99-27h2m8 7h2m-23 9h4m44-24h2m5 0h2m2 4h2m-5 1h4m-6 4h4m27 23h2m27 3h2m-11 42h2m-16-2h2m-55-8h2m3 0h2m0 0h2m4 3h4m-12 1h2m-2 2h2m0 1h3m-34-34h3m-60-1h3m-2 0h4m0 3h2m-16 5h2m1 1h4m-2 14h2m-1 1h4m-7 4h4m-6 3h2m-1 0h3m-1 5h2m0 1h2m-39-38h2m-2 0h2m-13 13h2m35 22h4m-64-34h4m-6 4h2m14 12h3m4 1h2m-80-14h3m21 33h2m-43-27h3m4 3h2m-8 1h2m-21 15h4m-9 4h2m9 1h2m-37-33h4m-17 10h2m33 18h3m-71-13h3m-13 1h4m19 18h2m-35-25h4m-3 4h2m-1 2h2m-1 2h2m1 1h3m-3 14h4m-18 4h4m-35-34h4m-14 18h2m-4 15h2m-168-34h4m2 6h2m-5 2h2m6 17h2m-6 1h3m-9 1h3m-57 9h3m-1 0h2m-2 1h2m-41-23h2m19 6h2m-51-16h3m14 0h3m-27 2h4m-2 0h2m-9 2h2m11 0h2m-10 1h2m5 14h2m7 2h4m-26 7h2m10 3h2m-53-36h2m-4 8h3m-3 3h4m-1 22h2m25 3h2m-41-26h4m-2 1h2m-3 8h2m-23 1h2m3 2h4m-1 0h4m-11 6h2m4 3h2m15 1h2m-74-15h2m22 9h3m-57-11h4m3 4h2m12 0h2m-20 6h4m-46-4h2m4 13h2m-25-11h2m-29 6h2m6 1h4m-8 1h2m-3 3h2m-6 2h2m9 2h2m-56-22h3m6 0h2m-4 5h2m-2 6h2m-11 7h4m3 2h2m-94-34h2m19 6h4m-1 0h2m-4 2h2m0 3h4m-38-11h2m36 50h2m-9 4h2m-4 5h2m4 1h2m23-12h2m10 3h2m29-13h3m2 7h2m-5 5h2m47-11h2m5 0h3m-27 2h2m5 1h4m6 0h3m-12 3h2m-6 1h4m-2 0h4m-2 2h2m15 0h2m-18 7h4m37-18h2m1 14h4m-15 3h4m2 0h2m-12 8h2m-4 2h2m3 3h2m67-21h2m-7 5h2m1 22h2m2-32h3m-2 6h2m-1 0h2m19 8h2m-8 1h2m-3 3h2m-1 1h4m-19 5h4m64-26h2m-12 4h2m-5 23h2m32-28h2m-6 4h2m-7 5h3m3 1h3m-1 1h2m24 22h4m18-30h4m-12 1h2m4 27h2m-2 5h2m-4 1h4m3 1h2m56-39h2m-9 30h2m-8 4h2m38-31h2m-19 1h2m0 0h2m-6 6h3m22 4h2m-10 13h3m41-14h4m-12 3h2m7 2h4m-9 2h3m25-3h2m2 2h2m-1 0h2m-2 1h2m-15 2h2m7 0h2m-5 2h3m-2 2h2m-3 1h2m-11 8h2m2 1h4m-7 1h2m87-16h2m11 5h2m-1 5h2m25-17h2m2 2h4m13 18h3m10-19h2m12 4h2m49-14h2m-27 15h2m-4 9h2m106 0h4m35-29h4m-7 36h4m85-30h2m10 6h3m0 2h2m7 2h2m-4 4h4m0 0h2m12 14h3m22-30h2m-5 1h3m8 12h2m-21 9h2m3 12h4m51-24h2m-32 2h2m10 3h2m14 0h3m-16 3h4m1 0h2m-4 2h2m-9 2h2m5 0h3m-5 10h2m54-35h2m-10 3h4m11-2h3m0 48h2m-26 11h2m6 5h2m-22 9h2m1 2h2m-6 2h4m-30-33h2m-14 1h3m20 29h2m-66-35h2m2 2h2m-6 7h2m-9 6h3m4 0h3m13 1h2m-8 2h2m0 0h2m-2 1h4m-19 8h3m2 6h2m12 4h3m-18 1h2m-36-35h2m23 6h2m-37 1h2m-3 7h2m19 4h2m-40-15h2m-10 1h2m-19 3h2m11 0h2m5 3h2m1 2h3m6 1h2m-3 6h2m-5 1h4m-9 2h2m10 2h2m0 0h2m-43-15h2m-13 2h2m10 1h2m-30 12h4m-14 2h2m7 0h3m-11 7h2m-6-6h3m-10 3h3m-4 4h2m-89-2h2m-45-30h2m-19 27h4m-4 5h2m-27-3h2m-57-35h2m-1 14h2m13 9h4m0 6h2m-17 1h2m-26-28h3m-17 10h2m-46-4h2m21 6h4m-9 4h2m-8 2h2m-66-17h2m-19 1h3m-1 3h2m6 0h2m-6 17h2m-16 13h2m-21-31h4m-31 29h4m-6 3h4m-37-24h4m10 5h2m-19 2h2m-4 1h2m6 4h3m3 12h2m-102-36h3m-10 1h2m-21 5h3m2 1h2m-4 4h2m-5 1h3m-32-12h2m-46 0h2m-10 4h4m26 5h2m-18 16h2m-4 1h2m-5 1h2m0 0h4m-4 1h2m-7 4h2m1 1h2m-24-31h2m-31 9h2m-2 14h2m2 1h3m1 8h4m-15 3h4m5 0h4m-18-38h2m-10 3h2m-12 2h4m-61 2h2m3 0h2m-10 2h2m-1 1h3m-4 9h4m-11-4h2m-24 13h2m2 0h3m-28-11h2m-3 7h4m-47 21h4m15 27h2m11 1h4m-9 4h2m61-34h2m-6 4h2m-6 3h2m8 4h2m-1-9h2m18 19h2m53 10h2m-8 1h2m-1 2h3m19-32h3m10 1h2m-9 2h3m63 1h2m3 5h2m13 3h2m5 1h2m-12 5h2m42-21h2m7 7h2m-8 9h3m-21 6h2m-9 2h2m31 4h4m72 2h2m0 4h2m-1 0h3m57-5h3m-7 1h2m56-8h4m-6 5h3m-8 1h2m61-31h2m107 1h3m-5 5h2m-15 2h3m3 3h2m-14 2h2m43-13h4m14 16h2m1 8h2m-36 11h2m49-24h2m19 6h3m-38 2h3m29 4h2m-29 3h2m-5 2h4m-2 3h2m53-29h3m-1 2h2m-25 14h2m52-7h4m0 3h3m2 0h2m-6 5h2m-1 9h2m11 10h3m15-24h4m-9 2h3m-8 11h3m27 3h2m-11 7h2m17-14h2m34 1h2m-39 1h4m4 1h3m-2 1h2m-1 8h2m35-34h2m-1 5h2m3 19h4m-17 2h2m29 5h4m2 2h2m-38 3h4m30 0h2m-24 1h4m17 1h4m36-13h2m-23 8h2m-12 2h2m-1 1h3m18 1h4m-29 1h2m-1 0h2m50-39h2m3 0h2m2 0h2m2 1h2m-28 22h2m0 0h4m4 1h2m-6 3h2m-3 2h2m54-27h2m-11 1h2m13 3h2m-5 1h2m-11 4h2m23 35h2m0 3h4m1 2h2m-12-2h4m-12 6h3m-49-11h2m3 1h3m-71-5h2m18 0h4m-39 25h2m-12 3h2m7 0h2m-1 2h2m-3 1h2m-5 2h2m-47-25h2m-4 2h2m-7 1h2m11 2h2m-15 1h3m9 3h2m-21 4h4m20 1h4m-29 1h2m5 11h2m-6 1h2m0 3h3m-44-29h2m-40-5h3m-8 4h4m-3 0h2m1 3h4m25 4h2m-11 6h3m-25 4h2m1 6h2m-15-20h4m-53 7h2m9 3h2m-17 3h3m0 0h2m-51-18h2m-16 6h2m-2 0h2m9 4h2m1 0h2m-11 18h2m9 0h2m-9 2h3m-19-31h3m-4 3h2m-2 4h4m-68 27h2m-37-21h2m5 2h2m-4 4h4m-9 1h2m-3 4h2m6 7h2m-34-12h2m-11 2h2m-46-22h2m-5 1h2m-1 0h2m11 21h4m-56-4h2m-4 4h3m-4 1h2m2 0h4m-43 0h2m-10 7h4m-20-31h3m-36 20h2m-2 5h3m34 1h2m-38 1h2m34 2h4m-9 1h2m-4 6h2m-70-19h2m29 9h2m-12 6h2m-62-30h2m11 1h2m-21-1h3m-43 14h2m-91-19h4m-8 1h4m3 1h2m1 1h2m-24 67h2m4 3h2m-4 1h3m144-28h3m-1 4h3m81 6h2m10 2h3m-20 1h2m72-18h4m-4 2h2m-9 1h4m-2 0h2m-30 5h3m-5 7h2m56-14h4m-4 0h2m8 4h2m-9 1h2m-7 19h4m19-5h2m11 18h2m31-21h2m-1 7h3m46-25h2m-12 4h2m68 6h4m-13 16h3m2 1h4m-30 7h2m-1 2h3m-3 1h2m-1 2h2m5 0h2m21-32h3m30 10h2m3 2h2m34-14h3m2 0h3m-15 2h2m10 2h2m-17 3h2m-25 7h2m38-11h2m-1 0h2m142 6h2m-15 13h3m59 1h2m12-5h2m-5 1h3m101-3h3m6 1h2m-22 4h3m-2 0h2m2 1h3m94 41h2m-155-22h4m0 0h2m-53 3h2m-7-8h4m-12 2h3m-98 8h2m-134-6h2m-2 0h2m-2 0h3m11 0h2m-74-5h4m-15 6h3m-158-4h2m-29 26h2m0 1h2m-105-28h3m2 0h2m-20 0h2m-26 11h2m3 0h2m-9 3h2m-5 1h4m-21-1h2" stroke="#0a00ff" stroke-width="2.4"/>
<path d="M336 895h3v3h-3zM421 887h2v2h-2zM356 879h3v2h-3zM378 888h3v2h-3zM289 890h3v2h-3zM378 885h2v3h-2zM305 887h3v2h-3zM747 883h4v2h-4zM922 894h2v3h-2zM901 900h3v2h-3zM900 877h3v2h-3zM830 869h3v2h-3zM856 855h2v2h-2zM752 904h3v2h-3zM925 919h4v2h-4zM808 845h3v2h-3zM858 918h3v2h-3zM937 1555h4v3h-4zM635 1566h3v2h-3zM239 1545h4v2h-4zM252 1564h4v2h-4zM746 1551h3v3h-3zM394 1569h2v2h-2zM60 1567h2v3h-2zM174 1582h4v2h-4zM580 1565h3v2h-3zM346 1572h3v3h-3zM866 1561h2v3h-2zM590 1581h4v2h-4zM422 1542h2v2h-2zM761 1550h3v2h-3zM432 1576h3v2h-3zM643 1571h2v2h-2zM1168 1547h2v2h-2zM1147 1399h4v2h-4zM1165 1550h3v3h-3zM1144 1349h2v2h-2zM1164 1274h2v2h-2zM1169 1232h2v3h-2zM1153 1412h4v3h-4zM1149 1414h3v2h-3zM1168 1323h2v2h-2zM1157 1359h4v2h-4zM1170 1348h2v2h-2zM1164 1468h2v2h-2zM1168 1420h3v3h-3zM1078 1410h3v3h-3zM555 1438h2v3h-2zM890 1367h3v2h-3zM835 1379h2v3h-2zM439 1437h4v2h-4zM665 1457h2v2h-2zM475 1356h4v3h-4zM696 1401h4v2h-4zM669 1413h2v3h-2zM806 1405h2v2h-2zM632 1434h2v2h-2zM824 1366h3v2h-3zM643 1404h2v2h-2zM417 1248h2v3h-2zM745 1351h2v3h-2zM789 1254h2v3h-2zM242 996h2v2h-2zM762 1220h2v2h-2zM815 1064h2v3h-2zM489 1214h2v2h-2zM566 1224h2v3h-2zM298 1272h4v3h-4zM493 1190h4v2h-4zM178 1105h2v2h-2zM63 1175h3v2h-3zM163 939h3v2h-3zM352 922h2v3h-2zM1158 1362h2v2h-2zM1002 1252h2v2h-2zM1042 994h3v2h-3zM536 1534h2v2h-2zM860 1041h2v2h-2zM1153 883h2v2h-2zM183 1297h3v3h-3zM208 1506h2v3h-2zM241 1023h3v2h-3zM1029 1215h2v3h-2zM1119 1243h2v2h-2zM1113 1565h3v2h-3zM449 1438h3v2h-3zM758 1545h2v3h-2zM439 1446h3v3h-3zM99 1326h3v3h-3zM931 1348h3v3h-3zM686 1404h2v3h-2zM648 1415h2v3h-2zM593 991h2v3h-2zM801 1298h2v2h-2zM349 975h2v2h-2zM259 1592h2v2h-2zM682 1201h2v2h-2zM588 1174h2v3h-2zM832 1360h2v2h-2zM510 1562h2v2h-2zM539 1036h2v2h-2zM984 1447h3v3h-3zM772 1241h2v2h-2zM92 906h2v2h-2zM549 1309h3v3h-3zM61 1066h3v2h-3zM830 1172h2v3h-2zM643 1121h3v2h-3zM222 1185h2v3h-2zM1025 1160h3v3h-3zM332 827h2v2h-2zM488 1305h2v2h-2zM132 867h2v2h-2zM1133 942h2v2h-2zM66 1187h3v2h-3zM966 915h2v2h-2z" fill="#ffa020" fill-opacity=".8"/>
<path d="M313 899h2v2h-2zM358 894l-2 0 -1 -2 0 -2 3 2zM258 872h2v3h-2zM419 882l1 -3 2 0 1 2 -1 2zM293 913h4v3h-4zM412 873h3v3h-3zM353 889h4v2h-4zM377 874l-4 0 1 -2 2 -2 2 2zM358 870l-2 -2 4 -2 1 2 -1 3zM346 859h3v2h-3zM397 883h3v3h-3zM385 888l-2 2 -2 -2 1 -2 3 0zM330 879h3v2h-3zM820 873h4v3h-4zM913 843h3v2h-3zM816 863l-2 -1 -3 -2 2 -3 2 4zM791 884l1 -5 4 0 4 1 -6 4zM777 861h3v2h-3zM887 849h4v2h-4zM826 870h3v2h-3zM894 838h2v2h-2zM864 881l-3 1 -3 -1 0 -3 4 1zM856 902l-1 -1 -1 -3 2 0 1 3zM865 839h2v3h-2zM907 874h3v2h-3zM886 893h4v2h-4zM916 873h4v3h-4zM914 846h2v2h-2zM878 893h2v3h-2zM866 863h2v2h-2zM822 844h3v3h-3zM813 902h2v3h-2zM821 834h2v2h-2zM535 1568l-3 -2 2 -4 2 -2 1 5zM159 1584h2v3h-2zM731 1553l2 -3 4 -4 1 1 -4 5zM856 1567l-2 -2 2 -1 1 2 1 3zM1018 1554h2v2h-2zM913 1555h2v2h-2zM875 1563h2v2h-2zM653 1559h3v2h-3zM198 1562l-2 -1 1 -3 1 -1 1 4zM473 1562l-2 -3 1 -5 3 1 1 4zM258 1548h3v2h-3zM149 1575h3v2h-3zM462 1575h2v2h-2zM536 1549h2v2h-2zM544 1564h2v2h-2zM639 1564h3v3h-3zM698 1583l-1 -3 -1 -3 4 0 0 2zM930 1579h3v2h-3zM881 1571h2v2h-2zM1074 1567l-2 0 -3 -5 0 -4 6 7zM335 1574l1 -5 5 -2 1 3 -4 2zM147 1584h2v2h-2zM1123 1575l-2 -1 3 -3 3 -2 0 6zM507 1554h3v2h-3zM297 1558h3v3h-3zM667 1581h3v3h-3zM1166 1583l-1 -3 3 -5 1 1 0 4zM445 1587l-3 0 3 -7 2 1 -1 6zM255 1577h2v2h-2zM339 1546h3v2h-3zM938 1549h2v3h-2zM500 1590h2v2h-2zM391 1557h3v3h-3zM403 1591h3v2h-3zM447 1559l-3 -1 2 -3 1 -2 3 3zM301 1580l-1 -3 1 -2 2 1 0 1zM583 1548l-2 -2 1 -3 3 0 0 2zM665 1522l-2 -2 2 -2 1 1 1 1zM896 1533l0 -2 5 -2 -1 2 -2 3zM618 1567l-2 1 -3 -3 1 -1 3 0zM453 1551h4v2h-4zM309 1591l-1 3 -5 -3 2 -2 4 0zM519 1580h3v2h-3zM730 1533h3v2h-3zM740 1541l-2 -3 -1 -4 2 -1 2 4zM604 1554h2v2h-2zM1089 1586h2v3h-2zM663 1595l2 -2 2 -1 0 2 -1 2zM1144 1563l-3 -1 2 -7 2 1 1 4zM588 1556h3v2h-3zM726 1540h3v2h-3zM775 1561h3v2h-3zM592 1582l0 -4 2 -1 3 3 -1 2zM812 1575l-2 3 -2 -2 1 -3 2 -1zM614 1546h4v3h-4zM307 1543l-1 -3 2 -1 2 2 -1 1zM959 1566l-4 -1 -1 -3 3 -2 2 2zM1162 1350h2v3h-2zM1168 1316l-2 -2 -1 -2 3 -1 1 3zM1123 1286l2 -2 4 1 0 2 -2 0zM1153 1363l1 -3 1 -1 3 3 -2 4zM1145 1535l-3 1 -3 -5 4 -1 2 3zM1147 1342l-1 -2 2 -3 1 1 -1 3zM1152 1580h4v3h-4zM1150 1477h4v3h-4zM1166 1210h3v3h-3zM1170 1471h2v3h-2zM1161 1373h3v2h-3zM1163 1444l0 2 -4 -2 -1 -2 3 0zM1161 1518l-4 -3 3 -3 2 3 0 2zM1160 1317l-2 -1 0 -3 2 -2 3 3zM1146 1338l-3 3 -4 -3 1 -2 3 0zM1159 1396h2v3h-2zM1162 1254h3v3h-3zM1146 1462h2v2h-2zM1155 1519l-3 2 0 -3 1 -3 2 1zM469 1444h2v3h-2zM588 1411h4v3h-4zM936 1467h2v2h-2zM999 1448h4v2h-4zM494 1442l3 -1 3 -1 2 6 -6 0zM785 1411h2v2h-2zM598 1389h3v2h-3zM640 1413h3v2h-3zM889 1421h3v3h-3zM765 1368h3v2h-3zM507 1407l0 -4 3 -2 3 0 -3 3zM729 1429h4v2h-4zM789 1422h3v3h-3zM640 1403h2v2h-2zM772 1438h3v2h-3zM855 1482h2v3h-2zM93 1580h3v2h-3zM109 1570h2v2h-2zM98 1548l1 -4 3 0 1 6 -4 -1zM83 1561h3v3h-3zM97 1584l1 -3 7 0 -2 2 -2 1zM85 1560l1 -3 2 -2 2 0 -2 5zM61 1547h3v2h-3zM74 1538l-1 3 -6 -1 1 -4 4 -1zM55 1561h2v2h-2zM71 1584l-2 -3 1 -4 4 2 -1 2zM73 1572l-3 -1 4 -5 3 1 -1 5zM40 1558h3v2h-3zM84 1563h2v2h-2zM101 1566h2v2h-2zM561 1241h3v2h-3zM693 1308h3v2h-3zM372 1300h2v2h-2zM832 1226h2v2h-2zM707 1142h3v3h-3zM774 1205h2v2h-2zM937 1143h3v2h-3zM888 1049h2v2h-2zM202 1285h2v3h-2zM491 1360h2v3h-2zM413 1045h3v2h-3zM633 1239h4v3h-4zM326 1119h3v3h-3zM651 1099h4v2h-4zM603 1126h3v3h-3zM385 1066h3v3h-3zM891 1088h4v3h-4zM491 1197l-1 -2 3 -3 2 2 -2 4zM323 1215h2v2h-2zM76 1165h3v2h-3zM396 1326h4v2h-4zM304 1191h4v2h-4zM1045 1200h3v2h-3zM154 1199h2v2h-2zM419 1177h2v3h-2zM642 1069h3v2h-3zM1078 1207h2v2h-2zM529 1383h3v3h-3zM816 1222h2v2h-2zM735 1447h3v2h-3zM33 1489h2v3h-2zM855 1303h2v2h-2zM63 1005h2v2h-2zM1043 1185h2v2h-2zM402 1123h2v2h-2zM942 1310h3v3h-3zM226 1325h2v3h-2zM168 1140h2v2h-2zM982 1493h2v3h-2zM591 1566h3v2h-3zM971 1458h2v3h-2zM984 1585h3v2h-3zM191 1432h3v2h-3zM116 895h2v2h-2zM1114 1303h3v2h-3zM512 1319h2v2h-2zM619 906h2v2h-2zM734 1579h2v3h-2zM1076 1526h3v2h-3zM356 1272h3v3h-3zM430 1072h2v2h-2zM756 1340h2v2h-2zM49 1565h2v2h-2zM630 998h3v2h-3zM619 1557h2v3h-2zM778 851h2v2h-2zM584 1017h2v2h-2zM41 1528h2v2h-2zM28 1557h3v2h-3zM30 1477h2v2h-2zM213 939h2v3h-2z" fill="#ff0"/>
</g>
<rect x="1193.00" y="821.00" width="1148.00" height="777.40" fill="#0000ff"/>
<clipPath id="cpd"><rect x="1193" y="821" width="1148" height="777.4000000000001"/></clipPath>
<g clip-path="url(#cpd)" shape-rendering="crispEdges" stroke-linejoin="round" stroke-linecap="round">
<path d="M1297 1151l-3 0M1523 1582l7 4 -2 1M1893 1068l-13 2M1974 1255l8 3M1319 1288l0 4M2144 946l5 12M2217 978l7 3 5 -1M1829 1163l0 7 3 -1M1289 1032l3 3 -2 4 -4 1M1525 1209l-6 4M1913 1391l-4 1M1976 1359l2 0M2227 1046l3 8M1659 1006l7 3M1299 1518l2 10 3 -2M1232 1083l7 5M1893 1517l-2 0 0 2 5 -1M1569 1069l0 3 -1 1M2082 1337l5 4 4 0M1959 1145l2 7 -8 0 -2 -2M2080 922l-2 4M1633 916l5 1M1780 863l-4 7M1325 1233l-7 1M1883 1223l-4 1 -1 -3 -2 0M2315 1365l-2 3M2038 872l6 4M1633 1012l2 0M2170 1301l8 1M1873 1565l3 3 -3 2M2312 1383l6 3 3 -1M2219 1076l-10 3 -1 3 4 1M1434 1353l-2 2M1745 1447l5 5 -3 5M1681 1598l-2 4M1557 1053l-2 2 -3 -5 3 -3M1738 1141l8 6 2 0M2241 861l2 0M1548 865l-5 1M1609 1259l-12 6 0 -4M1619 1181l-2 7 2 1M1371 1031l-6 4 -5 0M1369 1220l-1 5M1488 977l-6 0M1740 1498l-1 4M1380 1109l1 2M1630 1405l-3 0M1802 1238l2 2 1 6M1725 1006l-6 3M1479 1149l7 2 5 -4M1451 1148l-4 9M1232 1319l-2 6M1906 1015l6 5 1 8 3 3M1379 1561l0 7 -2 -1M1402 1310l-2 7M1987 829l13 0 -3 -8M1852 1140l0 4M1307 953l-3 9M1939 1353l-3 3 -8 1M2179 1557l1 5 -3 5M1837 910l4 7M1677 1530l7 5 4 -1M2206 1490l5 3 -4 3M1945 1521l-2 0M1575 1454l-2 3 -1 -3M1985 830l2 0 3 4M1378 1166l5 3 1 2 -4 2M2232 1555l-7 7M2116 1345l10 3 3 -4M2007 997l-3 13 5 2 -1 3M1537 1370l-1 3M2246 1497l-6 4M2140 916l-13 2M2067 1029l1 2 2 -1M1643 1190l3 9M1553 1081l5 0M1464 836l8 6M2198 1086l3 4M1927 1538l-6 3 -2 -2 0 -2M1912 1081l6 6M1365 1309l-3 1M1726 1129l-7 3M1210 925l-5 6M1954 888l-2 1 -1 -8 5 -1M2253 1416l-9 4 1 3M1941 1528l-6 4M1620 1338l3 1 1 5M2161 930l-2 1 0 3 -3 -2M1612 1444l-6 11M1642 846l5 4M1416 939l2 3 -1 3M2097 1052l2 13M1541 1024l5 2M1362 1218l-5 5 -2 -8M2337 1436l-1 10 2 3M1692 1462l8 10M2054 1479l-2 10M1233 1073l5 3M1905 1542l3 5 -4 1M1732 1255l2 2 -8 2M2230 1061l1 3M1328 1208l-4 3M1494 940l-2 2M1831 1459l13 3 -1 5 3 2M1964 1585l0 3 1 2M1790 1175l-5 1M1377 1233l9 9M2226 1019l1 4M1450 971l-7 4 0 -2M1278 1173l3 4M1399 829l-12 4M1210 1177l8 6 3 -2 3 1M1351 1007l7 4 -1 2 -3 2M1258 1351l-6 4 2 5 4 -3M2274 1269l4 7M1418 1416l5 3 2 -2 2 4M1273 824l5 0 1 -2M1635 1378l-2 2 4 7 -2 2M2139 1187l2 1M1256 1294l1 2 5 1M1695 887l-2 2M2313 1299l-4 6M1550 1191l5 8 -6 1M2206 1592l-3 7 -4 0 2 5M1971 1561l-1 4M1326 1018l6 0M1609 1530l-6 2 -1 -2M1414 867l2 3 8 -2M1911 1330l-2 1M2289 1543l-7 2 6 5M2234 1276l2 1M2039 1549l-7 3 -3 -4M1232 1182l-2 2 3 1M1866 1147l2 2M2057 1005l-6 1M1499 1578l3 5M1770 1267l1 8M1578 1415l0 2M1490 1173l10 0 2 -5M2028 919l-4 13 4 5M1486 836l-6 5M1865 1267l0 2M1778 916l-6 0M1468 1486l2 5 -4 0 -2 -4M1949 1497l12 5M1964 1398l-3 3 1 2M1285 1306l-9 10 6 2M1212 1543l-2 1M1986 940l3 1M1522 1435l-7 11 0 4M2087 1533l-3 7M1640 1294l11 7 2 -1 1 2M1338 1188l0 4M1827 1290l-5 3 0 4M1654 1263l2 5 -5 3 1 3M2251 1452l7 1M1705 873l-7 7M1312 897l-7 7M1226 1178l-2 4M2133 899l-8 1 -2 -4M1667 1591l-11 7 4 3M1549 978l-4 9 1 4M1804 854l-3 4 -2 -4M1355 1073l3 0M2068 871l-4 6M1960 981l-3 3 -2 0M1533 1532l3 2M1541 1411l-10 2 0 -4M1448 999l5 6 -3 2M1292 1539l-1 7M1215 1203l-1 5M2117 1180l4 6M1408 959l-4 6 8 0M2273 1334l1 2M2328 988l5 5 2 0M1348 1072l-6 4 -7 -3 0 4M1367 1076l0 2 -4 -1 -3 3M2065 1252l5 3 0 -8 1 -1M1812 1139l3 1 -4 7M1984 1376l-9 4 -3 -1M2172 1455l3 3 3 -3M2236 1076l-3 2 4 3 -1 3M2142 1088l1 6 2 2 2 0M1880 1104l5 6 0 3M2063 1188l-1 4 -4 2M2047 1478l6 0M1583 1092l-3 1M1794 1487l-8 6M1890 1356l-4 0M1708 1569l5 4 -1 8M1927 1478l4 0 2 -5M1759 1561l4 2 0 8 2 0M1767 1233l1 4M1624 1213l-12 4 -6 -5M1498 825l0 5M1272 1123l-5 4M2042 902l7 2 0 2 3 0M1736 1401l-3 2M1735 1595l2 2M1838 1294l-2 5M1602 1570l5 1M2326 1317l-2 7 -3 2 -4 -3M2068 888l-2 8M2114 868l5 5M1397 1084l3 4M2328 1213l3 3M2330 1334l1 2M1972 1473l-10 2 0 2M1264 1145l-7 7M1289 1187l0 3M1902 1223l0 6 -7 4M1778 1266l-2 1 -3 -4M1696 958l10 2M1491 1563l-7 4M1774 1481l-5 4M2292 1074l6 8 6 0M1319 1132l-3 0 4 5M1784 1280l-1 13 5 1M1510 1467l-6 2 -1 8M1822 861l-3 7M2324 943l3 0M1337 1423l5 3M2202 921l2 13M1928 1528l2 0M1516 1383l-3 1M2037 1430l2 0 -1 -4 3 -1M2108 1438l3 1M1766 1476l-4 3M2049 1284l-1 3 5 3M1596 1481l0 2 -4 0M1683 1164l-4 0M1599 1341l0 2M1346 858l2 2 0 5M2102 1514l-13 1 -1 -3M1231 1201l1 1 3 0 2 2M1685 1585l-3 1 -1 -8M1911 1459l2 3M1544 1549l-3 10M1207 1130l1 3M1841 1412l6 4M1591 1598l-4 2M1870 1366l-8 2 -5 -1 -1 -2M2194 1152l3 10 7 -4M1526 857l3 9M2167 1185l3 2M1787 1401l9 5M1207 1150l1 2 -1 2M1272 1099l-6 6M1889 1518l3 1 -1 4M2258 1378l0 2M1574 1510l-2 2 0 3M1782 1397l1 5M1414 996l-1 13 -3 4M2249 930l4 4M1871 1464l-6 5M1925 893l13 2M1293 994l2 2M1970 1169l3 6M2133 1348l1 3 -4 1 0 -2M1897 1510l8 1M1840 830l-6 12M1405 986l6 1M1221 1277l2 10 -8 2M2071 865l-1 2 2 2M2117 1260l-6 8 -4 -2M1496 845l-12 5M1987 1573l2 2M1442 1487l2 2M2120 1572l-10 2M1699 1588l2 3M1448 1344l-2 5 5 4 -2 3M1957 842l-5 5 4 0M1385 1182l3 6M1197 1113l-1 4M1708 1273l-4 6 4 2 1 4M1414 1143l0 2 5 3 -4 3M1920 1250l7 11 -2 3M1461 1155l-6 1M1462 1259l0 2 8 -1M1816 1435l-13 1 -1 4M1967 1079l-3 5 -2 -1M1413 1279l2 2M1763 1273l3 1 1 2 3 -2M1741 1058l5 5M2002 1295l13 1 -2 -5M1825 1483l4 9 4 1M1384 1043l-2 0M1424 974l-3 2 -3 0 -1 4M1827 949l10 8M1857 1140l4 4 -7 5M1855 1027l3 13 4 -2M2076 939l6 3M1238 1196l-4 2M1944 1093l-8 2M1864 1289l6 3 -1 4 2 2M1938 1234l4 12 8 1 3 -2M1529 1104l-4 4 -3 0M2012 1546l4 6M1839 1373l-4 6M1723 979l-6 3M2230 1385l-1 7 -3 -2 4 -3M1765 1209l0 8 8 3M2307 1242l11 7M1367 1377l1 4M1363 1193l1 4M2085 892l-7 5M1217 1217l-12 6M1862 1018l-4 2M1703 1336l-9 4M2070 1071l2 0M1406 1294l2 2M1271 1403l-1 2M1714 929l-1 2 1 4 -2 0M1425 874l-1 8M1888 1250l5 7M1328 1146l1 2M1559 860l6 6M1875 1373l-9 3M1538 1054l-4 12M1996 1569l3 0 1 -3M1534 1033l-1 3 -2 -2M1981 1587l4 0 -2 4M1527 982l3 3 -2 3M1617 918l3 5M1582 1190l0 4 -6 1 -1 -4M1973 1158l0 4M2018 855l4 3M2274 959l2 3M1226 1126l-4 5M1642 1514l-9 10 0 -2M2302 1157l0 4M2059 1283l-13 1M1369 1077l1 4M2246 1553l-6 8M1547 1272l-1 2M1230 1103l-4 5M2052 1168l5 6 -1 2M1927 1592l0 4M1337 944l3 5M1459 868l1 2 -1 5 -5 -1M1510 1509l-8 1M2259 1498l4 5 -2 3M1398 876l-13 1 1 -5M2095 1385l-2 1 -3 -3 1 -4M1664 1108l3 10 -4 5M1746 1410l-1 13M1826 1568l1 6 8 0M2016 1267l-7 11 -4 -7M1313 1245l-6 4M1270 1234l-7 4 -8 -1M1477 1521l0 13M1845 1287l-4 0M2207 1593l-1 5M1996 1493l-1 2M1562 1540l-2 5M2123 968l4 5M1686 1072l2 3M1493 1247l-3 3M1920 879l3 5M1963 926l-12 6 0 5M1777 1577l-9 5M1528 1277l1 5M1628 1542l-9 4 2 4 2 -1M1301 1299l2 1M1893 1468l2 1 2 3M2224 1381l-1 1M1586 1196l1 4 -2 1 -5 -1M1476 941l-4 1 4 4M1503 1213l6 6M2180 867l-7 1 -2 -1M2242 1321l3 10 -2 5M1419 1327l4 1M1426 1126l1 5 -2 2M1286 1209l10 1 3 5M1866 986l0 4 2 0 0 4M1794 1066l0 3M1650 1314l2 13M1232 1086l-7 1M1842 1299l-6 5 -3 -3M2003 900l0 10M2040 999l3 2M1901 1191l-1 2M1646 1290l2 6 -1 3M1415 1311l4 2 0 2M1812 1456l0 3M1564 1499l-6 8 2 1M2325 1419l-6 2M2035 1290l-7 4M1618 1379l3 13M1481 909l-2 0M2063 916l5 9 -2 1 -3 -4M1660 996l0 2M2015 1403l-5 0M2317 1001l2 5 -2 4M1381 1159l-5 4 -1 -2M1243 1304l0 3M2220 1027l-6 8 8 3 1 3M1637 1140l-4 12 3 0M2300 1528l1 5 -2 1M1928 1030l-3 4M1267 1178l12 5M1485 1575l5 12M1242 1249l4 0 4 -3M1241 1329l-6 2M1988 1443l3 4 1 -2 5 -1M1970 1442l-1 1M1225 882l10 3M2204 1247l-1 5 4 2M1589 1051l-13 3 1 5M1793 882l-4 0 2 -5M1252 854l-1 8 -1 -1M1307 1120l-4 3 -3 -4M2029 844l-1 3M1858 1541l3 2M2035 1468l-5 0 -2 -8M1963 1095l-2 4M2068 1498l-1 3 -4 0M2116 1402l-5 2 2 2M1385 1249l1 5 3 -3M1721 1384l4 5M1917 1017l2 5M1415 964l10 8M1931 1422l-5 3M1436 1374l2 4M2258 1107l4 7 -5 2M1408 863l1 2M1869 1597l4 3M1995 907l-4 5 -4 -3 3 -1M1912 1124l0 3 5 1M1403 1018l-6 1 -2 2M1732 1175l3 13M1367 1147l-3 2 0 -8M1621 878l9 5 4 -7M1749 1286l-4 3 -4 -3 4 -4M1349 1138l2 0 0 -5 -4 1M1721 1280l-8 6M1362 1139l-2 13 -3 -3M2187 1364l3 2 3 0 1 -1M1544 1220l3 5M1226 1057l3 1M1532 1014l2 1M1293 1151l-2 3M1526 935l1 3M1268 972l4 9 -1 2M1659 1355l-4 4M2261 913l5 6M2116 1584l1 6M1811 843l2 1 4 -7 -2 -5M2294 1380l-2 6M1224 1143l-3 6M1946 1223l1 3M1323 1403l-6 6M2146 1438l-2 13M1827 1099l-2 2 5 2M2131 1532l-4 3 -6 1 -1 2M2028 1180l6 8M1347 1386l2 7M1327 1313l0 3M1950 995l6 8M1372 1059l1 5M1286 911l4 0M1509 888l1 8M1524 1187l-10 2M2329 1137l-2 0 -3 3 -2 -1M1518 1310l6 5M1702 1086l-3 2M2170 1188l-2 2M1960 950l6 4M1290 1491l-7 2 -1 5M1964 1349l7 2M2050 1582l-1 2 2 2M2263 1507l3 8 2 -1 2 -2M1924 1207l-7 1 2 -5M1813 1520l6 4M2252 1461l-4 1M2050 1245l-5 2M1195 1246l4 1M1687 1329l-5 1 2 2 3 0M1520 1537l4 1M1676 1492l2 6 3 2M1512 902l-9 9 -8 -2 0 -3M2217 849l3 3M1755 997l12 6M1999 884l8 11M1204 1393l13 3 2 -1M1564 1066l0 5M1974 1047l-2 2 -5 -2M1316 1200l2 3M1237 1009l5 9M1482 1423l-7 4 4 5M1393 1276l9 5M1725 1429l-1 5M2136 1359l-2 1 -1 -2M1837 1193l-8 1 2 5M1770 858l-2 7M2267 1050l7 1M1365 877l8 1 2 2M1811 1595l5 4 8 1M1242 921l2 1 -1 2 -4 -2M1782 862l-2 2 -3 -1M2212 1203l3 4M1825 946l2 8 4 -1M2311 1073l3 0M1384 873l7 1M2206 1418l-1 6M1971 1280l1 8M1303 893l-3 13M1548 871l4 4M2067 1171l2 2M1544 1039l-2 1M2067 1281l-3 0M1298 1171l-2 1 -2 4M2286 1162l3 4M2043 1446l0 3M1351 1288l3 5 5 -2 2 2M2235 1531l6 11 -1 3M2022 1320l-3 6M2002 1588l-4 6 3 4 -2 4M1980 1390l-10 0M1236 943l-7 2M1987 989l12 4 -1 6M2184 1340l7 1M2025 1344l1 10 -5 3M2243 1053l-1 2 7 4M2034 1354l9 10 2 -3 5 0M1626 954l-2 4 5 2M2047 1335l2 2M1811 1369l-3 1M2177 1489l-3 3 -7 -4 -2 0M2075 1496l-4 2 -3 -4M2146 1559l-2 7 5 3M1852 1507l-13 1M1210 1201l1 3M1272 1233l5 5 -2 5 2 0M1304 1006l-3 3M1284 1073l6 4M1825 1573l-7 4 -4 -3M2007 1277l4 9 -4 0M1749 1118l9 4 4 -2 -1 -3M1630 949l5 0M1614 1117l-5 5M2006 1426l-1 4 4 2 4 0M1411 1381l-10 1 0 5M1996 1129l12 5M1839 1311l1 5M2334 1320l-2 5 -5 -1M1804 1485l10 0M1904 1551l3 7M1373 1240l-4 3 -8 -2M1451 1206l-1 4 -2 0M1917 1433l1 1 1 -2M1949 1258l-2 1M1902 1332l2 3M1381 1081l1 4 -4 4 0 4M2005 825l2 13M1693 1383l-6 1M1563 1062l4 3M1581 1474l-2 8 6 -1" fill="none" stroke="#ff0" stroke-width="1.5"/>
<path d="M1564 938l-3 2 1 2 0 2M1246 1488l-1 4M1262 1366l6 8 4 -3M1385 912l6 2 0 2M2292 938l-2 4 4 1 4 -3M1297 1478l2 4 -7 5M1896 1433l-4 3M1422 1204l-2 1M1988 1564l-7 1 -3 4M1724 1398l3 2 2 8 -2 4M2142 1503l0 4 6 2 3 0M2093 903l4 3 2 6 4 3M1437 1056l-4 1M1445 1561l9 5M1378 1156l2 7 -1 2M1513 1442l2 2 0 2 2 0M2183 1173l3 13M2305 1024l-2 6M1819 1511l-3 5M2153 832l1 6 -6 1 -1 -3M1244 965l1 1M1473 1571l6 4 2 6M1495 1176l-12 4 -2 -4 3 -1M1457 1326l8 2M2073 1300l-1 3 -6 -2M1207 868l-2 2M2006 1042l-3 0M2261 879l9 10 -1 1M1607 1153l1 2 2 -2 1 4M2080 1431l-2 1M1710 1406l0 6M1389 1143l-4 4M1709 929l3 2M1467 1021l-1 1 2 5M1581 869l6 3M2304 1201l-12 6M1290 1424l3 3M2297 1308l-5 6 0 5 2 1M2336 1037l0 5 -6 5M2007 964l-5 5M1387 823l2 7M1629 1418l8 2M1477 1307l8 1 -2 2 -3 -2M1577 1562l-7 2 1 2M1345 1207l-5 3M1745 1244l-7 3M1910 982l9 5 6 -5 -2 -4M1513 1029l5 4 4 -1M1943 1591l-9 4 -1 -2M1460 860l-5 1 1 -6M1881 1327l-2 1 -2 -1M1229 1206l8 3 4 -7M1898 973l5 1M1959 1073l-2 10M1652 873l7 2 1 -2M1980 1381l-2 7 -5 1M1872 1299l7 1 5 6M2040 1109l-2 7 -3 -1M1899 1565l9 9M1453 1328l0 2 5 2M1712 996l-2 4 -5 -6 0 -4M1930 1571l13 1 2 -2M1735 1233l0 2M1841 954l3 1M2140 1311l3 1M1591 1368l-3 4M2270 1417l-10 8M1619 1056l0 13 5 -2M1803 1407l1 2 -2 8M1387 1162l5 2M1417 938l-4 4 0 4M2209 1181l-5 7M1305 1147l3 3 -3 5M2165 1176l0 10M1482 1117l1 3 -6 1M1272 1441l-8 10M1600 1482l-4 7M2232 1430l-3 6 1 8 3 2M1406 1172l-5 1M1963 911l6 5 4 -3 -1 -5M1200 1474l-5 9M1216 856l-6 4 1 2 -1 3M1301 1333l-2 13M1656 1212l6 11 4 -1M2190 1148l1 2M1853 1535l-1 2M2325 1488l3 1 1 -5 -2 0M2030 886l1 10M2277 1430l4 5M2119 1041l4 4 1 -4M1591 887l6 5M2101 1178l-5 5 -4 -4M1740 1279l5 1M1514 896l3 3 5 0 2 -1M1488 1259l4 12 7 4M1257 933l-3 4 4 3M1619 1124l7 4 5 -1M2159 1309l4 6 0 3M1447 865l-12 4 -5 -2M2119 1086l-2 1M1406 1159l3 4 4 -7M1418 882l-7 7 -1 6M1425 872l-7 4M1506 1182l6 2 0 -3 3 -4M1989 1285l1 2M1581 1007l-7 4M2128 1479l12 6M2042 1044l-2 4 -5 -3M1896 1185l2 4 -2 1M1599 1414l1 4M2046 1411l1 4 5 0 3 -4M2329 1116l8 11 2 -1 1 4M2293 979l2 0 -3 5M1811 1597l-9 10 3 5M2336 1087l3 2 -5 3M1418 1208l-6 2M1697 1303l2 1M1299 1030l-1 4M1375 1095l-3 7M2284 1213l-5 9M1806 1135l-4 2 -5 -7 2 -1M1549 1124l-3 3 0 2M2117 1410l6 2 -2 3M1949 1364l4 7M2040 1250l-1 4 -5 0M1679 1544l0 10M1339 1413l9 10M1817 1015l3 6 3 -1 3 4M2003 825l-4 1 -2 6M1933 1564l7 11 -1 8M1222 1128l6 4M1310 1379l3 7M1892 1051l0 7M1986 935l-3 13 -5 0M1324 961l-9 9 3 1M1323 837l5 3M1607 1231l-1 4 -7 4 -4 -3M1917 1386l5 6M2229 895l-3 7M2102 1437l-2 3 -4 -4M2020 1537l-7 2 -1 3M1222 1067l7 1M1372 835l-10 9 -2 -4 -4 1M2069 1424l-13 1M1607 1232l6 0M1262 1211l3 3M2087 1231l1 5M2277 1308l6 0M1458 978l4 5M2319 1435l-6 1 -2 4 0 3M1534 839l2 1 0 2M1331 1199l8 0 1 -6M2156 1565l-4 2M2032 1033l4 4M1777 1138l5 5 1 6M2196 1378l-1 7 -4 3M2224 1314l-13 3 -1 -3M1736 1324l-2 7M1663 1367l3 6M1712 889l-6 8 4 5M1483 1253l6 1 -1 4M1470 1469l-9 4 -4 -4M2249 1378l-1 2 -4 -1M1395 871l0 4M1830 1218l1 2 -3 5M1543 923l-7 1M1804 1138l7 1 3 -7M2114 1281l8 6 2 0M1967 1050l4 2M1980 941l4 1M2063 1501l-8 10 1 3M1592 1404l2 2 3 -1M1733 1417l-1 5 2 1M1935 923l7 2M1565 1012l0 2 -5 4M1806 1007l-3 1M1369 1026l-3 7 2 1 2 -3M1876 1430l-2 1 0 2 3 3M1965 1400l-6 2M1673 1291l-1 7 -6 2 -2 -1M1408 1512l-11 7 3 4 3 -4M2304 1124l4 1 -2 8M1969 1586l-6 11 -6 -5 1 -5M1918 1113l-2 1M1937 1446l0 8M1986 1036l-9 5M1491 1420l3 5M1652 1209l-2 3 -5 -6 3 -1M1581 872l13 0M1856 1134l-5 4M1767 1519l-7 3 -2 -6 -3 2M1319 995l-7 1M1443 1437l-8 10 -5 1M2116 1568l6 1M2085 1435l5 4M2022 1380l1 5M1833 1308l-7 0 -7 5M1346 831l5 12 4 -3 -1 -1M1581 1256l5 0 1 -2M2182 1590l-6 8M1408 1215l5 2M2075 826l-2 3M1687 1503l1 6M2097 1478l8 2 -5 4M1507 1015l1 2M2209 1376l-3 0 -2 8M2057 1014l2 1M1541 870l2 0 -1 8 -4 -2M2181 1179l5 0M1315 983l5 5 3 0 -1 4M1245 1195l1 2M1264 1051l-4 1 0 3M2097 1016l-6 11M1300 912l-4 1 -1 2M1809 1002l-2 4 -6 -6 -1 -3M1413 1186l7 8M1229 958l0 2M1865 1172l-5 2M1277 1113l-3 13 -6 0M1693 1281l7 4M1969 1428l-3 0M1363 1081l4 6M1575 1541l6 2M1768 1226l2 0M1714 970l-6 0M1373 996l2 6M1800 1423l-1 3 1 5M2171 1550l-1 7M1903 902l5 2M1265 1352l-3 1M1523 1417l-2 2 -2 -2M2308 911l1 8M1315 1453l5 0M2136 1491l-2 1 -1 4M1627 906l-6 6M2130 1321l-3 3M1772 1074l5 2M1391 1069l-6 12 -3 -3 1 -3M1881 1596l0 3 3 -1M1233 1280l1 4 -2 1 -1 3M2064 1496l2 1 5 -4 -1 -3M1459 956l-2 2M1356 1178l6 11M2075 1281l1 6 6 0M2282 933l-6 5M1583 1555l-4 7 2 6M1399 919l3 1 2 -1 0 -3M1607 1582l2 8 8 0M1711 1506l-3 6M2179 1532l0 4M2330 1355l9 10M1625 1502l1 8M1286 1169l0 2M2177 995l2 1M2307 1420l-5 12M1975 1399l1 10M1829 1135l-4 1M1839 897l6 3M1765 1040l11 7M1427 917l-1 7M1744 1543l2 4M1658 1363l8 3M1218 842l-3 7M1619 1105l5 5 2 0 1 -3M1886 961l-2 2M1685 950l-3 0M1808 1044l3 4M1236 1144l3 1 -3 8 -3 2M2216 919l7 3M1856 1579l3 1 2 3M2185 1315l-4 5 1 2 -1 2M1673 1337l8 10 -3 2 2 5M1529 1466l0 6M2030 1491l4 9M2141 1585l-2 5M1822 1086l-8 1M2116 999l-2 2M1752 1108l10 1 2 5 4 1M2311 963l6 1M1404 824l6 8M2320 952l9 4 2 -4M2166 1288l4 5 -2 0 -2 -2M1966 909l-2 0 -2 8M1956 1167l4 3M2112 1242l-2 3 7 4M1347 1060l-13 1M1211 1513l-1 10M1885 1575l-2 1M1631 1242l-9 5M1477 1361l5 1 -3 5M1372 1415l0 4M1943 1014l2 2 0 5M1540 1437l-4 12M1410 899l-12 4 -1 -5M1363 963l4 2M1544 1386l-2 4 6 5M1419 981l2 2 1 3M1471 1503l-5 2 -2 -8 -3 0M2135 985l1 5M1946 1332l-6 8M1897 1336l-6 8 5 1 4 -4M1583 1107l8 10 -2 6M2329 1554l5 2M2122 1254l2 4M1537 1443l-7 11 -5 1 0 4M2013 1550l-6 2M2160 1477l4 1M1742 1493l-3 3 -2 -3M1861 1212l5 4 1 -1 -4 -3M1708 1184l-2 2 0 3M1433 1339l-7 0 1 2M1866 1005l3 10 3 -3 3 0M2325 1410l-4 7 -2 -3M2002 1557l-4 6M1228 1324l-3 4M1567 876l-1 6 -5 -3 1 -2M2211 940l2 0M1920 1468l-7 0 -6 -5 0 -4M2118 1241l1 3M1326 1129l-5 6M2183 1020l2 2M1779 969l-7 4M2042 1538l2 6 -3 3 -1 -3M1730 1140l3 1M1687 1312l7 7M1916 1324l-6 5M1443 1187l4 5M1781 1562l7 3 5 -2M1837 1190l3 3 2 -2M1457 1223l-1 2 1 5 2 1M2181 919l1 7M1450 1415l4 1M1512 887l-2 7M1993 1388l-4 4M1829 1283l4 1M2116 1581l1 5 -8 0 -1 2M1762 957l1 1 -5 2 1 3M2229 1166l-3 2M2340 1277l-1 5 7 4M1335 1256l-1 6 -3 -3 4 -3M2318 941l0 2M1781 1285l-7 0M1195 1373l-3 0 -5 -3 -3 3M1255 1400l-1 3 8 3 0 3M1714 1480l1 3M1564 1034l-5 0 0 -6 3 -3M1477 948l0 13 6 -2M1619 1087l1 10M1542 1372l-7 3 -2 -8M2304 1449l-3 4 -1 -1M1341 1287l-7 1 2 -6 -2 0M1741 1464l-1 2 0 2 -3 1M1858 1233l-10 1M2141 879l-4 6M1861 1532l-3 1M1195 988l-6 1 -7 -3M1221 1050l-1 2 -2 -1M1708 1004l-11 7M2319 1388l2 6M1927 999l1 3M2222 1594l3 6M1642 1550l3 2 0 -2M1328 961l10 0 3 2 3 0M1667 1567l-1 5 3 0M1355 848l6 8 -2 0M1287 1404l-7 0 2 -5M1767 1462l0 6M1851 1138l3 1 0 2 2 0M1467 1089l-3 6M1801 1332l6 1M1512 974l-2 3 3 4M1379 1492l0 4M1223 894l3 1 -5 4M1622 1388l-2 13M2235 1155l0 3 -5 0M2008 1492l0 2 -1 3M2306 1039l4 6 3 -1M1863 1224l2 4 4 -7 5 -1M1206 1295l1 3M1652 1083l-13 1M1524 1020l-12 5 3 3M2270 1013l2 0M1195 1095l0 2M1401 1079l-6 8M2231 1418l5 12 -8 -2M2097 1469l0 4 5 0M1377 1051l8 2 -6 6M1746 1337l4 1M1887 1397l-11 6M1485 1140l-2 2M1273 1099l13 3M1306 1046l-3 0M2019 1288l2 5 -6 2M2029 1272l-5 2 0 3M1263 1257l4 2M1821 1457l-7 11M1360 1214l8 1 -3 -8M2174 1211l2 10 -2 1M1439 1238l3 10M1449 1274l2 8 -3 1M1358 1351l6 2 0 8 -3 4M1327 878l-3 1 -2 -1M1716 950l3 2 0 6M1693 1151l0 13 -5 3M2142 1327l2 2M1258 942l2 5M1229 884l4 9M1532 1351l-11 7M1469 1291l4 1M1299 1111l-6 5 1 6 5 1M2259 1412l3 6M2237 1293l4 1M1623 1189l3 2M1205 1387l-7 2M1423 848l3 2 2 -4M1841 1230l6 3M1851 1464l0 6M2253 1552l5 3 1 -3M2013 1076l-2 10M1491 1279l4 2M1818 1350l-1 2 0 6M2228 1385l-1 3M2248 918l-13 1M1766 1477l-1 2M1679 1438l-3 5 3 4M1973 913l4 5 -3 0M1670 1093l-8 3M1758 1375l4 4M1436 1483l2 2M1956 888l6 2M2109 1082l0 3 5 0 1 -2M1419 854l10 0M1408 1206l8 1M1942 1089l1 4M1878 968l-6 1M1789 969l2 1M1536 1250l8 2 -5 4M2125 1393l4 3 3 -3M2312 898l-3 1 2 3M1965 1163l-4 9 4 2M1428 1486l5 5M2320 1593l-13 2M1419 1434l-3 7M1343 1177l-4 1M1488 1280l-7 2 2 5 -2 1M1660 1201l-4 6 -5 0M1713 1563l-1 8 -6 -2 -2 5M1506 1106l-5 4 -1 -1M1293 1348l-3 4M2118 860l4 3 2 -1M2120 840l8 6 1 6M2282 859l-1 4 1 8M2294 1271l3 6 8 0M1902 1402l6 6M1535 1373l2 1 1 2M1940 1331l8 10 4 -3 1 2M1929 1552l7 3M1993 1383l-4 3 4 7 -5 2M2131 1047l5 8 2 -2 0 -4M1255 1031l0 6 3 4 5 1M1458 1180l1 3M1734 938l5 3 0 -2M1803 1122l7 11M1211 1100l0 7 -6 -2 -3 -4M1624 1344l1 3 6 0M1849 1596l-1 1 -1 8M2097 1446l-4 9M1466 853l4 6M1609 1147l6 3 1 -2M1335 1233l-4 0M1404 1242l-2 6M1877 828l-8 0M1744 987l3 0 3 -4 2 0M1600 1434l8 6 1 -1 -2 -2M2028 1307l-1 8M2047 1025l-2 0M1759 1101l-12 5 -2 -5 -4 0M1808 1277l-3 2 1 3M1444 843l-4 0 -2 5M1612 1459l-8 1M1691 902l-4 4 -2 -6 1 -2M1245 1575l-1 2M1796 1522l-1 3M1655 1204l-6 5 1 4M1498 1523l-3 0M1490 1077l7 3 2 -2M1597 1199l-7 1M1873 1137l-8 1 -1 1M1657 995l6 5M1206 1044l1 6 4 0M1495 1371l2 4M1498 1003l11 7M2207 1069l5 1M1720 1506l0 13M1653 1235l4 2M1852 1306l7 1 0 -5M1239 1324l2 2M1494 1233l4 12 -2 3M1614 1349l2 13M1777 949l-1 5M1679 924l1 6M1926 1586l-4 4 1 8M1315 885l0 7M1977 1236l-2 1 5 4M2051 1499l5 12M1662 1557l9 3M1347 857l3 1 4 -4M1526 868l12 4 -1 -3M2324 1160l9 5M1480 1575l1 6M2025 1033l-10 1 0 -4M1697 1340l-11 7M2221 1322l5 6 -2 2M2299 1583l-2 13M2303 1488l-1 7 6 6M2061 838l3 4M2043 959l-4 2 -8 -1M1983 964l-2 4 2 1M2251 1340l-2 5 8 2M1588 969l2 10 3 4M1814 930l-5 3M1353 1423l-3 3 3 5M1560 1176l1 2 -2 5M1228 1470l4 2M2147 1148l3 2M1436 1022l4 1M1446 1182l-3 5 5 2 4 -3M2080 1002l-3 4 -6 0M2207 1141l-1 5M1756 1186l-6 8M1438 1125l-7 2 0 4M2293 1569l-1 10M2308 1106l-6 6 -3 -4 -2 3M2286 1576l-6 4 -7 -4M1711 1305l-3 5 -3 -1 1 -3M1231 1587l-3 5 -3 -4M1558 886l0 2M2219 898l2 8 5 4 3 -3M1865 1338l-9 4M2339 1058l-1 5 -4 3M1689 1020l3 1M1687 1535l0 6M1441 1424l-6 0M2049 1355l-1 13 3 -2M1470 1005l-3 1M1819 1035l5 4 -2 5 4 3M1571 1008l4 6M2301 1354l-6 5M2275 1402l-6 2M1684 1127l-10 2 -7 -4 -2 2M1434 1357l-1 3M2091 1135l0 3M2089 1573l5 12 2 0M1803 1591l3 5 5 2M1254 889l10 8M1352 915l7 11 -1 3M2124 1348l-13 3M1200 1317l-2 1M1214 1059l5 3 -2 5M1318 1306l2 5 4 -1M1715 1248l-6 2 1 -4M1459 1429l3 1M1593 1343l-6 2 0 5 -3 0M1221 945l4 5M1476 1355l1 4M1440 955l3 4M1302 1016l2 1 0 -6 -2 -1M1618 1505l2 2M1806 1523l-3 10M2301 1345l6 6M1356 828l2 4M2119 931l-12 5M2258 821l0 13 6 2M1238 839l8 1M2158 1408l-2 4 4 3M2026 1261l-1 2M1415 1412l-3 13M1378 1119l2 3M1467 1475l7 5 0 -8M1261 1006l4 2M2037 1321l-4 2M1484 998l1 2 7 -3M2122 1414l-1 3 4 -1 -1 -2M1578 1308l3 3 5 -6M1862 1487l-7 7M1354 912l-1 3M1565 1289l4 12 -4 2M1365 910l2 1M1498 1201l-3 5M1335 1227l0 2 -3 -1M1368 1504l1 4M2188 1543l-2 5 2 6M1474 1419l4 5 -2 8M1821 1556l-1 13 -4 -3M1299 1509l-8 2M1347 1389l13 4 3 -2M1760 837l-6 3 -5 -1M1257 1220l-6 3M2255 1583l13 1 0 -2M1427 1127l4 4M1431 962l-5 1M1468 1522l-5 9 -3 0M1592 1071l-3 4 -5 -1 0 -2M1372 932l2 7M1422 1217l-5 8M1706 986l3 6 5 3M1505 890l5 4 3 0 0 4M2303 1465l-3 2M2060 1399l-1 4M1503 1090l2 8M1532 1589l-10 3 -1 3M2241 1185l-12 5M2090 1564l2 2 -1 4 1 2M1542 1414l-9 3M1234 1093l11 8M1559 832l6 5 1 4M1887 1507l3 1 2 4 5 0M1920 1483l0 4M1985 1472l-2 5M1751 1540l2 5M1298 1276l-3 1M1505 1181l-2 8M1786 1403l-3 4M1374 1316l0 8M1902 1025l4 6 -1 4 2 4M1430 918l3 8M1960 1041l-8 2 -5 -4M1922 997l-1 4M2325 1439l-5 4 5 2M1706 1113l7 3M1999 1183l1 3 7 5M1917 1024l1 2M1448 1574l4 6M1308 1062l9 4 1 2M1460 1156l5 12M1764 1039l1 3M1408 1233l3 5 2 -1 -2 -2M1517 1350l2 0 3 4 -2 1M1339 1191l-10 8M1816 1595l1 3 -3 5M1778 830l-6 3M1698 1159l-1 5M1221 856l1 1M1567 1338l2 1M1297 1121l-2 0M2305 1070l4 0M2316 1253l8 2M1293 1255l5 6 -3 4 -3 -4M2287 1441l2 1M1235 946l-2 0M2025 941l0 2 6 1M1395 851l0 4 7 -4M2020 1187l-2 10M2052 1382l-3 4 0 4 -4 3M1360 1219l4 6M1682 997l0 6M1830 1245l0 6 4 1M2267 906l-5 2M2302 1159l-3 13M2251 1302l8 10M1500 1091l1 2 2 1M1748 1247l3 1 1 -4M1591 1214l6 1M1207 937l8 1M2119 981l0 8 -8 1M1365 904l-2 8M1375 1547l-6 1M1820 1515l-6 5 3 4 3 -3M1908 1579l-5 6 0 4M2197 1535l0 8M1960 905l0 2 6 -1M2322 1220l0 5 -6 6 2 4M1942 821l-4 3 0 5 4 2M1899 1054l9 3M2161 1575l-1 4M2325 1218l5 1 4 -1M2177 1520l7 1 2 3 4 0M1962 1529l-5 6M1923 934l-4 3 -5 -6M1829 1542l-4 0 -4 -4M1735 864l4 1M1852 1060l-2 8 3 0 1 -2M1648 824l4 3M2271 1202l2 2 0 5M1316 1498l-4 7 -4 -3M2024 883l-5 1M1333 1518l-5 0M1870 1438l3 10 -2 4 3 1M1870 835l-1 13 7 3M1979 1440l2 4M2101 1362l9 4 7 -4M1330 971l13 3M1649 898l9 4 1 2M1900 1341l8 1 -2 3M2271 1288l8 6 3 0M1841 1009l8 0M1320 1266l-2 1 2 5M1906 1435l6 3M1669 855l3 13 3 1 0 3M2096 1070l-5 1M1800 1472l4 6M1484 1563l3 0M1831 1493l1 4M1275 1511l-2 8 1 1M1512 1243l-2 2 2 4M1790 1391l3 4 -1 2M1860 1138l2 2 1 -2M1379 1118l2 0 1 5M1820 1366l-7 0M1203 1219l8 10 6 0 1 -4M1664 1369l-3 1M1284 1182l-6 5 3 4M1307 1220l7 2M2213 1273l2 0M2083 1559l-5 2M1840 1485l2 6 -2 0 2 -5M1988 1119l8 2M1763 983l5 1M1791 1142l-12 5 -4 -3M1993 970l2 7M2049 1423l-5 4 0 8 4 1M2134 1437l0 10M1879 1373l5 2 2 5M1297 1268l-4 3 1 3 4 1M1679 1323l1 4M1818 1233l-3 2M1927 1057l-2 10M1902 1329l2 6M2135 1118l-6 1 -2 -1 -5 0M1612 1535l1 6M1250 936l0 2M2135 892l4 12 2 1 0 -4M1304 1461l-4 4 -8 -3M1499 1280l-6 1M1233 1424l-4 12M1355 1034l-7 3 5 6M1980 1424l10 3M1850 1451l8 1 2 -2M2114 844l3 10M1828 1097l0 10 2 -1M1815 1329l-2 4M1795 1515l-4 5 -2 0M1329 951l1 2M1862 1395l-4 2 2 2 3 -3M1599 1220l3 6M1896 1290l-5 1M1388 1247l13 2M1701 1595l4 5 -4 4 -2 0M1298 1010l6 2M1923 1457l-4 3M1339 1210l-10 8M2006 1483l0 5M2139 1204l-1 1M1864 1086l4 6 -3 8 3 1M2049 1086l-1 3M1716 902l-5 8 3 1 1 -2M1277 1052l3 4M1820 1407l6 4M1476 1099l-3 1M1325 1511l-2 8M1912 958l-4 9 -3 -2 1 -3M1461 835l1 5 5 4M1572 1203l6 5M1834 980l-8 1M1453 845l4 1 0 3M2137 1210l-7 2M2093 1485l1 7M2218 1598l-3 6M1403 886l2 10M1198 1072l3 2M1619 1217l-7 0M1674 1164l-6 4M1888 1386l-6 4M1573 872l5 6M2268 1041l-6 8M1806 1382l0 7M1838 1450l-11 6M2162 1498l5 7M1740 1222l-3 13 2 0M1415 899l3 3 -1 2M1246 1338l-1 4 3 2M1771 1315l3 6M2024 1571l-4 6 8 3M1763 1494l-6 5M1338 972l-6 2M1279 1144l2 7M1479 1543l4 3 4 -1M1851 1389l2 2M1772 1559l-4 6M1544 902l-6 0 -1 4M2159 1354l2 1 -4 7M2240 1448l2 10 -3 1M1388 1349l-1 1 2 4M1688 1505l-1 6 -2 2M1780 1262l-2 13 6 5M1859 1189l-10 2 0 -2M1546 1154l-2 3 6 1M1642 1027l-5 3 2 8M2048 1118l-2 0 5 6M1389 1234l8 2M1829 1204l2 0 3 5 3 -4M1216 1155l-3 4M2043 1521l-4 9M1874 1142l-5 9 -3 -1M1806 1527l8 6 1 -3 -3 0M2227 967l-5 3 2 3 4 0M1257 890l-7 2M1288 890l5 6M2147 829l3 3M1979 1307l-4 0 -4 -5 3 -1M1784 1028l3 3M2311 1591l5 1 -1 -3 -4 1M1200 1503l-1 4M1905 1494l6 12M1223 1233l-2 1M2008 1102l-7 7M1776 1106l-4 4M1719 830l-4 3 -4 -5M1779 1231l-6 4M1772 1206l-2 0 -2 -2 -4 0M1967 1388l0 4M2048 1422l3 6M1537 1460l-7 0 -2 -1M1277 1006l-1 6M1481 1004l0 3M1315 1142l6 3M1221 1519l-7 1 2 -6 -1 -3M1488 1232l-1 10M1987 1313l12 5 2 -5M2067 1311l6 4 1 5M2187 1293l-13 1M2219 958l-7 2M1382 955l-5 6 -5 -2M1764 825l3 3 -3 4M1426 1402l3 5 6 -2M1284 845l-1 2 -6 -2M1688 900l-8 5 -8 -3M1795 1200l-1 3M1291 1176l-6 11M1866 1035l6 1M1773 1491l-1 6M1673 1412l4 6 -6 2M1850 1316l-6 8 1 4 2 -1M1881 1487l3 4M1758 1355l2 2 2 -4M2080 1112l-5 1 -1 -2M1435 1043l-11 6 2 6M2200 1473l-10 8M1528 986l3 4M1997 989l7 4 -3 4 3 4M2075 1284l0 7M1861 863l-5 1M1326 1052l0 3M1578 1170l4 3M2300 1121l-7 11M1946 1540l-4 6M1700 919l-3 6M2004 1531l3 3M2104 1552l4 1M1887 1450l-6 3M2164 1165l8 1 1 2M1383 1258l0 2 -4 -3M1577 1595l1 2M1471 1564l-2 5 -1 -2M1724 956l-10 2M2288 890l2 6M1981 1482l-11 7 -1 -2M1832 1267l-4 2 1 3M2226 898l-4 3 -1 8M2285 1457l7 4 2 -1 0 3M2256 1440l6 12 4 1M1458 861l-6 1M1652 1065l-2 6 -7 -4M1224 1458l-2 3M1890 952l-7 2M2125 1181l2 2M1989 1420l-12 5 4 7M1203 920l-10 9M2257 1587l-1 5 -6 1M1590 1575l-3 3 4 3M1668 1331l-8 2M1382 1159l6 5M1204 1108l10 3 1 5M1384 1519l-6 3 4 2M1614 1352l7 2 -2 6M2073 905l4 5M2214 855l0 3 4 0 3 -4M1606 928l5 8M1700 861l2 4 0 4M1378 1308l4 5 -3 3M1342 1114l-5 1 0 -3M1872 1373l13 1 2 3M1802 1545l5 3 2 -4 -3 -2M1513 1130l1 7M1299 1497l4 6 6 0 2 5M1981 1222l1 1M1476 1176l-10 8M1435 1096l-3 4M1922 1038l-4 1 2 2M1304 1453l0 6 -5 1M1866 1580l-12 5M2075 1066l5 6M1939 1478l6 5M1305 1163l-7 1 0 -4M2004 1140l3 3M2002 1256l-2 3 2 1M2001 1254l-1 1 3 1M1420 1050l-5 1 1 -5M2120 1196l7 3M1635 1283l-4 0M2230 1319l10 0M1786 1107l13 1M2073 1104l2 1M1828 931l-10 2M1319 1104l-1 7M1519 981l-3 7M1378 1083l12 6M2087 1343l13 3 -1 -3 3 -4M1245 1242l-2 2 4 3M1421 1009l4 7 4 0M1198 1151l-2 8M2326 1008l-5 12M2170 1586l7 3M1763 1548l3 10 4 3M1833 1231l0 8M1290 1022l-2 2 -3 -5M1815 1456l-1 2M1307 1552l-7 7M2004 1264l-6 3 0 -4M1915 914l-3 4M1782 1357l0 6 -5 3M2083 1553l-10 1 -1 6M1813 961l1 3 3 1 0 5M2032 1172l1 13M1405 1232l-4 1M1491 952l0 3 -2 2M1937 924l-4 1 1 -5 -5 0M1664 1533l7 4M1536 1468l2 10M2282 1413l0 5M1380 1039l-6 1M1553 1193l3 3 4 -1M2278 958l-3 1M1532 1269l-5 6M1859 1434l4 5 -3 3 -2 -5M1570 1484l-3 3 -2 -2M2032 1596l-5 0 -2 6 2 2M1824 915l-8 10M1722 1585l0 2M1866 1194l6 8M1521 905l-7 1M1318 1310l-5 2M1955 1157l-8 1M1320 1196l1 3M1554 969l0 2 -1 2 -4 -3M1387 1503l6 1M2131 1306l-13 2M1363 1256l6 1M1521 1307l-8 1M2193 931l0 10M1393 1383l1 3M1851 1492l2 0M2249 1207l-2 10M1224 1210l-1 3M1506 969l2 1M2319 1028l-1 3 3 1M2185 1310l-3 3 -1 -4 2 -1M1896 1046l-2 6M1912 1399l-5 4 -1 -4 -3 -4M2317 847l5 9M1609 1192l-1 4 -3 -2M1909 1291l2 0 -1 4M2247 1403l-7 11 -8 1 -2 -1M1278 1502l-4 2 0 5M1824 1502l-1 7 -5 1M2101 1154l-5 4M2021 1224l1 3 7 -4 2 2M1985 1569l2 2 -2 2 5 2M1305 1256l5 2M1755 838l6 3 3 -5M2322 952l9 4M1314 848l-3 1 -2 -2 -3 1M2019 1071l4 5 -2 4 -3 2M1458 958l2 5M1756 1403l-1 6M1207 1060l7 7M2246 1207l-5 1 4 4M2336 1580l11 7M1793 902l-11 7M2318 1587l-1 5M1213 851l-1 3M1862 1364l2 0M2011 1359l0 3 2 0M2252 1272l6 0M2274 1156l1 6M2320 1015l-9 5M1951 1397l4 0 2 -6M1992 1470l7 7 3 -1M2306 1242l4 2 -3 2 -1 -4M2011 1196l4 7 1 -2M1439 1247l2 1 4 -5 5 2M1409 1506l-9 4 -1 -4 1 -3M1970 1502l5 3M1297 821l2 2M2301 1526l-3 1M1605 958l-8 3M1588 1443l3 2 1 5 -5 0M1895 1182l-1 5M1539 1027l0 2 -4 3M1906 1139l-10 3M2322 863l7 7M1971 1402l-7 7M1501 1550l0 5M1326 860l2 3M1779 1526l-2 10M1585 971l7 7 -2 4 0 2M2068 932l-3 3M1231 1013l9 3 3 5M1401 899l-5 9 -4 2 1 2M1391 1297l-1 2 6 1M2213 858l-6 5 2 5 4 0M1724 1265l-6 2 -1 -2M1289 1272l-1 2 2 1M2196 902l2 2M1633 1169l0 2 -5 1M2199 927l0 3M2158 1223l0 3 -8 0M1738 1008l-2 0 -3 4 2 2M1213 1356l-2 1M1195 1052l-6 4 -3 -4M1257 1156l3 4M2012 1267l2 8 -4 7 -5 -2M1452 1184l4 7M2030 1042l-2 6 -2 -1M2096 1249l2 1M1890 1120l-12 4 1 2 4 1M1870 1343l-4 1M1194 1031l10 2 3 -2M1506 1326l-4 1M2204 1595l1 10M2247 848l-3 6 1 2 2 -1M1886 1559l13 1 -4 7 -4 1M1304 1542l-6 1 0 2M2089 1385l5 4M2140 1419l12 5 0 2M1422 982l9 4M1315 913l0 3 -4 -2M1202 1145l-4 6M1704 1424l5 1M1623 888l4 0M1396 1348l-4 0 1 5M1743 1166l-10 1M2245 1349l-7 4M1344 892l-1 2M2100 1558l7 8 2 -3 4 2M1345 838l-3 5 5 6 0 2M1969 1311l1 5M1729 1220l-2 1 -4 -7 3 -4M1325 1127l8 1M2048 1427l0 2M1258 933l-2 7M1974 1454l-2 0 0 2M1817 1579l-2 4M1324 1138l5 3 -2 2 -1 -3M1797 1564l-2 13M1449 1186l2 3 2 1M2317 1316l-13 2M1718 1089l-5 7 -1 -2 -5 -1M2211 1162l1 4 5 1 -2 5M1861 1550l-3 1 -2 8 2 1M1846 1572l-4 7M1891 1338l-3 7M2273 1583l-1 6M1715 1183l3 0M1960 1479l2 8 6 0 1 1M2320 1530l7 3M2061 1510l4 2M1461 1012l2 0 4 -5 -1 -3M1253 1279l7 11M1770 1406l-12 6 -5 -1M2239 1458l4 6M1438 1386l1 3M2141 1223l-3 3M2339 972l-8 6M1832 1594l-3 4 -1 -1 1 -4M2027 1236l1 6M2335 1418l-6 2M1214 1410l-1 2 2 0M2314 1068l-1 2 7 5 4 -2M1284 1173l-2 7 -6 5M1247 1324l-1 7 -4 -1 -3 -4M2072 1396l-6 8M2292 1037l-4 1M1275 1054l-2 1 4 5 2 -2M1644 1250l-3 9 3 2 2 -5M1805 1135l2 10 -3 3 -3 0M1303 853l-4 4M1494 992l5 0 0 -2M1757 1063l-5 6M1880 946l1 2M1969 1543l2 3 3 -3M1496 928l-1 3M2000 913l7 7M1380 1003l-7 11M1404 956l-2 1M1507 1561l-1 2M1323 1430l-1 2 4 1M1550 1116l10 8M1730 1472l-10 1M1259 1343l-8 3M1267 1339l-2 2 -4 -2 -1 5M1515 1021l-4 3 3 5M1379 1126l-13 2 -2 -2M1945 1264l-12 4M2293 1195l1 4 -6 2 1 4M2300 1587l-6 1M2141 1589l-1 5 4 0M1245 979l0 4M1921 1399l2 10 8 -2M1602 1330l3 3M2328 1351l1 3M2285 1304l-9 9M1627 1414l2 1 1 -6M1227 1472l-1 2 -8 1M2002 844l-7 11 4 4M1274 1166l-6 3M2195 1584l-12 5M2066 1015l3 3M2089 1547l-4 2M2086 1368l-5 3M1953 1041l-13 1M1648 1510l-2 2M1438 1377l4 1 3 7M1497 1321l-1 1M1913 928l-1 7 -4 -1 -3 3M1251 877l3 6M1554 1463l-4 1 4 7M1934 974l7 7M1713 1409l0 7 8 -2M1395 1021l8 10M2001 1489l0 3M2301 952l-8 3 -2 -2 0 -3M1399 892l-1 7 -4 -1M1723 1464l3 4 3 -1M1851 921l-1 2M1223 1358l-7 1M1525 1493l3 4 8 1M2238 1573l-3 6M1824 1362l3 4M1868 1456l1 3M2238 1470l-4 9M2034 829l4 4 8 1M2149 1356l1 5 3 1 1 2M1992 1196l4 0M1585 1360l7 4 0 4M1674 1014l1 5M1826 821l8 1 1 1 5 0" fill="none" stroke="#ff0" stroke-width="2.1"/>
<path d="M1311 1265l0 3 2 4 -4 2M1865 1173l-2 3 -3 -2M2133 1492l-8 0M1273 982l-6 1M1727 1197l-2 2M1330 1123l0 5 -2 0M1822 922l0 3M1225 986l5 5 0 5M1736 1384l-4 6M1896 1214l1 6M1210 1390l0 5 -8 2M1477 1424l3 1M1218 1057l-12 6 0 -4M1625 1171l-1 2M2315 1548l10 2M1221 823l3 10M2092 994l-3 1M1256 971l8 2 0 3M1428 1574l4 3 -2 1M2049 845l-7 4M1620 1535l-5 5M1316 1377l-6 5M1691 942l1 3M1850 1541l4 2 1 -2M1419 919l6 8M1292 1374l-2 4M1938 1060l-4 7 1 1M2176 1595l2 2M2034 1401l-2 6 3 2M1472 937l-4 2M2124 1572l-12 4M1896 1331l6 5M2126 956l-2 6M1413 1123l-8 2M1531 1082l5 5 -3 2M1388 822l2 0M1318 1056l-13 1M2129 1184l-6 12M1923 1051l0 5M1200 968l-2 1M1900 1308l2 2M1838 1021l8 1 1 -5 -2 -1M2292 1470l3 6M1326 1562l1 8M2191 1385l-1 4 4 3M2124 1495l-6 0M1261 1250l1 1M1282 1301l-3 3M1640 1144l5 3M1728 1236l0 3M1375 872l-5 9M2194 1293l-6 8 -5 -1M1713 829l5 2 2 -2M1676 942l10 8M1761 1559l-4 7M1547 1501l5 1 3 -3M1527 1031l-3 4 0 5 -2 2M1560 1107l-6 3 -3 5M1355 997l8 2 2 -2 -2 -1M1357 876l-8 3 -5 6 -2 0M1912 1567l-9 5 -1 6M1259 1005l-1 2M2130 1095l-6 4 4 2 0 2M1595 1249l-1 2M1771 1516l6 3 -4 3M2301 878l-1 3 -4 1M1316 1391l-4 7 -5 1M1976 1285l-2 1 0 -2M2257 1232l11 7 4 -7M1199 922l-2 5M2043 1133l-1 6M1328 992l2 1 -1 2 4 1M1785 1183l-3 0 -1 -8M1420 936l-4 6 8 2 0 -4M2097 1284l2 0M1605 1336l-2 1M1289 1411l4 0M2163 1432l-2 7M1976 1553l-8 1 -1 -8M2103 824l-2 0M1574 938l-7 2M2212 913l-4 4M2338 955l-2 6 5 1M1263 1060l-6 2M1303 1289l-3 1 -3 4M1332 1562l-4 9 3 4 2 -1M1265 1310l1 3M1321 949l-2 2M1610 1508l-3 1M1799 1016l5 5 -6 2 -2 -2M1920 1397l-3 1 -2 0M1469 1544l-2 0M1407 1448l7 11M2082 1512l11 6 -6 5 0 2M1902 1330l-2 4M1307 1114l6 1 4 4M1829 876l-1 5M1468 953l5 2M1654 1348l7 7M2143 821l-2 6M2303 1374l-8 2 -2 -1 -2 2M2292 982l-4 1 -1 -5M2073 920l-5 2 -3 -5 -5 1M1344 1495l0 13 3 -2M1419 913l-12 5M1392 1415l3 6M2064 1126l-3 3M2167 1457l4 6M1607 870l-2 1 -1 5 5 0M1368 1161l-1 4 -3 1M1253 1554l-3 1M1602 1159l1 5 6 -1 3 4M1460 1094l1 3 -6 5M2118 1163l-12 4 -4 -7M1295 1540l5 1M2095 1221l2 7M2178 1589l2 1M1267 1021l-5 1M2075 1359l1 6M1933 1472l3 2M2327 1525l-5 1 2 -8M1199 1517l-3 1M1937 1150l-10 8 3 3M2132 1435l1 2 5 -4 -1 -3M1510 1581l2 1M2095 1493l11 8M1910 967l3 4 2 -3M1255 1116l-3 3M1226 991l-4 7M1344 1110l-1 2 -7 3 -1 3M2048 1501l4 2M1302 1575l2 10M1595 1064l4 12 -2 8M2335 1216l-7 2 -8 -2M1918 1476l-4 2 1 3M1328 1181l4 9 4 1M1934 1468l8 10 0 4 3 -1M1839 1580l5 7 0 2 4 1M1525 1267l-3 10 1 2M1287 981l6 5M2182 1112l1 5 -7 3M2126 941l3 5 -1 6M1236 1018l-3 5M1578 830l-2 1M1993 1572l-2 8 -5 1 0 5M1855 1115l1 2M1798 1439l3 1M1216 1499l-4 4 -8 1M1431 1546l8 2 -3 8M1995 919l2 6 -2 4M1667 1093l3 3M2032 849l10 8 1 4 3 -1M1619 1586l8 5M1432 1313l-2 10M1231 1365l-7 11M1608 881l13 2M1799 1478l4 0M1503 1179l4 3 -2 2 -2 -1M2033 853l-8 7 -1 -3M1850 921l8 2 0 3M1492 1052l10 1M2014 1178l0 2 -8 1M2097 1549l4 1M2302 1385l2 1 -1 2M1529 1366l-1 4 -2 -2M1395 1533l2 5 -3 7M1228 1106l-1 4M1382 1110l-6 3 -1 3 1 3M1937 1242l4 2 3 -3M2261 861l-4 3M1802 1419l-12 6M1944 1324l-11 6M2293 993l1 2 -1 4M1276 1253l-7 3 3 3M1275 1362l-4 1M2105 1187l-6 5 -1 5M2152 1401l-2 1M2318 981l3 4M1235 918l10 9M1347 1025l4 0M1953 1326l1 10 2 -1M1837 912l-7 11M1925 1566l4 3M1535 1201l1 4M2302 1524l2 7M1486 876l1 3M1283 1502l-4 1 3 5 3 -1M2287 1283l-4 1M1346 828l6 11 2 -3M2213 1171l5 9 4 1M1323 994l-2 2 -4 -5M1376 1104l-3 10 -2 1 -4 -2M1731 1223l10 2M1234 1172l4 1 -1 -3 -4 1M1402 1272l3 1M1314 894l7 1M2151 1182l-6 11M1253 1180l2 4 5 -6M1414 1090l6 4M2210 1407l-4 3M1675 1213l7 1M1438 1556l1 3 2 0 -1 -5M1609 1183l-4 2 0 5M1539 1494l2 8M1430 870l-4 1 -5 -3 0 -3M1834 1470l13 0M2031 1472l1 10M1727 1522l-2 7M1281 1019l1 2M1365 1231l0 2M1394 1108l3 4M1337 1221l1 8M1922 1407l10 8 0 3 5 0M2085 908l-7 1 -4 -1M2084 937l4 12M1341 835l11 7M1975 1523l-5 12 -4 -3M1901 1187l0 5M1770 1474l-12 5 -3 4 1 3M2339 1303l5 5M2153 1478l2 2 3 -7 5 -2M2053 1112l0 3M1794 1271l4 12M1831 1396l2 0M1908 1539l-2 4M2295 1585l-12 4M2164 1129l1 3 -5 0M1846 1556l-2 13 -2 1 -3 -1M1947 1584l-5 8M1992 886l2 4 6 -1M1817 1080l-8 2 1 3 -3 0M1647 1496l2 7M2091 1361l-8 6 -1 4M1736 1552l-12 6 -2 -3 -3 1M1845 1530l-4 6M2036 1190l8 6 -3 4M1974 1087l0 10 1 2M2232 1342l8 10 -1 6M2107 840l-4 9M2231 885l2 0 -1 -6M1976 1024l-3 1 -1 6M1346 1098l5 12M1414 1066l0 2M1421 837l13 2M1661 1372l1 10 -2 3 -3 -3M1532 902l4 12M1787 1555l0 2M2253 977l-10 8M1873 1036l-1 3 2 6M1197 1122l-2 2 -1 -4M1634 1377l0 5 -2 3 1 4M1574 995l1 2M1384 882l-8 10 -5 0 -2 2M1398 1003l2 4 -2 3M2281 1118l2 7M2107 1235l-2 6M1368 967l-5 9M2196 1414l-4 7M2327 1120l-5 6M1965 1076l0 10 2 0M1647 1261l-1 13M1363 917l-3 0 -1 3M1387 1011l-3 5 -3 -1M1762 1062l-2 1 -7 -3 -4 1M1890 1152l-13 1 1 3M1379 1266l7 1M2317 1524l2 3M1465 1320l0 8 2 2M1904 1103l10 2M1255 1171l-13 2 -1 2M2124 928l7 1 0 4M1784 1232l-12 6 -2 -2M1395 1010l-1 8M1197 827l1 2M1289 1013l5 2 1 5M1558 913l-5 9M1699 876l4 2M1734 1479l4 3 2 -6M2027 990l-6 4M2017 1117l-1 13M2075 1457l5 4 4 -2M2157 1550l-13 0M1922 858l2 1 -2 3M1384 1117l1 2M1699 1140l-1 5M1631 965l8 1M1523 1175l0 4M1238 1461l3 1 3 8 -1 4M1474 1103l-9 3 1 -4M2050 1325l4 9 -8 1 -3 3M1747 1090l-7 11 -6 0 0 2M1887 1253l6 4M1818 1512l-4 4M1205 1244l3 0M1924 1365l12 4 1 -8 -2 -2M2241 1593l-1 2M1741 1167l5 5M1510 1053l-6 2 -3 -8 1 -3M1682 1464l-8 3M1277 889l1 7M2138 823l4 3M1592 1062l7 5M2132 1344l1 4M1770 946l-5 12M2137 1279l-6 0M1357 1329l-3 4M1356 836l-2 2M1265 1245l5 0M2194 1266l-5 5 2 3 5 1M1578 1525l4 0 -3 3M1344 1004l0 10M1864 1300l-2 4M1700 1550l2 3 -4 3 -3 -4M1846 858l-5 6M1460 1123l-6 5 -4 -7 -3 -2M1403 1323l3 4 1 -2M1255 1017l0 2M1743 1344l-8 11M1921 1167l0 5M1360 1198l-13 0M1602 1352l-1 10 -5 -2 -2 -5M1448 1186l-11 7M1322 1091l2 1M1869 1421l2 0 1 3 0 3M1995 1324l-2 6 -5 0M2200 1075l-2 7 3 4M1709 834l2 7M1464 824l3 1M1251 1365l-3 1 2 2 0 5M1955 1596l5 1 1 2M2125 1191l7 5M1863 1513l8 1M2104 1096l5 5M1228 825l4 1 0 3 -5 -1M1727 1424l-6 3 -2 5M1292 934l-4 4 -8 -2M1945 1512l0 3M2154 1458l4 1M1786 1295l-12 5M1634 1540l-7 2M1905 1152l-6 4 -4 7 -5 -1M1593 1152l-7 11 8 2 1 3M1880 1407l8 1M1438 1184l1 1 5 -4M1517 886l2 3 3 0 2 -2M1607 1387l-2 0 1 1M2280 1401l3 0 1 -6M2331 1163l8 6M2175 959l4 2 -2 1M1422 1070l3 1M2098 1546l3 3 -4 4M1914 847l7 2 2 -6 2 -1M1416 988l3 6M2224 833l-1 2 0 2M2053 1568l-4 0 2 4 4 -1M2009 1113l-6 3M1663 1146l3 2 2 -2M2301 834l8 1 -2 -5 -2 0M2108 1410l-3 1 -4 -3M1562 1536l3 2M1404 1439l-7 3 -1 -1M2036 1333l-8 10M1845 1394l-13 0M2206 1044l-6 8M2205 1286l0 10M1532 1563l3 3 4 -1M1464 1413l-2 5M2319 1364l3 6 6 2M1256 1147l2 3 -1 3M1905 1178l2 0 0 -4 -2 -3M1789 1245l6 12M1785 1144l2 3 -2 1M1465 1122l-1 13M1220 1175l0 6M1439 838l-6 4M2028 1456l8 2M1726 1525l1 4M1528 1400l-11 7 3 3 -3 1M2325 1239l-4 3M2159 1422l6 3M1682 1199l7 5 4 0M1671 929l3 1M2334 955l1 6M2081 1252l1 5 8 -1M1199 977l7 3 3 5M1237 1044l-2 7M1231 952l-5 4 -8 -2M2329 1420l-1 2 -1 -1M1999 1491l-5 1 1 2M1713 875l3 5M2203 842l7 3 -2 1M2091 1128l-4 6M2175 1497l2 4M2260 971l2 1M1598 1278l4 1 2 8M1606 1321l0 4M1951 1023l-5 5M1248 1132l13 3M1316 837l-7 11M1658 1416l-3 1 0 6M1599 1344l4 3M1402 984l2 7 -4 1M1443 1295l-7 7 4 3M1675 923l6 3 0 -6M1211 972l4 12M2026 1279l-9 5M1560 992l-3 7M2150 1052l-5 4 5 4M1401 1079l-3 2 2 1 4 -3M1606 1541l7 7M1951 1412l-1 5M1852 1034l-6 0M1542 1430l5 3 -1 2M2005 1534l1 3 2 -1M2248 911l-3 5M1567 1432l-3 5 -4 -2M2263 1112l1 13 5 0M2160 1315l10 0 1 8 -2 3M1579 1123l-4 1M1966 1420l1 10M1973 1208l0 2 -2 4M2012 1084l3 1M1548 1126l2 0 3 -5M1480 1320l3 1 2 5M2146 1469l-2 10M1588 1578l-5 0M1789 1301l-2 3M1756 919l-4 1M1876 1571l1 1 3 -4M1864 1057l-6 2M1432 1269l1 2 -3 4 -3 -3M1345 1154l4 1 5 -3 0 2M1829 1402l4 2M1577 927l-2 1M1268 1132l0 13M2011 891l1 4 -2 2M1297 1414l2 5M1646 1088l2 4M1987 1281l-5 5M1978 1031l2 1 4 -7M1497 920l3 5 3 -4M1888 1336l-13 3 -2 -2 -1 2M1736 1341l-3 1M1627 982l-3 1 -1 6M1708 1573l-3 7 -2 -1M1752 974l-5 2 -2 0M1312 1186l-13 3 -1 6 -5 -1M1499 1438l3 5 4 -4 1 4M2277 850l-2 3M2000 1352l6 2 6 -1M1733 862l-10 8 5 3M1694 1372l5 4 -2 5M1320 833l4 3 5 -2M2294 1259l-1 2M1267 1009l2 3 1 -1 2 1M2002 1340l6 5 2 -6 -5 -2M1483 1391l-1 5M1303 1209l-6 8M1852 987l-4 9M2200 1427l10 2 5 -1M1744 980l-5 8 4 0M2071 829l-2 1M2020 1282l-8 6M1987 944l-2 8M1778 1239l1 3M1757 1406l0 5 6 -1M1617 1416l-5 3 2 2M2114 1394l2 13M2245 1428l-6 3M2301 1040l10 1M1652 1351l-3 2M1713 1068l5 9M1775 1584l-2 0 -5 6M1691 866l-3 5 2 1 0 -3M1790 910l6 1 -1 -4 2 -5M1972 1208l-1 3 1 3M2136 961l7 3M1673 1428l1 6M2221 1109l4 5M1268 1271l5 0 -2 8M1359 1183l2 4M1321 1009l3 1M1876 1052l-7 2 2 -8 -4 -3M1200 1238l3 5 3 -1 0 -4M1574 1337l-1 2 3 1 4 -2M2023 834l-3 0 -5 -3 -4 1M1658 1284l4 0 3 7M1381 824l9 5 -3 4M1286 971l-12 4 -1 3 1 2M1553 1234l-5 3M1592 923l1 5M1212 919l-7 0 1 4M1339 1399l-1 2 -6 2 -5 -2M1749 1489l-1 2M1680 1523l-10 8 3 3M1504 1215l1 5M1893 1088l2 5M1223 1474l-13 1M2318 1139l-1 2 -6 -6M1668 1574l3 2M1428 1008l-1 3M2145 1541l-8 2 -1 2M1285 965l7 2M1358 839l-2 7M2227 932l3 5 -5 4M2131 1087l2 2 -3 2 -3 -1M1731 943l5 4M1560 1005l1 13 6 1M2334 1157l6 4 1 -1 2 4M2253 1499l-4 0M2267 1034l-7 3M1245 1340l4 9 3 -3M1339 940l-3 1M1823 911l1 1M1764 1088l6 3M1627 1081l7 4M2073 1456l-3 6 1 5M1890 926l-1 3 2 1 1 -3M1426 1209l3 4 -3 0 0 3M1376 1188l-6 4 5 2M2059 1573l-1 3 2 3 -3 1M2334 1104l-5 5M1645 1173l1 2 -2 2M2218 1346l-6 8M1326 1083l3 1 -3 5M1251 1123l4 0 2 3M1677 1277l-2 4 1 5 4 1M1739 1228l8 3M2294 1257l-1 2 -3 -2M1337 974l3 3M2167 1080l1 5M1367 1366l7 4M1433 879l4 9M1965 1511l-1 4 -6 1M1203 1148l10 2" fill="none" stroke="#ff0" stroke-width="2.8"/>
<path d="M1954 1269l3 -2 1 2 -2 2zM2051 1504l1 -3 2 2 0 2 0 3zM2049 1541l0 -1 6 0 0 2 -5 0zM2225 1455l-1 -4 4 0 1 3zM2323 1403l-1 -2 2 -2 3 2 0 1zM1935 1393l-4 0 6 -2zM1782 1122l-1 -2 3 1 2 2zM2017 1530l2 -1 2 -1 0 4 -3 2zM1613 1562l-1 -2 4 0 0 2 -2 1zM2093 965l1 -3 2 1zM1218 866l-1 -1 0 -1 2 0zM1225 1079l-3 -5 3 -2 3 0 -2 3zM2182 1484l0 -2 2 0zM2257 1424l-3 -2 1 -2 3 0zM2305 1409l0 -1 1 -2 2 4zM1374 1132l1 -6 2 2zM1990 1078l-1 -2 1 -3zM1820 1446l2 -2 4 0 -2 2 -1 2zM1651 1234l-3 1 -2 0 -1 -2 3 -1zM1910 1501l1 -5 2 2zM2072 913l-1 -2 5 -1 0 3 -2 2zM1562 983l-5 -3 4 -5zM1480 1294l-4 1 4 -3zM1758 1262l3 0 1 0 1 1 -3 2zM2160 1572l-2 0 -3 -1 0 -2 3 0zM1717 1447l-1 -3 1 0 2 0 0 2zM1337 1024l4 -2 -1 3zM1531 1109l-2 1 -1 -3 5 -1zM2198 1534l0 -1 3 1 -1 2zM1273 1327l-2 0 0 -3 1 0 1 1zM1916 1008l-2 -6 4 1 0 3zM2101 1256l-1 -4 1 1zM2080 1227l-1 -3 0 -2 3 0 -1 4zM1651 1116l1 -3 1 1 0 5zM2130 974l0 -5 3 1zM1821 1545l-3 0 0 -2 2 -1zM1711 1400l3 -3 4 2 1 1 -6 1zM1710 1118l-1 -1 0 -4 2 0 1 3zM1710 1145l0 -2 2 0 0 3zM2145 1301l-1 -2 1 -4 1 2 0 3zM2198 1179l-2 0 -1 -3 3 -1 1 2zM1557 933l3 -2 -1 4zM1284 902l1 -4 4 1 0 2 -3 2zM2026 1123l-1 -3 -1 -5 2 1 0 3zM1367 952l2 -1 1 3zM1268 904l-2 -6 1 -3 2 5zM1572 1261l-2 -1 3 -1zM2242 849l-1 -2 5 -1zM1262 986l0 -3 4 2 -1 3zM1802 1355l0 -3 3 1 -1 1zM1759 1111l-3 1 -2 -3 3 -2 2 3zM1694 1097l-1 -5 5 3zM2208 1158l-2 -2 1 -2 1 1zM1336 839l1 -3 3 5zM1397 1092l-3 -1 -3 -1 1 -1 3 0zM2244 899l1 -2 2 0 1 4 -2 1zM1966 1411l1 -2 4 -1 -1 2 -1 2zM1483 1169l-2 -2 4 0zM2285 866l2 -2 2 2 -2 4zM1444 1532l4 -5 1 1zM1761 1166l-2 -2 0 -2 3 1zM1313 1142l-1 -3 4 1 -2 2zM2169 1417l-1 -4 1 -2 2 1 0 2zM1891 1581l-4 -3 4 0zM1755 1195l0 -3 4 -4 0 3 0 2zM2185 1140l2 -2 4 2 -3 1zM2244 1267l-1 -2 3 -2 -1 4zM1949 1272l-2 -4 2 -2 2 3zM1906 1276l0 -2 2 0 2 1 -1 3zM2144 1281l-2 0 0 -2 2 -2 3 3zM1923 1514l2 -3 2 2zM2331 1163l-2 1 -1 -2 0 -2 4 2zM1228 1443l-3 -1 5 -2zM1877 1468l0 -2 1 -1 1 3zM1353 1241l-3 -1 -3 -3 1 -2 4 2zM1625 1214l-3 1 -1 -2 1 -1 2 0zM1365 904l3 -3 1 -3 0 2 0 3zM1731 1202l-4 -3 3 -2zM2280 1237l-2 2 -5 -4 5 -2zM1727 1503l-1 -4 2 -1 2 4zM1470 1517l-4 1 1 -3 2 -1zM2016 1099l-3 1 -3 0 2 -4zM1498 1018l-3 0 1 -2 2 1zM1260 1028l0 -3 3 4 -1 2zM1637 1376l-1 -2 2 -2 1 2zM1528 1518l2 -3 2 1zM2052 1369l-2 -1 -1 -2 0 -1 4 2zM1695 1355l-1 -2 1 -2 4 3zM1670 897l1 -2 1 0 2 3 -4 1zM1324 855l3 -3 4 -3 -1 3zM1220 1096l-2 -1 -3 -1 1 -3 3 2zM2149 1475l-1 0 3 -3zM1416 1327l-1 -2 0 -3 1 0 2 1zM1368 1243l0 -2 6 -1 -3 3 -2 2zM2104 1242l-2 -2 0 -2 3 1zM1279 1291l1 -2 2 -2 0 2 -1 3zM1345 830l-2 -3 5 2zM2147 835l2 -3 3 3zM2172 1097l6 -3 1 2zM1326 1146l1 -3 1 1 1 1 -1 1zM2217 1141l2 -5 2 6zM1314 852l-3 -1 2 -2zM2320 1412l0 -2 6 -2 -3 4zM2215 1466l2 -2 4 -2 -1 2 -2 2zM1590 967l-1 0 -1 -1 0 -2 4 2zM2268 963l-3 -1 0 -2 2 1zM2278 1392l1 -3 4 4zM1231 1234l-3 -2 -1 -3zM1969 886l-1 -3 4 0 1 2 -2 2zM1257 1197l0 -2 0 -1 2 1 2 1zM2064 1176l-2 -1 2 -2zM2071 1424l-4 -3 3 -3zM1978 919l-4 -2 5 -3zM1419 1124l0 -2 2 1 0 2 -1 2zM1655 1505l-7 -2 6 -1zM1722 1026l-2 -2 3 -2zM1938 1572l-3 0 2 -2 1 1zM1237 1232l-1 1 -2 -1 1 -2 1 0zM1339 1253l-1 -1 2 -2 1 0 -1 2zM2106 1576l2 -6 3 1zM1858 903l-2 -2 1 -3zM1961 1069l1 -3 3 0 0 1 -1 2zM1437 921l-4 0 -1 -2 -1 -4 5 3zM1849 1565l-1 2 -2 -2 1 -3 1 1zM2272 1390l0 -2 3 -1 0 2zM1332 1042l-4 1 0 -4 3 -1 2 1zM2115 1287l1 -1 1 2zM1525 1110l-3 -3 4 -3 4 3 -3 3zM2190 1387l0 -3 3 -2 2 1 -2 3zM1222 1354l-4 0 -1 -3 1 -1 3 1zM2336 1409l0 -4 4 1zM1804 1358l2 -4 3 0zM1975 1543l-1 -1 1 -2 1 1 1 1zM1692 1013l-2 1 -3 0 2 -2 1 -1zM1315 1092l1 -3 0 2zM2052 895l0 -2 3 0 0 2 -1 0zM2095 1076l-1 1 -1 -2 2 0 2 2zM2235 1503l-2 -1 1 -2 2 -1 1 3zM1387 1585l-3 0 5 -3zM1585 1323l0 -5 4 -1 -1 2zM1575 924l-7 -1 5 -3zM2132 1239l0 -2 1 -1 2 3zM2112 1144l-2 -5 2 1zM1954 1423l3 -5 -1 4zM1691 1390l-1 -4 -1 -4 2 -1 1 4zM1214 1161l-4 0 -3 -2 2 -1 5 1zM1406 846l-2 1 -1 -2 2 -2zM2100 1200l2 -6 -1 7zM2120 1337l-1 -3 1 -3 2 -1 1 3zM1751 981l2 0 3 -1 0 3 -1 1zM2134 878l-2 2 -2 0 1 -5 2 0zM1675 1224l-1 1 -1 -1 1 -2 2 1zM2196 1594l-5 -1 0 -3 3 -1 3 1zM1837 848l-2 1 -5 -2 2 -2 2 0zM2182 1029l1 -2 3 3zM2027 918l4 -3 1 3zM1562 1325l-1 -3 1 -1 1 2zM1705 860l-2 -2 3 0 1 0 -1 2zM2233 1144l-2 -2 3 -2zM1646 1204l0 -4 1 4zM1994 866l-2 0 -5 -2 5 1zM1690 1320l1 -3 3 1 -1 2zM1991 1364l-2 -1 2 -4 2 1 -1 4zM1798 1210l-4 0 2 -4zM1399 1086l0 -1 1 -2 2 2zM2109 1137l-2 -1 3 -4 2 2 1 4zM1785 1599l-1 -3 3 -1zM1233 1301l-2 0 -2 -2 4 1zM1828 966l-2 -2 7 -1zM1488 1161l-4 -3 6 -1zM2093 914l-3 2 0 -4zM2309 1402l-1 -2 1 -1 2 2zM2150 1282l-3 4 2 -6zM1658 1258l1 -3 3 1 2 3zM1701 1148l0 -2 1 -1 1 1 0 2zM2015 1196l-1 1 -1 -3 1 0 3 2zM2026 1168l1 -3 3 4zM1965 1134l-2 -2 3 0zM2309 1111l-3 1 3 -3zM1940 1598l3 -1 1 2zM1208 927l-2 3 -3 -3 2 -1 1 -1zM2201 1019l-3 -1 2 -1zM1703 834l-4 -2 -1 -2 3 1zM1799 865l4 -3 3 2 -2 1zM2040 1580l-3 -3 1 -2 4 0zM1784 1452l0 -2 2 -1 1 1 -1 1zM2132 1003l2 -3 3 -2 1 3 -2 2zM1303 930l-6 -1 4 -3zM1605 1395l-2 1 -2 -3 4 0zM1571 1569l2 -2 4 2 -3 3zM1367 935l-4 0 -3 -1 3 -1zM2193 1421l1 -5 1 2zM2291 1426l1 -6 4 0zM1710 1104l6 -1 -2 2zM2316 1032l-3 1 4 -4zM1284 865l-1 -2 2 -1 1 2 -1 1zM2272 1058l-1 1 -4 -1 1 -1 3 -1zM1359 1488l1 -2 2 2 -2 1zM1906 1543l-3 -2 -3 -3 1 -2 4 1zM1292 1302l-5 -1 -1 -3 4 0zM1471 1023l-3 -1 1 -2 3 1 0 2zM2042 1431l-3 -1 0 -2 0 -1zM2278 1239l-3 1 4 -4zM2270 1477l-3 -1 4 -4 2 3zM1788 1170l-3 0 2 -3zM1510 906l-2 0 -2 -1 2 -2 3 1zM1212 1187l1 -3 4 -2 -1 3 -2 4zM2125 1044l2 -2 3 -1 1 2 -4 1zM1751 1230l-2 -3 1 -3 2 2zM2151 1218l-1 -1 2 -1zM2278 1048l-8 3 3 -3zM1530 1365l-1 -2 1 -4 2 1zM2192 901l-6 2 2 -3zM1345 1222l-3 -8 7 1zM1198 837l-4 -3 3 0 3 1 -1 2zM1547 1343l-2 1 0 -1 1 -2 1 1zM1812 1127l-1 0 -1 -3 1 -1 3 2zM1571 1302l-2 -2 0 -4 1 0 2 3zM1410 1450l-4 2 0 -5 4 0zM1720 1440l-1 2 -2 -2 0 -1 2 0zM1286 1476l-2 3 -2 -4 2 0zM1810 1479l-3 -2 1 -2 3 1zM1295 1305l-4 0 1 -5 4 2zM1866 1464l2 -1 0 3zM1485 1430l-3 -1 4 -2zM2338 983l-1 -1 2 -1 0 1zM1364 1190l0 -1 1 0 0 1zM2055 1437l-2 -3 -1 -3 2 -3 5 4zM2098 1361l0 -2 2 2 0 2zM1432 1054l2 -2 3 0 -1 2 -2 0zM2031 1453l-5 2 2 -3zM2013 1532l-5 2 -3 -3 5 -1zM1525 1582l3 -4 4 0 -3 5zM2097 1483l-2 -1 -1 -4 3 3zM2110 827l-1 -3 1 0zM1915 1553l-1 0 -1 -2 2 0 0 1zM1804 1486l-2 -3 2 -1 1 1zM2223 1555l-2 0 0 -2 2 -1zM1985 1223l-2 1 1 -6 2 1zM1595 1547l3 -2 2 1 -1 2zM1280 1479l-4 -3 1 -3 3 -1zM1394 1036l2 -1 1 2 -1 2zM2278 1400l0 -2 5 2zM1400 1171l-1 1 -3 -3 0 -2 6 2zM1297 849l-3 0 0 -2 2 0zM2235 849l-4 0 -2 -2 4 -2zM2049 1227l0 -2 4 3zM1637 1499l-1 -2 1 0 2 0 0 2zM1806 1543l1 -1 3 -3 1 4 -3 2zM1368 1494l-2 -1 1 -2 3 2zM1500 1067l-2 0 0 -2 3 0zM1879 1188l-2 0 2 -2 2 1zM2077 1097l-3 1 0 -4zM1745 1203l0 -3 5 -1zM1784 1480l0 -3 1 -3 2 0 -1 4zM2004 1431l1 -4 1 3zM1489 1372l3 -3 4 -1 1 2 -4 1zM1350 1513l-4 1 1 -5 3 -1zM1426 1146l-1 -3 2 -1 1 1 -1 2zM1237 1283l1 -1 3 1zM1979 1522l-3 -4 3 0zM2088 1596l3 -3 0 5zM1463 1039l1 -3 2 1 1 3 -1 1zM1732 1001l0 -4 3 -1zM1473 1463l-2 0 -2 1 0 -3 4 0zM1844 1048l-3 -4 3 0zM1801 1297l-2 3 -3 -1 -1 -4 7 0zM1513 961l-3 0 1 -3 3 -2zM1517 1283l-3 -2 -1 -2 6 -1zM2067 1077l-3 -1 -3 -3 1 -2 3 2zM1690 1193l-6 -3 7 0zM1724 1073l-1 -1 -2 -4 4 0zM1318 1067l1 -4 1 1zM1321 1261l4 -2 -1 2zM1200 1111l-1 -2 3 -2 1 1zM2289 953l-5 1 0 -1 1 -2zM2217 958l1 -2 2 -1 1 2 -2 1zM1770 852l2 -1 0 -2 3 4 -3 1zM2300 1100l-2 -3 4 1zM2021 1183l-2 1 0 -1 0 -2 2 1zM1405 1345l0 -2 3 -1 2 0 -2 2zM1942 1368l0 -3 3 3zM2072 913l-5 -1 2 -3zM2322 1586l-2 2 -2 -5 3 0zM1726 1342l0 -3 2 0 1 2 0 3zM1955 1432l-3 -1 1 -2zM1759 1582l-4 0 1 -1zM2072 864l1 -3 2 -1 -1 3zM1260 1401l-2 0 -1 -1 0 -1 3 0zM1197 1155l-5 0 0 -2 2 -2zM2059 1257l-4 0 2 -2zM1708 1558l-2 -2 2 -2zM1633 853l4 -2 -1 2zM1441 926l-5 1 2 -5zM1351 1386l0 -3 2 1 2 2zM1642 1423l-4 3 -1 -3 0 -3 5 -1zM1918 1483l-3 -1 -2 -2 2 0zM2178 1233l-4 -1 -1 -4zM1811 1007l3 -3 2 0 1 3 -2 1zM1251 1161l-2 -2 2 -1 1 1 0 2zM1201 1302l1 -2 2 1 1 1 -2 1zM1520 1102l-2 -4 3 2 1 3zM2232 1067l-3 0 -2 -1 3 -1zM1640 1390l-5 -4 5 1zM1324 932l-2 0 1 -2 1 0zM1399 1163l-2 0 -1 -1 2 -1 1 1zM1213 1078l-2 3 -2 -1 -1 -3 3 -1zM1936 1450l2 -5 1 2zM1193 973l0 -4 2 1 1 1zM2315 975l3 -1 3 0 -4 1zM2100 1171l-2 -1 3 0zM1889 830l-1 -2 2 -1 1 2zM1871 1202l-2 -2 2 0 2 0 1 2zM2235 1136l2 -8 2 6zM1851 1537l-2 1 -2 -1 -1 -1 3 -1zM2190 1038l2 -2 3 0 2 4 -4 3zM1910 933l-4 2 -1 -2 2 -3 2 0zM2112 855l-4 4 0 -7zM1693 1379l-1 1 -1 -2 1 -2 2 0zM2227 1384l-3 -2 2 -2 3 0 0 3zM1482 1237l2 -5 5 0 -2 4zM1608 1292l-5 1 4 -3zM1983 1071l-1 -4 3 1 0 2zM1382 1354l2 -1 1 1 -1 4zM2057 832l0 -3 2 0zM2134 885l-1 -2 4 -1 -1 3zM2136 1203l1 -2 2 0 3 1 -3 1zM1569 872l-1 -3 6 -1zM1982 1104l1 -4 3 3zM1995 855l1 -3 2 0 1 2 -1 1zM2292 1225l2 -1 1 2zM1423 937l-5 -1 3 -5zM2045 1573l1 -2 1 -1 0 2zM1377 1299l-3 1 -1 -2 2 -3 1 1zM1888 867l-1 -1 -2 -2 3 0 0 2zM1296 1402l-4 0 -4 0 1 -2 3 0zM1518 1182l-1 1 -1 -1 0 -1 1 -1zM1980 1536l-4 -1 5 0zM1308 1213l-2 -1 2 -4 2 1 1 4zM1208 1578l-1 -3 3 0 1 3zM1285 1450l1 -5 2 2 0 4 -2 2zM1408 1473l-3 1 0 -2 1 -1 1 0zM1300 1004l-3 -4 1 -1 2 1zM1948 1372l-5 -1 1 -2zM1809 1361l-3 -2 4 -1zM2202 858l-4 -2 3 -1 2 2zM2245 1262l-2 -3 1 -2 3 0 1 2zM1447 1172l-5 -2 1 -2zM1417 1195l7 -3 -2 3zM2336 996l-1 -4 5 4zM1908 1500l-3 -2 0 -2 3 0 2 1zM2020 1559l-2 0 -2 -2 3 -1 2 2zM1405 946l2 -1 4 -2 -2 3 -1 1zM2026 1510l3 -4 4 0 -5 5zM2003 1467l-3 -2 3 -3 2 2zM1934 1391l-2 3 1 -4zM2226 1462l-2 -4 0 -4 2 1 1 4zM1783 928l-5 -2 3 -1 2 -1 2 2zM2136 1120l-3 -5 4 1zM2111 1347l-1 -2 2 -3 1 1zM1879 1389l-2 1 0 -2 1 -2 2 3zM1841 843l0 -3 2 1zM2164 1362l5 -3 3 5zM2018 982l-5 -1 0 -4 5 -2 2 3zM1365 1228l-1 0 1 -2 3 -1 -1 2zM1944 1349l-3 -1 -2 -2 4 -2zM1949 1170l-1 1 -1 -2 1 0 1 0zM2229 1112l-1 -1 1 -3 2 1 0 3zM2341 1060l-2 -2 -1 -1 1 -3 1 3zM2115 1512l-3 0 -1 -2 2 -2zM1212 847l-2 1 -1 -2 0 -2 4 1zM1271 1238l-2 3 -1 -4zM1897 1127l-1 -1 2 -2 1 0 -1 3zM1439 909l1 -3 1 1 2 3 -2 0zM1583 917l-3 0 -3 -3 2 -1 4 2zM1799 1450l-2 0 -5 -2 2 -3 3 3zM1271 1149l3 -3 2 1zM1477 1021l-2 -3 2 -2 1 0 1 3zM1925 1377l-1 -2 -1 -3 4 3zM2132 1206l-1 -5 4 0zM2240 830l3 -3 2 2zM2317 1309l-1 -3 1 -1 2 -2 0 5zM2146 918l-2 2 -2 -2 2 -2 3 0zM1687 1406l-3 0 -3 -4 4 0zM2128 1584l-2 2 0 -3 2 -3 1 2zM2251 1209l-2 3 -1 -4 1 -3 2 1zM2128 1367l2 -4 3 2zM1288 1496l-2 -4 2 0 2 2zM2057 1577l0 1 -6 -2 2 -1 3 1zM1367 1056l-2 -1 1 -2zM1242 825l-2 -1 0 -3 2 1zM1375 858l4 -3 0 3zM1844 1557l-3 -3 2 0 2 2zM2301 1581l5 -4 1 1 -1 2zM1212 1127l-2 -3 3 -4 2 3zM2233 1338l-1 -3 3 -1 0 2zM2005 1414l-3 -4 5 0zM2107 1110l1 -2 2 1 0 2 -1 0zM1450 955l2 -3 2 0 -2 3zM1492 1228l-1 -4 3 1 -1 2zM1437 1293l-2 -1 2 -2 2 2 1 1zM1225 1479l1 -2 3 -1 0 2 -1 2zM2202 1356l-4 -4 2 0 3 0zM1390 1088l-5 0 0 -2 4 0zM2131 1530l-2 2 -2 -2 0 -3 3 0zM1717 1292l-1 1 -3 -1 0 -1 2 0zM1691 1527l-2 -1 2 -2 1 0 1 2zM1861 1387l0 -2 1 0 1 2 -1 3zM1606 915l-2 -5 5 1zM1614 1077l2 -2 5 0 -1 4 -4 1zM2070 1064l3 -2 5 1 -2 3 -3 1zM1391 1200l-2 -5 2 -1 2 1 1 4zM1405 904l-1 -3 2 0 3 2 -1 2zM2181 1541l-4 -2 3 -3 2 2zM2216 1594l0 -4 2 1 0 3zM1270 1206l-3 -2 2 -1zM1389 1105l-3 -2 0 -4 3 4zM2298 834l-1 -2 2 -2 1 1zM2270 850l0 -1 2 -1zM1279 912l2 -4 1 3zM1414 1353l-2 0 0 -2 3 -1 2 1zM2074 985l-2 -1 1 -3 2 1zM1295 1323l-4 1 -3 -3 6 -1zM1710 936l-2 -4 2 -1 1 -2 0 5zM1870 1417l-2 -1 -1 -2 1 -1 3 0zM1294 1113l-3 -2 4 -4 0 3zM2129 1599l-3 -4 4 -1zM1593 1106l1 -2 2 3zM1439 1156l-2 0 0 -3 2 0zM1907 1498l3 -6 1 3zM1357 1307l1 -3 2 1zM2292 1256l-1 -3 5 2zM2019 1442l0 -3 5 2zM1771 981l-1 -1 -1 -2 3 -1zM1439 1225l-3 -2 5 -1 2 1 -1 3zM1896 1458l-2 -2 -2 -3 5 0zM2202 1597l1 -2 1 2 -1 1zM1292 964l1 -1 1 -1 1 2 -1 1zM1820 1531l-2 1 -3 -5 2 0 3 4zM1699 1333l1 -2 3 -1 -2 4zM1555 1544l-2 0 2 -3 2 3zM2280 1107l-2 -1 1 -3 2 -1 2 2zM1838 1163l-1 -2 3 -2 0 4zM1900 1552l-3 0 0 -3 3 -1zM1531 1406l-3 1 2 -2zM1419 1462l0 -3 3 2 1 4zM1789 1146l-5 -3 4 -1zM1747 1536l-3 -1 0 -4 5 -1 0 5zM2068 1288l-2 -1 0 -3 6 1 1 2zM1197 1076l1 -3 2 3zM1996 932l0 -1 0 -3 1 1 0 3zM1224 1520l-2 -3 4 1zM1935 1370l-7 -1 8 -1zM1222 975l-1 -1 3 -4 1 4zM2167 1136l-2 -1 3 -3zM1816 1225l0 -2 2 -1 2 3 -1 2zM1383 1089l-2 -4 4 0zM1270 976l-1 -2 2 0 2 0 -1 2zM1404 927l1 -5 2 -2 -1 5zM1959 848l5 -3 2 1zM2156 1467l-2 1 -1 -2 2 -1zM1660 1001l3 -5 1 2zM1995 1275l-1 0 2 -4 2 -2 0 6zM1586 908l-5 0 2 -2zM2255 924l-2 -2 0 -2 2 1 1 0zM1419 1461l-2 2 0 -3 2 -1zM1307 1075l-1 0 1 -3 1 0 2 2zM1605 1359l-1 1 -2 -1 1 -3 2 1zM1375 963l-3 -4 1 -4 2 4zM1929 1486l-1 -2 1 0zM1505 966l1 -3 3 0 0 5zM1943 1308l-2 0 -1 -3 4 1zM1392 864l-3 0 0 -6zM1629 863l-4 2 0 -5zM1818 826l1 -2 3 -2 2 -1 -3 5zM1487 870l1 -4 3 1 -1 2zM1827 1330l4 -3 3 -2 2 2 -3 2zM1672 1144l-1 -3 3 1zM1802 1373l-1 -4 1 0zM1791 1489l-2 -2 3 -2 2 1 -1 3zM1826 917l-3 1 0 -4 4 -2 0 2zM2020 1550l-1 -4 3 1zM2314 1563l-3 0 -2 -2 1 -2 5 3zM2300 1235l-3 0 0 -5 4 1zM1393 825l-2 -3 4 0 0 3zM1204 1252l-3 -1 1 -1 3 -1zM1249 1088l1 -2 1 2zM1360 1253l-1 -1 2 -2 2 2 -2 1zM1709 1404l-4 2 -3 -2 0 -2 3 -2zM1936 853l1 -8 2 1zM1622 1373l-1 3 -2 -3 1 -1 2 -1zM1982 1479l-3 1 0 -4 1 1zM1570 999l1 -3 2 2zM1379 1349l2 -2 3 1 -2 3zM2050 1488l-3 -1 1 -1 2 -1 0 1zM1584 902l-2 -4 2 1zM1921 1353l-3 -4 1 -2 1 1 2 2zM1299 901l-3 -3 3 -3 3 5zM1246 873l0 -2 1 0 1 1zM1276 1574l-3 -3 2 -2 4 1 -1 4zM2118 1267l0 -3 1 -4 2 2 0 3zM1405 1118l-4 -2 -2 -2 3 0zM1989 1282l3 -3 2 0 -1 2zM1199 964l-2 -1 1 -3 2 0 0 2zM2191 1506l-5 -3 2 -1zM1560 904l1 -3 4 1 -1 2zM1380 1280l-2 -1 1 -2 3 0zM1472 1063l-4 1 -3 -2 0 -3 3 0zM1343 1220l-2 2 -2 -4 1 -4 4 4zM1234 1050l-5 -1 -1 -2 4 -2zM1484 987l-2 -3 5 1zM2185 1423l-3 -3 6 -2zM2143 1539l-3 -1 5 -2zM1703 1592l-5 5 -3 -6 5 -2zM1625 1172l-3 1 -2 -2 2 -2 3 1zM1652 1175l1 -5 5 0zM2147 1428l1 -4 5 -3 -2 4zM1999 1170l-2 2 -1 -4 2 -3zM2045 1598l-2 1 -1 -2zM1928 1183l2 -4 2 2zM2309 938l-3 0 0 -4zM1423 875l-1 1 -3 -5 0 -2 4 4zM2313 1274l0 -1 3 -3 0 2 -2 2zM2264 1444l3 -7 1 3zM2104 1458l-4 -2 1 -2 3 1zM1325 1226l-2 0 2 -2 0 1zM1435 1432l-1 -2 0 -2 1 1 2 1zM1953 1368l2 -1 2 2zM1213 1055l-4 -3 2 0zM2034 984l-4 -2 0 -5 3 4zM1362 1436l-2 2 -4 -1 2 -2 3 0zM2266 1133l4 -5 1 4zM2268 1449l1 -1 2 0 0 2zM1954 1425l-1 -2 4 0 0 2zM1233 1474l-2 0 1 -2 3 1zM2307 1513l-1 -1 3 -4 0 3zM2341 1522l-2 0 -1 -4 2 1 2 1zM1977 1596l1 -3 2 1 -1 3zM2069 844l2 -1 3 0 0 1 -2 0zM1809 1053l2 -4 2 2 0 3 -2 0zM1408 1085l-2 3 -2 -3 3 -4 2 2zM1364 1037l4 -6 0 3zM2256 934l-1 -1 1 -2 2 0 0 2zM1859 889l-2 -1 -1 -3 2 2zM2188 985l2 -3 2 3zM1630 1367l2 -6 1 3zM1796 1457l0 -4 2 3zM1235 967l-1 -1 1 -2 1 1zM1316 1454l1 -1 2 -1 2 2 -3 2zM2305 1481l2 -3 2 0 1 3 -2 1zM1958 1498l-1 -6 5 3zM1893 1216l-4 -1 2 -3zM1686 1372l-1 -3 3 -1 1 3zM1683 1520l-1 -1 0 -2 2 -1 1 2zM1630 1507l-1 -4 4 1zM1294 1184l-3 -2 0 -3 4 0 1 4zM1978 1192l2 -3 2 2zM1409 1129l-2 2 -2 -3 2 -2zM1883 922l-2 5 -2 -3 0 -3 2 0zM1978 1473l0 0 3 -1zM1229 1341l1 -3 0 4zM1511 892l-2 -2 3 -2zM2297 1581l-2 1 -1 -2zM1719 1010l-1 -1 1 -1 2 0 -1 1zM1291 910l0 -1 3 -1 -1 3zM2008 1203l2 -1 3 -1 1 1 -3 3zM2115 926l-1 -1 1 -1 2 -2 -1 4zM1448 1209l-3 -3 4 -1 2 2zM2292 1539l-2 -1 -1 -2 2 -1 1 2zM1547 890l0 -5 3 -3 1 7zM1399 1124l-4 0 -3 -3 2 -2 4 1zM1480 1048l-2 -1 0 -4 3 0 -1 3zM2312 1138l-1 -2 4 -2zM1992 1322l1 -3 2 3zM2257 1071l-2 -1 1 -3 1 1zM2287 1050l-2 0 0 -3 2 -1 1 2zM2149 1502l0 -3 5 4zM1866 1253l-3 3 -1 -1 1 -2 2 -4zM2180 1219l0 -2 1 -4 2 3zM2337 1473l-2 -2 1 -2zM1966 1349l-2 -5 4 1zM1614 1531l2 -2 4 0 -1 3zM1931 1287l-3 -2 1 -2 1 -1 1 2zM1866 1517l2 -5 3 1zM2280 863l-2 0 1 -2zM1973 1381l-6 -4 2 -2 4 -1zM1782 1211l-2 -1 0 -5 4 0 2 4zM1353 1353l-3 -1 -2 -3 4 1zM1529 1283l-2 -3 3 -1 0 2zM1844 944l-1 1 -2 -2 2 -2 2 -1zM2144 976l1 -2 2 -1 1 5zM1812 1091l4 -3 0 4zM1960 1198l-2 -4 2 -1zM1381 1413l-7 0 -1 -2 5 -1zM1199 1064l-1 1 -2 -2 1 -2 3 0zM2038 1536l2 -2 0 3zM1972 1381l0 -4 3 2zM1469 1205l-3 2 -2 -2 2 -1zM2179 1015l1 -2 2 0 2 2 -4 0zM2259 1167l-2 -1 0 -3 3 1zM1625 828l-1 -3 1 -4 4 0 0 3zM1256 1143l-2 -3 2 -1 1 2zM2136 1257l-3 -3 2 -2zM1446 1023l0 -1 2 -2 1 4 -2 1zM1854 1170l-2 1 -1 -3zM1451 1015l-2 -2 2 -2 1 2zM1669 1066l-4 1 1 -3 4 0zM1775 1000l1 -5 1 2zM1658 1224l-3 1 1 -3zM1226 959l-1 1 -3 -1 1 -1 2 -1zM1489 1347l1 -4 2 1zM2063 1176l1 -3 3 1 0 2zM1920 1543l-1 2 -3 -1 1 -3 3 -2zM1208 1239l-2 -1 1 -3zM1833 1074l-1 -3 3 3zM1813 1553l-1 2 -2 -1 1 -2 2 -1zM1654 1317l-3 -2 -1 -3 6 2zM1952 1305l-4 -4 2 -2 4 0 1 3zM1463 1004l0 -4 3 1 2 3zM1510 1088l1 -2 2 1 -1 2zM1515 1291l5 -3 2 4zM2071 1519l-2 0 -1 -2 5 0zM2238 864l-1 -3 3 -1 0 5zM1196 931l-4 0 0 -3 3 0zM2055 1216l2 -2 3 1 1 3 -4 3zM2055 1592l4 -1 -1 2zM1276 1336l-2 -2 4 -3 2 -1 0 6zM2090 841l3 -3 -1 3zM2007 1208l3 -1 0 2zM2167 900l-1 0 -3 -1 2 -2 3 2zM2107 843l0 -1 3 0zM1859 1390l-3 0 2 -2zM1649 1199l1 -2 2 0 0 3zM1850 1312l-5 -3 6 -3zM1994 1452l-4 -1 -2 -2 3 -1zM1729 900l-2 -1 2 -3 1 -1 1 3zM1920 1081l0 -2 2 0 2 3zM2032 915l1 -5 1 4zM1266 1530l2 -2 3 2zM1462 904l-2 -1 3 -2 1 1 -1 3zM1561 1309l-2 -2 -2 -4 3 -1 0 4zM1834 1275l-3 -1 -1 -2 4 -1 1 2zM1651 1595l2 -3 1 4zM1668 1207l0 -4 2 0zM1321 1335l-3 -3 2 -3 2 4zM2285 1122l0 -3 2 -1 0 3zM1496 1369l-4 0 0 -2 3 -1 3 0zM2026 1029l2 -2 2 1zM1576 1204l-1 1 -3 -1 0 -3 3 1zM1378 1468l-2 2 -2 -1 0 -2 2 -1z" fill="#ff0"/>
<path d="M1321 1047l-3 4 -1 7 -9 3 -11 3 -7 -4 7 -8 -4 -4 2 -3 9 -5 4 4 6 1zM1532 1048l0 6 -7 1 -5 -3 -5 -5 -4 -2 0 -8 6 -1 8 -4 12 6 -3 6zM1254 1073l4 2 -12 6 -4 6 -9 -1 4 -7 -9 -4 5 -4 12 -1 4 2zM1246 1067l-2 6 -2 8 -3 -1 -1 -10 -1 -8 3 -3 2 1 2 1zM1499 1150l-2 4 -9 -1 -6 -4 -14 1 4 -5 2 -2 5 -3 3 -6 14 6 2 4zM1402 1178l3 5 -12 2 -7 0 -7 -6 3 -5 2 -2 -4 -7 9 -2 7 8 6 1zM1519 1166l0 5 -3 3 -9 5 -3 -4 -8 2 3 -6 7 -3 6 -8 7 2zM1569 1182l3 5 -8 4 -10 2 -4 -6 -1 -7 3 -1 3 -5 4 2 8 1zM1336 1206l-4 5 2 4 -10 4 -6 -1 -3 -3 -6 -2 5 -4 6 -4 6 -3 10 -2zM1348 1168l4 3 -12 -1 -6 1 -12 -2 9 -1 0 -2 9 -2 4 3zM1314 975l3 10 -5 3 -4 -2 -3 -4 2 -7 2 -6 3 -9 4 11zM1318 988l-6 1 -3 4 -9 -3 -4 -2 -2 -2 7 -4 7 1 8 2zM1214 973l-2 4 -5 -2 -4 -2 0 -4 4 -3 3 2zM1210 998l-3 2 -4 1 -1 -4 0 -6 5 1zM1473 1049l-5 3 -5 -1 1 -8 4 -3 3 0 2 5zM1464 960l-3 3 -6 1 -3 -5 4 -3 4 2zM1517 881l-1 2 -7 0 -1 -2 1 -4 5 0zM1553 1077l-2 2 -4 3 -3 -3 -2 -5 4 -2 5 2zM1504 1079l0 4 -8 -1 -3 -4 3 -1 5 -1zM1448 1089l-5 -2 -5 -6 -6 -6 4 1 4 1 8 9zM1452 1084l-1 5 -4 3 0 -4 2 -7 3 -3 4 -2zM1407 1126l-2 4 -2 1 -7 1 1 -6 3 -5 2 -2 4 -1zM1535 1008l-2 2 -3 -1 -2 -2 1 -3 5 1zM1318 1074l-5 3 -2 2 -2 -4 1 -4 5 -2zM1261 952l-4 3 -1 1 -13 6 -2 -1 1 -2 11 -4 6 -3zM1258 962l1 1 -6 2 -13 6 -1 -1 3 -2 10 -5 6 -3zM1426 899l-1 7 -3 2 -6 3 -1 -4 2 -5 3 -4zM1456 897l-5 1 -5 1 -3 -2 1 -2 6 1zM1368 895l-5 1 -3 1 -2 -4 0 -2 5 0zM1384 1051l-3 7 -3 3 -3 -7 -3 -1 2 -5 4 0 4 -1zM1474 1063l0 3 2 9 -5 -5 -4 -5 0 -7 2 -1 2 0zM1504 1063l-2 3 -5 -1 2 -6 5 0 2 0zM1225 947l-1 2 -6 1 -4 -2 -1 -2 3 -1 5 1zM1483 936l0 4 -7 0 -3 -2 1 -4 3 -1 4 -2zM1522 923l-3 8 -4 5 -2 -7 0 -7 0 -8 2 -3 4 7zM1560 916l-1 1 -5 2 -1 -3 1 -3 6 1zM1362 956l1 4 -6 -2 -1 -1 2 -4 4 1zM1398 963l-3 1 -5 0 1 -2 4 -1zM1430 1065l-2 2 -7 3 -3 0 -7 0 8 -3 8 -3zM1449 1000l-4 6 -1 -2 1 -4 2 -4 2 1zM1355 998l-2 3 -1 1 0 -4 0 -5 1 2zM1330 984l3 3 -4 0 -2 0 -2 -6 0 -4zM1239 999l-3 2 -4 0 -1 -2 2 -2 4 0zM1220 1019l-2 7 -2 3 -1 -6 -1 -8 3 -3 2 4zM1207 1012l-2 2 -5 2 -4 -4 3 -3 6 0zM1299 1159l-7 -2 -5 -3 -8 -6 1 -2 8 4 3 3zM1484 1117l-2 2 -6 0 -10 -1 3 -1 0 -2 5 0 6 1zM1515 1113l-6 3 -3 2 -6 -3 -1 -5 8 0 4 -1zM1350 1119l0 2 -6 0 -3 -3 3 0 5 -1zM1377 1116l-3 1 -3 1 3 -5 2 -1 2 0zM1318 1127l-1 5 -1 3 -2 -2 -2 -9 0 -6 4 4zM1223 1163l-1 4 -3 7 -4 -5 -1 -6 0 -5 5 -1 4 -2zM1251 1136l-8 3 -4 1 -5 -2 -8 -2 7 -2 7 0 8 0zM1417 1178l3 6 -1 4 -4 -2 -3 -10 -2 -5 4 1zM1315 1168l-3 1 -3 2 -2 -3 2 -3 4 2zM1271 1172l-2 3 -3 0 -1 -2 1 -2 3 0zM1230 1198l-2 5 -4 1 -2 -5 0 -4 5 2zM1444 1213l-4 3 -5 1 -3 -3 0 -2 5 -4 6 2zM1566 1207l-2 4 -6 2 -5 -1 -6 -3 5 -4 7 1 6 -3zM1416 1217l0 4 -5 0 -3 -3 4 -3 4 -2zM1387 1216l-9 1 -4 2 -6 -2 4 -3 4 -3 3 3zM1517 1218l-1 1 -5 0 -2 -1 3 -2 3 -1zM1590 966l-1 6 -3 0 -1 -5 1 -2 4 -2zM1557 958l-4 1 -5 1 1 -3 5 0zM1740 938l5 8 -3 3 -6 14 -8 -10 -3 -4 -13 1 -3 -5 2 -10 7 -6 9 2 2 -9 10 -4 8 5 -6 12zM1761 958l-8 -5 -2 4 -8 -10 -7 -5 -6 -8 6 0 5 3 6 2 9 6 2 6zM1765 955l-3 2 -1 8 -5 -7 0 -4 -1 -7 4 -2 5 2zM1747 921l-5 0 -7 -1 -12 -5 -1 -4 4 -1 11 2 5 4zM1697 1086l8 5 -11 5 -8 0 -6 -2 -9 4 -8 -4 5 -4 6 -2 -1 -12 7 0 13 3 -2 5zM1709 1094l0 4 -7 -3 -4 -2 -6 -4 9 0 7 -1 4 3zM1611 962l-3 2 -4 3 -6 2 -12 2 0 -5 1 -6 7 -6 6 4 6 0zM1918 936l1 5 -4 4 -1 6 -5 -4 -1 -5 -5 -8 3 -4 3 -6 2 1 5 2zM1942 907l-2 5 -3 1 -2 -2 -1 -5 3 -1 4 -1zM1739 892l-1 2 -4 3 -8 -2 -4 -2 2 -6 9 -2 9 1zM1715 895l-2 4 -3 4 -5 -5 2 -3 2 -4 7 0zM1798 1013l-3 5 -5 2 -1 -7 2 -3 4 -4 6 -3 0 5zM1817 1019l1 2 -8 5 -8 4 -1 -2 3 -5 3 -4 4 2zM1667 998l5 10 -6 -2 -3 4 -4 0 -2 -13 1 -6 1 -5 5 8zM1709 1007l-4 5 -2 2 -6 -1 4 -5 0 -13 5 3 2 3zM1723 981l-4 3 -2 4 -4 -2 -2 -3 2 -12 4 -1 4 4zM1768 987l-2 3 -3 1 -1 -5 1 -4 2 2zM1619 1168l-3 5 -8 -1 -8 3 -8 1 -1 -5 2 -2 4 -3 8 -2 9 0zM1957 1099l-3 6 -4 -1 -6 -3 -5 -4 1 -6 6 -5 3 -2 5 2 1 8zM1929 1139l-2 3 -10 -4 -11 -2 1 -3 1 -3 5 -3 12 5 -2 2zM1900 1074l2 5 -8 -3 -4 -3 -5 -3 8 -3 3 2 9 0zM1747 1210l-6 3 -4 1 -8 -2 -2 -3 4 -3 5 -3 3 2zM1687 1126l-2 3 -5 2 -5 1 -1 -3 6 -3 6 -1zM1651 1205l-3 5 -4 0 -1 -5 0 -2 5 -1zM1928 1022l2 6 -2 3 -4 1 -2 -8 -4 -8 4 -1 1 -1zM1940 1182l-1 4 -3 2 -4 -4 1 -5 3 -2 2 1zM1809 1181l-2 5 -4 -1 -3 -2 2 -4 4 -1zM1652 884l-1 2 -4 1 -5 -3 3 0 5 -1zM1775 909l-1 3 -2 -2 -3 -3 2 -2 5 -1zM1611 945l-5 1 -3 0 -3 -1 2 -2 6 1zM1800 930l-3 1 -6 0 1 -2 2 -1 3 0zM1841 935l-3 1 -4 0 1 -5 4 -4 4 3zM1929 960l-8 2 -6 1 -1 -2 -3 -2 4 0 6 0zM1944 965l-3 1 -4 -3 1 -1 2 -2 4 3zM1850 1000l-1 2 -2 1 0 -6 3 -1 1 -1zM1896 985l-4 5 -2 -2 -3 -4 2 -2 4 0zM1816 998l-1 3 -4 0 -3 -2 2 -3 6 -2zM1744 1019l-5 3 -7 2 -6 0 -3 -1 3 -2 9 -4 5 1zM1699 1020l-3 3 -5 0 -5 -2 6 -2 2 1zM1650 1069l-5 3 -6 0 -4 -2 -3 -1 4 -2 5 2zM1626 1080l-2 4 -4 -1 -3 -4 2 -5 4 -1zM1619 1105l-5 3 -3 0 -4 -2 4 -4 5 -1zM1652 1106l-3 1 -2 2 -2 -3 1 -2 6 -1zM1670 1116l-2 2 -1 -1 0 -4 3 -3 2 2zM1717 1126l0 3 -3 2 -4 3 -2 -6 2 -3 3 -3zM1778 1077l0 2 -5 0 -4 -3 4 -1 3 0zM1815 1057l-2 2 -3 2 -3 -1 -2 -1 7 -1zM1851 1088l-2 2 -5 0 -3 -2 4 -2 5 0zM1874 1086l-3 1 -4 0 -4 -1 5 -2 3 -1zM1759 1153l-2 2 -2 1 -2 -2 0 -4 2 0zM1809 1161l-3 3 -3 1 -1 -3 1 -5 2 2zM1829 1162l-2 3 -2 -2 -1 -2 3 -3zM1818 1188l-1 3 -2 -1 -4 -2 3 -2 3 0zM1633 1189l0 4 -4 0 -1 -4 1 -5 3 2zM1681 1193l-1 2 -4 -1 -2 -2 1 -2 5 0zM1890 1153l-2 4 -2 4 0 -5 -2 -4 3 -4 2 -1zM1862 1177l1 5 -4 -2 -3 -3 3 -2 2 -1zM1963 1208l-3 2 -6 1 1 -2 2 -5 2 2zM1908 1217l-1 3 -5 0 0 -3 1 -1 3 -2zM1771 1217l-3 4 -4 -1 -1 -2 2 -3 3 -1zM1586 1066l-2 3 -2 -2 -2 -3 6 -2zM1582 1061l-1 2 -7 0 3 -3 2 -1zM1956 987l-1 3 -3 -1 0 -3 2 -1zM1884 1044l-1 2 -2 -2 1 -2 2 -2zM1598 918l-5 1 -3 0 0 -1 4 -1zM1675 948l-3 4 -4 3 -3 -2 0 -2 3 -2zM1993 974l0 6 -7 3 -9 6 0 -5 -12 -1 5 -7 3 -4 9 -2 6 3zM1991 912l-5 5 -1 5 -8 3 -8 -2 3 -6 0 -7 7 1 4 -2zM2076 961l0 5 -7 -1 -3 -5 -8 -4 6 -2 6 1 5 -1 3 4zM2081 965l-2 4 -8 7 -6 4 1 -3 -5 3 7 -7 5 -2zM2108 964l-1 7 -4 3 -4 -2 -5 -4 0 -7 4 -8 7 -2 4 2zM2183 935l5 0 -11 7 -3 2 -8 3 -1 0 4 -5 4 -4 8 -3zM2304 979l1 6 -1 9 -7 -4 -7 5 -5 -2 1 -7 1 -6 7 -1 11 -5zM2243 964l0 4 -6 2 -2 -4 -2 -3 3 -3 1 -5 7 2zM2317 1014l-1 3 -2 8 -3 -4 -2 -8 3 -10 2 -3 3 -2zM2096 1072l-5 5 -8 1 -4 -1 -15 2 2 -3 8 -4 10 -4 8 0zM2199 1100l-4 2 -4 4 -7 0 -5 -6 5 -6 3 -1 5 -4 7 2 -3 4zM2123 1111l-5 4 -6 -3 -4 -1 1 -6 3 -3 4 3 5 3zM2079 1125l-2 4 -7 1 -5 0 -1 -6 2 -2 6 -2 6 1zM2337 1134l3 7 -1 4 -5 8 -11 3 -2 -6 -3 -4 -4 -7 4 -4 9 -1 7 -7zM2208 1168l-1 4 -6 2 -7 1 -4 -3 0 -5 10 -2 5 2zM2275 1188l-7 1 -5 1 -10 0 3 -4 -1 -4 1 -2 9 2 5 3zM2257 1138l-1 6 -8 -2 -4 0 -2 -6 2 -6 4 -2 3 6zM2011 1104l-4 5 -3 4 -1 -4 -1 -5 3 -3 2 0zM1959 1099l-2 8 -2 8 -5 -6 2 -8 0 -10 2 3 3 -1zM2327 1049l-3 0 -7 2 -6 -5 1 -2 -8 -6 11 4 5 2 9 1zM2035 1122l3 5 -6 0 -5 -1 2 -4 3 -2zM1994 1022l-4 2 -2 10 -5 -4 2 -9 -2 -4 3 -4 5 -1 5 3zM2044 1021l0 4 -1 5 -7 -3 -5 -1 -2 -7 7 -4 5 -4 1 5zM2062 1026l-3 4 -3 -2 -2 -4 1 -4 4 2zM2013 1021l-2 2 -6 0 -2 -2 1 -3 6 0zM2019 1044l2 5 -3 1 -3 -3 -1 -6 1 0zM2152 1016l0 3 -5 2 -4 1 -2 -1 2 -5 5 -2zM2160 1039l-3 3 -4 3 -1 -5 -1 -3 4 -2 5 -1zM2199 1018l0 8 -3 2 -3 -5 -3 -6 4 -3 1 -1 4 0zM2202 1040l-4 2 -4 -1 -4 -3 3 -2 5 1zM2255 1001l-3 3 -6 2 -6 -2 -3 -3 3 -4 5 -2 7 3zM2283 1016l-2 3 -3 4 -3 -1 -4 -1 6 -3 6 -4zM2222 990l-2 1 -6 0 -3 -2 3 -1 8 0zM2189 978l1 3 -3 1 -4 -2 0 -4 4 -1zM2161 966l-4 4 -5 -2 -1 -4 -3 -3 8 2 8 1zM2219 888l-2 2 -3 0 -1 -3 1 -4 3 3zM2204 896l-5 2 -8 1 -4 0 4 -3 0 -4 9 2zM2188 903l-1 6 -3 2 -3 -4 -1 -5 4 -1 2 -4zM2205 918l-3 6 -2 -2 -1 -5 4 -3 3 1zM2244 903l0 3 -7 3 -7 0 0 -3 6 -2 7 -5zM2269 920l-3 3 -6 0 -1 -3 -6 -6 7 0 4 -3 6 6zM2300 914l2 6 -6 -4 -4 -2 4 -5 6 -1zM2147 924l-1 4 -3 -1 -1 -2 1 -2 2 0zM2168 891l-2 3 -4 0 0 -2 1 -4 3 1zM2079 884l0 4 -3 0 -4 -4 4 -2 2 0zM2079 907l0 4 -4 -1 1 -3 -1 -4 3 2zM2014 887l-2 10 -3 -2 0 -4 3 -8 2 -5 1 3zM2033 889l-2 3 -3 2 1 -6 2 -5 5 -3 2 3zM2254 1089l-1 2 -3 1 -1 -5 2 -4 2 1zM2317 1095l-2 3 -4 -1 -7 -1 2 -2 5 -2 3 1zM2288 1093l-2 3 -4 0 -2 -3 1 -5 8 0zM2228 1091l0 2 -3 0 -2 -2 2 -4 3 0zM2155 1073l-2 1 -5 2 0 -4 2 -3 3 2zM2132 1068l-2 2 -3 0 -2 -2 0 -3 7 0zM2178 1077l-4 3 -2 0 -1 -4 1 -4 2 3zM2162 1144l-4 3 -6 0 -3 -3 3 -3 5 0zM2180 1141l-5 3 -5 0 0 -3 0 -2 8 0zM2125 1145l-1 4 -6 1 -4 -5 3 -3 6 -1zM2016 1142l-3 4 -2 -2 -4 -3 4 -5 2 2zM2108 1158l-1 3 -3 -2 -1 -2 0 -3 6 0zM2005 1174l-1 3 -4 1 -2 -6 -1 -4 8 2zM1988 1194l0 4 -4 1 -6 0 -1 -7 1 -4 4 -1 6 2zM2004 1181l-1 3 -6 1 1 -4 0 -3 5 -1zM2274 1159l-1 6 -5 -2 -1 -1 -2 -7 2 -2 5 -1zM2313 1149l-3 3 -7 1 0 -3 1 -3 8 0zM2333 1114l-1 5 -5 -1 0 -4 1 -3 4 -2zM2314 1195l0 4 -4 0 -4 -3 3 -4 4 -1zM2289 1174l-2 4 -3 -2 -5 -2 1 -1 9 0zM2176 1181l0 5 -6 -1 -2 -3 2 -3 7 -1zM2151 1194l-2 4 -6 -1 -1 -2 1 -2 5 -1zM2076 1211l-1 2 -4 0 -2 -2 2 -2 4 -1zM2045 1215l-1 2 -5 0 1 -2 0 -4 3 3zM1970 893l-2 3 -3 -1 -3 -4 3 -4 3 1zM1962 986l-1 2 -4 -2 0 -2 4 -1zM2333 975l0 5 -5 0 -4 -5 4 -1 3 -1zM2341 1061l-1 2 -4 2 -1 -2 2 -5 2 1zM2219 960l-1 3 -4 0 -3 -1 3 -3 3 0zM2124 940l0 3 -4 1 -1 -3 1 -3 3 1zM1311 1334l-11 -3 -4 1 -12 -7 -6 -6 5 -3 0 -4 2 -1 12 4 1 6 12 8zM1377 1321l-5 7 -3 1 -8 4 0 -5 2 -7 4 -11 4 -4 9 -7 -4 13 1 3zM1326 1210l-1 3 -2 4 -10 0 -6 -4 -13 -2 9 -5 1 -6 7 1 11 0 -1 6zM1382 1221l2 5 2 7 -7 2 -7 -2 -9 -2 1 -7 5 -5 0 -6 8 3 6 0zM1438 1222l-1 4 -3 8 -7 -8 -3 -1 0 -5 1 -5 5 -2 6 3zM1564 1251l-1 4 -5 6 -2 -1 -5 -2 0 -7 1 -5 1 -8 6 7zM1447 1446l-1 4 -7 3 -9 -2 -8 -4 1 -3 7 -4 6 0 6 4zM1450 1463l-5 5 -7 1 -3 2 -4 -5 3 -2 0 -6 5 -3 2 6zM1495 1445l-5 4 -7 1 -6 -1 2 -3 -2 -4 9 1 3 1zM1537 1586l-5 -2 -8 9 -1 -7 2 -6 -4 -4 7 -8 4 2 4 2 5 3zM1344 1377l-7 3 -3 5 -2 -2 -1 -6 -3 -4 5 -7 4 2 2 4zM1333 1491l0 4 -5 5 -7 -2 -9 -2 -1 -4 -2 -6 6 -2 5 -3 7 2 7 -1zM1267 1500l1 4 -3 3 -8 3 -5 1 -3 -3 6 -7 3 -3 4 -2zM1552 1335l-2 5 -5 0 -4 -1 1 -5 -1 -6 5 -1 1 3zM1578 1329l-5 2 -4 1 -5 -1 0 -3 2 -2 4 -2 4 1zM1466 1310l-7 4 -4 6 -1 -5 0 -4 4 -5 6 -9 1 5 -1 4zM1400 1559l-2 3 -4 6 -3 -1 0 -7 -2 -7 6 3 6 -2zM1362 1554l-1 4 -3 1 -7 0 -9 0 6 -5 3 -5 5 2 10 0zM1493 1597l-5 2 -5 3 -3 -3 0 -2 -1 -2 5 -2 8 1zM1420 1594l-3 5 -4 -1 -2 -3 1 -3 7 0zM1279 1446l3 4 -11 2 -3 -1 -8 -1 4 -5 7 -1 9 0zM1239 1481l3 7 -3 7 -6 -6 -4 0 -5 -4 7 -6 5 -1zM1389 1400l-7 -1 -4 3 -3 -4 -3 -5 2 -3 8 2 3 3zM1428 1387l-2 5 -5 -1 -4 2 0 -8 4 -2 4 -1zM1527 1389l5 7 -9 0 -4 -3 -6 -1 -2 -6 7 -2 6 -4 4 7zM1564 1390l4 4 -5 2 -5 0 -1 -3 0 -7 5 -2zM1574 1472l0 3 -4 0 -3 -2 4 -4 4 0zM1399 1369l-6 3 -6 4 -5 1 2 -4 2 -2 7 -2zM1264 1374l1 5 -5 -2 -5 0 3 -4 1 -3 8 0zM1287 1372l-4 1 -4 1 -1 -2 0 -2 5 1zM1319 1374l1 5 -5 4 -4 -2 -1 -8 1 -5 4 -4 3 8zM1254 1399l-2 3 -3 -1 -3 -3 2 -2 6 -1zM1223 1428l-1 6 -2 -1 -1 -6 2 -5 2 1zM1275 1429l-3 4 -4 0 -4 -2 5 -4 3 1zM1347 1433l-1 1 -3 2 -3 -3 3 -4 4 1zM1318 1406l2 1 -8 -1 -3 -1 3 -1 4 0zM1370 1401l-3 2 -5 -1 -5 0 3 -3 7 0zM1404 1415l-3 3 -3 1 1 -4 2 -4 5 -3 0 4zM1430 1408l-4 3 -4 2 -1 -2 1 -1 5 -3zM1455 1425l0 2 -4 -1 1 -2 4 0zM1482 1330l-3 7 -3 -1 0 -4 1 -4 3 0zM1507 1288l-3 1 -4 -1 1 -2 3 -1zM1481 1295l0 2 -4 2 -3 -1 2 -3 3 -1zM1419 1221l-4 1 -3 1 -1 -3 0 -5 3 3zM1573 1224l-1 7 -1 6 -3 -9 -3 -5 3 -3 2 -2 3 1zM1565 1210l-2 4 -7 0 0 -3 2 -2 5 0zM1223 1222l-1 3 -2 0 -1 -3 1 -5 3 3zM1254 1254l-1 5 -4 -3 -3 -4 3 -1 3 0zM1225 1242l-1 2 -2 0 0 -2 2 -2zM1352 1253l-1 5 -4 -2 -1 -3 0 -3 4 0zM1393 1233l0 3 -4 2 -2 -6 2 -4 3 3zM1398 1274l-2 5 -4 2 -2 -4 -1 -3 3 -5 3 3zM1308 1272l-4 4 -5 2 -2 -3 0 -2 8 -3zM1300 1281l-1 1 -7 0 -3 -2 2 -1 5 0zM1275 1332l0 4 -5 -1 -4 -5 6 -1 4 0zM1351 1338l-3 4 -8 0 -1 -4 3 -2 3 1zM1235 1333l-1 5 -3 -1 -2 -4 1 -2 3 1zM1459 1342l-4 3 -3 0 -2 -2 1 -2 5 -2zM1529 1316l-1 3 -5 2 -1 -1 -2 -1 5 -3zM1556 1283l-2 2 -5 0 -2 -2 1 -4 5 1zM1517 1459l-2 3 -3 -1 -2 -3 3 -1 3 -3zM1515 1489l-3 6 -2 0 0 -4 1 -4 2 -1zM1561 1486l-1 8 -5 -3 -4 -3 2 -6 3 -7 3 6zM1474 1517l-1 2 -3 0 -1 -2 1 -2 3 0zM1493 1533l-3 2 -4 0 -2 -3 4 -2 3 1zM1242 1474l-1 6 -4 -1 0 -4 1 -3 2 -3zM1227 1524l0 2 -6 0 -2 -3 1 -2 6 1zM1236 1512l-2 6 -3 0 -1 -7 1 -2 3 0zM1279 1560l-1 2 -6 1 -1 -3 0 -4 6 0zM1305 1548l-2 3 -3 0 -2 -3 1 -3 4 2zM1390 1548l-3 1 -1 2 -3 -3 2 -2 3 1zM1351 1565l-3 3 -3 1 -6 -3 6 -2 3 -1zM1201 1575l-1 4 -4 0 -1 -3 1 -4 6 -1zM1574 1565l-2 4 -3 1 -3 -1 1 -4 2 -3 4 0zM1573 1516l0 5 -5 -3 -4 0 3 -3 3 -1zM1201 1445l-2 3 -1 1 -1 -4 1 -5 2 3zM1542 1426l-2 2 -3 0 -2 -3 3 -2 1 -1zM1476 1356l-2 2 -2 2 0 -5 -1 -3 3 1zM1201 1290l-1 2 -6 -1 -1 -1 2 -3 3 0zM1206 1311l-2 1 -4 1 0 -2 0 -1 6 0zM1251 1302l-1 3 -5 -1 -7 -1 7 -2 6 0zM1445 1266l-1 6 -4 1 0 -7 0 -5 4 2zM1738 1553l4 10 -11 4 -1 8 -3 10 -9 3 -5 -1 2 -22 0 -6 -5 -8 4 -5 -3 -14 7 -2 4 -5 4 5 3 0 6 -2 2 8 8 0zM1741 1528l-2 10 -6 -1 -7 3 -4 -4 -6 -2 -1 -6 4 -5 -2 -10 9 1 9 2 -3 9zM1734 1568l4 6 -1 4 -11 -2 -8 4 -5 -6 -1 -6 5 -4 1 -5 10 -5 7 4 -1 8zM1879 1336l4 5 -9 2 -6 5 -9 3 0 -8 -2 -3 -1 -4 2 -6 7 3 7 -2 6 1zM1893 1569l-8 5 2 2 -1 3 -16 4 -8 6 -4 -2 -14 5 -4 0 7 -5 5 -4 2 -5 14 -4 14 -9 11 -1 4 2zM1861 1588l0 3 -6 2 -8 -2 -9 1 -3 -3 1 -3 9 -4 10 1 8 3zM1901 1571l-6 4 -6 1 -6 1 -6 -3 2 -7 7 0 7 -6 5 6zM1934 1437l-1 5 2 7 -13 -1 -5 3 -3 -2 -10 -1 4 -5 6 -4 -1 -4 4 -6 10 0 3 7zM1912 1447l1 10 -6 1 -3 1 -4 -4 0 -10 4 -3 5 -2 3 -1zM1688 1424l0 4 -6 3 -5 2 -9 -2 -2 -10 4 -1 7 -7 8 1 0 5zM1797 1367l-2 6 -9 1 -10 4 -7 -3 1 -4 1 -4 2 -3 2 -5 9 0 5 6zM1921 1378l4 7 -10 -3 -6 3 -3 -2 -9 -4 9 -3 0 -6 4 -3 5 4 4 1zM1933 1406l-6 2 -8 2 -11 0 -5 0 4 -4 -4 -3 10 -2 5 -1 11 3zM1965 1367l1 9 -10 -3 -7 -1 -4 -3 0 -7 5 -3 7 -3 4 2 3 6zM1697 1340l1 2 -7 4 -5 -5 -2 -2 0 -6 6 1 8 -1zM1600 1346l-6 3 -5 1 -3 -3 -1 -7 7 -3 7 -3 -3 7zM1625 1407l-2 5 -7 4 -5 0 -5 -2 2 -3 3 -2 3 -4 7 -1zM1734 1442l1 5 -4 4 -3 2 -3 -5 0 -5 -5 -11 8 3 2 4zM1741 1208l0 6 -8 4 -4 -1 -3 -6 -1 -6 1 -4 8 1 5 3zM1967 1236l-2 4 -9 -1 -6 3 -2 -5 -5 -2 5 -5 4 -4 5 -1 2 5zM1807 1400l-2 6 -5 -1 -5 -3 -5 -2 3 -6 3 -3 7 1 6 3zM1836 1448l-7 -1 -8 0 -5 -4 -2 -2 -4 -3 9 1 5 3 8 2zM1842 1454l-2 8 -4 -1 -4 -1 -2 -4 2 -7 2 -5 5 6zM1873 1471l-7 4 -5 -3 -6 -3 0 -5 7 -5 8 2 -1 7zM1731 1267l3 6 -5 3 -4 0 -4 0 -2 -8 3 -3 3 -4 3 -2zM1607 1288l-1 5 -5 5 -7 -2 1 -6 -2 -3 3 -4 4 1 8 1zM1809 1335l-10 3 -3 5 -9 -1 -2 -5 4 -7 8 1 6 0zM1808 1293l-1 10 -6 -1 -3 -5 0 -2 -2 -7 7 -2 4 2zM1576 1237l0 6 -2 7 -2 -4 -2 -6 0 -7 1 -10 4 -1 1 7zM1576 1328l-2 4 -4 1 -2 -2 3 -6 3 0zM1595 1371l-1 3 -5 2 -13 3 3 -3 -1 -2 6 -2 9 -1zM1615 1389l-3 5 -2 3 -5 -4 -1 -5 4 -4 5 0zM1678 1252l-4 1 -5 1 -2 -3 1 -3 8 1zM1676 1234l-2 4 -3 3 -5 2 -3 0 4 -5 5 -3zM1823 1579l-8 4 -10 0 -10 -4 0 -2 -3 -3 8 -4 5 1 13 6zM1787 1577l-4 4 -1 4 -4 -2 1 -7 1 -10 4 7zM1631 1522l-3 2 -5 3 -1 -6 0 -4 5 2zM1618 1496l-1 12 -1 4 -1 -5 -1 -6 0 -12 1 -7 2 -4 1 7zM1826 1357l-5 3 -4 0 -5 -2 -8 -2 6 -4 5 0 7 2zM1822 1372l-3 2 -7 0 -4 -1 5 -3 5 0zM1642 1218l-1 3 -6 0 -1 -2 4 -5 5 0zM1652 1205l-4 4 -5 -2 -1 -1 2 -3 3 1zM1602 1247l-1 3 -3 0 -1 -3 0 -3 3 0zM1624 1249l0 3 -4 -1 -5 -1 4 -4 6 -1zM1761 1231l-1 3 -6 1 -2 -3 3 -3 4 -3zM1787 1226l-5 2 -7 -3 4 -3 1 -2 5 4zM1817 1215l-3 2 -4 0 -6 -1 4 -3 8 -2zM1847 1213l3 7 -4 1 -6 -5 2 -3 2 -3zM1837 1249l-6 -1 -4 -1 -4 -4 -4 -5 10 4 7 4zM1853 1248l-3 1 -3 1 -2 -4 3 -1 2 0zM1812 1257l-3 4 -4 -2 -5 0 4 -3 5 -1zM1781 1288l-2 3 -3 0 -6 0 0 -3 1 -3 6 -3 5 -1zM1790 1305l-5 2 -4 0 -3 -1 3 -4 5 1zM1875 1301l-2 4 -5 1 -3 -5 1 -5 6 0zM1942 1284l-2 1 -3 -1 -3 -1 3 -4 4 0zM1935 1256l0 1 -5 0 -4 -2 2 -1 7 0zM1951 1297l-1 6 -1 -1 -1 -5 0 -2 3 -1zM1940 1313l-2 2 -3 1 -3 -2 2 -3 5 0zM1907 1232l-2 5 -1 1 0 -5 0 -4 1 2zM1648 1283l-2 3 -4 0 -4 -4 3 -1 6 -1zM1620 1275l-2 5 -3 -1 -1 -2 1 -5 3 1zM1684 1308l-2 1 -2 1 -1 -4 1 -2 2 1zM1730 1301l0 2 -5 3 -4 -4 -2 -4 6 -1 4 -1zM1752 1294l-2 2 -2 -1 -4 0 4 -3 4 -3zM1738 1325l-3 2 -9 2 0 -3 -5 -2 5 -2 9 2zM1762 1345l0 3 -4 -1 0 -3 2 -2zM1673 1368l1 5 -8 3 -1 -1 0 -5 4 -2zM1648 1367l-3 2 -2 -1 -2 -3 2 -2 2 1zM1687 1391l-2 5 -6 -1 -4 -2 2 -2 2 -4 7 1zM1712 1385l-3 2 -2 0 0 -4 2 0zM1758 1381l-10 1 -7 1 -3 -1 1 -2 4 -1 8 0zM1749 1406l-2 4 -6 3 -2 0 -2 -1 1 -5 6 0zM1863 1414l-1 2 -3 2 -4 -3 4 -3 4 0zM1886 1410l1 3 -6 -2 -4 -1 5 -1 2 -2zM1966 1405l-1 5 -4 -1 -3 -2 3 -7 3 -2zM1906 1423l-2 2 -9 0 1 -2 2 -2 4 1zM1950 1448l0 3 -7 3 -3 0 -2 -2 4 -3 10 -4zM1795 1427l0 2 -3 1 -2 -2 2 -3 3 0zM1763 1464l-2 0 -6 -2 -1 -2 -1 -2 5 1 6 4zM1780 1485l-5 2 -6 0 -2 -1 -4 -2 7 1 8 -1zM1731 1462l-4 4 -3 0 -1 -5 2 -5 5 1zM1698 1443l0 3 -5 0 -2 -2 2 -3 3 -1zM1841 1516l-2 0 -3 2 -1 -4 1 -2 3 1zM1901 1506l-4 2 -6 2 -1 -3 0 -3 3 -1 2 1zM1921 1527l-5 4 -6 0 -3 -2 -3 -2 5 -1 10 0zM1930 1517l-2 4 -3 -2 -1 -2 1 -4 5 2zM1963 1536l-4 5 -2 0 -2 -7 1 -3 4 1zM1827 1535l0 4 -4 -2 -2 -2 1 -3 5 -1zM1777 1542l-3 1 -5 0 -2 -2 1 -1 6 0zM1663 1549l-1 3 -4 1 -1 -5 -1 -4 4 1zM1687 1549l1 4 -4 2 -4 -1 0 -7 3 -1zM1597 1593l-3 8 -1 -5 -2 -3 3 -7 2 -2 4 3zM1645 1596l-4 1 -6 0 0 -2 3 -2 3 1zM1698 1584l-2 2 -3 0 -3 -1 3 -2 5 -3zM1908 1593l-3 2 -3 0 1 -5 2 0zM1961 1580l-1 3 -6 2 -3 -6 3 -3 3 -1zM1581 1425l0 4 -3 1 -3 -5 3 -3 3 2zM1592 1503l0 2 -8 0 -4 -2 6 0 4 -1zM1589 1524l-2 1 -5 1 -4 -2 3 -3 5 1zM1579 1476l-1 3 -3 -1 0 -3 3 0zM1993 1359l-2 5 1 3 -8 5 -12 3 -11 1 -8 -3 10 -6 7 -3 5 -7 9 1 2 2zM2019 1391l-8 0 -11 -5 -2 -4 -11 -3 -2 -6 10 0 2 -2 8 -2 3 5 5 6zM2029 1404l-6 1 -5 0 -2 11 -9 -4 -4 -6 -3 -2 -5 -6 2 -11 9 1 6 -4 10 3 4 6 7 4zM2010 1393l2 6 -5 1 -9 0 -3 -1 -4 -6 5 -4 4 -7 8 0 0 8zM2128 1280l-13 6 -1 3 -17 3 -5 0 -17 6 -10 2 10 -5 6 -3 1 -2 0 -3 16 -4 4 1 17 -5zM2088 1298l1 5 -11 -7 -5 0 -5 -6 5 -1 2 -4 9 7 0 2zM2115 1286l0 2 -4 2 -11 -2 -3 -1 1 -4 4 -3 7 -1 5 3zM2244 1383l-9 3 -7 -1 -4 -1 -2 -5 -4 -3 4 -6 5 -1 6 6 11 3zM2245 1397l-2 8 -7 -3 -6 1 -5 1 2 -8 -1 -4 6 -4 3 -2 4 5zM2232 1401l0 3 -5 4 -6 -4 -3 -4 2 -4 6 -2 6 2zM2281 1396l-2 9 -7 0 -5 -5 -5 2 0 -11 4 -7 7 -2 10 -8 -2 12 2 4zM2057 1472l-4 7 -1 8 -4 6 -7 -1 -9 2 -5 -1 -2 -4 2 -6 -1 -6 8 -6 9 0 5 4zM2111 1461l-5 7 -3 5 -7 7 -4 1 -8 -2 1 -3 0 -4 5 -8 6 0 10 -5zM2123 1543l-4 2 -11 -1 -6 -2 -8 -1 -8 -6 8 -2 4 -3 7 1 5 3 4 3zM2094 1584l-2 2 -5 3 -6 -2 -3 -5 -5 -7 -3 -8 7 0 11 8 8 -2 7 9zM2090 1237l0 5 -2 3 -7 -2 -6 -4 5 -4 7 -3 5 -2zM1965 1236l0 8 -6 2 -8 -1 -1 -3 -3 -6 8 -3 3 -3 4 0zM2005 1236l2 9 -5 4 -2 -2 -5 -2 1 -8 -1 -8 3 -3 3 4zM2242 1253l-1 5 -8 1 -7 0 1 -6 3 -1 4 -3 7 -1zM2217 1277l-2 5 -5 0 0 -3 2 -6 3 2zM2041 1252l-2 1 -4 3 -4 -4 -1 -1 2 -5 7 3zM2286 1443l3 9 -6 -1 -8 1 -2 -5 3 -6 -1 -4 6 -2 4 6zM2309 1300l1 5 -4 4 -8 3 -4 -2 2 -5 5 -3 7 -3zM1977 1403l-2 6 -6 2 -7 -4 -1 -4 2 -4 4 -2 5 4zM2275 1556l-2 12 -4 -1 -3 2 0 -8 1 -5 -2 -9 5 0 2 0 3 2zM2064 1558l-6 1 -4 -2 -4 -3 5 -3 4 1 0 2zM2083 1339l-4 2 -9 -3 -6 -2 0 -3 8 0 7 3zM2143 1393l2 12 -1 8 -3 -5 -2 -9 -3 -7 -1 -8 3 4 2 -3zM2164 1401l-2 2 -7 0 -9 -1 4 -2 1 -3 10 2zM2218 1222l-2 4 -3 1 -3 -3 -2 -5 5 1 6 -1zM2194 1231l-1 5 -5 -1 -2 -3 3 -4 4 0zM2108 1489l-1 7 -6 -2 -4 0 1 -7 -1 -5 4 -5 5 5zM1976 1539l-3 3 -5 3 0 -6 -2 -5 6 0zM2031 1432l0 5 -3 4 -2 -4 -3 -6 5 -1zM2139 1431l0 3 -6 0 -2 -5 3 -5 4 2zM1960 1577l-1 5 -6 -3 -2 -2 1 -2 5 -2zM2282 1583l-3 4 -3 3 -3 -4 -1 -3 2 -2 5 0zM1981 1229l0 3 -4 2 -1 -6 2 -5 2 2zM2051 1212l-4 2 -4 0 -1 -3 3 -2 3 0zM2001 1208l-2 3 -7 0 1 -1 1 -4 4 1zM2102 1212l-1 3 -3 1 -1 -4 2 -4 2 -3zM2148 1207l-3 1 -3 0 -1 -1 1 -1 3 -1zM2188 1207l-3 2 -7 1 -2 -3 5 -4 4 1zM2318 1241l-7 -2 -8 -3 -6 -3 3 -1 6 0 6 4zM2282 1283l-1 2 -7 2 -3 -2 -1 -4 8 -3 4 0zM2257 1281l0 4 -6 -2 -2 -3 3 -1 4 -1zM2190 1282l-1 2 -6 3 -4 1 3 -4 5 -4zM2160 1287l1 3 -4 -1 -5 -2 3 -1 5 -1zM2143 1289l-1 6 -3 -3 -5 -2 4 -4 3 0zM2036 1296l-2 7 -3 2 -1 -5 1 -5 4 -2zM2001 1333l-5 0 -5 -3 -1 -2 2 -2 5 4zM2031 1327l0 4 -4 -2 -4 -2 3 -3 4 0zM1979 1305l-1 2 -5 2 -2 -4 1 -3 5 0zM2122 1337l-1 7 -2 0 -2 -6 1 -3 3 0zM2206 1336l-1 2 -7 0 -3 -1 -1 -3 3 -1 8 1zM2224 1320l0 4 -3 -1 -4 -4 4 -1 2 0zM2184 1320l-1 2 -3 0 -1 -2 1 -1 4 0zM2154 1365l-2 3 -3 -1 -2 -2 1 -1 5 -1zM2164 1374l-1 3 -5 -1 -2 -3 3 -3 3 1zM2050 1390l-2 5 -5 -1 -4 1 0 -7 5 -4 3 1zM2041 1364l-2 3 -4 3 -2 -4 3 -4 5 0zM2311 1389l-3 5 -3 -1 -2 -3 1 -3 6 0zM2338 1379l-2 1 -6 1 0 -2 1 -3 5 0zM2340 1397l-2 3 -3 -1 -1 -2 1 -3 3 0zM2224 1423l-1 5 -1 0 -2 -6 2 -1 1 -1zM2283 1428l-1 1 -3 0 -2 -2 4 -1zM2236 1445l-2 2 -5 1 -2 -2 3 -4 4 1zM1994 1438l0 2 -3 1 -1 -3 1 -7 2 3zM1960 1443l0 3 -5 -1 -3 -2 3 -3 3 2zM1976 1452l-3 2 -3 3 1 -5 -1 -3 3 0zM1992 1481l-1 3 -3 -1 -2 -2 1 -3 3 1zM2089 1439l-1 3 -3 0 -1 -3 1 -2 2 -2zM2131 1443l-1 2 -3 -1 0 -2 4 -1zM2144 1441l-2 2 -2 0 1 -2 1 -2zM2184 1453l-1 2 -2 0 0 -5 1 -1zM2238 1459l-1 3 -3 -2 -2 -2 4 -2zM2220 1493l-3 1 -4 -1 -2 -1 3 -1 6 0zM2225 1562l-2 1 -3 0 -1 -2 4 -2zM2198 1548l-1 3 -4 3 0 -5 1 -5 2 1zM2181 1579l-2 3 -4 -1 -6 -1 3 -2 5 0zM2167 1578l-2 5 -3 0 0 -4 0 -3 4 -1zM2135 1580l-1 4 -2 -3 -3 -1 2 -5 5 0zM2031 1573l-5 3 -4 2 -2 -6 -1 -2 6 -1zM1990 1532l2 3 -7 0 -2 -2 3 -3 4 -1zM1971 1519l-1 5 -4 -3 -1 -1 2 -4 2 0zM2244 1579l-3 5 -2 -1 -2 -3 1 -3 3 0zM2284 1598l-3 1 -1 0 -2 -1 0 -3 4 1zM2339 1477l-2 5 -2 -3 -2 -2 2 -4 2 1zM2342 1426l-2 4 -3 -1 -2 -4 2 -2 2 0zM2320 1325l0 4 -3 -2 -1 -1 1 -5 2 1zM2287 1239l-2 3 -2 1 0 -7 3 1zM2108 1241l-1 5 -2 -1 1 -4 1 -4zM2130 1239l-1 3 -1 -1 0 -2 1 -2z" fill="#ff0"/>
<path d="M1470 968l-7 4 8 4 -11 5 -16 3 -9 -2 -3 -5 -8 0 -13 2 -1 -5 -2 -5 22 0 3 -4 10 -6 16 -3 14 3 -11 7zM1434 976l9 4 -14 1 -6 -1 -6 -1 -1 -4 1 -2 5 -2 9 0 8 -1zM1474 967l-2 3 -8 3 -10 2 -8 -2 6 -5 -3 -5 6 -2 8 2 11 0zM1503 972l-2 4 -8 -1 -2 -3 -1 -1 3 -2 6 0zM1399 1021l-2 2 -6 2 -7 1 -14 -3 -7 -3 4 -1 -1 -3 7 -1 7 2 10 0 16 2zM1375 1015l-5 2 -2 4 -4 -5 -1 -7 4 -1 5 2zM1480 1009l-17 6 -5 3 -11 5 -4 -1 -9 0 -5 -1 1 -3 3 -3 16 -4 6 1 4 0zM1446 1020l3 6 -7 -2 -4 -2 -9 1 4 -5 1 -3 8 -2 5 2zM1376 1050l0 5 -7 1 -8 3 -12 -1 -4 -5 -12 -3 18 -2 2 -6 5 -3 8 5 13 2zM1400 1048l4 8 -9 -2 -3 -1 -9 1 7 -7 0 -3 8 -8 4 5zM1602 1015l-15 7 7 5 -10 4 -5 8 -15 -3 -9 3 2 -8 -8 -1 -13 0 10 -6 7 -4 5 -3 9 0 10 -4 13 -4 13 -1zM1565 1016l-1 4 -4 8 -9 -2 -3 -3 -2 -5 0 -7 8 0 6 -2 5 3zM1230 1123l-1 7 -3 5 3 6 -1 8 -11 0 -4 -2 -8 -7 1 -7 -1 -8 6 -2 7 0 3 0zM1223 1143l-3 3 -5 8 -4 -4 -3 -4 -1 -9 5 -5 2 4 10 -4zM1207 1182l0 4 -4 2 -6 -3 -3 -3 1 -5 6 -1 7 3zM1304 1194l-7 1 -4 0 -9 1 -11 0 -1 -3 -7 -2 -6 -3 16 1 6 0 13 2 6 1zM1369 836l0 4 -9 -2 -5 1 -4 -3 4 -3 6 -2 3 2zM1454 901l-3 2 -3 -1 -5 -2 3 -1 4 -1zM1217 1091l1 4 -8 -2 -8 -1 4 -1 5 -1 6 -1zM1203 1107l-2 2 -3 0 -3 -4 1 -2 4 0zM1284 1022l-1 3 -5 -1 2 -4 3 0zM1417 1038l-2 2 -4 2 -1 -4 3 -4 1 0zM1259 1110l-5 2 -3 -1 0 -2 3 0zM1368 935l-1 2 -4 -1 -1 -2 4 -1zM1582 906l-2 3 -2 -1 -1 -3 3 0zM1386 1141l-1 3 -3 -1 1 -2 1 -3zM1580 1104l-5 2 -2 1 -4 -4 1 -4 7 0zM1571 1094l-1 4 -4 1 -4 -4 3 -3 5 -2zM1630 1019l-7 5 3 7 -8 2 -17 -3 -5 -5 -11 4 -4 -5 -4 -4 14 -5 -1 -4 3 -6 11 -1 8 2 10 5 -4 5zM1598 1029l-6 5 -3 4 -4 3 -6 0 -2 -4 0 -6 8 -1 3 -1zM1689 1006l-1 7 -4 3 -9 8 -9 1 -1 -6 -5 -2 11 -5 6 -6 9 -4zM1672 1022l-2 4 -5 -1 -2 -2 -2 -4 5 -4 5 -1zM1741 1055l-10 2 3 2 -14 1 -6 -1 -9 0 5 -3 7 -1 13 -2 11 1zM1760 1048l-4 4 -5 1 -5 -1 -5 -3 7 -1 10 -1zM1786 1051l-1 2 -5 -1 -4 -1 5 -1 5 -1zM1874 947l-3 3 -8 2 -4 3 -16 3 8 -5 -7 -1 13 -4 6 -1 6 -1zM1714 881l-2 4 -13 1 -3 -2 -4 -2 -2 -2 5 -2 5 -3 9 4zM1685 936l1 4 -7 0 -1 -2 -3 -3 6 -2 3 0zM1853 886l0 2 -3 2 -2 -5 2 -2 2 0zM1835 928l-2 1 -4 1 0 -2 -1 -2 5 1zM1601 1082l-5 6 -4 3 -10 0 -3 -3 -6 -2 6 -4 8 -2 6 1zM1969 1112l-5 5 -4 4 -16 2 -9 2 -8 0 -8 -2 -5 -3 2 -4 14 -1 5 -3 10 -5 10 1 1 5zM1936 1113l1 5 -9 3 -2 -4 -4 -4 4 -5 4 -3 7 1zM1731 1133l-4 3 -2 2 -3 -6 2 -3 3 0zM1836 1112l-1 2 -3 0 0 -4 4 -1zM1957 1157l-2 3 -4 -2 1 -5 4 0zM1720 1189l-2 1 -3 1 -1 -5 5 0zM1748 1176l-4 2 -5 0 -4 -1 6 -1 5 -1zM1581 906l-2 4 -1 -2 -1 -2 2 -1zM1641 1036l-3 1 -5 1 -8 -2 4 -2 4 -1 7 1zM1667 1054l0 3 -6 0 -1 -3 2 -2 3 0zM1725 1003l-5 2 -4 0 -2 -2 2 -2 5 1zM1779 1093l-2 1 -5 -1 -2 -1 6 -2zM1637 969l-2 2 -1 0 -1 -3 3 -1zM1902 1036l-1 2 -2 -2 -2 -1 5 -2zM1864 1045l-3 3 -2 -2 -1 -1 3 -2zM1763 1170l0 4 -3 -1 1 -5 2 -3zM1919 1175l-2 2 -3 0 1 -3 2 -2zM2062 916l-15 5 6 3 -19 4 -13 -1 -16 8 -14 1 1 -4 -13 0 18 -5 -10 -1 1 -4 21 -2 16 -6 11 1 5 1 21 -2zM2007 928l1 6 -8 4 -9 1 -6 -3 -6 -3 6 -4 10 -2 9 -4zM2044 953l-8 1 -10 0 -4 -1 -12 -4 6 -1 5 -1 7 1 5 3zM2150 942l-1 3 -8 1 -8 -2 2 -3 3 -2 8 1zM2256 882l-4 2 -8 1 -9 1 -9 -2 -3 -3 6 -2 5 -1 8 -1 3 3zM2327 942l1 4 -6 -1 -4 -1 -2 -2 7 -4 3 0zM2296 960l-3 2 -7 0 -9 -1 6 -2 0 -5 7 3zM2192 1070l-2 5 -2 2 -7 0 1 -4 0 -4 7 0zM2263 1063l0 5 -6 -3 -3 -4 3 -2 6 -3 0 5zM2189 1136l-3 1 -7 4 0 -2 0 -2 7 -2zM2198 1198l-5 0 -2 3 -13 -4 -1 -3 -5 -4 10 1 6 1 11 3zM2295 1166l-3 2 -4 2 -2 -3 -2 -4 2 -3 5 3zM2217 1194l-1 4 -4 1 -1 -4 2 -3 4 -1zM2123 1210l-1 3 -5 1 -1 -3 2 -3 6 -1zM2147 1176l-1 4 -2 -3 -4 -2 3 -3 3 0zM2030 1179l-1 3 -6 -1 -5 -2 4 -1 7 0zM2246 1173l-4 3 -2 0 0 -4 3 -2zM2323 1214l-6 2 -7 2 -5 -1 -6 -2 6 -3 6 1 11 -1zM2060 978l-3 2 -2 1 0 -5 3 1zM2194 824l-10 0 -3 1 -12 0 -6 -1 0 -1 0 0 6 -2 7 0 10 2zM2079 882l-3 1 -3 0 -2 -2 2 -3 4 2zM2109 920l-2 4 -2 -1 -1 -3 1 -4 4 0zM2006 1010l-3 1 -5 0 -1 -3 5 1zM2208 1075l-2 1 -6 -1 1 -1 4 0zM2135 1080l-1 3 -4 1 0 -5 4 0zM2109 1099l-1 4 -2 0 -2 -4 0 -4 4 0zM2140 1142l-2 1 -3 -1 1 -2 2 0zM2279 1155l-3 3 -1 -2 -2 -4 3 0zM2052 1171l-1 2 -4 -1 -4 -2 4 -1 3 -1zM2305 826l-4 2 -7 0 -1 -1 4 -2 3 0zM2319 898l-2 2 -2 -1 -1 -2 4 -1zM2087 956l-1 2 -5 0 -2 -2 2 -1 6 -1zM2248 959l-3 1 -1 3 -2 -4 0 -5 4 2zM1532 1235l-9 2 1 5 -16 1 -17 -1 -9 7 -15 1 -24 1 5 -7 -23 1 6 -6 19 -3 -7 -3 -1 -8 20 3 20 -5 7 7 16 -2 6 1 9 2zM1431 1248l5 1 -7 3 -14 3 1 -3 -5 0 -3 -3 4 -2 17 -3 7 -1zM1545 1244l3 4 -14 0 -9 -2 -6 -3 -7 -4 9 0 9 -1 5 0 5 3zM1520 1228l-1 4 -5 4 -4 -6 -5 -4 4 -4 3 -4 5 4zM1279 1272l2 4 -15 -1 -16 -1 -14 -3 -5 -4 -6 -2 8 -1 -6 -4 5 -1 11 0 13 3 3 1 14 4zM1270 1272l-1 2 -10 4 -7 -2 -9 -1 -1 -4 3 -4 5 -1 16 -1 7 1zM1361 1279l-17 -1 -2 2 -10 2 -10 -3 0 -3 -7 -5 -2 -4 6 0 8 -2 8 5 10 -2 19 8zM1350 1278l2 5 -10 -1 -5 1 -5 -2 1 -4 3 -5 8 1 3 1zM1379 1280l3 2 -10 1 -4 0 -5 -5 -1 -2 12 -2 6 2zM1328 1227l7 5 -7 4 -5 -2 -5 0 -2 -4 3 -3 4 -3 4 0zM1536 1474l-8 8 -17 -1 0 5 -4 6 -8 2 -10 3 -8 -9 1 -7 -5 -2 -5 -7 8 -3 -12 -13 14 2 5 -6 11 8 8 -6 12 1 3 9 11 4zM1494 1478l2 8 -8 0 -7 4 -9 5 3 -11 -6 -6 0 -8 3 -7 12 7 3 1 6 3zM1523 1464l8 7 -6 5 -9 -3 -8 -3 -6 -2 -11 -3 9 -6 6 -4 6 -4 15 2 -4 8zM1455 1482l-7 6 -5 12 -5 -1 -4 5 1 -15 -3 -11 4 -4 5 -6 3 0 3 6 7 -2zM1460 1477l-2 3 -6 3 -10 -3 -6 -1 -2 -4 9 -1 7 -1 15 1zM1402 1474l-4 3 -2 5 -8 7 -2 -5 -5 -1 -4 -3 10 -5 4 -1 4 -2zM1419 1470l-4 4 -2 4 -3 0 -1 -4 7 -4zM1420 1310l-4 5 -4 2 -2 -5 0 -3 1 -2 4 2zM1430 1310l-3 2 -3 3 -4 -5 1 -2 3 -6 2 4zM1276 1313l-5 6 -4 3 -5 3 -3 -3 1 -5 2 -5 6 3zM1270 1330l-3 2 -8 0 -1 -2 3 -3 4 1zM1354 1457l-1 5 -4 5 -10 1 -2 -4 -1 -4 9 -3 5 -1zM1248 1589l-7 5 -3 3 -10 0 -3 -4 -10 -2 3 -4 6 -3 8 3 17 -1zM1206 1594l-5 3 -2 -1 -4 -2 1 -2 2 -4 3 3zM1547 1471l-2 4 -3 5 -3 -6 0 -4 3 -1 2 -1zM1552 1511l-1 2 -2 1 -2 -3 -2 -6 6 0zM1396 1338l-2 5 -2 -5 -2 -5 3 -1 3 -2zM1364 1243l-9 4 -7 2 -12 2 -1 -1 -1 -1 7 -4 6 -1 6 0zM1211 1231l-6 2 -5 2 -2 -3 0 -2 5 -3 4 1zM1232 1327l-2 5 -4 0 -1 -4 2 -4 2 0zM1305 1227l-3 1 -1 1 -3 -1 1 -4 3 2zM1409 1279l-4 1 -3 1 -1 -2 2 -4 2 2zM1489 1431l-2 6 -1 -2 -1 -3 1 -5 1 -1zM1270 1594l-4 4 -4 2 -2 -4 -2 -3 5 -1 2 1zM1209 1391l-2 3 -2 0 -2 -4 6 -1zM1453 1342l-1 1 -2 -1 -1 -3 2 0zM1477 1539l-2 2 -3 1 -1 -2 1 -3 4 1zM1217 1535l-2 2 -3 -1 0 -3 3 0zM1313 1562l-2 2 -3 2 0 -6 4 -1zM1404 1598l-2 1 -7 0 2 -3 4 -1zM1469 1588l-2 3 -2 -2 -1 -2 4 0zM1510 1267l-4 1 -5 0 -1 -1 1 -2 5 0zM1648 1446l-5 6 -13 -1 -6 6 -4 -4 -6 -4 -7 -4 3 -5 7 -7 2 -2 5 -13 8 7 7 2 -3 12zM1651 1466l-2 3 -9 5 -7 0 -4 0 -6 -5 -3 -6 -4 -8 15 -1 4 -5 8 -2 7 10zM1620 1471l-4 1 -10 -7 -6 -6 -3 -4 3 -4 3 -4 8 2 3 7 5 9zM1607 1446l-5 7 -2 4 -4 -1 -1 -7 1 -5 4 -5 2 4zM1745 1462l-29 5 9 5 -9 5 -13 -1 -9 6 -8 -8 -20 3 6 -6 -17 -2 14 -4 -20 -4 25 -3 5 -1 14 -1 14 -3 6 3 13 0 5 2zM1691 1462l-4 3 -5 3 -3 2 -8 -4 -15 1 7 -7 8 -2 -1 -6 6 -5 8 2 4 7zM1708 1490l-8 4 -2 4 -7 4 -8 0 -11 -2 -10 7 -15 0 0 -6 -3 -2 -22 0 5 -6 18 -4 6 -1 7 -4 14 -2 11 -6 10 5 11 3 -6 4zM1667 1488l-1 4 -2 4 -7 4 -10 -3 -6 -1 -2 -5 -5 -6 5 -4 9 0 9 1 8 -1 5 1zM1697 1504l3 5 -6 3 -8 -1 -8 -5 -2 -3 1 -5 6 1 7 0 15 -1zM1714 1415l9 5 -3 6 -4 6 -7 -3 -7 1 -8 -2 3 -11 4 -3 3 -7 2 -8 6 6zM1706 1433l2 3 -8 3 -3 -3 -4 -4 1 -5 6 -1 6 0zM1730 1483l0 4 -11 -6 -9 -4 -4 -3 -7 -5 8 2 5 0 11 6 7 3zM1806 1500l-9 2 -4 4 -8 2 -5 -1 -8 -1 -1 -7 2 -3 8 -5 6 0 5 1 12 2zM1781 1497l0 7 -5 -2 -5 -1 0 -5 1 -2 4 -8 4 6zM1799 1495l0 3 -4 3 -3 -1 -4 -3 4 -9 2 -3 6 2zM1755 1492l0 6 -4 -2 -3 -3 4 -3 4 -3zM1771 1591l-5 2 -4 10 -6 -3 -5 -2 -4 -10 6 -4 3 -6 6 2 6 3zM1744 1595l-1 4 -6 1 -2 -5 3 -5 4 2zM1971 1474l0 15 -3 2 -2 7 -3 -9 -1 -7 -1 -12 2 -8 2 -1 3 -3 3 -1zM1857 1510l0 2 -6 4 -4 -1 -1 -2 3 -3 4 0zM1652 1348l-2 6 -3 3 -2 -4 0 -2 4 -3zM1675 1533l-2 3 -6 2 -4 -2 -1 -4 4 -3 8 -1zM1698 1253l0 3 -4 0 -2 -2 1 -2 4 -1zM1835 1369l-2 4 -3 -2 1 -2 2 -1zM1704 1505l-6 4 -4 1 -1 -4 0 -5 8 2zM1935 1463l-2 2 -1 0 -2 -3 3 -1zM1816 1460l-2 1 -3 -1 0 -2 3 0zM1949 1514l-3 3 -3 -1 0 -4 3 1zM1695 1567l-3 5 -1 1 -3 -1 -1 -2 4 -1zM1599 1576l-2 1 -1 0 -1 -3 3 -1zM1882 1267l-2 3 -4 -2 -1 -2 5 -1zM1781 1265l-2 3 -3 -2 0 -2 2 1zM1710 1264l-1 2 -3 1 1 -4 2 1zM1697 1282l-2 1 -2 1 -1 -4 4 0zM1606 1251l-2 2 -2 -1 0 -1 3 -1zM1955 1258l-1 3 -4 0 0 -3 -1 -2 4 1zM1779 1333l-2 2 -3 0 0 -4 3 -1zM1894 1552l0 2 -4 -2 0 -2 4 0zM1766 1526l-2 2 -1 -1 -1 -2 4 -3zM2340 1505l-13 8 14 12 -24 -7 -8 2 -3 17 -7 -7 -14 5 -12 -11 11 -11 -1 -7 -5 -7 2 -8 8 -7 2 -17 15 1 9 13 5 9 12 1 12 2zM2307 1492l-10 3 -2 4 -2 10 -8 1 -11 -3 -5 -3 -5 -6 4 -5 -1 -5 7 -5 2 -4 8 4 12 -6 7 3 6 3zM2341 1521l3 10 -12 1 -4 0 -10 6 -7 3 -15 -4 -3 -6 9 -11 -2 -7 7 0 6 -6 6 -8 14 5 -4 13 11 0zM2260 1488l4 5 -7 1 -15 -6 -1 -3 -10 -5 8 -2 11 2 8 3 9 3zM2300 1558l0 8 -1 9 -2 4 -3 -5 -2 -8 -4 -9 1 -9 2 -5 2 -3 2 1 3 4zM2309 1570l-1 5 -5 -2 -3 -3 4 -2 3 -2zM2335 1227l1 5 -7 3 -10 -5 -9 -5 -9 0 -15 -6 1 -5 19 3 1 -4 14 4 5 3 3 2zM2313 1220l-4 3 -5 5 -5 -5 -1 -2 -6 -2 7 -4 4 0 4 1zM2075 1440l3 4 -3 2 -8 1 -7 -1 -10 4 -6 0 -3 -7 9 -3 -1 -5 1 -6 20 -4 0 10 11 -3zM2100 1422l2 4 0 7 -7 0 -8 -2 0 -7 1 -3 4 -5zM2001 1471l-9 5 -4 4 -6 6 -10 -2 -1 -7 -9 -2 5 -5 0 -4 6 -7 6 1 5 6 10 2zM1978 1483l0 5 -4 0 -5 -1 -1 -1 -3 -5 3 -2 7 -3 4 1zM2051 1468l6 4 0 1 -16 0 -11 -1 -8 -4 -6 -2 2 -2 -1 -4 12 1 10 1 8 2 10 3zM2166 1460l6 1 2 4 -19 5 -13 1 -9 -1 -4 -1 4 -2 10 -4 -5 -2 12 -2 16 -6 -3 6zM2146 1483l-2 9 -1 11 -1 1 -3 1 -2 -12 0 -16 2 -3 2 0 3 -4 3 4zM2155 1505l-7 7 -5 5 -6 -4 -2 -2 -9 -1 5 -6 -2 -6 11 -2 3 -2 8 6zM2088 1352l-6 0 -4 1 -10 -3 -7 -2 -4 -3 -7 -3 9 1 2 -4 10 6 12 2 10 4zM2080 1354l-2 3 -5 2 -3 -5 2 -3 6 -1zM2116 1346l-3 3 -3 1 -4 -2 -2 -4 5 -6 7 4zM2103 1507l-1 5 -8 -1 -4 0 -6 -4 4 -3 -1 -4 7 -3 2 7zM2112 1478l0 6 -4 4 -5 -2 1 -10 4 -5 2 5zM1986 1511l3 4 -10 -3 -3 -2 -7 -3 7 -2 5 0 12 2zM2198 1559l1 4 -5 0 -1 -2 -1 -4 2 -1 4 2zM2123 1208l-2 4 -2 -1 -1 -2 1 -4 2 1zM2229 1216l0 2 -8 -1 0 -2 1 -1 5 -1zM2254 1248l1 4 -4 -2 -2 -3 2 -3 2 -1zM2228 1248l-3 2 -3 -1 1 -2 3 0zM2064 1594l-4 2 -3 4 -7 -5 1 -3 3 -2 6 2zM2238 1443l-3 2 -4 1 -2 -2 3 -3 4 1zM2162 1473l-2 4 -1 -3 -1 -2 3 -1zM2000 1391l-2 3 -2 0 -2 -4 2 -3 3 1zM2200 1492l-2 4 -3 -2 -4 -1 3 -4 3 0zM2119 1277l-3 2 -4 -1 0 -2 3 0zM2311 1282l-4 3 -2 -1 0 -3 2 -1zM2338 1303l-4 1 -3 1 0 -3 3 -2zM2331 1402l-3 0 -3 0 1 -2 2 -2zM2193 1408l-2 3 -1 -1 -1 -3 3 1zM2253 1349l-1 2 -2 1 0 -4 2 -1zM2012 1253l-1 3 -2 -2 -1 -3 3 0zM1957 1258l-1 1 -4 0 1 -2 4 -1zM2106 1568l-3 2 -3 0 -1 -3 3 -1zM2044 1538l-2 1 -3 -1 0 -2 3 -1zM2164 1553l-2 2 -2 -1 -1 -2 5 -2zM2180 1507l-3 4 -4 -1 -2 -2 1 -3 4 1zM2100 1330l-1 2 -1 -2 -1 -2 2 0zM2128 1227l-1 2 -1 -1 -1 -2 2 -1zM2270 1219l-3 2 -3 0 1 -4 3 -1zM2184 1539l-1 2 -6 -1 1 -2 6 1z" fill="#f00"/>
<path d="M2050 1251h4M2251 1264h3M1938 1374h2M2273 1076h3M2164 1073h3M1475 1206h3M1367 1006h3M2021 1311h4M1966 870h2M1487 1298h3M2294 1238h4M2255 1250h4M1299 990h2M2181 1581h4M1575 936h4M1660 1487h2M1539 988h2M2334 1249h2M1636 1511h3M1541 855h2M1401 1441h4M1834 1510h2M1975 1358h4M1878 1336h2M1831 1584h3M1777 872h2M1433 1511h2M1353 1415h2M1673 1100h3M2305 869h2M1258 1081h2M2171 1355h3M1520 906h3M1866 1141h2M1781 1519h2M1423 1354h2M1357 983h2M2260 1035h3M2191 864h3M2105 864h2M2119 1129h3M1806 1586h3M2198 943h4M1414 902h3M1567 1255h2M1301 1371h2M1614 827h2M2153 947h3M1799 1346h3M1743 1335h2M1430 1358h3M2305 1493h4M1594 1023h3M1634 1242h2M1942 1071h2M2179 1411h3M1551 1061h4M2079 1547h3M1519 1509h2M1927 1426h3M2282 1379h4M2305 1148h3M1318 833h2M1376 1255h4M2204 884h3M1535 1106h3M1796 1489h4M1990 1313h2M1730 1534h2M1829 1430h3M2332 1383h2M2013 1329h2M2247 1577h3M1501 870h3M1963 1010h3M1207 1446h3M1875 1171h3M1345 1281h3M1878 941h3M1767 1013h2M2113 1259h2M2116 999h2M2057 1449h4M2257 1121h2M2233 822h4M2026 1144h4M2153 1180h3M1382 1230h3M1790 1193h3M1279 1248h3M2282 1338h2M1899 1264h2M2068 982h3M1216 1439h3M1968 882h3M1853 1320h3M1569 1457h2M2233 1592h3M2091 1494h3M2330 1251h2M2136 842h2M1425 1132h4M1484 1351h3M1504 1359h2M2100 874h2M1348 1533h3M2316 941h4M1791 1107h2M2219 1047h2M1901 969h3M1394 985h2M1406 1443h3M2198 937h3M1921 1240h4M2038 975h3M1368 1152h2M1793 1146h3M2294 1225h3M2070 1299h2M1549 1417h3M1672 1181h3M1333 1010h3M2078 1409h3M2043 982h2M2153 1574h4M2195 1358h2M1619 1086h2M1339 981h3M1206 1083h3M1238 1269h2M1255 1542h2M1511 1363h4M1355 1363h3M2099 1449h3M1235 1249h2M1438 1583h2M1240 1536h2M1894 1447h3M1855 1431h2M2159 1284h3M1814 963h2M2163 1229h2M1613 828h3M1739 1079h3M1598 1390h3M2200 1383h2M1410 1369h4M2308 1242h4M1207 1364h3M1712 1577h3M1891 936h2M1240 1297h4M2028 1102h2M2215 1457h2M1791 960h4M1703 852h2M1862 1032h2M1433 1379h3M1722 1397h4M1289 1222h3M2065 928h3M1699 1270h3M1889 840h2M1385 1365h2M2160 1339h4M1440 1143h4M1258 1284h2M1994 1116h4M1436 1077h4M2101 1521h2M1312 1444h3M1752 1559h2M1614 1075h3M1563 1240h3M1203 1269h2M1848 1429h2M1797 947h4M1798 1501h3M2072 893h3M1895 1375h2M1754 1278h2M1590 1500h2M1400 1537h3M1795 1185h3M1621 1118h2M1501 1294h4M1710 1056h4M1449 1007h2M1924 928h2M1685 1556h3M1948 880h2M1944 1124h3M1653 1287h3M2098 1056h4M1470 1493h2M1902 1216h2M1525 1459h3M1804 994h2M1854 1288h2M1959 859h2M1729 1170h3M1540 1377h3M1643 973h3M2199 973h2M1348 1597h3M1459 1032h2M1414 1414h4M1783 1348h4M1867 1132h2M1763 1216h3M1263 1440h3M1859 921h3M1436 987h3M1844 1032h3M1787 1255h2M1653 1252h4M1889 1550h2M1537 1426h2M2295 866h2M1347 1395h4M1536 1053h4M2119 1456h3M1499 1517h4M1887 885h3M1830 1347h3M2087 1044h4M1674 832h3M1477 1277h3M2289 1423h2M1654 1231h4M1264 1521h3M2119 1010h2M1847 940h2M1336 1063h3M1223 1253h2M1698 1315h2M1360 1138h3M1415 1137h3M1776 1374h3M1501 1288h2M1694 1397h3M1293 904h2M1879 1026h3M1937 1206h4M1293 1300h3M1381 1522h4M2144 1373h2M1292 1409h4M1349 1215h3M1497 1417h3M1723 884h4M1996 1193h2M1746 1080h3M1590 1132h4M1871 1395h2M1301 1072h2M1337 919h2M1586 1490h3M2103 851h4M1902 1198h4" fill="none" stroke="#f00" stroke-width="2.5" stroke-linecap="butt"/>
</g>
<rect x="27.00" y="28.00" width="166.00" height="110.30" fill="#d9d9d9"/>
<text font-weight="bold" fill="#000"><tspan x="54.24" y="102.80" font-size="81.43" textLength="34.14" lengthAdjust="spacingAndGlyphs">(</tspan><tspan x="87.84" y="104.99" font-size="91.04" textLength="43.98" lengthAdjust="spacingAndGlyphs">a</tspan><tspan x="129.14" y="102.80" font-size="81.43" textLength="36.47" lengthAdjust="spacingAndGlyphs">)</tspan></text>
<rect x="1191.20" y="28.00" width="159.60" height="110.00" fill="#d9d9d9"/>
<text font-weight="bold" fill="#000"><tspan x="1220.44" y="102.70" font-size="81.43" textLength="34.14" lengthAdjust="spacingAndGlyphs">(</tspan><tspan x="1253.63" y="105.08" font-size="82.27" textLength="52.02" lengthAdjust="spacingAndGlyphs">b</tspan><tspan x="1299.60" y="102.70" font-size="81.43" textLength="35.82" lengthAdjust="spacingAndGlyphs">)</tspan></text>
<rect x="27.00" y="821.50" width="158.20" height="111.30" fill="#d9d9d9"/>
<text font-weight="bold" fill="#000"><tspan x="54.24" y="897.00" font-size="81.87" textLength="34.14" lengthAdjust="spacingAndGlyphs">(</tspan><tspan x="86.45" y="899.88" font-size="91.87" textLength="42.43" lengthAdjust="spacingAndGlyphs">c</tspan><tspan x="123.52" y="897.00" font-size="81.87" textLength="35.69" lengthAdjust="spacingAndGlyphs">)</tspan></text>
<rect x="1191.30" y="821.00" width="159.70" height="110.50" fill="#d9d9d9"/>
<text font-weight="bold" fill="#000"><tspan x="1220.44" y="897.00" font-size="81.87" textLength="34.14" lengthAdjust="spacingAndGlyphs">(</tspan><tspan x="1252.95" y="899.08" font-size="82.27" textLength="50.77" lengthAdjust="spacingAndGlyphs">d</tspan><tspan x="1299.60" y="897.00" font-size="81.87" textLength="35.82" lengthAdjust="spacingAndGlyphs">)</tspan></text>
<rect x="648.80" y="28.00" width="525.20" height="232.00" fill="#fff"/>
<rect x="661.90" y="39.50" width="195.10" height="62.00" fill="#0000ff"/>
<rect x="661.90" y="111.50" width="195.10" height="61.30" fill="#ffff00"/>
<rect x="661.90" y="185.80" width="195.10" height="61.20" fill="#ff0000"/>
<text transform="translate(883.68 80.90) scale(0.4679 0.4076)" font-size="100" font-weight="bold" fill="#000">Recrystallized</text>
<text transform="translate(875.34 157.60) scale(0.4677 0.3940)" font-size="100" font-weight="bold" fill="#000">Substructured</text>
<text transform="translate(876.19 235.80) scale(0.4655 0.3893)" font-size="100" font-weight="bold" fill="#000">Deformed</text>
<rect x="1399.30" y="825.80" width="941.70" height="52.40" fill="#fff"/>
<rect x="1408.10" y="833.60" width="87.20" height="39.20" fill="#0000ff" stroke="#111" stroke-width="2.2"/>
<rect x="1744.00" y="833.60" width="86.10" height="39.20" fill="#ffff00" stroke="#111" stroke-width="2.2"/>
<rect x="2080.20" y="833.60" width="87.70" height="39.20" fill="#ff0000" stroke="#111" stroke-width="2.2"/>
<text fill="#1a1a1a"><tspan x="1506.73" y="865.30" font-size="38.00" textLength="83.96" lengthAdjust="spacingAndGlyphs">Recry</tspan><tspan x="1601.66" y="865.30" font-size="38.00" textLength="128.61" lengthAdjust="spacingAndGlyphs">stallized</tspan></text>
<text transform="translate(1839.74 865.30) scale(0.3936 0.3758)" font-size="100" fill="#1a1a1a">Substructured</text>
<text transform="translate(2177.43 865.30) scale(0.3898 0.3802)" font-size="100" fill="#1a1a1a">Deformed</text>
<rect x="54.70" y="768.70" width="306.30" height="13.60" fill="#000"/>
<text transform="translate(106.93 747.60) scale(0.6591 0.6098)" font-size="100" font-weight="bold" fill="#000">300μm</text>
<rect x="1214.70" y="768.70" width="305.80" height="13.60" fill="#000"/>
<text transform="translate(1265.12 747.60) scale(0.6615 0.6098)" font-size="100" font-weight="bold" fill="#000">300μm</text>
<rect x="43.50" y="1562.20" width="305.40" height="13.20" fill="#000"/>
<text transform="translate(94.62 1539.90) scale(0.6615 0.5826)" font-size="100" font-weight="bold" fill="#000">300μm</text>
<rect x="1214.70" y="1566.00" width="305.10" height="14.10" fill="#fff"/>
<text transform="translate(1265.83 1546.00) scale(0.6591 0.6068)" font-size="100" font-weight="bold" fill="#fff">300μm</text>
<rect x="24.8" y="1632.5" width="2318.4" height="1040.3" fill="#fff" stroke="#c6c6c6" stroke-width="3.4"/>
<line x1="260" y1="1888.0" x2="2295" y2="1888.0" stroke="#c9c9c9" stroke-width="1.5" stroke-dasharray="3 2.2"/>
<rect x="253.00" y="1886.00" width="6.60" height="4.00" fill="#000"/>
<line x1="260" y1="2106.5" x2="2295" y2="2106.5" stroke="#c9c9c9" stroke-width="1.5" stroke-dasharray="3 2.2"/>
<rect x="253.00" y="2104.50" width="6.60" height="4.00" fill="#000"/>
<line x1="260" y1="2323.3" x2="2295" y2="2323.3" stroke="#c9c9c9" stroke-width="1.5" stroke-dasharray="3 2.2"/>
<rect x="253.00" y="2321.30" width="6.60" height="4.00" fill="#000"/>
<rect x="250.50" y="1692.90" width="806.52" height="43.20" fill="#00ff00" stroke="#0a0a0a" stroke-width="2.3"/>
<rect x="250.50" y="1736.10" width="225.56" height="43.20" fill="#ff0000" stroke="#0a0a0a" stroke-width="2.3"/>
<rect x="250.50" y="1779.30" width="538.52" height="43.20" fill="#ffff00" stroke="#0a0a0a" stroke-width="2.3"/>
<rect x="250.50" y="1822.50" width="1281.64" height="43.20" fill="#0000ff" stroke="#0a0a0a" stroke-width="2.3"/>
<text transform="translate(1069.52 1725.20) scale(0.3708 0.3280)" font-size="100" fill="#111">41.85</text>
<text transform="translate(488.56 1768.40) scale(0.3600 0.3280)" font-size="100" fill="#111">4.35</text>
<text transform="translate(801.52 1811.60) scale(0.3708 0.3280)" font-size="100" fill="#111">10.38</text>
<text transform="translate(1544.64 1854.80) scale(0.3708 0.3280)" font-size="100" fill="#111">85.27</text>
<rect x="250.50" y="1910.35" width="6.03" height="43.65" fill="#00ff00" stroke="#0a0a0a" stroke-width="2.3"/>
<rect x="250.50" y="1954.00" width="1949.32" height="43.65" fill="#ff0000" stroke="#0a0a0a" stroke-width="2.3"/>
<rect x="250.50" y="1997.65" width="14.33" height="43.65" fill="#ffff00" stroke="#0a0a0a" stroke-width="2.3"/>
<rect x="250.50" y="2041.30" width="83.88" height="43.65" fill="#0000ff" stroke="#0a0a0a" stroke-width="2.3"/>
<text transform="translate(269.03 1942.08) scale(0.3600 0.3280)" font-size="100" fill="#111">0.12</text>
<text transform="translate(2212.32 1985.73) scale(0.3708 0.3280)" font-size="100" fill="#111">98.11</text>
<text transform="translate(277.33 2029.38) scale(0.3600 0.3280)" font-size="100" fill="#111">0.28</text>
<text transform="translate(346.88 2073.03) scale(0.3600 0.3280)" font-size="100" fill="#111">1.62</text>
<rect x="250.50" y="2127.80" width="5.51" height="43.65" fill="#00ff00" stroke="#0a0a0a" stroke-width="2.3"/>
<rect x="250.50" y="2171.45" width="1871.32" height="43.65" fill="#ff0000" stroke="#0a0a0a" stroke-width="2.3"/>
<rect x="250.50" y="2215.10" width="31.98" height="43.65" fill="#ffff00" stroke="#0a0a0a" stroke-width="2.3"/>
<rect x="250.50" y="2258.75" width="143.56" height="43.65" fill="#0000ff" stroke="#0a0a0a" stroke-width="2.3"/>
<text transform="translate(268.51 2159.93) scale(0.3600 0.3280)" font-size="100" fill="#111">0.11</text>
<text transform="translate(2134.32 2203.58) scale(0.3708 0.3280)" font-size="100" fill="#111">96.61</text>
<text transform="translate(294.98 2247.23) scale(0.3600 0.3280)" font-size="100" fill="#111">0.62</text>
<text transform="translate(406.56 2290.88) scale(0.3600 0.3280)" font-size="100" fill="#111">2.77</text>
<rect x="250.50" y="2345.25" width="6.55" height="43.65" fill="#00ff00" stroke="#0a0a0a" stroke-width="2.3"/>
<rect x="250.50" y="2388.90" width="1908.76" height="43.65" fill="#ff0000" stroke="#0a0a0a" stroke-width="2.3"/>
<rect x="250.50" y="2432.55" width="35.09" height="43.65" fill="#ffff00" stroke="#0a0a0a" stroke-width="2.3"/>
<rect x="250.50" y="2476.20" width="103.08" height="43.65" fill="#0000ff" stroke="#0a0a0a" stroke-width="2.3"/>
<text transform="translate(269.55 2377.97) scale(0.3600 0.3280)" font-size="100" fill="#111">0.13</text>
<text transform="translate(2171.76 2421.62) scale(0.3708 0.3280)" font-size="100" fill="#111">97.33</text>
<text transform="translate(298.09 2465.28) scale(0.3600 0.3280)" font-size="100" fill="#111">0.68</text>
<text transform="translate(366.08 2508.92) scale(0.3600 0.3280)" font-size="100" fill="#111">1.99</text>
<rect x="926.30" y="1675.00" width="34.90" height="861.00" fill="#fff"/>
<rect x="1221.00" y="1675.00" width="36.20" height="861.00" fill="#fff"/>
<rect x="248.00" y="1668.00" width="5.00" height="875.60" fill="#000"/>
<rect x="2295.30" y="1668.00" width="5.40" height="875.60" fill="#000"/>
<rect x="250.50" y="1668.30" width="676.00" height="4.00" fill="#000"/>
<rect x="962.00" y="1668.30" width="260.30" height="4.00" fill="#000"/>
<rect x="1257.50" y="1668.30" width="1040.50" height="4.00" fill="#000"/>
<rect x="250.50" y="2539.05" width="676.00" height="4.50" fill="#000"/>
<rect x="962.00" y="2539.05" width="260.30" height="4.50" fill="#000"/>
<rect x="1257.50" y="2539.05" width="1040.50" height="4.50" fill="#000"/>
<line x1="908.5" y1="1687.4" x2="944.5" y2="1653.4" stroke="#000" stroke-width="4.2"/>
<line x1="944.0" y1="1687.4" x2="980.0" y2="1653.4" stroke="#000" stroke-width="4.2"/>
<line x1="1204.3" y1="1687.4" x2="1240.3" y2="1653.4" stroke="#000" stroke-width="4.2"/>
<line x1="1239.2" y1="1687.4" x2="1275.2" y2="1653.4" stroke="#000" stroke-width="4.2"/>
<line x1="908.0" y1="2558.0" x2="943.6" y2="2525.4" stroke="#000" stroke-width="4.2"/>
<line x1="943.6" y1="2558.0" x2="979.2" y2="2525.4" stroke="#000" stroke-width="4.2"/>
<line x1="1204.2" y1="2558.0" x2="1239.8" y2="2525.4" stroke="#000" stroke-width="4.2"/>
<line x1="1239.8" y1="2558.0" x2="1275.4" y2="2525.4" stroke="#000" stroke-width="4.2"/>
<rect x="507.30" y="2523.60" width="5.00" height="17.70" fill="#000"/>
<rect x="766.80" y="2523.60" width="5.00" height="17.70" fill="#000"/>
<rect x="958.50" y="2523.60" width="5.00" height="17.70" fill="#000"/>
<rect x="1255.60" y="2523.60" width="5.00" height="17.70" fill="#000"/>
<rect x="1515.60" y="2523.60" width="5.00" height="17.70" fill="#000"/>
<rect x="1775.60" y="2523.60" width="5.00" height="17.70" fill="#000"/>
<rect x="2035.60" y="2523.60" width="5.00" height="17.70" fill="#000"/>
<rect x="378.05" y="2532.30" width="4.00" height="9.00" fill="#000"/>
<rect x="637.55" y="2532.30" width="4.00" height="9.00" fill="#000"/>
<rect x="897.05" y="2532.30" width="4.00" height="9.00" fill="#000"/>
<rect x="1088.75" y="2532.30" width="4.00" height="9.00" fill="#000"/>
<rect x="1386.10" y="2532.30" width="4.00" height="9.00" fill="#000"/>
<rect x="1646.10" y="2532.30" width="4.00" height="9.00" fill="#000"/>
<rect x="1906.10" y="2532.30" width="4.00" height="9.00" fill="#000"/>
<rect x="2166.10" y="2532.30" width="4.00" height="9.00" fill="#000"/>
<text transform="translate(249.70 2596.10) scale(0.4960 0.4620)" font-size="100" fill="#111" text-anchor="middle">0</text>
<text transform="translate(509.20 2596.10) scale(0.4960 0.4620)" font-size="100" fill="#111" text-anchor="middle">5</text>
<text transform="translate(768.70 2596.10) scale(0.4960 0.4620)" font-size="100" fill="#111" text-anchor="middle">10</text>
<text transform="translate(960.40 2596.10) scale(0.4960 0.4620)" font-size="100" fill="#111" text-anchor="middle">40</text>
<text transform="translate(1257.50 2596.10) scale(0.4960 0.4620)" font-size="100" fill="#111" text-anchor="middle">80</text>
<text transform="translate(1517.50 2596.10) scale(0.4960 0.4620)" font-size="100" fill="#111" text-anchor="middle">85</text>
<text transform="translate(1777.50 2596.10) scale(0.4960 0.4620)" font-size="100" fill="#111" text-anchor="middle">90</text>
<text transform="translate(2037.50 2596.10) scale(0.4960 0.4620)" font-size="100" fill="#111" text-anchor="middle">95</text>
<text transform="translate(2297.50 2596.10) scale(0.4960 0.4620)" font-size="100" fill="#111" text-anchor="middle">100</text>
<text transform="translate(104.18 1802.80) scale(0.4746 0.4286)" font-size="100" fill="#111">600 °C</text>
<text transform="translate(105.86 2012.60) scale(0.4696 0.4150)" font-size="100" fill="#111">450 °C</text>
<text transform="translate(104.24 2225.70) scale(0.4755 0.4241)" font-size="100" fill="#111">300 °C</text>
<text transform="translate(128.88 2445.10) scale(0.4748 0.4286)" font-size="100" fill="#111">25 °C</text>
<text transform="translate(1031.09 2651.00) scale(0.6585 0.5893)" font-size="100" fill="#111">Percentage (%)</text>
<text transform="translate(86.30 2309.83) rotate(-90) scale(0.5894 0.6885)" font-size="100" fill="#111">Temperature (°C)</text>
<text font-weight="bold" fill="#000"><tspan x="53.66" y="1714.80" font-size="81.43" textLength="34.79" lengthAdjust="spacingAndGlyphs">(</tspan><tspan x="86.41" y="1717.69" font-size="91.25" textLength="43.05" lengthAdjust="spacingAndGlyphs">e</tspan><tspan x="123.44" y="1714.80" font-size="81.43" textLength="36.47" lengthAdjust="spacingAndGlyphs">)</tspan></text>
<rect x="784.00" y="2474.00" width="102.70" height="45.20" fill="#0000ff" stroke="#111" stroke-width="2.4"/>
<rect x="1181.40" y="2474.00" width="103.10" height="45.20" fill="#ffff00" stroke="#111" stroke-width="2.4"/>
<rect x="1580.80" y="2474.00" width="104.70" height="45.20" fill="#ff0000" stroke="#111" stroke-width="2.4"/>
<rect x="1910.60" y="2474.00" width="103.70" height="45.20" fill="#00ff00" stroke="#111" stroke-width="2.4"/>
<text fill="#111"><tspan x="899.58" y="2510.30" font-size="41.80" textLength="105.84" lengthAdjust="spacingAndGlyphs">Recry</tspan><tspan x="1011.45" y="2510.30" font-size="41.80" textLength="154.32" lengthAdjust="spacingAndGlyphs">stallized</tspan></text>
<text transform="translate(1295.84 2510.30) scale(0.4678 0.4136)" font-size="100" fill="#111">Substructured</text>
<text transform="translate(1695.52 2510.30) scale(0.4670 0.4183)" font-size="100" fill="#111">Deformed</text>
<text transform="translate(2028.98 2510.30) scale(0.4680 0.4183)" font-size="100" fill="#111">Twinned</text>
</svg>
</body></html>
